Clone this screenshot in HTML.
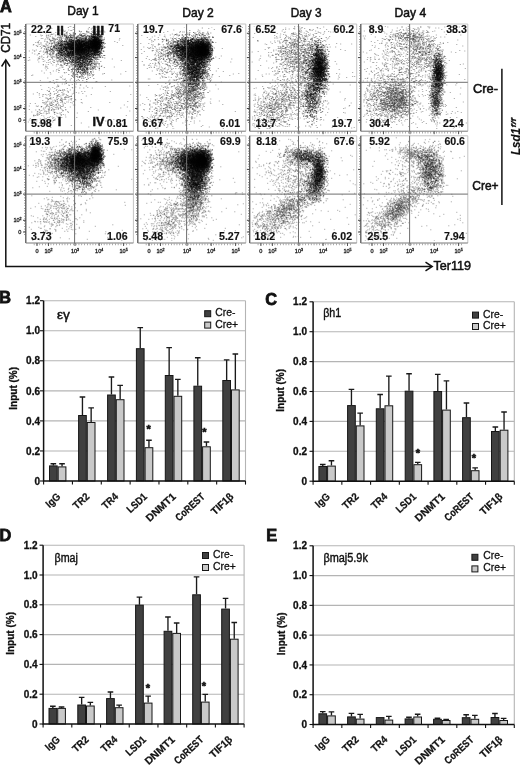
<!DOCTYPE html>
<html><head><meta charset="utf-8"><title>Figure</title>
<style>html,body{margin:0;padding:0;background:#fff}body{width:520px;height:766px;overflow:hidden;font-family:"Liberation Sans", sans-serif}svg{display:block}</style>
</head><body>
<svg width="520" height="766" viewBox="0 0 520 766" font-family='"Liberation Sans", sans-serif' fill="#111"><defs><filter id="b" x="-50%" y="-50%" width="200%" height="200%"><feGaussianBlur stdDeviation="1.6"/></filter><filter id="s" x="0" y="0" width="100%" height="100%"><feGaussianBlur stdDeviation=".38"/></filter></defs>
<g transform="translate(25.8 24.0)">
<ellipse cx="57" cy="22" rx="13" ry="5.5" fill="#000" opacity="0.55" filter="url(#b)"/>
<ellipse cx="69.5" cy="19.5" rx="4.5" ry="6" fill="#000" opacity="0.7" filter="url(#b)"/>
<g filter="url(#s)"><g transform="scale(.5)" fill="none" stroke="#000" stroke-width="2" stroke-opacity=".46">
<path d="M0 6m140 0h2M0 7m84 0h2M0 10m130 0h2M0 13m137 0h2m3 0h2M0 14m121 0h2M0 15m131 0h2M0 16m121 0h2m12 0h2m0 0h2M0 17m136 0h2m5 0h2M0 18m137 0h2m0 0h2M0 19m65 0h2m20 0h2m9 0h2M0 20m63 0h2m12 0h2m55 0h2m7 0h2M0 21m88 0h2m44 0h2M0 22m76 0h2m13 0h2m45 0h2m3 0h2m0 0h2M0 23m86 0h2m22 0h2m12 0h2m8 0h2m8 0h2M0 24m72 0h2m18 0h2m0 0h2m6 0h2m5 0h2m0 0h2m10 0h2m5 0h2m-1 0h2m1 0h2M0 25m72 0h2m31 0h2m5 0h2m17 0h2m2 0h2m2 0h2m4 0h2m0 0h2M0 26m80 0h2m13 0h2m5 0h2m25 0h2m2 0h2m0 0h2m-1 0h2m0 0h2m3 0h2m2 0h2m-1 0h2M0 27m69 0h2m13 0h2m7 0h2m4 0h2m-1 0h2m2 0h2m1 0h2m1 0h2m15 0h2m2 0h2m0 0h2m0 0h2m0 0h2m-1 0h2m0 0h2m5 0h2M0 28m66 0h2m48 0h2m12 0h2m4 0h2m-1 0h2m2 0h2m9 0h2m2 0h2M0 29m106 0h2m6 0h2m3 0h2m10 0h2m9 0h2m0 0h2m-1 0h2M0 30m69 0h2m12 0h2m0 0h2m8 0h2m7 0h2m14 0h2m2 0h2m0 0h2m1 0h2m2 0h2m5 0h2m8 0h2M0 31m89 0h2m-1 0h2m11 0h2m-1 0h2m3 0h2m4 0h2m2 0h2m2 0h2m3 0h2m4 0h2m-1 0h2m1 0h2m1 0h2m6 0h2M0 32m88 0h2m5 0h2m15 0h2m6 0h2m4 0h2m7 0h2m0 0h2m1 0h2m3 0h2m3 0h2m3 0h2M0 33m69 0h2m24 0h2m-1 0h2m3 0h2m4 0h2m10 0h2m0 0h2m2 0h2m0 0h2m0 0h2m1 0h2m0 0h2m1 0h2m1 0h2m-1 0h2m2 0h2m-1 0h2m-1 0h2M0 34m49 0h2m17 0h2m6 0h2m1 0h2m3 0h2m0 0h2m6 0h2m0 0h2m0 0h2m1 0h2m0 0h2m-1 0h2m-1 0h2m-1 0h2m14 0h2m-1 0h2m0 0h2m2 0h2m2 0h2m-1 0h2m0 0h2m0 0h2M0 35m71 0h2m7 0h2m8 0h2m3 0h2m-1 0h2m5 0h2m1 0h2m-1 0h2m1 0h2m-1 0h2m-1 0h2m-1 0h2m0 0h2m1 0h2m6 0h2m0 0h2m2 0h2m0 0h2m-1 0h2m-1 0h2m-1 0h2m-1 0h2m-1 0h2m-1 0h2m0 0h2m1 0h2M0 36m82 0h2m5 0h2m1 0h2m-1 0h2m3 0h2m1 0h2m0 0h2m-1 0h2m-1 0h2m7 0h2m8 0h2m2 0h2m-1 0h2m0 0h2m4 0h2m1 0h2m-1 0h2m-1 0h2m2 0h2M0 37m89 0h2m0 0h2m0 0h2m-1 0h2m9 0h2m2 0h2m14 0h2m1 0h2m-1 0h2m1 0h2m-1 0h2m1 0h2m-1 0h2m3 0h2m-1 0h2m-1 0h2m-1 0h2m-1 0h2m-1 0h2m-1 0h2m1 0h2M0 38m65 0h2m4 0h2m20 0h2m3 0h2m1 0h2m2 0h2m-1 0h2m0 0h2m6 0h2m-1 0h2m5 0h2m3 0h2m-1 0h2m-1 0h2m1 0h2m-1 0h2m-1 0h2m-1 0h2m0 0h2m-1 0h2m3 0h2m-1 0h2m2 0h2m3 0h2M0 39m52 0h2m10 0h2m0 0h2m11 0h2m2 0h2m15 0h2m-1 0h2m0 0h2m-1 0h2m-1 0h2m-1 0h2m-1 0h2m0 0h2m-1 0h2m3 0h2m0 0h2m3 0h2m0 0h2m0 0h2m-1 0h2m-1 0h2m1 0h2m-1 0h2m0 0h2m-1 0h2m-1 0h2m0 0h2m0 0h2m-1 0h2m-1 0h2m-1 0h2m0 0h2m-1 0h2m-1 0h2m1 0h2m6 0h2M0 40m74 0h2m3 0h2m-1 0h2m-1 0h2m0 0h2m1 0h2m0 0h2m1 0h2m-1 0h2m-1 0h2m-1 0h2m-1 0h2m3 0h2m-1 0h2m0 0h2m1 0h2m0 0h2m0 0h2m2 0h2m-1 0h2m0 0h2m0 0h2m1 0h2m0 0h2m-1 0h2m0 0h2m-1 0h2m-1 0h2m0 0h2m0 0h2m-1 0h2m-1 0h2m-1 0h2m-1 0h2m-1 0h2m-1 0h2m0 0h2m-1 0h2m0 0h2m-1 0h2m-1 0h2M0 41m69 0h2m5 0h2m2 0h2m1 0h2m-1 0h2m2 0h2m5 0h2m1 0h2m-1 0h2m-1 0h2m0 0h2m0 0h2m1 0h2m4 0h2m10 0h2m-1 0h2m0 0h2m-1 0h2m0 0h2m-1 0h2m2 0h2m-1 0h2m-1 0h2m-1 0h2m-1 0h2m0 0h2m0 0h2m1 0h2m-1 0h2m-1 0h2m1 0h2M0 42m62 0h2m0 0h2m1 0h2m-1 0h2m0 0h2m-1 0h2m-1 0h2m-1 0h2m2 0h2m5 0h2m7 0h2m4 0h2m2 0h2m2 0h2m1 0h2m4 0h2m2 0h2m2 0h2m0 0h2m3 0h2m1 0h2m-1 0h2m-1 0h2m0 0h2m-1 0h2m-1 0h2m-1 0h2m1 0h2m0 0h2M0 43m67 0h2m-1 0h2m2 0h2m0 0h2m3 0h2m0 0h2m-1 0h2m3 0h2m2 0h2m8 0h2m0 0h2m0 0h2m-1 0h2m1 0h2m-1 0h2m-1 0h2m-1 0h2m1 0h2m2 0h2m6 0h2m5 0h2m-1 0h2m-1 0h2m-1 0h2m-1 0h2m-1 0h2m1 0h2m-1 0h2m3 0h2m-1 0h2M0 44m58 0h2m6 0h2m16 0h2m-1 0h2m3 0h2m-1 0h2m2 0h2m4 0h2m-1 0h2m-1 0h2m4 0h2m2 0h2m-1 0h2m4 0h2m1 0h2m-1 0h2m4 0h2m-1 0h2m-1 0h2m-1 0h2m0 0h2m0 0h2m-1 0h2m-1 0h2m-1 0h2m0 0h2m0 0h2m0 0h2m-1 0h2m-1 0h2m4 0h2M0 45m55 0h2m14 0h2m2 0h2m9 0h2m0 0h2m-1 0h2m1 0h2m2 0h2m-1 0h2m3 0h2m0 0h2m0 0h2m2 0h2m0 0h2m2 0h2m0 0h2m1 0h2m-1 0h2m2 0h2m3 0h2m-1 0h2m-1 0h2m1 0h2m-1 0h2m-1 0h2m0 0h2m2 0h2m4 0h2m-1 0h2M0 46m74 0h2m-1 0h2m-1 0h2m-1 0h2m0 0h2m3 0h2m-1 0h2m1 0h2m-1 0h2m-1 0h2m0 0h2m-1 0h2m2 0h2m4 0h2m3 0h2m-1 0h2m-1 0h2m-1 0h2m-1 0h2m-1 0h2m-1 0h2m-1 0h2m1 0h2m0 0h2m0 0h2m0 0h2m-1 0h2m1 0h2m0 0h2m1 0h2m1 0h2m1 0h2m-1 0h2m-1 0h2m0 0h2m0 0h2m-1 0h2m2 0h2m0 0h2m2 0h2M0 47m54 0h2m9 0h2m5 0h2m1 0h2m4 0h2m3 0h2m-1 0h2m-1 0h2m-1 0h2m3 0h2m3 0h2m-1 0h2m-1 0h2m0 0h2m-1 0h2m1 0h2m-1 0h2m2 0h2m4 0h2m1 0h2m-1 0h2m2 0h2m1 0h2m-1 0h2m-1 0h2m-1 0h2m1 0h2m3 0h2m-1 0h2m-1 0h2m-1 0h2m-1 0h2m0 0h2M0 48m55 0h2m4 0h2m3 0h2m9 0h2m-1 0h2m1 0h2m6 0h2m0 0h2m-1 0h2m0 0h2m6 0h2m1 0h2m-1 0h2m-1 0h2m-1 0h2m6 0h2m0 0h2m0 0h2m1 0h2m-1 0h2m-1 0h2m1 0h2m0 0h2m-1 0h2m0 0h2m-1 0h2m1 0h2m-1 0h2m1 0h2m3 0h2M0 49m53 0h2m9 0h2m3 0h2m3 0h2m3 0h2m10 0h2m0 0h2m0 0h2m0 0h2m-1 0h2m4 0h2m0 0h2m-1 0h2m-1 0h2m0 0h2m-1 0h2m-1 0h2m-1 0h2m0 0h2m2 0h2m0 0h2m0 0h2m0 0h2m0 0h2m2 0h2m-1 0h2m1 0h2m-1 0h2m-1 0h2m-1 0h2m-1 0h2m-1 0h2m0 0h2m0 0h2m0 0h2m2 0h2m0 0h2M0 50m59 0h2m-1 0h2m2 0h2m5 0h2m7 0h2m2 0h2m-1 0h2m0 0h2m-1 0h2m1 0h2m-1 0h2m-1 0h2m2 0h2m-1 0h2m3 0h2m0 0h2m-1 0h2m-1 0h2m1 0h2m2 0h2m-1 0h2m0 0h2m0 0h2m-1 0h2m-1 0h2m-1 0h2m3 0h2m7 0h2m0 0h2m-1 0h2m0 0h2m-1 0h2m-1 0h2m0 0h2M0 51m74 0h2m-1 0h2m9 0h2m3 0h2m-1 0h2m-1 0h2m0 0h2m0 0h2m-1 0h2m3 0h2m-1 0h2m-1 0h2m-1 0h2m0 0h2m0 0h2m-1 0h2m1 0h2m1 0h2m1 0h2m2 0h2m-1 0h2m6 0h2m2 0h2m0 0h2m-1 0h2m2 0h2m4 0h2M0 52m62 0h2m13 0h2m2 0h2m14 0h2m1 0h2m0 0h2m0 0h2m1 0h2m-1 0h2m0 0h2m-1 0h2m2 0h2m3 0h2m-1 0h2m2 0h2m0 0h2m3 0h2m-1 0h2m-1 0h2m-1 0h2m1 0h2m0 0h2m7 0h2M0 53m70 0h2m-1 0h2m6 0h2m-1 0h2m-1 0h2m8 0h2m1 0h2m1 0h2m0 0h2m0 0h2m-1 0h2m0 0h2m2 0h2m-1 0h2m0 0h2m-1 0h2m0 0h2m1 0h2m4 0h2m7 0h2m0 0h2m0 0h2m0 0h2m6 0h2m2 0h2M0 54m66 0h2m9 0h2m16 0h2m2 0h2m0 0h2m-1 0h2m0 0h2m0 0h2m2 0h2m3 0h2m-1 0h2m1 0h2m-1 0h2m2 0h2m1 0h2m-1 0h2m0 0h2m-1 0h2m5 0h2m8 0h2m-1 0h2m0 0h2M0 55m66 0h2m14 0h2m8 0h2m-1 0h2m1 0h2m2 0h2m0 0h2m1 0h2m-1 0h2m2 0h2m0 0h2m0 0h2m1 0h2m5 0h2m4 0h2m2 0h2m0 0h2m17 0h2M0 56m65 0h2m-1 0h2m0 0h2m3 0h2m-1 0h2m4 0h2m2 0h2m2 0h2m-1 0h2m1 0h2m3 0h2m2 0h2m-1 0h2m-1 0h2m-1 0h2m3 0h2m2 0h2m-1 0h2m3 0h2m1 0h2m-1 0h2m0 0h2m1 0h2m-1 0h2m0 0h2m0 0h2m1 0h2m-1 0h2m0 0h2m-1 0h2m1 0h2m-1 0h2m1 0h2M0 57m69 0h2m0 0h2m0 0h2m10 0h2m2 0h2m1 0h2m2 0h2m-1 0h2m0 0h2m2 0h2m-1 0h2m-1 0h2m1 0h2m-1 0h2m0 0h2m1 0h2m0 0h2m-1 0h2m-1 0h2m0 0h2m-1 0h2m1 0h2m1 0h2m8 0h2m5 0h2M0 58m67 0h2m0 0h2m12 0h2m0 0h2m-1 0h2m1 0h2m2 0h2m0 0h2m6 0h2m-1 0h2m1 0h2m0 0h2m3 0h2m-1 0h2m11 0h2m5 0h2m4 0h2m6 0h2M0 59m61 0h2m1 0h2m11 0h2m-1 0h2m2 0h2m3 0h2m3 0h2m-1 0h2m5 0h2m1 0h2m19 0h2m0 0h2m0 0h2m1 0h2m9 0h2m3 0h2m1 0h2M0 60m70 0h2m5 0h2m-1 0h2m1 0h2m2 0h2m-1 0h2m5 0h2m0 0h2m-1 0h2m0 0h2m0 0h2m0 0h2m1 0h2m-1 0h2m-1 0h2m-1 0h2m1 0h2m1 0h2m1 0h2m4 0h2m6 0h2m-1 0h2m-1 0h2m-1 0h2m1 0h2m7 0h2m0 0h2M0 61m47 0h2m12 0h2m5 0h2m3 0h2m20 0h2m-1 0h2m5 0h2m-1 0h2m1 0h2m0 0h2m2 0h2m0 0h2m0 0h2m2 0h2m-1 0h2m1 0h2m0 0h2m3 0h2m2 0h2m-1 0h2m0 0h2m0 0h2m-1 0h2m-1 0h2m0 0h2m-1 0h2M0 62m49 0h2m15 0h2m2 0h2m2 0h2m1 0h2m2 0h2m-1 0h2m6 0h2m0 0h2m0 0h2m-1 0h2m-1 0h2m3 0h2m-1 0h2m-1 0h2m1 0h2m0 0h2m1 0h2m7 0h2m0 0h2m9 0h2m2 0h2m0 0h2m0 0h2M0 63m71 0h2m5 0h2m3 0h2m-1 0h2m-1 0h2m2 0h2m0 0h2m15 0h2m0 0h2m3 0h2m0 0h2m0 0h2m-1 0h2m0 0h2m7 0h2m1 0h2m3 0h2M0 64m72 0h2m9 0h2m6 0h2m4 0h2m5 0h2m0 0h2m0 0h2m9 0h2m5 0h2m0 0h2m-1 0h2m8 0h2M0 65m43 0h2m16 0h2m4 0h2m0 0h2m6 0h2m0 0h2m9 0h2m-1 0h2m9 0h2m5 0h2m3 0h2m-1 0h2m-1 0h2m-1 0h2m-1 0h2m1 0h2m0 0h2m0 0h2m2 0h2m1 0h2M0 66m51 0h2m25 0h2m6 0h2m-1 0h2m6 0h2m9 0h2m1 0h2m-1 0h2m5 0h2m14 0h2m9 0h2M0 67m83 0h2m2 0h2m0 0h2m3 0h2m-1 0h2m-1 0h2m8 0h2m3 0h2m-1 0h2m3 0h2m0 0h2m4 0h2m0 0h2m5 0h2m-1 0h2m4 0h2m0 0h2m3 0h2M0 68m73 0h2m13 0h2m3 0h2m3 0h2m2 0h2m1 0h2m-1 0h2m4 0h2m-1 0h2m6 0h2m12 0h2M0 69m78 0h2m6 0h2m1 0h2m8 0h2m6 0h2m0 0h2m-1 0h2m0 0h2m7 0h2m3 0h2m0 0h2m6 0h2M0 70m77 0h2m0 0h2m3 0h2m1 0h2m4 0h2m-1 0h2m7 0h2m3 0h2m9 0h2m22 0h2M0 71m75 0h2m12 0h2m-1 0h2m6 0h2m3 0h2m-1 0h2m2 0h2m4 0h2m-1 0h2m8 0h2m5 0h2m4 0h2M0 72m65 0h2m5 0h2m6 0h2m13 0h2m1 0h2m1 0h2m0 0h2m2 0h2m2 0h2m11 0h2m2 0h2m-1 0h2m0 0h2M0 73m85 0h2m4 0h2m2 0h2m2 0h2m7 0h2m-1 0h2m0 0h2m2 0h2m4 0h2m-1 0h2m12 0h2M0 74m82 0h2m3 0h2m13 0h2m8 0h2m15 0h2m2 0h2M0 75m68 0h2m17 0h2m3 0h2m3 0h2m9 0h2m9 0h2m1 0h2M0 76m75 0h2m12 0h2m1 0h2m3 0h2m4 0h2m8 0h2m11 0h2m2 0h2M0 77m91 0h2m-1 0h2m8 0h2m1 0h2m1 0h2m5 0h2m5 0h2m2 0h2M0 78m78 0h2m4 0h2m12 0h2m7 0h2m12 0h2M0 79m96 0h2m1 0h2m7 0h2m0 0h2m-1 0h2m-1 0h2m11 0h2m4 0h2M0 80m76 0h2m4 0h2m28 0h2M0 81m90 0h2m2 0h2m5 0h2m1 0h2m2 0h2m-1 0h2m5 0h2m10 0h2M0 82m105 0h2m5 0h2m2 0h2m1 0h2m2 0h2M0 83m95 0h2m5 0h2m3 0h2m15 0h2M0 84m91 0h2m17 0h2m3 0h2m5 0h2m13 0h2M0 85m99 0h2m1 0h2m3 0h2m8 0h2m16 0h2M0 86m96 0h2m-1 0h2m-1 0h2m1 0h2m4 0h2m-1 0h2m2 0h2m22 0h2m0 0h2M0 87m109 0h2m5 0h2m1 0h2m2 0h2M0 88m105 0h2m13 0h2m5 0h2M0 89m84 0h2m23 0h2m10 0h2m12 0h2M0 90m93 0h2m8 0h2m3 0h2m12 0h2M0 91m99 0h2m2 0h2m3 0h2m5 0h2m0 0h2m2 0h2M0 92m101 0h2m9 0h2m2 0h2m-1 0h2M0 93m86 0h2m4 0h2m17 0h2m-1 0h2m5 0h2M0 94m113 0h2M0 95m100 0h2m3 0h2m9 0h2m11 0h2M0 96m101 0h2m1 0h2m2 0h2m3 0h2m1 0h2m6 0h2m4 0h2M0 97m115 0h2M0 98m94 0h2m16 0h2M0 99m118 0h2m6 0h2M0 100m113 0h2m11 0h2M0 101m102 0h2m6 0h2m7 0h2m2 0h2M0 102m94 0h2m20 0h2M0 104m92 0h2M0 107m118 0h2M0 109m124 0h2m9 0h2M0 113m106 0h2M0 116m139 0h2M0 124m120 0h2"/>
<path d="M0 7m126 0h2m15 0h2M0 10m124 0h2m17 0h2M0 11m142 0h2M0 14m155 0h2M0 15m121 0h2m18 0h2m0 0h2M0 16m122 0h2m14 0h2M0 17m124 0h2m6 0h2m1 0h2M0 18m80 0h2m27 0h2M0 19m130 0h2m11 0h2M0 20m118 0h2m10 0h2m4 0h2m3 0h2M0 21m73 0h2m19 0h2m2 0h2m10 0h2m20 0h2m3 0h2m0 0h2m2 0h2M0 22m66 0h2m4 0h2m15 0h2m5 0h2m20 0h2m11 0h2m2 0h2m3 0h2m8 0h2M0 23m76 0h2m10 0h2m19 0h2m2 0h2m0 0h2m-1 0h2m4 0h2m14 0h2m-1 0h2m4 0h2M0 24m111 0h2m1 0h2m12 0h2m2 0h2m9 0h2m0 0h2m1 0h2m-1 0h2m0 0h2M0 25m115 0h2m2 0h2m-1 0h2m2 0h2m1 0h2m1 0h2m-1 0h2m-1 0h2m0 0h2m0 0h2m8 0h2m4 0h2M0 26m84 0h2m5 0h2m23 0h2m2 0h2m12 0h2m1 0h2m-1 0h2m1 0h2m7 0h2m-1 0h2M0 27m82 0h2m5 0h2m0 0h2m10 0h2m2 0h2m-1 0h2m3 0h2m3 0h2m14 0h2m-1 0h2m1 0h2m-1 0h2m0 0h2m-1 0h2M0 28m86 0h2m3 0h2m26 0h2m-1 0h2m3 0h2m1 0h2m1 0h2m-1 0h2m2 0h2m-1 0h2m2 0h2m7 0h2M0 29m99 0h2m6 0h2m-1 0h2m9 0h2m18 0h2m-1 0h2m1 0h2M0 30m103 0h2m5 0h2m2 0h2m14 0h2m3 0h2m0 0h2m1 0h2m-1 0h2m1 0h2M0 31m81 0h2m19 0h2m1 0h2m16 0h2m1 0h2m2 0h2m1 0h2m2 0h2m0 0h2m-1 0h2m-1 0h2m1 0h2m1 0h2m0 0h2M0 32m67 0h2m13 0h2m2 0h2m2 0h2m2 0h2m8 0h2m0 0h2m1 0h2m8 0h2m1 0h2m4 0h2m4 0h2m-1 0h2m-1 0h2m0 0h2m4 0h2m-1 0h2M0 33m72 0h2m6 0h2m10 0h2m-1 0h2m5 0h2m-1 0h2m0 0h2m19 0h2m1 0h2m-1 0h2m5 0h2m0 0h2m-1 0h2m-1 0h2m4 0h2m2 0h2m-1 0h2m-1 0h2M0 34m72 0h2m12 0h2m2 0h2m2 0h2m-1 0h2m4 0h2m-1 0h2m-1 0h2m1 0h2m-1 0h2m2 0h2m0 0h2m10 0h2m2 0h2m-1 0h2m2 0h2m-1 0h2m-1 0h2m-1 0h2m-1 0h2m0 0h2m-1 0h2m0 0h2m2 0h2M0 35m67 0h2m1 0h2m8 0h2m6 0h2m-1 0h2m0 0h2m4 0h2m-1 0h2m1 0h2m-1 0h2m2 0h2m3 0h2m-1 0h2m-1 0h2m-1 0h2m-1 0h2m0 0h2m4 0h2m0 0h2m-1 0h2m0 0h2m-1 0h2m-1 0h2m-1 0h2m-1 0h2m2 0h2m2 0h2m-1 0h2m-1 0h2m-1 0h2m3 0h2m0 0h2M0 36m80 0h2m-1 0h2m1 0h2m5 0h2m5 0h2m4 0h2m10 0h2m-1 0h2m1 0h2m-1 0h2m-1 0h2m2 0h2m-1 0h2m2 0h2m-1 0h2m-1 0h2m-1 0h2m0 0h2m-1 0h2m-1 0h2m-1 0h2m0 0h2m0 0h2m0 0h2m-1 0h2m0 0h2m0 0h2m0 0h2M0 37m60 0h2m2 0h2m-1 0h2m10 0h2m13 0h2m-1 0h2m-1 0h2m1 0h2m-1 0h2m-1 0h2m4 0h2m-1 0h2m2 0h2m-1 0h2m0 0h2m4 0h2m8 0h2m0 0h2m-1 0h2m3 0h2m-1 0h2m-1 0h2m-1 0h2m-1 0h2m0 0h2m-1 0h2m0 0h2m1 0h2m0 0h2m-1 0h2M0 38m68 0h2m-1 0h2m6 0h2m2 0h2m0 0h2m2 0h2m0 0h2m17 0h2m6 0h2m0 0h2m-1 0h2m-1 0h2m-1 0h2m0 0h2m3 0h2m4 0h2m1 0h2m-1 0h2m0 0h2m-1 0h2m3 0h2m-1 0h2m0 0h2m-1 0h2M0 39m71 0h2m3 0h2m6 0h2m0 0h2m-1 0h2m0 0h2m-1 0h2m2 0h2m1 0h2m0 0h2m0 0h2m3 0h2m-1 0h2m0 0h2m3 0h2m1 0h2m4 0h2m-1 0h2m2 0h2m-1 0h2m0 0h2m-1 0h2m0 0h2m-1 0h2m-1 0h2m-1 0h2m2 0h2m-1 0h2m-1 0h2m1 0h2m2 0h2M0 40m57 0h2m17 0h2m6 0h2m1 0h2m0 0h2m5 0h2m4 0h2m0 0h2m-1 0h2m-1 0h2m2 0h2m1 0h2m-1 0h2m0 0h2m-1 0h2m1 0h2m-1 0h2m0 0h2m7 0h2m0 0h2m-1 0h2m-1 0h2m0 0h2m1 0h2m-1 0h2m-1 0h2m-1 0h2m-1 0h2m1 0h2m-1 0h2M0 41m71 0h2m-1 0h2m8 0h2m2 0h2m-1 0h2m1 0h2m-1 0h2m0 0h2m1 0h2m-1 0h2m-1 0h2m1 0h2m2 0h2m-1 0h2m-1 0h2m1 0h2m-1 0h2m1 0h2m0 0h2m-1 0h2m-1 0h2m1 0h2m0 0h2m3 0h2m0 0h2m0 0h2m1 0h2m-1 0h2m-1 0h2m-1 0h2m1 0h2m-1 0h2m0 0h2m-1 0h2m-1 0h2m0 0h2m-1 0h2M0 42m51 0h2m13 0h2m3 0h2m1 0h2m2 0h2m-1 0h2m3 0h2m-1 0h2m1 0h2m0 0h2m1 0h2m3 0h2m-1 0h2m-1 0h2m0 0h2m2 0h2m-1 0h2m-1 0h2m-1 0h2m0 0h2m2 0h2m-1 0h2m1 0h2m0 0h2m5 0h2m2 0h2m-1 0h2m-1 0h2m-1 0h2m0 0h2m-1 0h2m-1 0h2m-1 0h2m3 0h2m0 0h2m-1 0h2M0 43m68 0h2m8 0h2m9 0h2m0 0h2m-1 0h2m4 0h2m-1 0h2m0 0h2m2 0h2m2 0h2m0 0h2m6 0h2m1 0h2m0 0h2m6 0h2m0 0h2m0 0h2m0 0h2m-1 0h2m-1 0h2m0 0h2M0 44m70 0h2m7 0h2m5 0h2m-1 0h2m0 0h2m4 0h2m-1 0h2m-1 0h2m4 0h2m-1 0h2m2 0h2m-1 0h2m-1 0h2m1 0h2m0 0h2m-1 0h2m2 0h2m1 0h2m0 0h2m1 0h2m-1 0h2m1 0h2m0 0h2m0 0h2m-1 0h2m0 0h2m0 0h2m0 0h2m-1 0h2m0 0h2M0 45m56 0h2m3 0h2m26 0h2m-1 0h2m1 0h2m2 0h2m-1 0h2m0 0h2m2 0h2m0 0h2m1 0h2m-1 0h2m0 0h2m-1 0h2m-1 0h2m2 0h2m1 0h2m1 0h2m-1 0h2m2 0h2m0 0h2m-1 0h2m-1 0h2m0 0h2m-1 0h2m-1 0h2m-1 0h2m-1 0h2m0 0h2m-1 0h2m2 0h2m0 0h2m2 0h2M0 46m70 0h2m6 0h2m0 0h2m5 0h2m1 0h2m2 0h2m7 0h2m2 0h2m-1 0h2m2 0h2m4 0h2m0 0h2m5 0h2m0 0h2m-1 0h2m-1 0h2m-1 0h2m-1 0h2m2 0h2m0 0h2m0 0h2m1 0h2m6 0h2M0 47m62 0h2m0 0h2m13 0h2m0 0h2m-1 0h2m5 0h2m2 0h2m0 0h2m-1 0h2m3 0h2m1 0h2m1 0h2m-1 0h2m2 0h2m3 0h2m0 0h2m-1 0h2m1 0h2m-1 0h2m0 0h2m-1 0h2m-1 0h2m-1 0h2m-1 0h2m3 0h2m0 0h2m0 0h2m-1 0h2m0 0h2m0 0h2m-1 0h2m-1 0h2m1 0h2m0 0h2m0 0h2M0 48m65 0h2m4 0h2m1 0h2m3 0h2m-1 0h2m-1 0h2m0 0h2m0 0h2m1 0h2m-1 0h2m-1 0h2m2 0h2m-1 0h2m-1 0h2m-1 0h2m-1 0h2m-1 0h2m-1 0h2m-1 0h2m-1 0h2m0 0h2m3 0h2m6 0h2m-1 0h2m4 0h2m0 0h2m3 0h2m-1 0h2m0 0h2m-1 0h2m-1 0h2m2 0h2m4 0h2M0 49m60 0h2m8 0h2m4 0h2m3 0h2m1 0h2m1 0h2m1 0h2m-1 0h2m-1 0h2m0 0h2m-1 0h2m-1 0h2m-1 0h2m0 0h2m1 0h2m1 0h2m0 0h2m0 0h2m2 0h2m-1 0h2m8 0h2m3 0h2m-1 0h2m2 0h2m5 0h2m-1 0h2m0 0h2m0 0h2m-1 0h2m1 0h2m0 0h2M0 50m69 0h2m6 0h2m0 0h2m0 0h2m5 0h2m-1 0h2m0 0h2m1 0h2m1 0h2m-1 0h2m3 0h2m-1 0h2m1 0h2m-1 0h2m3 0h2m0 0h2m1 0h2m-1 0h2m0 0h2m3 0h2m-1 0h2m4 0h2m-1 0h2m1 0h2m6 0h2m-1 0h2M0 51m41 0h2m8 0h2m17 0h2m7 0h2m10 0h2m-1 0h2m2 0h2m2 0h2m-1 0h2m0 0h2m0 0h2m-1 0h2m-1 0h2m-1 0h2m2 0h2m-1 0h2m-1 0h2m1 0h2m-1 0h2m2 0h2m0 0h2m-1 0h2m1 0h2m0 0h2m1 0h2m0 0h2m2 0h2m-1 0h2m0 0h2m-1 0h2m-1 0h2M0 52m52 0h2m14 0h2m15 0h2m-1 0h2m-1 0h2m-1 0h2m3 0h2m0 0h2m-1 0h2m3 0h2m-1 0h2m1 0h2m0 0h2m-1 0h2m2 0h2m3 0h2m4 0h2m-1 0h2m1 0h2m1 0h2m0 0h2m1 0h2m0 0h2m-1 0h2m1 0h2m0 0h2M0 53m47 0h2m4 0h2m9 0h2m1 0h2m0 0h2m0 0h2m-1 0h2m-1 0h2m4 0h2m14 0h2m0 0h2m0 0h2m-1 0h2m1 0h2m0 0h2m2 0h2m-1 0h2m1 0h2m2 0h2m9 0h2m0 0h2m5 0h2m-1 0h2m-1 0h2m-1 0h2m-1 0h2m1 0h2M0 54m61 0h2m8 0h2m2 0h2m0 0h2m1 0h2m0 0h2m6 0h2m6 0h2m2 0h2m-1 0h2m-1 0h2m-1 0h2m5 0h2m4 0h2m5 0h2m-1 0h2m3 0h2m0 0h2m3 0h2m-1 0h2m-1 0h2m0 0h2M0 55m55 0h2m11 0h2m5 0h2m-1 0h2m3 0h2m-1 0h2m1 0h2m2 0h2m2 0h2m-1 0h2m2 0h2m-1 0h2m-1 0h2m1 0h2m-1 0h2m3 0h2m2 0h2m-1 0h2m0 0h2m3 0h2m-1 0h2m0 0h2m3 0h2m3 0h2m-1 0h2m2 0h2m1 0h2m1 0h2M0 56m69 0h2m-1 0h2m9 0h2m1 0h2m2 0h2m2 0h2m-1 0h2m0 0h2m1 0h2m-1 0h2m0 0h2m0 0h2m1 0h2m1 0h2m1 0h2m0 0h2m0 0h2m-1 0h2m1 0h2m-1 0h2m2 0h2m3 0h2m2 0h2m-1 0h2m-1 0h2m-1 0h2m-1 0h2m0 0h2m1 0h2m3 0h2M0 57m42 0h2m27 0h2m4 0h2m6 0h2m1 0h2m-1 0h2m-1 0h2m2 0h2m0 0h2m-1 0h2m7 0h2m1 0h2m-1 0h2m-1 0h2m0 0h2m1 0h2m-1 0h2m0 0h2m-1 0h2m2 0h2m-1 0h2m-1 0h2m0 0h2m0 0h2m3 0h2m0 0h2m4 0h2m4 0h2M0 58m69 0h2m12 0h2m1 0h2m4 0h2m-1 0h2m1 0h2m-1 0h2m1 0h2m0 0h2m0 0h2m5 0h2m0 0h2m1 0h2m1 0h2m10 0h2m4 0h2m3 0h2m1 0h2M0 59m73 0h2m7 0h2m3 0h2m3 0h2m-1 0h2m-1 0h2m4 0h2m-1 0h2m2 0h2m0 0h2m-1 0h2m1 0h2m0 0h2m0 0h2m-1 0h2m5 0h2m-1 0h2m9 0h2m0 0h2m-1 0h2m1 0h2m3 0h2M0 60m75 0h2m0 0h2m2 0h2m-1 0h2m-1 0h2m0 0h2m0 0h2m-1 0h2m0 0h2m-1 0h2m4 0h2m-1 0h2m2 0h2m-1 0h2m2 0h2m2 0h2m0 0h2m-1 0h2m-1 0h2m4 0h2m-1 0h2m-1 0h2m0 0h2m2 0h2m-1 0h2m8 0h2m6 0h2M0 61m60 0h2m13 0h2m8 0h2m5 0h2m0 0h2m3 0h2m-1 0h2m6 0h2m2 0h2m5 0h2m2 0h2m1 0h2m-1 0h2m0 0h2m2 0h2m-1 0h2m0 0h2M0 62m80 0h2m-1 0h2m0 0h2m-1 0h2m-1 0h2m0 0h2m0 0h2m0 0h2m0 0h2m2 0h2m2 0h2m1 0h2m0 0h2m2 0h2m-1 0h2m0 0h2m6 0h2m8 0h2m3 0h2m9 0h2M0 63m71 0h2m7 0h2m4 0h2m6 0h2m6 0h2m2 0h2m1 0h2m3 0h2m-1 0h2m2 0h2m0 0h2m2 0h2m4 0h2m2 0h2m17 0h2m0 0h2M0 64m48 0h2m19 0h2m2 0h2m25 0h2m-1 0h2m4 0h2m3 0h2m1 0h2m-1 0h2m1 0h2m0 0h2m-1 0h2m1 0h2m0 0h2m10 0h2m6 0h2M0 65m84 0h2m1 0h2m9 0h2m-1 0h2m8 0h2m-1 0h2m1 0h2m0 0h2m6 0h2m1 0h2m-1 0h2m-1 0h2m1 0h2M0 66m53 0h2m1 0h2m4 0h2m16 0h2m11 0h2m6 0h2m5 0h2m-1 0h2m0 0h2m1 0h2m-1 0h2m-1 0h2m10 0h2m2 0h2m5 0h2m6 0h2m-1 0h2m-1 0h2m1 0h2M0 67m80 0h2m3 0h2m5 0h2m3 0h2m9 0h2m-1 0h2m1 0h2m9 0h2m0 0h2m8 0h2m0 0h2M0 68m67 0h2m8 0h2m29 0h2m-1 0h2m-1 0h2m-1 0h2m0 0h2m3 0h2m1 0h2m1 0h2m1 0h2m6 0h2m4 0h2m14 0h2M0 69m89 0h2m10 0h2m1 0h2m-1 0h2m-1 0h2m6 0h2m0 0h2m-1 0h2m2 0h2m-1 0h2m0 0h2m12 0h2M0 70m89 0h2m1 0h2m-1 0h2m9 0h2m8 0h2m0 0h2m2 0h2m7 0h2m-1 0h2m5 0h2M0 71m98 0h2m1 0h2m4 0h2m5 0h2m4 0h2m0 0h2m0 0h2m-1 0h2m-1 0h2m2 0h2m-1 0h2m0 0h2m7 0h2m1 0h2M0 72m81 0h2m9 0h2m1 0h2m4 0h2m4 0h2m7 0h2m10 0h2M0 73m78 0h2m11 0h2m7 0h2m3 0h2m0 0h2m4 0h2m6 0h2M0 74m72 0h2m6 0h2m24 0h2m7 0h2m1 0h2m3 0h2M0 75m91 0h2m-1 0h2m1 0h2m1 0h2m4 0h2m8 0h2m10 0h2m1 0h2M0 76m68 0h2m17 0h2m9 0h2m1 0h2m-1 0h2m0 0h2m7 0h2m1 0h2m0 0h2m6 0h2m1 0h2m-1 0h2m9 0h2M0 77m90 0h2m2 0h2m-1 0h2m0 0h2m1 0h2m0 0h2m4 0h2m5 0h2m0 0h2m1 0h2m3 0h2M0 78m78 0h2m3 0h2m14 0h2m13 0h2m2 0h2m-1 0h2m5 0h2m8 0h2M0 79m80 0h2m19 0h2m17 0h2m12 0h2M0 80m77 0h2m13 0h2m-1 0h2m5 0h2m9 0h2m3 0h2m9 0h2m-1 0h2m0 0h2m0 0h2m3 0h2m6 0h2M0 81m105 0h2m5 0h2m1 0h2m7 0h2m2 0h2m8 0h2M0 82m70 0h2m28 0h2m3 0h2m-1 0h2m21 0h2M0 83m71 0h2m26 0h2m14 0h2m6 0h2m8 0h2M0 84m97 0h2m2 0h2m6 0h2m0 0h2m7 0h2m6 0h2m21 0h2M0 85m98 0h2m3 0h2m2 0h2m1 0h2m1 0h2m2 0h2M0 86m93 0h2m23 0h2m8 0h2M0 87m73 0h2m30 0h2m0 0h2m10 0h2m0 0h2M0 88m103 0h2m8 0h2m7 0h2m11 0h2M0 89m101 0h2m43 0h2M0 90m103 0h2m8 0h2m7 0h2m3 0h2m0 0h2m4 0h2M0 91m91 0h2M0 92m98 0h2m10 0h2m9 0h2m-1 0h2m22 0h2M0 93m101 0h2m2 0h2m8 0h2M0 94m104 0h2M0 95m96 0h2m22 0h2M0 96m122 0h2M0 97m94 0h2m11 0h2M0 98m108 0h2m-1 0h2M0 99m156 0h2M0 100m153 0h2M0 101m85 0h2M0 102m110 0h2M0 103m91 0h2m41 0h2M0 104m132 0h2M0 105m93 0h2m7 0h2M0 106m107 0h2m5 0h2M0 111m104 0h2m15 0h2M0 112m88 0h2M0 113m113 0h2M0 117m117 0h2"/>
<path d="M0 7m94 0h2M0 12m143 0h2M0 15m110 0h2m33 0h2M0 16m146 0h2m1 0h2m6 0h2M0 17m94 0h2m40 0h2M0 19m98 0h2m13 0h2m0 0h2m12 0h2m6 0h2M0 20m82 0h2m55 0h2m-1 0h2m4 0h2m4 0h2M0 21m77 0h2m61 0h2m-1 0h2m2 0h2m5 0h2M0 22m108 0h2m1 0h2m17 0h2m15 0h2m0 0h2M0 23m117 0h2m8 0h2m14 0h2M0 24m77 0h2m26 0h2m25 0h2m1 0h2m-1 0h2m1 0h2m8 0h2M0 25m69 0h2m9 0h2m20 0h2m8 0h2m12 0h2m8 0h2m0 0h2m3 0h2M0 26m67 0h2m10 0h2m7 0h2m10 0h2m12 0h2m6 0h2m2 0h2m4 0h2m1 0h2m-1 0h2m4 0h2M0 27m63 0h2m16 0h2m5 0h2m1 0h2m44 0h2m-1 0h2m0 0h2m0 0h2M0 28m53 0h2m16 0h2m8 0h2m3 0h2m4 0h2m1 0h2m4 0h2m6 0h2m9 0h2m9 0h2m0 0h2m3 0h2m3 0h2m0 0h2m1 0h2M0 29m81 0h2m-1 0h2m13 0h2m1 0h2m9 0h2m0 0h2m2 0h2m2 0h2m7 0h2m4 0h2m-1 0h2m0 0h2m-1 0h2m-1 0h2m2 0h2M0 30m91 0h2m19 0h2m0 0h2m1 0h2m16 0h2m-1 0h2m-1 0h2m-1 0h2m-1 0h2m1 0h2m1 0h2m-1 0h2m-1 0h2m-1 0h2M0 31m70 0h2m17 0h2m0 0h2m4 0h2m6 0h2m-1 0h2m16 0h2m1 0h2m4 0h2m0 0h2m1 0h2m-1 0h2m-1 0h2m-1 0h2m-1 0h2m0 0h2m0 0h2m8 0h2M0 32m56 0h2m0 0h2m31 0h2m13 0h2m9 0h2m0 0h2m5 0h2m4 0h2m-1 0h2m1 0h2m-1 0h2m-1 0h2m1 0h2m-1 0h2m2 0h2m-1 0h2m4 0h2M0 33m65 0h2m13 0h2m3 0h2m0 0h2m0 0h2m1 0h2m-1 0h2m8 0h2m0 0h2m3 0h2m4 0h2m-1 0h2m-1 0h2m9 0h2m-1 0h2m6 0h2m0 0h2m1 0h2m4 0h2m-1 0h2m1 0h2M0 34m48 0h2m21 0h2m14 0h2m0 0h2m5 0h2m-1 0h2m-1 0h2m2 0h2m2 0h2m-1 0h2m-1 0h2m1 0h2m1 0h2m3 0h2m5 0h2m1 0h2m0 0h2m2 0h2m-1 0h2m0 0h2m1 0h2m-1 0h2m-1 0h2m0 0h2m-1 0h2m-1 0h2M0 35m70 0h2m3 0h2m-1 0h2m9 0h2m1 0h2m8 0h2m9 0h2m0 0h2m1 0h2m2 0h2m2 0h2m4 0h2m1 0h2m2 0h2m-1 0h2m3 0h2m-1 0h2m2 0h2M0 36m72 0h2m7 0h2m0 0h2m1 0h2m-1 0h2m0 0h2m1 0h2m1 0h2m-1 0h2m-1 0h2m7 0h2m2 0h2m1 0h2m5 0h2m0 0h2m0 0h2m4 0h2m-1 0h2m0 0h2m-1 0h2m-1 0h2m-1 0h2m-1 0h2m-1 0h2m0 0h2m-1 0h2m2 0h2m4 0h2m2 0h2M0 37m75 0h2m6 0h2m2 0h2m1 0h2m3 0h2m5 0h2m1 0h2m-1 0h2m2 0h2m7 0h2m1 0h2m1 0h2m1 0h2m2 0h2m2 0h2m-1 0h2m1 0h2m-1 0h2m-1 0h2m1 0h2m1 0h2m-1 0h2m-1 0h2m2 0h2M0 38m79 0h2m1 0h2m5 0h2m9 0h2m2 0h2m1 0h2m-1 0h2m0 0h2m-1 0h2m0 0h2m0 0h2m-1 0h2m1 0h2m-1 0h2m-1 0h2m0 0h2m0 0h2m4 0h2m-1 0h2m-1 0h2m0 0h2m0 0h2m-1 0h2m-1 0h2m-1 0h2m-1 0h2m0 0h2m0 0h2m-1 0h2m2 0h2m2 0h2m-1 0h2M0 39m46 0h2m36 0h2m2 0h2m2 0h2m0 0h2m0 0h2m1 0h2m5 0h2m-1 0h2m5 0h2m0 0h2m-1 0h2m6 0h2m1 0h2m1 0h2m-1 0h2m3 0h2m-1 0h2m1 0h2m0 0h2m6 0h2M0 40m69 0h2m6 0h2m-1 0h2m4 0h2m4 0h2m-1 0h2m6 0h2m-1 0h2m5 0h2m-1 0h2m-1 0h2m0 0h2m4 0h2m0 0h2m-1 0h2m10 0h2m-1 0h2m1 0h2m1 0h2m0 0h2m1 0h2m-1 0h2m0 0h2m7 0h2M0 41m59 0h2m17 0h2m0 0h2m0 0h2m4 0h2m-1 0h2m3 0h2m7 0h2m4 0h2m-1 0h2m-1 0h2m0 0h2m0 0h2m-1 0h2m4 0h2m0 0h2m-1 0h2m2 0h2m7 0h2m0 0h2m-1 0h2m-1 0h2m-1 0h2m0 0h2m2 0h2M0 42m59 0h2m0 0h2m6 0h2m4 0h2m9 0h2m3 0h2m-1 0h2m1 0h2m-1 0h2m-1 0h2m-1 0h2m-1 0h2m1 0h2m0 0h2m3 0h2m1 0h2m-1 0h2m1 0h2m-1 0h2m-1 0h2m5 0h2m1 0h2m-1 0h2m-1 0h2m-1 0h2m0 0h2m0 0h2m-1 0h2m-1 0h2m0 0h2m-1 0h2m-1 0h2m0 0h2m-1 0h2M0 43m62 0h2m3 0h2m8 0h2m6 0h2m3 0h2m1 0h2m0 0h2m-1 0h2m4 0h2m-1 0h2m-1 0h2m1 0h2m-1 0h2m2 0h2m1 0h2m0 0h2m-1 0h2m0 0h2m-1 0h2m-1 0h2m-1 0h2m-1 0h2m2 0h2m0 0h2m-1 0h2m0 0h2m-1 0h2m-1 0h2m1 0h2m-1 0h2m-1 0h2m0 0h2m-1 0h2m2 0h2m-1 0h2m0 0h2m-1 0h2M0 44m92 0h2m0 0h2m2 0h2m-1 0h2m3 0h2m-1 0h2m0 0h2m2 0h2m0 0h2m-1 0h2m6 0h2m-1 0h2m-1 0h2m0 0h2m-1 0h2m-1 0h2m1 0h2m-1 0h2m-1 0h2m-1 0h2m0 0h2m-1 0h2m-1 0h2m-1 0h2m0 0h2m-1 0h2m-1 0h2m-1 0h2m-1 0h2m-1 0h2m-1 0h2M0 45m74 0h2m1 0h2m4 0h2m-1 0h2m0 0h2m-1 0h2m1 0h2m-1 0h2m4 0h2m2 0h2m-1 0h2m1 0h2m-1 0h2m1 0h2m0 0h2m0 0h2m7 0h2m1 0h2m-1 0h2m-1 0h2m3 0h2m-1 0h2m-1 0h2m-1 0h2m0 0h2m-1 0h2m-1 0h2m-1 0h2m2 0h2m3 0h2M0 46m77 0h2m5 0h2m-1 0h2m6 0h2m3 0h2m3 0h2m-1 0h2m3 0h2m-1 0h2m-1 0h2m2 0h2m2 0h2m2 0h2m0 0h2m-1 0h2m-1 0h2m-1 0h2m3 0h2m0 0h2m0 0h2m0 0h2m-1 0h2m-1 0h2m-1 0h2m0 0h2m-1 0h2m0 0h2m-1 0h2m-1 0h2M0 47m68 0h2m3 0h2m1 0h2m1 0h2m2 0h2m-1 0h2m0 0h2m-1 0h2m3 0h2m3 0h2m-1 0h2m1 0h2m1 0h2m-1 0h2m-1 0h2m-1 0h2m-1 0h2m0 0h2m-1 0h2m-1 0h2m-1 0h2m1 0h2m-1 0h2m0 0h2m0 0h2m-1 0h2m-1 0h2m6 0h2m-1 0h2m0 0h2m0 0h2m-1 0h2m-1 0h2m-1 0h2m0 0h2m-1 0h2m-1 0h2m1 0h2M0 48m78 0h2m0 0h2m-1 0h2m2 0h2m0 0h2m0 0h2m-1 0h2m-1 0h2m-1 0h2m0 0h2m0 0h2m0 0h2m1 0h2m-1 0h2m2 0h2m1 0h2m3 0h2m0 0h2m0 0h2m-1 0h2m0 0h2m-1 0h2m-1 0h2m0 0h2m0 0h2m9 0h2m0 0h2m0 0h2m-1 0h2m1 0h2m0 0h2M0 49m49 0h2m20 0h2m1 0h2m2 0h2m1 0h2m1 0h2m6 0h2m1 0h2m-1 0h2m2 0h2m-1 0h2m2 0h2m-1 0h2m0 0h2m1 0h2m-1 0h2m-1 0h2m2 0h2m4 0h2m0 0h2m-1 0h2m-1 0h2m3 0h2m2 0h2m-1 0h2m-1 0h2m-1 0h2m-1 0h2m0 0h2m1 0h2m-1 0h2m4 0h2m-1 0h2M0 50m75 0h2m2 0h2m-1 0h2m1 0h2m2 0h2m2 0h2m0 0h2m-1 0h2m1 0h2m-1 0h2m-1 0h2m-1 0h2m-1 0h2m-1 0h2m-1 0h2m0 0h2m3 0h2m-1 0h2m0 0h2m0 0h2m0 0h2m-1 0h2m0 0h2m0 0h2m0 0h2m3 0h2m1 0h2m0 0h2m1 0h2m-1 0h2m0 0h2m-1 0h2m-1 0h2m1 0h2m-1 0h2M0 51m67 0h2m0 0h2m9 0h2m3 0h2m0 0h2m1 0h2m0 0h2m-1 0h2m0 0h2m1 0h2m2 0h2m-1 0h2m-1 0h2m-1 0h2m-1 0h2m2 0h2m0 0h2m-1 0h2m3 0h2m0 0h2m3 0h2m-1 0h2m-1 0h2m4 0h2m7 0h2m7 0h2M0 52m62 0h2m3 0h2m3 0h2m-1 0h2m3 0h2m9 0h2m1 0h2m-1 0h2m2 0h2m1 0h2m0 0h2m-1 0h2m0 0h2m-1 0h2m-1 0h2m1 0h2m0 0h2m-1 0h2m-1 0h2m-1 0h2m-1 0h2m0 0h2m-1 0h2m0 0h2m3 0h2m0 0h2m3 0h2m1 0h2m-1 0h2m-1 0h2m1 0h2m-1 0h2M0 53m54 0h2m4 0h2m2 0h2m0 0h2m4 0h2m4 0h2m-1 0h2m-1 0h2m6 0h2m6 0h2m-1 0h2m-1 0h2m-1 0h2m3 0h2m-1 0h2m-1 0h2m-1 0h2m2 0h2m3 0h2m-1 0h2m-1 0h2m0 0h2m-1 0h2m0 0h2m-1 0h2m-1 0h2m-1 0h2m4 0h2m3 0h2m2 0h2m-1 0h2m-1 0h2m0 0h2M0 54m66 0h2m0 0h2m2 0h2m6 0h2m1 0h2m1 0h2m-1 0h2m1 0h2m1 0h2m1 0h2m1 0h2m-1 0h2m-1 0h2m-1 0h2m0 0h2m1 0h2m0 0h2m0 0h2m-1 0h2m0 0h2m1 0h2m2 0h2m0 0h2m-1 0h2m1 0h2m0 0h2m-1 0h2m0 0h2m1 0h2m0 0h2m-1 0h2m-1 0h2m0 0h2m-1 0h2m-1 0h2m1 0h2M0 55m76 0h2m11 0h2m1 0h2m0 0h2m2 0h2m3 0h2m-1 0h2m0 0h2m0 0h2m0 0h2m0 0h2m-1 0h2m1 0h2m-1 0h2m-1 0h2m3 0h2m0 0h2m-1 0h2m2 0h2m-1 0h2m0 0h2m2 0h2m0 0h2m0 0h2m2 0h2m-1 0h2m-1 0h2M0 56m53 0h2m16 0h2m2 0h2m0 0h2m-1 0h2m5 0h2m1 0h2m0 0h2m0 0h2m-1 0h2m-1 0h2m0 0h2m-1 0h2m-1 0h2m2 0h2m1 0h2m-1 0h2m-1 0h2m0 0h2m7 0h2m-1 0h2m0 0h2m5 0h2m-1 0h2m19 0h2M0 57m68 0h2m12 0h2m0 0h2m3 0h2m1 0h2m-1 0h2m1 0h2m0 0h2m-1 0h2m-1 0h2m0 0h2m1 0h2m0 0h2m1 0h2m-1 0h2m1 0h2m-1 0h2m2 0h2m0 0h2m10 0h2m2 0h2m0 0h2m0 0h2m-1 0h2M0 58m64 0h2m6 0h2m14 0h2m8 0h2m5 0h2m6 0h2m6 0h2m0 0h2m-1 0h2m2 0h2m2 0h2m-1 0h2m2 0h2m1 0h2m0 0h2m6 0h2M0 59m64 0h2m0 0h2m16 0h2m-1 0h2m0 0h2m0 0h2m2 0h2m1 0h2m-1 0h2m4 0h2m-1 0h2m-1 0h2m4 0h2m-1 0h2m0 0h2m1 0h2m-1 0h2m-1 0h2m0 0h2m-1 0h2m-1 0h2m-1 0h2m-1 0h2m-1 0h2m3 0h2m1 0h2m2 0h2m-1 0h2M0 60m69 0h2m-1 0h2m3 0h2m2 0h2m6 0h2m1 0h2m-1 0h2m3 0h2m10 0h2m-1 0h2m-1 0h2m1 0h2m-1 0h2m0 0h2m0 0h2m-1 0h2m-1 0h2m-1 0h2m2 0h2m0 0h2m1 0h2m3 0h2m-1 0h2M0 61m71 0h2m6 0h2m0 0h2m-1 0h2m8 0h2m3 0h2m0 0h2m8 0h2m4 0h2m-1 0h2m1 0h2m-1 0h2m7 0h2m6 0h2m1 0h2m1 0h2m-1 0h2M0 62m53 0h2m7 0h2m5 0h2m7 0h2m6 0h2m-1 0h2m-1 0h2m0 0h2m8 0h2m2 0h2m1 0h2m4 0h2m1 0h2m6 0h2m9 0h2m5 0h2M0 63m60 0h2m11 0h2m1 0h2m4 0h2m1 0h2m7 0h2m11 0h2m0 0h2m0 0h2m4 0h2m-1 0h2m3 0h2m-1 0h2m-1 0h2m-1 0h2m22 0h2M0 64m65 0h2m0 0h2m3 0h2m6 0h2m1 0h2m6 0h2m0 0h2m-1 0h2m-1 0h2m0 0h2m2 0h2m0 0h2m-1 0h2m3 0h2m1 0h2m0 0h2m3 0h2m-1 0h2m1 0h2m0 0h2m7 0h2m0 0h2m5 0h2m1 0h2M0 65m82 0h2m1 0h2m14 0h2m1 0h2m8 0h2m5 0h2m4 0h2m5 0h2m-1 0h2M0 66m84 0h2m13 0h2m4 0h2m6 0h2m1 0h2m-1 0h2m7 0h2m-1 0h2m2 0h2m-1 0h2m12 0h2M0 67m67 0h2m0 0h2m5 0h2m4 0h2m6 0h2m2 0h2m2 0h2m1 0h2m0 0h2m1 0h2m0 0h2m0 0h2m3 0h2m0 0h2m-1 0h2m0 0h2m8 0h2m2 0h2M0 68m71 0h2m30 0h2m1 0h2m-1 0h2m0 0h2m4 0h2m0 0h2m1 0h2m1 0h2m6 0h2m7 0h2M0 69m69 0h2m2 0h2m2 0h2m16 0h2m1 0h2m2 0h2m0 0h2m3 0h2m8 0h2m1 0h2m6 0h2M0 70m77 0h2m9 0h2m10 0h2m3 0h2m7 0h2m4 0h2m7 0h2m0 0h2m8 0h2M0 71m46 0h2m19 0h2m26 0h2m7 0h2m6 0h2m4 0h2m7 0h2M0 72m55 0h2m11 0h2m5 0h2m16 0h2m14 0h2m0 0h2m-1 0h2m4 0h2m12 0h2M0 73m78 0h2m14 0h2m0 0h2m2 0h2m-1 0h2m5 0h2m2 0h2m-1 0h2M0 74m105 0h2m-1 0h2m18 0h2m3 0h2M0 75m88 0h2m3 0h2m1 0h2m0 0h2m1 0h2m3 0h2m-1 0h2m3 0h2m3 0h2m2 0h2m4 0h2m2 0h2m3 0h2M0 76m71 0h2m23 0h2m0 0h2m1 0h2m2 0h2m7 0h2m2 0h2M0 77m95 0h2m5 0h2m0 0h2m3 0h2m5 0h2m-1 0h2m13 0h2M0 78m114 0h2m1 0h2M0 79m83 0h2m5 0h2m13 0h2m3 0h2m10 0h2m6 0h2m7 0h2m2 0h2m1 0h2M0 80m98 0h2m4 0h2m1 0h2m3 0h2m3 0h2m2 0h2m1 0h2m-1 0h2m9 0h2m2 0h2M0 81m96 0h2m10 0h2M0 82m111 0h2m-1 0h2m-1 0h2m1 0h2m2 0h2m4 0h2m2 0h2m14 0h2M0 83m80 0h2m17 0h2m6 0h2m-1 0h2m1 0h2m5 0h2m-1 0h2m2 0h2M0 84m73 0h2m14 0h2m7 0h2m4 0h2m3 0h2m-1 0h2m5 0h2m3 0h2M0 85m106 0h2m1 0h2m1 0h2m-1 0h2m1 0h2M0 86m86 0h2m11 0h2m6 0h2m37 0h2M0 87m115 0h2m15 0h2M0 88m103 0h2m20 0h2m6 0h2M0 89m105 0h2m2 0h2m4 0h2m4 0h2m-1 0h2m-1 0h2M0 90m93 0h2m10 0h2m5 0h2m1 0h2m0 0h2m2 0h2m7 0h2m0 0h2M0 91m75 0h2m7 0h2m17 0h2m2 0h2m2 0h2m16 0h2m8 0h2M0 92m116 0h2m5 0h2m8 0h2M0 93m119 0h2M0 95m92 0h2m10 0h2m3 0h2M0 96m105 0h2m11 0h2m1 0h2M0 97m110 0h2m2 0h2m6 0h2m-1 0h2m4 0h2M0 98m107 0h2m10 0h2M0 99m94 0h2m13 0h2M0 100m101 0h2m11 0h2m7 0h2M0 101m99 0h2m31 0h2M0 102m128 0h2M0 103m96 0h2m14 0h2m9 0h2M0 105m96 0h2m2 0h2m11 0h2M0 106m106 0h2m3 0h2M0 107m95 0h2m6 0h2M0 109m111 0h2m2 0h2M0 111m121 0h2M0 115m141 0h2"/>
<path d="M0 8m139 0h2M0 11m138 0h2M0 13m150 0h2M0 14m106 0h2m25 0h2m11 0h2M0 15m107 0h2m41 0h2M0 17m81 0h2m52 0h2m0 0h2M0 18m126 0h2M0 19m94 0h2M0 20m70 0h2m35 0h2m7 0h2m3 0h2M0 21m146 0h2m4 0h2M0 22m107 0h2m21 0h2m1 0h2m7 0h2m0 0h2m3 0h2M0 23m91 0h2m12 0h2m35 0h2m-1 0h2M0 24m81 0h2m0 0h2m10 0h2m22 0h2m16 0h2m7 0h2m-1 0h2M0 25m84 0h2m41 0h2m5 0h2m0 0h2m2 0h2m-1 0h2m6 0h2m-1 0h2M0 26m89 0h2m43 0h2m1 0h2m-1 0h2m2 0h2m0 0h2m-1 0h2m-1 0h2m-1 0h2M0 27m81 0h2m2 0h2m9 0h2m22 0h2m6 0h2m2 0h2m0 0h2m-1 0h2m-1 0h2m5 0h2m-1 0h2M0 28m100 0h2m-1 0h2m15 0h2m5 0h2m-1 0h2m5 0h2m0 0h2m1 0h2m4 0h2m3 0h2M0 29m88 0h2m11 0h2m22 0h2m-1 0h2m1 0h2m5 0h2m-1 0h2m3 0h2M0 30m46 0h2m12 0h2m9 0h2m5 0h2m6 0h2m4 0h2m6 0h2m8 0h2m0 0h2m4 0h2m-1 0h2m8 0h2m0 0h2m3 0h2m-1 0h2m4 0h2m-1 0h2M0 31m62 0h2m14 0h2m6 0h2m13 0h2m7 0h2m4 0h2m1 0h2m-1 0h2m5 0h2m2 0h2m4 0h2m1 0h2m0 0h2m9 0h2M0 32m81 0h2m3 0h2m-1 0h2m21 0h2m20 0h2m1 0h2m1 0h2m3 0h2M0 33m53 0h2m36 0h2m4 0h2m4 0h2m-1 0h2m0 0h2m-1 0h2m3 0h2m0 0h2m-1 0h2m9 0h2m0 0h2m3 0h2m-1 0h2m-1 0h2m0 0h2m1 0h2m2 0h2m-1 0h2m0 0h2m-1 0h2M0 34m67 0h2m3 0h2m3 0h2m9 0h2m1 0h2m2 0h2m-1 0h2m-1 0h2m-1 0h2m3 0h2m2 0h2m0 0h2m0 0h2m0 0h2m1 0h2m6 0h2m-1 0h2m3 0h2m-1 0h2m-1 0h2m0 0h2m-1 0h2m3 0h2m0 0h2m0 0h2m-1 0h2m-1 0h2m2 0h2M0 35m64 0h2m9 0h2m0 0h2m6 0h2m4 0h2m9 0h2m4 0h2m10 0h2m7 0h2m-1 0h2m1 0h2m-1 0h2m1 0h2m-1 0h2m-1 0h2m-1 0h2m0 0h2m-1 0h2m-1 0h2m0 0h2m0 0h2m0 0h2M0 36m96 0h2m0 0h2m-1 0h2m8 0h2m2 0h2m-1 0h2m-1 0h2m1 0h2m5 0h2m-1 0h2m-1 0h2m1 0h2m-1 0h2m2 0h2m-1 0h2m-1 0h2m0 0h2m0 0h2m-1 0h2m-1 0h2m-1 0h2m-1 0h2m-1 0h2m-1 0h2M0 37m69 0h2m2 0h2m9 0h2m4 0h2m2 0h2m1 0h2m0 0h2m-1 0h2m1 0h2m2 0h2m1 0h2m7 0h2m-1 0h2m0 0h2m-1 0h2m-1 0h2m2 0h2m3 0h2m1 0h2m0 0h2m-1 0h2m0 0h2m0 0h2m8 0h2M0 38m70 0h2m10 0h2m-1 0h2m0 0h2m2 0h2m3 0h2m1 0h2m0 0h2m4 0h2m-1 0h2m0 0h2m-1 0h2m-1 0h2m-1 0h2m0 0h2m4 0h2m-1 0h2m1 0h2m2 0h2m-1 0h2m-1 0h2m0 0h2m0 0h2m-1 0h2m-1 0h2m-1 0h2m-1 0h2m0 0h2m0 0h2m1 0h2m0 0h2m1 0h2m0 0h2M0 39m64 0h2m17 0h2m1 0h2m-1 0h2m3 0h2m-1 0h2m1 0h2m3 0h2m12 0h2m3 0h2m7 0h2m1 0h2m-1 0h2m-1 0h2m-1 0h2m-1 0h2m0 0h2m2 0h2m0 0h2m-1 0h2m6 0h2M0 40m57 0h2m1 0h2m11 0h2m2 0h2m3 0h2m1 0h2m-1 0h2m3 0h2m0 0h2m0 0h2m2 0h2m-1 0h2m2 0h2m4 0h2m0 0h2m5 0h2m-1 0h2m-1 0h2m4 0h2m-1 0h2m-1 0h2m0 0h2m1 0h2m-1 0h2m0 0h2m0 0h2m-1 0h2m-1 0h2m-1 0h2m0 0h2m0 0h2m0 0h2m-1 0h2M0 41m72 0h2m7 0h2m-1 0h2m1 0h2m3 0h2m10 0h2m2 0h2m-1 0h2m0 0h2m0 0h2m0 0h2m2 0h2m6 0h2m0 0h2m2 0h2m2 0h2m2 0h2m-1 0h2m-1 0h2m-1 0h2m-1 0h2m2 0h2M0 42m61 0h2m1 0h2m4 0h2m11 0h2m-1 0h2m0 0h2m-1 0h2m-1 0h2m2 0h2m-1 0h2m0 0h2m2 0h2m0 0h2m0 0h2m1 0h2m2 0h2m-1 0h2m-1 0h2m0 0h2m-1 0h2m0 0h2m-1 0h2m4 0h2m-1 0h2m10 0h2m0 0h2m-1 0h2m-1 0h2m0 0h2m0 0h2m-1 0h2m-1 0h2m4 0h2M0 43m58 0h2m9 0h2m0 0h2m10 0h2m0 0h2m1 0h2m-1 0h2m3 0h2m3 0h2m2 0h2m2 0h2m2 0h2m0 0h2m1 0h2m-1 0h2m-1 0h2m0 0h2m0 0h2m1 0h2m1 0h2m-1 0h2m3 0h2m-1 0h2m-1 0h2m-1 0h2m-1 0h2m-1 0h2m-1 0h2m-1 0h2m0 0h2m2 0h2M0 44m65 0h2m11 0h2m1 0h2m-1 0h2m-1 0h2m6 0h2m2 0h2m1 0h2m-1 0h2m-1 0h2m1 0h2m0 0h2m1 0h2m-1 0h2m-1 0h2m0 0h2m1 0h2m2 0h2m-1 0h2m1 0h2m1 0h2m1 0h2m-1 0h2m-1 0h2m1 0h2m-1 0h2m-1 0h2m0 0h2m-1 0h2m-1 0h2m0 0h2m-1 0h2m1 0h2m-1 0h2m0 0h2m0 0h2m0 0h2M0 45m51 0h2m16 0h2m2 0h2m1 0h2m0 0h2m0 0h2m0 0h2m0 0h2m0 0h2m1 0h2m2 0h2m1 0h2m-1 0h2m-1 0h2m2 0h2m3 0h2m-1 0h2m-1 0h2m1 0h2m0 0h2m1 0h2m1 0h2m2 0h2m0 0h2m1 0h2m5 0h2m0 0h2m0 0h2m-1 0h2m1 0h2m1 0h2M0 46m72 0h2m11 0h2m2 0h2m4 0h2m-1 0h2m3 0h2m-1 0h2m-1 0h2m-1 0h2m-1 0h2m-1 0h2m1 0h2m-1 0h2m7 0h2m-1 0h2m2 0h2m-1 0h2m-1 0h2m3 0h2m-1 0h2m-1 0h2m-1 0h2m-1 0h2m0 0h2m-1 0h2m3 0h2m-1 0h2m-1 0h2m-1 0h2m9 0h2M0 47m45 0h2m12 0h2m15 0h2m-1 0h2m2 0h2m-1 0h2m4 0h2m0 0h2m0 0h2m0 0h2m-1 0h2m-1 0h2m1 0h2m3 0h2m1 0h2m-1 0h2m1 0h2m3 0h2m2 0h2m0 0h2m0 0h2m0 0h2m-1 0h2m-1 0h2m-1 0h2m0 0h2m1 0h2m0 0h2m0 0h2m0 0h2m0 0h2m-1 0h2m1 0h2m0 0h2m7 0h2M0 48m43 0h2m21 0h2m0 0h2m-1 0h2m-1 0h2m7 0h2m2 0h2m0 0h2m0 0h2m0 0h2m0 0h2m-1 0h2m0 0h2m-1 0h2m-1 0h2m0 0h2m0 0h2m1 0h2m0 0h2m-1 0h2m-1 0h2m-1 0h2m0 0h2m-1 0h2m-1 0h2m4 0h2m0 0h2m2 0h2m-1 0h2m-1 0h2m-1 0h2m0 0h2m2 0h2m-1 0h2m2 0h2m-1 0h2m-1 0h2m3 0h2m8 0h2M0 49m64 0h2m5 0h2m1 0h2m-1 0h2m1 0h2m2 0h2m-1 0h2m-1 0h2m0 0h2m-1 0h2m0 0h2m0 0h2m1 0h2m3 0h2m1 0h2m2 0h2m0 0h2m2 0h2m1 0h2m-1 0h2m7 0h2m-1 0h2m2 0h2m0 0h2m-1 0h2m5 0h2m0 0h2m0 0h2m0 0h2m0 0h2m0 0h2M0 50m53 0h2m14 0h2m3 0h2m3 0h2m5 0h2m0 0h2m-1 0h2m-1 0h2m-1 0h2m1 0h2m-1 0h2m0 0h2m1 0h2m-1 0h2m-1 0h2m0 0h2m0 0h2m3 0h2m0 0h2m-1 0h2m-1 0h2m-1 0h2m-1 0h2m10 0h2m-1 0h2m1 0h2m-1 0h2m1 0h2m-1 0h2m-1 0h2m-1 0h2m-1 0h2m0 0h2m1 0h2M0 51m49 0h2m-1 0h2m18 0h2m0 0h2m1 0h2m3 0h2m-1 0h2m-1 0h2m3 0h2m-1 0h2m0 0h2m2 0h2m0 0h2m-1 0h2m-1 0h2m0 0h2m2 0h2m-1 0h2m-1 0h2m-1 0h2m-1 0h2m-1 0h2m0 0h2m0 0h2m-1 0h2m0 0h2m-1 0h2m1 0h2m9 0h2m0 0h2m2 0h2m1 0h2m-1 0h2m2 0h2m0 0h2m1 0h2M0 52m57 0h2m14 0h2m3 0h2m10 0h2m3 0h2m2 0h2m-1 0h2m-1 0h2m6 0h2m-1 0h2m-1 0h2m-1 0h2m-1 0h2m3 0h2m2 0h2m-1 0h2m3 0h2m0 0h2m4 0h2m1 0h2m1 0h2m-1 0h2m6 0h2M0 53m58 0h2m20 0h2m3 0h2m3 0h2m2 0h2m-1 0h2m-1 0h2m5 0h2m-1 0h2m2 0h2m-1 0h2m-1 0h2m-1 0h2m-1 0h2m-1 0h2m0 0h2m-1 0h2m1 0h2m-1 0h2m1 0h2m4 0h2m-1 0h2m0 0h2m0 0h2m-1 0h2m-1 0h2m1 0h2M0 54m82 0h2m1 0h2m2 0h2m3 0h2m-1 0h2m0 0h2m-1 0h2m-1 0h2m-1 0h2m0 0h2m-1 0h2m-1 0h2m-1 0h2m-1 0h2m1 0h2m-1 0h2m-1 0h2m-1 0h2m-1 0h2m-1 0h2m-1 0h2m-1 0h2m-1 0h2m-1 0h2m1 0h2m1 0h2m-1 0h2m1 0h2m3 0h2m0 0h2m-1 0h2m0 0h2m1 0h2m-1 0h2m0 0h2m8 0h2m-1 0h2M0 55m67 0h2m5 0h2m12 0h2m-1 0h2m0 0h2m-1 0h2m1 0h2m-1 0h2m8 0h2m0 0h2m-1 0h2m-1 0h2m3 0h2m3 0h2m-1 0h2m4 0h2m11 0h2m2 0h2m0 0h2M0 56m65 0h2m7 0h2m1 0h2m4 0h2m0 0h2m0 0h2m-1 0h2m1 0h2m4 0h2m2 0h2m-1 0h2m1 0h2m-1 0h2m0 0h2m0 0h2m-1 0h2m0 0h2m0 0h2m-1 0h2m2 0h2m1 0h2m1 0h2m3 0h2m2 0h2m-1 0h2m2 0h2m-1 0h2m-1 0h2m-1 0h2m1 0h2m0 0h2M0 57m80 0h2m2 0h2m8 0h2m-1 0h2m2 0h2m0 0h2m-1 0h2m6 0h2m1 0h2m9 0h2m-1 0h2m10 0h2m-1 0h2m-1 0h2m-1 0h2m1 0h2m-1 0h2m-1 0h2M0 58m70 0h2m-1 0h2m3 0h2m-1 0h2m5 0h2m1 0h2m2 0h2m1 0h2m0 0h2m0 0h2m1 0h2m0 0h2m-1 0h2m-1 0h2m0 0h2m0 0h2m-1 0h2m-1 0h2m0 0h2m1 0h2m-1 0h2m3 0h2m10 0h2m0 0h2m-1 0h2m7 0h2m1 0h2M0 59m53 0h2m24 0h2m1 0h2m-1 0h2m-1 0h2m3 0h2m-1 0h2m1 0h2m0 0h2m-1 0h2m-1 0h2m2 0h2m1 0h2m0 0h2m1 0h2m-1 0h2m1 0h2m1 0h2m0 0h2m1 0h2m0 0h2m-1 0h2m4 0h2m0 0h2m-1 0h2m17 0h2M0 60m65 0h2m-1 0h2m7 0h2m1 0h2m2 0h2m11 0h2m0 0h2m1 0h2m-1 0h2m0 0h2m2 0h2m-1 0h2m7 0h2m2 0h2m6 0h2m0 0h2m-1 0h2m-1 0h2m1 0h2m-1 0h2m-1 0h2m0 0h2m1 0h2m0 0h2M0 61m86 0h2m1 0h2m2 0h2m0 0h2m-1 0h2m2 0h2m0 0h2m-1 0h2m-1 0h2m-1 0h2m-1 0h2m-1 0h2m2 0h2m0 0h2m2 0h2m0 0h2m-1 0h2m1 0h2m1 0h2m-1 0h2m-1 0h2m15 0h2M0 62m73 0h2m0 0h2m9 0h2m-1 0h2m4 0h2m2 0h2m8 0h2m0 0h2m0 0h2m-1 0h2m5 0h2m-1 0h2m0 0h2m4 0h2m0 0h2m5 0h2m-1 0h2m4 0h2M0 63m64 0h2m3 0h2m1 0h2m11 0h2m2 0h2m1 0h2m1 0h2m7 0h2m0 0h2m1 0h2m13 0h2m-1 0h2m3 0h2m-1 0h2m1 0h2m2 0h2m-1 0h2m2 0h2m0 0h2m-1 0h2m9 0h2M0 64m83 0h2m-1 0h2m1 0h2m4 0h2m1 0h2m-1 0h2m0 0h2m5 0h2m0 0h2m11 0h2m5 0h2M0 65m75 0h2m1 0h2m10 0h2m8 0h2m7 0h2m-1 0h2m-1 0h2m0 0h2m-1 0h2m5 0h2m-1 0h2M0 66m80 0h2m3 0h2m1 0h2m4 0h2m2 0h2m-1 0h2m-1 0h2m1 0h2m2 0h2m2 0h2m2 0h2m3 0h2m-1 0h2m2 0h2m3 0h2m3 0h2m5 0h2M0 67m63 0h2m-1 0h2m10 0h2m10 0h2m-1 0h2m10 0h2m-1 0h2m0 0h2m-1 0h2m2 0h2m3 0h2m1 0h2m3 0h2m13 0h2m-1 0h2m13 0h2M0 68m61 0h2m30 0h2m11 0h2m2 0h2m0 0h2m5 0h2m7 0h2M0 69m84 0h2m3 0h2m7 0h2m0 0h2m3 0h2m2 0h2m2 0h2m1 0h2m-1 0h2m4 0h2M0 70m78 0h2m18 0h2m3 0h2m-1 0h2m-1 0h2m1 0h2m-1 0h2m2 0h2m-1 0h2m-1 0h2m7 0h2m1 0h2m10 0h2M0 71m81 0h2m2 0h2m5 0h2m7 0h2m-1 0h2m0 0h2m10 0h2m-1 0h2m-1 0h2m1 0h2m2 0h2M0 72m71 0h2m20 0h2m13 0h2m9 0h2m1 0h2m3 0h2m-1 0h2m4 0h2m4 0h2M0 73m75 0h2m3 0h2m4 0h2m6 0h2m2 0h2m2 0h2m9 0h2m3 0h2m-1 0h2M0 74m92 0h2m4 0h2m14 0h2m-1 0h2m0 0h2m3 0h2m-1 0h2m3 0h2M0 75m74 0h2m6 0h2m22 0h2m14 0h2m-1 0h2m3 0h2m1 0h2m16 0h2M0 76m98 0h2m0 0h2m1 0h2m0 0h2m3 0h2m-1 0h2m0 0h2m2 0h2m2 0h2m2 0h2m0 0h2m-1 0h2m7 0h2m0 0h2m2 0h2M0 77m102 0h2m3 0h2m-1 0h2m-1 0h2m1 0h2M0 78m63 0h2m21 0h2m1 0h2m8 0h2m1 0h2m1 0h2m-1 0h2m2 0h2m1 0h2m0 0h2m9 0h2m6 0h2M0 79m82 0h2m24 0h2m3 0h2m3 0h2m0 0h2m2 0h2m5 0h2M0 80m104 0h2m0 0h2m1 0h2m0 0h2m5 0h2m3 0h2m15 0h2M0 81m95 0h2m0 0h2m3 0h2m0 0h2m3 0h2m6 0h2m1 0h2m0 0h2m-1 0h2m11 0h2M0 82m83 0h2m13 0h2m4 0h2m-1 0h2m8 0h2m10 0h2M0 83m92 0h2m3 0h2m13 0h2m15 0h2M0 84m86 0h2m14 0h2m15 0h2m18 0h2m-1 0h2M0 85m107 0h2m1 0h2m5 0h2m12 0h2m17 0h2M0 86m105 0h2m0 0h2m0 0h2m5 0h2m5 0h2m8 0h2m1 0h2m5 0h2M0 87m96 0h2m10 0h2m0 0h2m44 0h2M0 88m101 0h2m2 0h2m5 0h2m0 0h2m3 0h2m11 0h2m4 0h2M0 89m95 0h2m49 0h2M0 90m92 0h2m10 0h2m2 0h2m3 0h2m-1 0h2m1 0h2M0 91m90 0h2m3 0h2m0 0h2m5 0h2m15 0h2m1 0h2M0 92m100 0h2m8 0h2m1 0h2M0 93m113 0h2M0 94m116 0h2m-1 0h2m4 0h2M0 95m118 0h2m9 0h2M0 96m90 0h2m22 0h2m18 0h2M0 97m102 0h2m-1 0h2m11 0h2m-1 0h2M0 98m102 0h2m8 0h2m5 0h2M0 99m122 0h2m6 0h2M0 100m93 0h2m18 0h2m0 0h2M0 101m135 0h2M0 102m103 0h2M0 105m108 0h2M0 106m123 0h2M0 107m107 0h2m19 0h2M0 110m78 0h2M0 113m101 0h2M0 115m97 0h2m22 0h2M0 122m108 0h2"/>
<path stroke-opacity=".37" d="M0 4m86 0h2M0 5m89 0h2M0 6m96 0h2M0 8m32 0h2m98 0h2M0 9m39 0h2m10 0h2M0 11m94 0h2M0 12m62 0h2m3 0h2m3 0h2m0 0h2m9 0h2m57 0h2M0 13m89 0h2m0 0h2M0 14m75 0h2m1 0h2M0 15m35 0h2m39 0h2m47 0h2M0 16m82 0h2m60 0h2M0 17m59 0h2M0 18m39 0h2M0 19m64 0h2m30 0h2M0 20m51 0h2m2 0h2m6 0h2m15 0h2M0 21m50 0h2m0 0h2m53 0h2M0 22m8 0h2m19 0h2m10 0h2m2 0h2m1 0h2m9 0h2m12 0h2m35 0h2M0 23m32 0h2m10 0h2m20 0h2m0 0h2m8 0h2m-1 0h2m-1 0h2m5 0h2m5 0h2M0 24m30 0h2m8 0h2m-1 0h2m15 0h2M0 25m19 0h2m27 0h2m26 0h2m10 0h2m-1 0h2M0 26m45 0h2m5 0h2m10 0h2m13 0h2m0 0h2M0 27m41 0h2M0 28m43 0h2m10 0h2m9 0h2m1 0h2m0 0h2m2 0h2M0 29m30 0h2m1 0h2m18 0h2m0 0h2m0 0h2m19 0h2m107 0h2M0 30m39 0h2m2 0h2m17 0h2m19 0h2M0 31m47 0h2m6 0h2m1 0h2m6 0h2M0 32m37 0h2m8 0h2m3 0h2m55 0h2m75 0h2M0 33m26 0h2m21 0h2m0 0h2m98 0h2M0 34m55 0h2m13 0h2M0 35m24 0h2m11 0h2m3 0h2m13 0h2m3 0h2m13 0h2m-1 0h2m-1 0h2m6 0h2m2 0h2m84 0h2M0 36m41 0h2m7 0h2m3 0h2m-1 0h2m10 0h2m11 0h2m0 0h2M0 37m19 0h2m2 0h2m-1 0h2m17 0h2m12 0h2m3 0h2m15 0h2m16 0h2m1 0h2m80 0h2M0 38m28 0h2m0 0h2m15 0h2m3 0h2m0 0h2m1 0h2m7 0h2m0 0h2m1 0h2m-1 0h2m11 0h2m28 0h2M0 39m50 0h2m10 0h2m0 0h2m0 0h2m7 0h2m3 0h2M0 40m24 0h2m13 0h2m0 0h2m7 0h2m17 0h2m0 0h2m0 0h2m17 0h2M0 41m15 0h2m10 0h2m34 0h2m-1 0h2m12 0h2m-1 0h2m4 0h2M0 42m14 0h2m15 0h2m7 0h2m3 0h2m21 0h2m-1 0h2m2 0h2m10 0h2M0 43m20 0h2m12 0h2m6 0h2m11 0h2m3 0h2m8 0h2m15 0h2m2 0h2m0 0h2m13 0h2m83 0h2M0 44m23 0h2m11 0h2m-1 0h2m11 0h2m3 0h2m-1 0h2m0 0h2m6 0h2m-1 0h2m4 0h2m10 0h2m7 0h2m12 0h2M0 45m22 0h2m4 0h2m4 0h2m1 0h2m0 0h2m7 0h2m0 0h2m3 0h2m4 0h2m-1 0h2m1 0h2m1 0h2m0 0h2m5 0h2m1 0h2m4 0h2M0 46m43 0h2m0 0h2m9 0h2m-1 0h2m2 0h2m7 0h2m3 0h2m3 0h2M0 47m31 0h2m6 0h2m7 0h2m4 0h2m0 0h2m-1 0h2m11 0h2m4 0h2m-1 0h2m-1 0h2m12 0h2m-1 0h2m32 0h2M0 48m49 0h2m5 0h2m9 0h2m2 0h2m12 0h2M0 49m30 0h2m4 0h2m2 0h2m7 0h2m6 0h2m0 0h2m-1 0h2m1 0h2m1 0h2m0 0h2m0 0h2m-1 0h2M0 50m40 0h2m3 0h2m10 0h2m1 0h2m-1 0h2m0 0h2m10 0h2m0 0h2m2 0h2M0 51m37 0h2m2 0h2m2 0h2m4 0h2m-1 0h2m1 0h2m7 0h2m1 0h2m2 0h2m4 0h2m3 0h2m5 0h2m0 0h2m18 0h2m7 0h2M0 52m13 0h2m5 0h2m21 0h2m4 0h2m12 0h2m2 0h2m6 0h2m2 0h2m1 0h2m10 0h2M0 53m47 0h2m14 0h2m2 0h2m4 0h2m6 0h2m0 0h2m40 0h2M0 54m6 0h2m8 0h2m-1 0h2m10 0h2m4 0h2m3 0h2m-1 0h2m-1 0h2m0 0h2m0 0h2m-1 0h2m0 0h2m1 0h2m1 0h2m5 0h2m6 0h2m-1 0h2m10 0h2M0 55m27 0h2m13 0h2m6 0h2m4 0h2m9 0h2m15 0h2M0 56m34 0h2m3 0h2m-1 0h2m0 0h2m6 0h2m10 0h2m-1 0h2m0 0h2m6 0h2m5 0h2m0 0h2m3 0h2m10 0h2M0 57m39 0h2m7 0h2m3 0h2m0 0h2m8 0h2m0 0h2m0 0h2m0 0h2m14 0h2m3 0h2m12 0h2m0 0h2M0 58m12 0h2m23 0h2m3 0h2m12 0h2m6 0h2m8 0h2m12 0h2m7 0h2m3 0h2M0 59m25 0h2m-1 0h2m15 0h2m1 0h2m0 0h2m4 0h2m7 0h2m5 0h2m1 0h2m18 0h2m3 0h2M0 60m17 0h2m6 0h2m14 0h2m6 0h2m2 0h2m-1 0h2m4 0h2m2 0h2m0 0h2m3 0h2m6 0h2m8 0h2M0 61m35 0h2m10 0h2m19 0h2m14 0h2m5 0h2M0 62m22 0h2m19 0h2m5 0h2m6 0h2m9 0h2m-1 0h2m0 0h2m2 0h2m6 0h2M0 63m61 0h2m1 0h2m11 0h2m13 0h2m4 0h2M0 64m31 0h2M0 65m27 0h2m26 0h2m22 0h2m5 0h2M0 66m31 0h2m19 0h2m5 0h2m-1 0h2m12 0h2m21 0h2M0 67m6 0h2m27 0h2m5 0h2m6 0h2m19 0h2m15 0h2m13 0h2M0 68m24 0h2m1 0h2m33 0h2m0 0h2m-1 0h2m52 0h2M0 69m26 0h2m24 0h2m9 0h2m0 0h2m4 0h2m30 0h2M0 70m25 0h2m5 0h2m18 0h2m6 0h2m15 0h2m1 0h2m90 0h2M0 71m34 0h2m12 0h2m18 0h2m36 0h2M0 72m7 0h2m14 0h2m42 0h2m4 0h2m4 0h2m25 0h2M0 73m4 0h2m38 0h2m10 0h2m14 0h2m-1 0h2m7 0h2m1 0h2m-1 0h2m24 0h2m76 0h2M0 74m37 0h2m21 0h2m0 0h2m0 0h2m0 0h2M0 75m34 0h2m17 0h2m8 0h2m5 0h2M0 76m25 0h2m21 0h2m19 0h2m18 0h2M0 77m41 0h2m2 0h2m8 0h2m-1 0h2M0 78m74 0h2m0 0h2m8 0h2M0 79m50 0h2M0 80m103 0h2M0 81m34 0h2m8 0h2m15 0h2m1 0h2m3 0h2m5 0h2m11 0h2M0 82m34 0h2m3 0h2m12 0h2m47 0h2M0 83m68 0h2m11 0h2M0 84m60 0h2M0 85m39 0h2M0 86m40 0h2m0 0h2m26 0h2m104 0h2M0 87m87 0h2M0 88m38 0h2m27 0h2m60 0h2M0 89m43 0h2M0 90m64 0h2m34 0h2M0 91m61 0h2m44 0h2M0 92m40 0h2M0 93m65 0h2m-1 0h2m16 0h2M0 94m31 0h2m21 0h2m4 0h2M0 95m199 0h2M0 97m48 0h2m15 0h2m9 0h2m2 0h2M0 98m36 0h2m39 0h2M0 100m49 0h2m138 0h2M0 101m95 0h2M0 102m13 0h2m84 0h2M0 103m11 0h2m113 0h2M0 104m72 0h2m36 0h2M0 105m106 0h2M0 106m68 0h2M0 107m70 0h2M0 108m43 0h2M0 109m90 0h2M0 110m73 0h2M0 111m60 0h2m1 0h2m11 0h2M0 112m171 0h2M0 113m28 0h2m24 0h2m24 0h2m14 0h2M0 114m96 0h2M0 115m48 0h2m29 0h2M0 116m46 0h2m13 0h2M0 118m80 0h2M0 119m56 0h2m22 0h2M0 120m72 0h2m3 0h2m21 0h2M0 121m92 0h2M0 122m63 0h2m20 0h2m22 0h2M0 123m29 0h2m55 0h2M0 124m63 0h2m0 0h2m140 0h2M0 125m64 0h2m92 0h2M0 126m61 0h2m36 0h2M0 127m45 0h2m6 0h2m37 0h2m29 0h2M0 128m93 0h2m12 0h2m6 0h2m15 0h2M0 129m57 0h2m23 0h2M0 130m48 0h2M0 131m31 0h2m28 0h2m10 0h2m1 0h2M0 132m67 0h2m19 0h2m6 0h2M0 133m42 0h2m16 0h2m3 0h2m1 0h2m-1 0h2m1 0h2m3 0h2m17 0h2M0 134m46 0h2m26 0h2m6 0h2M0 135m45 0h2m-1 0h2m7 0h2m6 0h2m19 0h2m25 0h2m4 0h2m49 0h2M0 136m95 0h2M0 137m22 0h2m39 0h2m6 0h2m11 0h2m14 0h2M0 138m48 0h2m23 0h2m30 0h2M0 139m26 0h2m20 0h2m7 0h2m1 0h2m33 0h2m16 0h2M0 140m14 0h2m33 0h2m23 0h2m0 0h2m14 0h2M0 141m34 0h2m2 0h2m5 0h2m9 0h2m6 0h2m0 0h2m12 0h2m48 0h2m77 0h2M0 142m26 0h2m5 0h2m6 0h2m29 0h2m0 0h2M0 143m48 0h2m12 0h2m18 0h2M0 144m47 0h2m12 0h2m-1 0h2m-1 0h2m-1 0h2m3 0h2m10 0h2m1 0h2m4 0h2m28 0h2M0 145m33 0h2m31 0h2m18 0h2m1 0h2m-1 0h2M0 146m78 0h2m-1 0h2M0 147m27 0h2m20 0h2m3 0h2m5 0h2m14 0h2m1 0h2m1 0h2m0 0h2M0 148m39 0h2m0 0h2m26 0h2m0 0h2m4 0h2M0 149m42 0h2m3 0h2m-1 0h2m14 0h2m5 0h2m18 0h2M0 150m45 0h2m1 0h2m1 0h2m7 0h2m16 0h2m8 0h2m0 0h2M0 151m44 0h2m16 0h2m5 0h2m2 0h2m1 0h2m1 0h2m17 0h2m10 0h2M0 152m43 0h2m11 0h2m4 0h2m4 0h2m0 0h2m13 0h2m3 0h2m7 0h2M0 153m33 0h2m23 0h2m8 0h2m1 0h2M0 154m53 0h2m4 0h2m10 0h2m-1 0h2M0 155m43 0h2m13 0h2m2 0h2m8 0h2m20 0h2m107 0h2M0 156m39 0h2m0 0h2m4 0h2m2 0h2m9 0h2m17 0h2m1 0h2M0 157m33 0h2m1 0h2m17 0h2m12 0h2m1 0h2m15 0h2m19 0h2m55 0h2M0 158m34 0h2m4 0h2m7 0h2m-1 0h2m-1 0h2m11 0h2m10 0h2m14 0h2m18 0h2M0 159m8 0h2m8 0h2m27 0h2m13 0h2m14 0h2M0 160m37 0h2m-1 0h2m12 0h2m19 0h2M0 161m47 0h2m5 0h2m4 0h2m3 0h2M0 162m41 0h2m-1 0h2m-1 0h2m4 0h2m1 0h2m5 0h2m-1 0h2m12 0h2m18 0h2m1 0h2m97 0h2M0 163m48 0h2m0 0h2m-1 0h2m12 0h2m1 0h2M0 164m6 0h2m12 0h2m2 0h2m15 0h2m14 0h2m2 0h2m11 0h2M0 165m22 0h2m6 0h2m-1 0h2m8 0h2m2 0h2m7 0h2m14 0h2m0 0h2M0 166m30 0h2m7 0h2m5 0h2m15 0h2m3 0h2m18 0h2m112 0h2M0 167m51 0h2m5 0h2m1 0h2m5 0h2m8 0h2m49 0h2M0 168m35 0h2m1 0h2m7 0h2m15 0h2m123 0h2M0 169m53 0h2m9 0h2m2 0h2M0 170m34 0h2m8 0h2m0 0h2m12 0h2m8 0h2M0 171m6 0h2m18 0h2m17 0h2m4 0h2m1 0h2m1 0h2m5 0h2m13 0h2M0 172m19 0h2m5 0h2m8 0h2m8 0h2m3 0h2m3 0h2m14 0h2m5 0h2m63 0h2M0 173m31 0h2m12 0h2m3 0h2m22 0h2M0 174m28 0h2m9 0h2m13 0h2m17 0h2m132 0h2M0 175m23 0h2m12 0h2m2 0h2m2 0h2m36 0h2m39 0h2M0 176m11 0h2m9 0h2m33 0h2M0 177m26 0h2m28 0h2m-1 0h2m11 0h2m12 0h2M0 178m28 0h2m5 0h2m3 0h2m3 0h2m-1 0h2m8 0h2m3 0h2m4 0h2m33 0h2M0 179m22 0h2m5 0h2m0 0h2m9 0h2m19 0h2M0 180m25 0h2m13 0h2m26 0h2M0 181m22 0h2m2 0h2m29 0h2m11 0h2m2 0h2M0 182m15 0h2m4 0h2m55 0h2M0 183m15 0h2m1 0h2m3 0h2m6 0h2m37 0h2m128 0h2M0 184m15 0h2m18 0h2m24 0h2M0 185m48 0h2M0 186m52 0h2m9 0h2m14 0h2M0 187m43 0h2m1 0h2m7 0h2m14 0h2m28 0h2M0 188m36 0h2M0 189m8 0h2m30 0h2m11 0h2M0 190m28 0h2m8 0h2m18 0h2M0 191m21 0h2m33 0h2m7 0h2m108 0h2M0 192m6 0h2m2 0h2m31 0h2m4 0h2m84 0h2M0 193m54 0h2m-1 0h2m0 0h2M0 194m21 0h2m136 0h2M0 196m4 0h2m8 0h2m0 0h2m-1 0h2m16 0h2m16 0h2M0 197m27 0h2m4 0h2M0 198m35 0h2m73 0h2m86 0h2M0 199m13 0h2m13 0h2M0 201m30 0h2M0 203m48 0h2m40 0h2M0 206m125 0h2M0 207m49 0h2"/>
</g></g>
<path d="M0 0H107.6V107.2" fill="none" stroke="#c4c4c4" stroke-width="1"/>
<path d="M0 0V107.2" fill="none" stroke="#555" stroke-width="1.3"/>
<path d="M0 107.2H107.6" fill="none" stroke="#777" stroke-width="1"/>
<path d="M-1 2V99.2" stroke="#666" stroke-width="1.2" stroke-dasharray="0.7 1.9" fill="none"/>
<path d="M8 108.5H103.6" stroke="#888" stroke-width="1.8" stroke-dasharray="0.7 2.1" fill="none"/>
<path d="M-2.8 9.3H0" stroke="#444" stroke-width="1"/>
<path d="M-2.8 33.6H0" stroke="#444" stroke-width="1"/>
<path d="M-2.8 58.3H0" stroke="#444" stroke-width="1"/>
<path d="M-2.8 84.5H0" stroke="#444" stroke-width="1"/>
<path d="M-2.8 96.2H0" stroke="#444" stroke-width="1"/>
<path d="M11.2 107.2v3" stroke="#555" stroke-width="1"/>
<path d="M22.7 107.2v3" stroke="#555" stroke-width="1"/>
<path d="M49.2 107.2v3" stroke="#555" stroke-width="1"/>
<path d="M73.4 107.2v3" stroke="#555" stroke-width="1"/>
<path d="M97.8 107.2v3" stroke="#555" stroke-width="1"/>
<path d="M0 58.3H107.6M48.8 0V107.2" fill="none" stroke="#6e6e6e" stroke-width="1"/>
</g>
<g transform="translate(137.8 24.0)">
<ellipse cx="61" cy="27" rx="9" ry="7.5" fill="#000" opacity="0.6" filter="url(#b)"/>
<ellipse cx="65" cy="26" rx="5" ry="6" fill="#000" opacity="0.5" filter="url(#b)"/>
<g filter="url(#s)"><g transform="scale(.5)" fill="none" stroke="#000" stroke-width="2" stroke-opacity=".46">
<path d="M0 18m121 0h2m8 0h2M0 21m74 0h2m23 0h2m16 0h2m22 0h2M0 22m77 0h2m60 0h2M0 24m91 0h2m17 0h2M0 25m108 0h2M0 26m98 0h2m42 0h2M0 27m95 0h2m1 0h2m27 0h2m20 0h2M0 28m104 0h2m5 0h2m1 0h2m20 0h2M0 29m69 0h2m10 0h2m13 0h2m11 0h2m15 0h2M0 30m94 0h2m0 0h2m10 0h2m0 0h2m9 0h2m-1 0h2m-1 0h2m4 0h2m6 0h2M0 31m84 0h2m19 0h2m12 0h2m6 0h2m5 0h2M0 32m87 0h2m11 0h2m10 0h2m2 0h2m2 0h2m6 0h2m-1 0h2m5 0h2m8 0h2M0 33m99 0h2m2 0h2m-1 0h2m7 0h2m1 0h2m0 0h2m1 0h2m3 0h2M0 34m77 0h2m14 0h2m-1 0h2m2 0h2m0 0h2m0 0h2m1 0h2m-1 0h2m0 0h2m4 0h2m2 0h2m0 0h2m1 0h2m2 0h2m1 0h2m0 0h2m6 0h2m0 0h2m1 0h2M0 35m72 0h2m17 0h2m-1 0h2m0 0h2m-1 0h2m3 0h2m4 0h2m-1 0h2m-1 0h2m4 0h2m1 0h2m1 0h2m0 0h2m2 0h2m-1 0h2m6 0h2m0 0h2m0 0h2m0 0h2M0 36m94 0h2m4 0h2m7 0h2m0 0h2m0 0h2m3 0h2m1 0h2m3 0h2m-1 0h2m2 0h2m3 0h2M0 37m78 0h2m24 0h2m-1 0h2m2 0h2m-1 0h2m0 0h2m0 0h2m-1 0h2m4 0h2m2 0h2m4 0h2m3 0h2m4 0h2M0 38m75 0h2m1 0h2m3 0h2m7 0h2m4 0h2m15 0h2m1 0h2m2 0h2m0 0h2m-1 0h2m1 0h2m3 0h2M0 39m79 0h2m0 0h2m13 0h2m2 0h2m4 0h2m0 0h2m0 0h2m7 0h2m7 0h2m4 0h2m3 0h2m-1 0h2m-1 0h2M0 40m78 0h2m-1 0h2m9 0h2m8 0h2m0 0h2m-1 0h2m2 0h2m-1 0h2m4 0h2m0 0h2m1 0h2m-1 0h2m2 0h2m-1 0h2m0 0h2m-1 0h2m0 0h2m-1 0h2m1 0h2m1 0h2m-1 0h2m1 0h2m2 0h2M0 41m76 0h2m1 0h2m0 0h2m2 0h2m6 0h2m0 0h2m0 0h2m1 0h2m6 0h2m0 0h2m5 0h2m1 0h2m2 0h2m0 0h2m1 0h2m-1 0h2m0 0h2m1 0h2m3 0h2m-1 0h2m-1 0h2m-1 0h2m-1 0h2M0 42m59 0h2m9 0h2m0 0h2m4 0h2m0 0h2m0 0h2m8 0h2m0 0h2m6 0h2m5 0h2m2 0h2m-1 0h2m1 0h2m-1 0h2m-1 0h2m0 0h2m7 0h2m1 0h2m0 0h2M0 43m76 0h2m3 0h2m4 0h2m-1 0h2m7 0h2m0 0h2m3 0h2m0 0h2m7 0h2m2 0h2m0 0h2m-1 0h2m-1 0h2m3 0h2m-1 0h2m-1 0h2m1 0h2m-1 0h2m0 0h2m-1 0h2m1 0h2m3 0h2m0 0h2M0 44m66 0h2m0 0h2m6 0h2m9 0h2m0 0h2m9 0h2m1 0h2m5 0h2m0 0h2m2 0h2m-1 0h2m-1 0h2m-1 0h2m1 0h2m2 0h2m0 0h2m-1 0h2m1 0h2m0 0h2m-1 0h2m-1 0h2m-1 0h2m3 0h2M0 45m64 0h2m0 0h2m-1 0h2m9 0h2m3 0h2m1 0h2m1 0h2m0 0h2m0 0h2m3 0h2m-1 0h2m-1 0h2m0 0h2m1 0h2m-1 0h2m-1 0h2m0 0h2m-1 0h2m2 0h2m0 0h2m-1 0h2m-1 0h2m-1 0h2m-1 0h2m0 0h2m0 0h2m-1 0h2m0 0h2m0 0h2m3 0h2m-1 0h2m0 0h2m-1 0h2m-1 0h2m-1 0h2m-1 0h2m2 0h2M0 46m77 0h2m1 0h2m-1 0h2m0 0h2m-1 0h2m-1 0h2m0 0h2m6 0h2m-1 0h2m0 0h2m0 0h2m0 0h2m1 0h2m4 0h2m6 0h2m-1 0h2m-1 0h2m-1 0h2m0 0h2m1 0h2m-1 0h2m-1 0h2m0 0h2m-1 0h2m-1 0h2m-1 0h2m-1 0h2m-1 0h2m0 0h2m3 0h2M0 47m61 0h2m10 0h2m1 0h2m6 0h2m-1 0h2m0 0h2m3 0h2m4 0h2m6 0h2m-1 0h2m1 0h2m-1 0h2m1 0h2m-1 0h2m1 0h2m0 0h2m-1 0h2m-1 0h2m-1 0h2m-1 0h2m1 0h2m0 0h2m-1 0h2m0 0h2m-1 0h2m2 0h2m-1 0h2m4 0h2M0 48m71 0h2m2 0h2m0 0h2m0 0h2m-1 0h2m-1 0h2m3 0h2m-1 0h2m-1 0h2m2 0h2m2 0h2m2 0h2m1 0h2m-1 0h2m-1 0h2m-1 0h2m0 0h2m-1 0h2m2 0h2m-1 0h2m1 0h2m-1 0h2m-1 0h2m1 0h2m0 0h2m-1 0h2m-1 0h2m-1 0h2m-1 0h2m-1 0h2m-1 0h2m-1 0h2m-1 0h2m-1 0h2m-1 0h2m-1 0h2m2 0h2m0 0h2m1 0h2M0 49m68 0h2m0 0h2m6 0h2m2 0h2m4 0h2m0 0h2m0 0h2m3 0h2m-1 0h2m-1 0h2m1 0h2m1 0h2m-1 0h2m-1 0h2m-1 0h2m-1 0h2m-1 0h2m3 0h2m0 0h2m-1 0h2m-1 0h2m3 0h2m-1 0h2m-1 0h2m0 0h2m-1 0h2m-1 0h2m-1 0h2m1 0h2m2 0h2m1 0h2m5 0h2M0 50m63 0h2m-1 0h2m3 0h2m9 0h2m2 0h2m-1 0h2m0 0h2m0 0h2m0 0h2m-1 0h2m-1 0h2m0 0h2m-1 0h2m-1 0h2m0 0h2m1 0h2m-1 0h2m-1 0h2m0 0h2m0 0h2m1 0h2m7 0h2m-1 0h2m-1 0h2m0 0h2m2 0h2m-1 0h2m6 0h2m2 0h2m2 0h2M0 51m89 0h2m3 0h2m4 0h2m3 0h2m4 0h2m0 0h2m4 0h2m-1 0h2m-1 0h2m0 0h2m-1 0h2m-1 0h2m-1 0h2m-1 0h2m-1 0h2m0 0h2m-1 0h2m-1 0h2m-1 0h2m-1 0h2m-1 0h2m-1 0h2m-1 0h2m0 0h2m0 0h2M0 52m49 0h2m25 0h2m7 0h2m0 0h2m0 0h2m-1 0h2m0 0h2m4 0h2m1 0h2m-1 0h2m1 0h2m5 0h2m-1 0h2m-1 0h2m-1 0h2m0 0h2m0 0h2m-1 0h2m-1 0h2m2 0h2m0 0h2m0 0h2m-1 0h2m0 0h2m0 0h2m-1 0h2m0 0h2m-1 0h2m8 0h2M0 53m57 0h2m12 0h2m5 0h2m1 0h2m0 0h2m4 0h2m-1 0h2m2 0h2m-1 0h2m1 0h2m-1 0h2m0 0h2m1 0h2m1 0h2m-1 0h2m-1 0h2m2 0h2m1 0h2m0 0h2m1 0h2m0 0h2m-1 0h2m-1 0h2m-1 0h2m-1 0h2m0 0h2m2 0h2m0 0h2m3 0h2m-1 0h2m0 0h2m1 0h2M0 54m69 0h2m9 0h2m0 0h2m0 0h2m0 0h2m1 0h2m2 0h2m6 0h2m-1 0h2m6 0h2m-1 0h2m3 0h2m1 0h2m-1 0h2m0 0h2m-1 0h2m-1 0h2m0 0h2m-1 0h2m-1 0h2m0 0h2m-1 0h2m-1 0h2m0 0h2m1 0h2m7 0h2m0 0h2M0 55m62 0h2m20 0h2m-1 0h2m2 0h2m4 0h2m-1 0h2m-1 0h2m0 0h2m-1 0h2m-1 0h2m-1 0h2m-1 0h2m-1 0h2m1 0h2m0 0h2m3 0h2m0 0h2m2 0h2m-1 0h2m0 0h2m-1 0h2m-1 0h2m-1 0h2m-1 0h2m0 0h2m0 0h2m1 0h2m0 0h2m-1 0h2m-1 0h2m-1 0h2m-1 0h2m-1 0h2m1 0h2M0 56m69 0h2m8 0h2m2 0h2m1 0h2m0 0h2m5 0h2m1 0h2m13 0h2m0 0h2m-1 0h2m-1 0h2m0 0h2m-1 0h2m-1 0h2m0 0h2m0 0h2m0 0h2m0 0h2m-1 0h2m0 0h2m-1 0h2m-1 0h2m0 0h2m3 0h2M0 57m79 0h2m3 0h2m8 0h2m7 0h2m0 0h2m-1 0h2m0 0h2m1 0h2m2 0h2m0 0h2m-1 0h2m3 0h2m-1 0h2m0 0h2m0 0h2m0 0h2m1 0h2m-1 0h2m1 0h2m-1 0h2m-1 0h2m-1 0h2m-1 0h2m-1 0h2M0 58m73 0h2m4 0h2m3 0h2m1 0h2m5 0h2m0 0h2m1 0h2m0 0h2m-1 0h2m-1 0h2m0 0h2m3 0h2m0 0h2m0 0h2m-1 0h2m5 0h2m-1 0h2m-1 0h2m-1 0h2m-1 0h2m0 0h2m-1 0h2m5 0h2m-1 0h2m-1 0h2m0 0h2m1 0h2M0 59m72 0h2m1 0h2m3 0h2m6 0h2m6 0h2m-1 0h2m-1 0h2m1 0h2m-1 0h2m-1 0h2m-1 0h2m5 0h2m1 0h2m-1 0h2m-1 0h2m-1 0h2m-1 0h2m-1 0h2m1 0h2m-1 0h2m-1 0h2m0 0h2m0 0h2m-1 0h2m-1 0h2m-1 0h2m-1 0h2m-1 0h2m-1 0h2m1 0h2m-1 0h2m1 0h2m1 0h2M0 60m64 0h2m1 0h2m9 0h2m13 0h2m-1 0h2m-1 0h2m-1 0h2m-1 0h2m-1 0h2m0 0h2m-1 0h2m0 0h2m-1 0h2m-1 0h2m-1 0h2m-1 0h2m1 0h2m7 0h2m-1 0h2m-1 0h2m-1 0h2m2 0h2m0 0h2m3 0h2m-1 0h2m-1 0h2m0 0h2m3 0h2m-1 0h2m-1 0h2M0 61m62 0h2m18 0h2m3 0h2m0 0h2m2 0h2m1 0h2m0 0h2m-1 0h2m3 0h2m-1 0h2m2 0h2m2 0h2m-1 0h2m0 0h2m0 0h2m-1 0h2m0 0h2m1 0h2m1 0h2m-1 0h2m-1 0h2m-1 0h2m0 0h2m-1 0h2m-1 0h2m0 0h2m-1 0h2m-1 0h2m-1 0h2m-1 0h2M0 62m78 0h2m4 0h2m4 0h2m-1 0h2m-1 0h2m4 0h2m0 0h2m-1 0h2m0 0h2m-1 0h2m2 0h2m-1 0h2m4 0h2m-1 0h2m-1 0h2m0 0h2m0 0h2m0 0h2m-1 0h2m2 0h2m-1 0h2m-1 0h2m0 0h2m-1 0h2m7 0h2m-1 0h2m3 0h2M0 63m71 0h2m6 0h2m0 0h2m3 0h2m-1 0h2m0 0h2m1 0h2m-1 0h2m5 0h2m-1 0h2m-1 0h2m-1 0h2m2 0h2m0 0h2m-1 0h2m-1 0h2m0 0h2m4 0h2m-1 0h2m-1 0h2m1 0h2m-1 0h2m-1 0h2m2 0h2m-1 0h2m4 0h2m2 0h2M0 64m72 0h2m-1 0h2m8 0h2m-1 0h2m0 0h2m9 0h2m2 0h2m-1 0h2m2 0h2m-1 0h2m1 0h2m-1 0h2m0 0h2m-1 0h2m1 0h2m1 0h2m1 0h2m0 0h2m-1 0h2m3 0h2m0 0h2m1 0h2m-1 0h2m1 0h2M0 65m70 0h2m-1 0h2m-1 0h2m4 0h2m6 0h2m1 0h2m3 0h2m-1 0h2m1 0h2m0 0h2m-1 0h2m-1 0h2m0 0h2m1 0h2m-1 0h2m0 0h2m0 0h2m0 0h2m6 0h2m-1 0h2m1 0h2m-1 0h2m2 0h2m0 0h2m-1 0h2m7 0h2M0 66m70 0h2m12 0h2m7 0h2m10 0h2m4 0h2m-1 0h2m3 0h2m-1 0h2m-1 0h2m1 0h2m1 0h2m-1 0h2m-1 0h2m0 0h2m4 0h2m0 0h2m-1 0h2m1 0h2M0 67m88 0h2m8 0h2m-1 0h2m4 0h2m1 0h2m0 0h2m0 0h2m-1 0h2m-1 0h2m-1 0h2m0 0h2m-1 0h2m-1 0h2m5 0h2m-1 0h2m3 0h2m-1 0h2m1 0h2m1 0h2m3 0h2M0 68m92 0h2m1 0h2m0 0h2m7 0h2m1 0h2m0 0h2m2 0h2m0 0h2m-1 0h2m7 0h2m-1 0h2m1 0h2m-1 0h2m6 0h2m1 0h2M0 69m80 0h2m4 0h2m1 0h2m5 0h2m-1 0h2m-1 0h2m-1 0h2m2 0h2m1 0h2m-1 0h2m1 0h2m4 0h2m7 0h2m0 0h2m0 0h2m0 0h2m-1 0h2m0 0h2m15 0h2M0 70m71 0h2m2 0h2m7 0h2m5 0h2m-1 0h2m5 0h2m1 0h2m6 0h2m-1 0h2m0 0h2m-1 0h2m0 0h2m0 0h2m-1 0h2m-1 0h2m0 0h2m-1 0h2m0 0h2m-1 0h2m2 0h2m-1 0h2m2 0h2m0 0h2m0 0h2M0 71m88 0h2m5 0h2m1 0h2m1 0h2m-1 0h2m3 0h2m3 0h2m-1 0h2m1 0h2m0 0h2m1 0h2m0 0h2m0 0h2m-1 0h2m3 0h2m10 0h2M0 72m77 0h2m7 0h2m1 0h2m1 0h2m4 0h2m0 0h2m7 0h2m0 0h2m-1 0h2m-1 0h2m-1 0h2m1 0h2m2 0h2m0 0h2m1 0h2m0 0h2m2 0h2M0 73m95 0h2m1 0h2m0 0h2m-1 0h2m0 0h2m2 0h2m1 0h2m0 0h2m0 0h2m8 0h2m0 0h2m2 0h2M0 74m72 0h2m23 0h2m-1 0h2m2 0h2m1 0h2m2 0h2m3 0h2m-1 0h2m-1 0h2m1 0h2m1 0h2m2 0h2m1 0h2m2 0h2m0 0h2m0 0h2m1 0h2M0 75m73 0h2m24 0h2m-1 0h2m0 0h2m-1 0h2m-1 0h2m1 0h2m1 0h2m4 0h2m3 0h2m0 0h2m2 0h2m-1 0h2m-1 0h2m8 0h2M0 76m96 0h2m6 0h2m0 0h2m-1 0h2m-1 0h2m2 0h2m-1 0h2m-1 0h2m-1 0h2m-1 0h2m3 0h2m7 0h2m-1 0h2m0 0h2M0 77m102 0h2m1 0h2m0 0h2m0 0h2m0 0h2m1 0h2m-1 0h2m0 0h2m3 0h2m5 0h2m-1 0h2m-1 0h2m0 0h2M0 78m94 0h2m1 0h2m0 0h2m4 0h2m0 0h2m13 0h2m-1 0h2m0 0h2m-1 0h2m2 0h2m-1 0h2m0 0h2M0 79m71 0h2m6 0h2m11 0h2m4 0h2m1 0h2m0 0h2m0 0h2m3 0h2m-1 0h2m4 0h2m-1 0h2m0 0h2m2 0h2m-1 0h2M0 80m99 0h2m10 0h2m6 0h2m4 0h2m0 0h2m5 0h2m2 0h2m1 0h2M0 81m96 0h2m2 0h2m4 0h2m-1 0h2m2 0h2m6 0h2m4 0h2m6 0h2m1 0h2M0 82m95 0h2m2 0h2m1 0h2m-1 0h2m3 0h2m1 0h2m0 0h2m0 0h2m0 0h2m1 0h2m9 0h2M0 83m97 0h2m3 0h2m2 0h2m2 0h2m5 0h2m8 0h2m0 0h2M0 84m106 0h2m2 0h2m6 0h2m3 0h2m7 0h2m2 0h2M0 85m85 0h2m4 0h2m-1 0h2m7 0h2m6 0h2m-1 0h2m6 0h2m-1 0h2m-1 0h2m10 0h2m-1 0h2M0 86m99 0h2m5 0h2m0 0h2m-1 0h2m-1 0h2m-1 0h2m-1 0h2m1 0h2m0 0h2m1 0h2m14 0h2M0 87m87 0h2m12 0h2m0 0h2m6 0h2m-1 0h2m8 0h2m7 0h2m7 0h2M0 88m107 0h2m1 0h2m2 0h2m-1 0h2m10 0h2m2 0h2m-1 0h2M0 89m94 0h2m11 0h2m0 0h2m1 0h2m1 0h2m1 0h2M0 90m91 0h2m0 0h2m1 0h2m5 0h2m0 0h2m-1 0h2m16 0h2m-1 0h2m7 0h2M0 91m89 0h2m12 0h2m3 0h2m-1 0h2m0 0h2m3 0h2m-1 0h2m1 0h2m1 0h2m15 0h2M0 92m89 0h2m-1 0h2m-1 0h2m6 0h2m6 0h2m10 0h2m-1 0h2m0 0h2m4 0h2m-1 0h2M0 93m104 0h2m5 0h2m-1 0h2m-1 0h2m1 0h2m-1 0h2m8 0h2M0 94m93 0h2m5 0h2m2 0h2m4 0h2m1 0h2m5 0h2m2 0h2M0 95m91 0h2m13 0h2m1 0h2m-1 0h2m7 0h2m-1 0h2m7 0h2m4 0h2M0 96m93 0h2m0 0h2m4 0h2m0 0h2m0 0h2m1 0h2m-1 0h2m-1 0h2m6 0h2m4 0h2m-1 0h2m5 0h2M0 97m98 0h2m11 0h2m2 0h2m2 0h2m-1 0h2m-1 0h2m6 0h2M0 98m83 0h2m13 0h2m3 0h2m0 0h2m1 0h2m4 0h2m0 0h2m0 0h2m6 0h2m1 0h2m1 0h2M0 99m85 0h2m3 0h2m2 0h2m2 0h2m1 0h2m4 0h2m0 0h2m3 0h2m4 0h2m0 0h2m1 0h2m1 0h2m0 0h2M0 100m88 0h2m2 0h2m-1 0h2m16 0h2m6 0h2m3 0h2m-1 0h2M0 101m84 0h2m14 0h2m5 0h2m2 0h2m0 0h2m10 0h2m5 0h2M0 102m89 0h2m15 0h2m5 0h2m0 0h2m1 0h2m0 0h2m7 0h2m8 0h2M0 103m96 0h2m5 0h2m8 0h2m-1 0h2m2 0h2m7 0h2m-1 0h2M0 104m103 0h2m0 0h2m1 0h2m-1 0h2m-1 0h2m6 0h2M0 105m112 0h2m2 0h2m-1 0h2m5 0h2m0 0h2m7 0h2m2 0h2M0 106m95 0h2m12 0h2m0 0h2m4 0h2m0 0h2m0 0h2m7 0h2m4 0h2m-1 0h2m8 0h2M0 107m96 0h2m0 0h2m12 0h2m2 0h2m5 0h2m-1 0h2M0 108m102 0h2m2 0h2m0 0h2m7 0h2m7 0h2m5 0h2m2 0h2m0 0h2M0 109m105 0h2m13 0h2m5 0h2m-1 0h2M0 110m101 0h2m3 0h2m0 0h2m1 0h2m4 0h2m-1 0h2M0 111m103 0h2m12 0h2m0 0h2M0 112m76 0h2m20 0h2m15 0h2m-1 0h2m2 0h2M0 113m92 0h2m11 0h2m-1 0h2m10 0h2m0 0h2M0 114m110 0h2M0 115m90 0h2m4 0h2m6 0h2m10 0h2M0 116m90 0h2m0 0h2m8 0h2m12 0h2m7 0h2M0 117m114 0h2m0 0h2m11 0h2M0 118m114 0h2m0 0h2M0 119m103 0h2m0 0h2m6 0h2m6 0h2M0 120m115 0h2m16 0h2M0 121m102 0h2m4 0h2m18 0h2M0 122m101 0h2m8 0h2m17 0h2M0 123m92 0h2m19 0h2M0 125m125 0h2M0 127m132 0h2M0 128m78 0h2M0 131m113 0h2M0 149m101 0h2"/>
<path d="M0 12m120 0h2M0 13m103 0h2M0 17m103 0h2m6 0h2M0 18m139 0h2M0 21m75 0h2m40 0h2M0 22m118 0h2m6 0h2m3 0h2M0 23m122 0h2m-1 0h2m9 0h2M0 24m113 0h2m10 0h2m5 0h2M0 26m114 0h2m2 0h2m15 0h2m12 0h2M0 27m95 0h2m23 0h2m8 0h2m0 0h2m2 0h2m3 0h2M0 28m89 0h2m1 0h2m25 0h2m6 0h2M0 29m73 0h2m7 0h2m22 0h2m1 0h2m23 0h2M0 30m91 0h2m4 0h2m18 0h2m7 0h2m3 0h2m0 0h2m7 0h2M0 31m88 0h2m4 0h2m1 0h2m9 0h2m3 0h2m2 0h2m5 0h2m0 0h2m-1 0h2m2 0h2m5 0h2M0 32m57 0h2m29 0h2m-1 0h2m0 0h2m1 0h2m4 0h2m2 0h2m1 0h2m20 0h2m0 0h2m-1 0h2m2 0h2m-1 0h2m0 0h2m3 0h2M0 33m57 0h2m8 0h2m15 0h2m-1 0h2m4 0h2m2 0h2m2 0h2m2 0h2m10 0h2m6 0h2m0 0h2m2 0h2M0 34m86 0h2m4 0h2m6 0h2m-1 0h2m2 0h2m8 0h2m1 0h2m8 0h2m1 0h2m5 0h2M0 35m70 0h2m13 0h2m1 0h2m7 0h2m0 0h2m-1 0h2m4 0h2m5 0h2m1 0h2m-1 0h2m1 0h2m-1 0h2m2 0h2m-1 0h2m5 0h2M0 36m61 0h2m9 0h2m6 0h2m30 0h2m4 0h2m-1 0h2m1 0h2m1 0h2m-1 0h2m1 0h2m5 0h2m0 0h2m2 0h2m5 0h2M0 37m70 0h2m16 0h2m-1 0h2m-1 0h2m-1 0h2m1 0h2m2 0h2m-1 0h2m6 0h2m-1 0h2m-1 0h2m2 0h2m1 0h2m7 0h2m-1 0h2m-1 0h2m11 0h2M0 38m86 0h2m8 0h2m1 0h2m-1 0h2m0 0h2m0 0h2m-1 0h2m2 0h2m1 0h2m8 0h2m-1 0h2m0 0h2m-1 0h2m9 0h2m1 0h2M0 39m85 0h2m4 0h2m-1 0h2m2 0h2m3 0h2m-1 0h2m0 0h2m2 0h2m3 0h2m-1 0h2m-1 0h2m0 0h2m4 0h2m4 0h2m0 0h2m2 0h2m-1 0h2m0 0h2m2 0h2M0 40m57 0h2m-1 0h2m20 0h2m10 0h2m3 0h2m2 0h2m0 0h2m-1 0h2m7 0h2m2 0h2m-1 0h2m1 0h2m0 0h2m-1 0h2m-1 0h2m-1 0h2m-1 0h2m-1 0h2m0 0h2m-1 0h2m0 0h2m0 0h2m-1 0h2m1 0h2m1 0h2m0 0h2M0 41m41 0h2m41 0h2m0 0h2m5 0h2m2 0h2m-1 0h2m-1 0h2m-1 0h2m2 0h2m0 0h2m4 0h2m0 0h2m2 0h2m6 0h2m5 0h2m0 0h2m-1 0h2m-1 0h2m-1 0h2M0 42m70 0h2m0 0h2m3 0h2m8 0h2m4 0h2m4 0h2m2 0h2m4 0h2m-1 0h2m-1 0h2m1 0h2m-1 0h2m0 0h2m-1 0h2m2 0h2m1 0h2m-1 0h2m-1 0h2m-1 0h2m-1 0h2m-1 0h2m-1 0h2m-1 0h2m-1 0h2m-1 0h2m9 0h2M0 43m67 0h2m4 0h2m3 0h2m1 0h2m2 0h2m6 0h2m2 0h2m4 0h2m3 0h2m-1 0h2m4 0h2m0 0h2m1 0h2m-1 0h2m2 0h2m-1 0h2m0 0h2m-1 0h2m1 0h2m-1 0h2m3 0h2m0 0h2m-1 0h2m0 0h2m0 0h2M0 44m80 0h2m-1 0h2m9 0h2m-1 0h2m1 0h2m4 0h2m-1 0h2m1 0h2m4 0h2m-1 0h2m0 0h2m2 0h2m1 0h2m0 0h2m0 0h2m-1 0h2m0 0h2m3 0h2m7 0h2m0 0h2M0 45m74 0h2m7 0h2m3 0h2m2 0h2m0 0h2m-1 0h2m1 0h2m2 0h2m5 0h2m-1 0h2m1 0h2m1 0h2m0 0h2m4 0h2m-1 0h2m-1 0h2m-1 0h2m-1 0h2m2 0h2m2 0h2m6 0h2M0 46m65 0h2m4 0h2m8 0h2m8 0h2m1 0h2m9 0h2m-1 0h2m2 0h2m3 0h2m2 0h2m-1 0h2m-1 0h2m2 0h2m-1 0h2m-1 0h2m1 0h2m-1 0h2m0 0h2m-1 0h2m1 0h2m0 0h2m-1 0h2M0 47m72 0h2m-1 0h2m4 0h2m-1 0h2m1 0h2m0 0h2m0 0h2m1 0h2m0 0h2m0 0h2m-1 0h2m0 0h2m3 0h2m1 0h2m-1 0h2m-1 0h2m0 0h2m0 0h2m-1 0h2m-1 0h2m0 0h2m-1 0h2m-1 0h2m0 0h2m1 0h2m0 0h2m0 0h2m-1 0h2m-1 0h2m-1 0h2m-1 0h2m-1 0h2m-1 0h2m-1 0h2m1 0h2m0 0h2m0 0h2m0 0h2M0 48m70 0h2m8 0h2m0 0h2m-1 0h2m-1 0h2m3 0h2m-1 0h2m-1 0h2m4 0h2m-1 0h2m0 0h2m0 0h2m-1 0h2m0 0h2m-1 0h2m0 0h2m0 0h2m0 0h2m0 0h2m0 0h2m0 0h2m-1 0h2m-1 0h2m-1 0h2m1 0h2m-1 0h2m-1 0h2m0 0h2m-1 0h2m1 0h2m6 0h2m-1 0h2m0 0h2m-1 0h2m6 0h2M0 49m76 0h2m-1 0h2m10 0h2m2 0h2m0 0h2m0 0h2m1 0h2m-1 0h2m0 0h2m2 0h2m1 0h2m-1 0h2m1 0h2m1 0h2m0 0h2m0 0h2m-1 0h2m-1 0h2m-1 0h2m-1 0h2m-1 0h2m-1 0h2m1 0h2m1 0h2m-1 0h2m0 0h2m1 0h2M0 50m69 0h2m4 0h2m12 0h2m3 0h2m-1 0h2m1 0h2m-1 0h2m3 0h2m0 0h2m1 0h2m4 0h2m0 0h2m3 0h2m-1 0h2m0 0h2m-1 0h2m1 0h2m-1 0h2m0 0h2m-1 0h2m-1 0h2m-1 0h2m0 0h2m-1 0h2m-1 0h2m7 0h2M0 51m72 0h2m9 0h2m1 0h2m-1 0h2m-1 0h2m0 0h2m2 0h2m4 0h2m2 0h2m-1 0h2m-1 0h2m-1 0h2m-1 0h2m0 0h2m4 0h2m-1 0h2m0 0h2m-1 0h2m4 0h2m-1 0h2m0 0h2m0 0h2m-1 0h2m1 0h2m-1 0h2m1 0h2m-1 0h2m-1 0h2m1 0h2m2 0h2M0 52m58 0h2m13 0h2m1 0h2m9 0h2m0 0h2m10 0h2m-1 0h2m1 0h2m2 0h2m3 0h2m-1 0h2m-1 0h2m0 0h2m-1 0h2m-1 0h2m-1 0h2m0 0h2m-1 0h2m-1 0h2m-1 0h2m-1 0h2m-1 0h2m-1 0h2m-1 0h2m-1 0h2m-1 0h2m-1 0h2m-1 0h2m-1 0h2m-1 0h2m1 0h2m-1 0h2M0 53m75 0h2m0 0h2m0 0h2m11 0h2m0 0h2m5 0h2m2 0h2m2 0h2m-1 0h2m2 0h2m2 0h2m-1 0h2m-1 0h2m-1 0h2m-1 0h2m-1 0h2m-1 0h2m-1 0h2m-1 0h2m-1 0h2m1 0h2m0 0h2m-1 0h2m-1 0h2m-1 0h2m-1 0h2m-1 0h2m-1 0h2m7 0h2M0 54m67 0h2m8 0h2m1 0h2m0 0h2m3 0h2m0 0h2m-1 0h2m0 0h2m3 0h2m1 0h2m2 0h2m2 0h2m0 0h2m-1 0h2m0 0h2m2 0h2m-1 0h2m-1 0h2m-1 0h2m0 0h2m-1 0h2m-1 0h2m-1 0h2m-1 0h2m0 0h2m-1 0h2m-1 0h2m-1 0h2m-1 0h2m0 0h2m-1 0h2m1 0h2m0 0h2m-1 0h2m3 0h2M0 55m63 0h2m10 0h2m0 0h2m1 0h2m0 0h2m5 0h2m-1 0h2m-1 0h2m1 0h2m4 0h2m1 0h2m4 0h2m1 0h2m3 0h2m-1 0h2m-1 0h2m-1 0h2m-1 0h2m0 0h2m-1 0h2m-1 0h2m0 0h2m-1 0h2m-1 0h2m0 0h2m-1 0h2m-1 0h2m-1 0h2m0 0h2M0 56m70 0h2m4 0h2m0 0h2m0 0h2m5 0h2m5 0h2m9 0h2m0 0h2m1 0h2m0 0h2m0 0h2m1 0h2m-1 0h2m-1 0h2m-1 0h2m-1 0h2m-1 0h2m2 0h2m-1 0h2m0 0h2m0 0h2m3 0h2m0 0h2m-1 0h2m-1 0h2m-1 0h2M0 57m84 0h2m-1 0h2m3 0h2m0 0h2m0 0h2m-1 0h2m-1 0h2m-1 0h2m0 0h2m-1 0h2m2 0h2m0 0h2m0 0h2m1 0h2m1 0h2m-1 0h2m-1 0h2m0 0h2m-1 0h2m-1 0h2m0 0h2m0 0h2m-1 0h2m-1 0h2m-1 0h2m-1 0h2m-1 0h2m0 0h2m1 0h2m0 0h2m1 0h2m-1 0h2m5 0h2M0 58m75 0h2m6 0h2m14 0h2m-1 0h2m1 0h2m0 0h2m4 0h2m-1 0h2m-1 0h2m4 0h2m-1 0h2m5 0h2m1 0h2m-1 0h2m0 0h2m2 0h2m1 0h2m-1 0h2m2 0h2M0 59m77 0h2m9 0h2m-1 0h2m-1 0h2m0 0h2m-1 0h2m0 0h2m-1 0h2m-1 0h2m0 0h2m2 0h2m0 0h2m-1 0h2m3 0h2m-1 0h2m0 0h2m6 0h2m-1 0h2m3 0h2m0 0h2m1 0h2m0 0h2m3 0h2m6 0h2M0 60m60 0h2m-1 0h2m13 0h2m5 0h2m0 0h2m3 0h2m2 0h2m1 0h2m5 0h2m0 0h2m0 0h2m0 0h2m2 0h2m-1 0h2m0 0h2m-1 0h2m-1 0h2m0 0h2m-1 0h2m-1 0h2m-1 0h2m0 0h2m-1 0h2m-1 0h2m0 0h2m0 0h2m-1 0h2m0 0h2m-1 0h2m-1 0h2m-1 0h2m2 0h2m-1 0h2m0 0h2m-1 0h2M0 61m88 0h2m-1 0h2m3 0h2m1 0h2m0 0h2m2 0h2m2 0h2m1 0h2m0 0h2m0 0h2m0 0h2m2 0h2m-1 0h2m-1 0h2m-1 0h2m0 0h2m-1 0h2m0 0h2m1 0h2m0 0h2m-1 0h2m0 0h2m-1 0h2m2 0h2m0 0h2m-1 0h2M0 62m70 0h2m5 0h2m1 0h2m6 0h2m6 0h2m0 0h2m1 0h2m-1 0h2m0 0h2m1 0h2m2 0h2m0 0h2m0 0h2m-1 0h2m-1 0h2m1 0h2m-1 0h2m0 0h2m2 0h2m-1 0h2m1 0h2m-1 0h2m0 0h2m2 0h2m0 0h2m0 0h2m-1 0h2M0 63m60 0h2m2 0h2m14 0h2m3 0h2m-1 0h2m3 0h2m-1 0h2m2 0h2m3 0h2m-1 0h2m-1 0h2m0 0h2m-1 0h2m2 0h2m-1 0h2m4 0h2m0 0h2m-1 0h2m-1 0h2m-1 0h2m0 0h2m-1 0h2m1 0h2m-1 0h2m-1 0h2m-1 0h2m-1 0h2m-1 0h2m-1 0h2m0 0h2m0 0h2M0 64m55 0h2m38 0h2m0 0h2m2 0h2m0 0h2m-1 0h2m-1 0h2m2 0h2m-1 0h2m-1 0h2m-1 0h2m0 0h2m-1 0h2m0 0h2m-1 0h2m-1 0h2m-1 0h2m4 0h2m-1 0h2m2 0h2m2 0h2m-1 0h2m2 0h2M0 65m91 0h2m1 0h2m5 0h2m3 0h2m1 0h2m0 0h2m0 0h2m3 0h2m0 0h2m-1 0h2m0 0h2m9 0h2m-1 0h2m-1 0h2m2 0h2M0 66m81 0h2m6 0h2m9 0h2m4 0h2m1 0h2m1 0h2m0 0h2m0 0h2m0 0h2m6 0h2m2 0h2m1 0h2m-1 0h2m0 0h2m8 0h2M0 67m79 0h2m2 0h2m3 0h2m0 0h2m2 0h2m1 0h2m0 0h2m0 0h2m-1 0h2m3 0h2m1 0h2m-1 0h2m-1 0h2m0 0h2m3 0h2m0 0h2m-1 0h2m2 0h2m0 0h2m2 0h2m6 0h2M0 68m60 0h2m21 0h2m0 0h2m-1 0h2m11 0h2m-1 0h2m1 0h2m-1 0h2m1 0h2m1 0h2m-1 0h2m0 0h2m1 0h2m-1 0h2m0 0h2m-1 0h2M0 69m91 0h2m3 0h2m0 0h2m1 0h2m-1 0h2m3 0h2m0 0h2m0 0h2m10 0h2m-1 0h2m-1 0h2m0 0h2m-1 0h2m20 0h2M0 70m73 0h2m9 0h2m-1 0h2m-1 0h2m1 0h2m2 0h2m2 0h2m0 0h2m1 0h2m-1 0h2m1 0h2m-1 0h2m0 0h2m-1 0h2m0 0h2m6 0h2m0 0h2m0 0h2m-1 0h2m1 0h2m2 0h2m0 0h2m-1 0h2m2 0h2m5 0h2M0 71m91 0h2m3 0h2m2 0h2m-1 0h2m2 0h2m1 0h2m5 0h2m1 0h2m0 0h2m4 0h2m-1 0h2m0 0h2m1 0h2m4 0h2m1 0h2M0 72m64 0h2m9 0h2m0 0h2m4 0h2m-1 0h2m0 0h2m10 0h2m-1 0h2m3 0h2m-1 0h2m1 0h2m1 0h2m1 0h2m0 0h2m-1 0h2m0 0h2m0 0h2m1 0h2m0 0h2m1 0h2m11 0h2m3 0h2M0 73m63 0h2m20 0h2m18 0h2m9 0h2m4 0h2M0 74m82 0h2m3 0h2m-1 0h2m4 0h2m0 0h2m4 0h2m0 0h2m3 0h2m3 0h2m5 0h2m4 0h2m0 0h2m3 0h2M0 75m97 0h2m8 0h2m2 0h2m-1 0h2m-1 0h2m0 0h2m2 0h2m8 0h2m1 0h2m10 0h2M0 76m77 0h2m15 0h2m0 0h2m11 0h2m-1 0h2m-1 0h2m0 0h2m0 0h2m1 0h2m3 0h2m2 0h2m7 0h2m0 0h2m-1 0h2M0 77m94 0h2m-1 0h2m7 0h2m4 0h2m0 0h2m4 0h2m-1 0h2m4 0h2m-1 0h2m1 0h2m0 0h2m0 0h2m3 0h2m2 0h2M0 78m89 0h2m0 0h2m1 0h2m0 0h2m1 0h2m4 0h2m-1 0h2m2 0h2m17 0h2m2 0h2M0 79m94 0h2m1 0h2m-1 0h2m0 0h2m2 0h2m2 0h2m-1 0h2m11 0h2m-1 0h2m0 0h2m-1 0h2m-1 0h2m2 0h2m4 0h2M0 80m87 0h2m17 0h2m3 0h2m6 0h2m1 0h2m-1 0h2m3 0h2m3 0h2m-1 0h2M0 81m81 0h2m7 0h2m3 0h2m4 0h2m2 0h2m-1 0h2m0 0h2m-1 0h2m0 0h2m8 0h2m0 0h2m1 0h2m-1 0h2M0 82m93 0h2m3 0h2m0 0h2m16 0h2m-1 0h2m-1 0h2m7 0h2m0 0h2m-1 0h2M0 83m63 0h2m36 0h2m-1 0h2m3 0h2m3 0h2m0 0h2m0 0h2m0 0h2m0 0h2m-1 0h2m6 0h2m0 0h2m6 0h2M0 84m99 0h2m1 0h2m5 0h2m1 0h2m3 0h2m1 0h2m1 0h2m3 0h2m-1 0h2M0 85m89 0h2m8 0h2m-1 0h2m1 0h2m9 0h2m2 0h2m-1 0h2m3 0h2m8 0h2M0 86m92 0h2m2 0h2m3 0h2m8 0h2m1 0h2m1 0h2m2 0h2m1 0h2M0 87m92 0h2m1 0h2m2 0h2m-1 0h2m-1 0h2m4 0h2m1 0h2m-1 0h2m3 0h2m7 0h2m4 0h2m1 0h2M0 88m91 0h2m3 0h2m-1 0h2m-1 0h2m3 0h2m10 0h2m-1 0h2m2 0h2m-1 0h2m1 0h2M0 89m93 0h2m6 0h2m-1 0h2m2 0h2m-1 0h2m14 0h2M0 90m95 0h2m1 0h2m-1 0h2m0 0h2m-1 0h2m2 0h2m-1 0h2m0 0h2m0 0h2m3 0h2m3 0h2m2 0h2m7 0h2m6 0h2M0 91m100 0h2m-1 0h2m2 0h2m0 0h2m3 0h2m3 0h2m1 0h2m2 0h2m2 0h2m0 0h2m0 0h2M0 92m84 0h2m21 0h2m-1 0h2m3 0h2m-1 0h2m3 0h2m7 0h2m0 0h2M0 93m93 0h2m3 0h2m1 0h2m2 0h2m3 0h2m1 0h2m-1 0h2m-1 0h2m5 0h2m5 0h2m-1 0h2M0 94m97 0h2m8 0h2m4 0h2m0 0h2m17 0h2M0 95m96 0h2m0 0h2m16 0h2m-1 0h2m0 0h2m6 0h2m-1 0h2M0 96m100 0h2m-1 0h2m-1 0h2m-1 0h2m0 0h2m-1 0h2m-1 0h2m0 0h2m4 0h2m-1 0h2m2 0h2m0 0h2m3 0h2m-1 0h2m-1 0h2M0 97m99 0h2m0 0h2m3 0h2m-1 0h2m-1 0h2m6 0h2m4 0h2m-1 0h2m4 0h2m-1 0h2m0 0h2m1 0h2M0 98m108 0h2m2 0h2m3 0h2m2 0h2m-1 0h2M0 99m91 0h2m2 0h2m1 0h2m2 0h2m3 0h2m-1 0h2m-1 0h2m1 0h2m2 0h2m-1 0h2m-1 0h2m0 0h2m0 0h2m3 0h2M0 100m91 0h2m4 0h2m1 0h2m1 0h2m5 0h2m-1 0h2m0 0h2m1 0h2m1 0h2m18 0h2M0 101m108 0h2m4 0h2m0 0h2m3 0h2m1 0h2M0 102m107 0h2m12 0h2m0 0h2M0 103m94 0h2m17 0h2m4 0h2m-1 0h2m-1 0h2m0 0h2M0 104m92 0h2m3 0h2m4 0h2m2 0h2m6 0h2m-1 0h2m0 0h2m-1 0h2M0 105m96 0h2m8 0h2m-1 0h2m3 0h2m1 0h2m1 0h2M0 106m112 0h2m3 0h2m-1 0h2m5 0h2M0 107m106 0h2m1 0h2m0 0h2m2 0h2m2 0h2M0 108m96 0h2m1 0h2m8 0h2m1 0h2m2 0h2m4 0h2m1 0h2m1 0h2M0 109m128 0h2m-1 0h2M0 110m93 0h2m33 0h2M0 111m79 0h2m23 0h2m0 0h2m0 0h2m-1 0h2m6 0h2m20 0h2M0 112m76 0h2m21 0h2m3 0h2m1 0h2m1 0h2m0 0h2m-1 0h2m2 0h2m12 0h2M0 113m105 0h2m5 0h2m15 0h2M0 114m109 0h2m4 0h2m6 0h2M0 116m107 0h2m0 0h2m-1 0h2m-1 0h2m7 0h2m1 0h2M0 117m105 0h2m1 0h2m32 0h2M0 118m104 0h2m6 0h2M0 119m96 0h2m11 0h2m-1 0h2m9 0h2M0 120m99 0h2m15 0h2M0 121m109 0h2M0 122m114 0h2m4 0h2m0 0h2m7 0h2M0 123m100 0h2m13 0h2M0 124m122 0h2m8 0h2M0 125m118 0h2M0 126m110 0h2M0 127m124 0h2m2 0h2M0 128m109 0h2M0 129m102 0h2m26 0h2M0 130m101 0h2M0 131m124 0h2M0 135m100 0h2m-1 0h2m2 0h2M0 140m121 0h2"/>
<path d="M0 14m123 0h2M0 17m111 0h2m16 0h2M0 19m140 0h2M0 20m77 0h2m49 0h2M0 21m103 0h2m10 0h2m11 0h2M0 22m72 0h2m21 0h2m31 0h2m0 0h2M0 23m102 0h2m3 0h2m24 0h2M0 25m90 0h2m22 0h2M0 26m143 0h2M0 27m89 0h2m3 0h2m-1 0h2m35 0h2m5 0h2m9 0h2M0 28m101 0h2m7 0h2M0 29m89 0h2m36 0h2m-1 0h2m9 0h2M0 30m92 0h2m14 0h2m2 0h2m11 0h2m3 0h2m-1 0h2M0 31m76 0h2m6 0h2m-1 0h2m9 0h2m10 0h2m0 0h2m3 0h2m1 0h2m0 0h2m14 0h2M0 32m91 0h2m7 0h2m5 0h2m4 0h2m5 0h2m-1 0h2m0 0h2m9 0h2M0 33m99 0h2m-1 0h2m2 0h2m8 0h2m2 0h2m1 0h2m6 0h2m6 0h2m0 0h2m-1 0h2M0 34m78 0h2m14 0h2m4 0h2m-1 0h2m3 0h2m11 0h2m1 0h2m4 0h2m3 0h2m9 0h2M0 35m74 0h2m-1 0h2m7 0h2m3 0h2m7 0h2m0 0h2m3 0h2m9 0h2m3 0h2m2 0h2m7 0h2M0 36m78 0h2m6 0h2m0 0h2m19 0h2m-1 0h2m1 0h2m1 0h2m2 0h2m-1 0h2m1 0h2m1 0h2m-1 0h2m0 0h2m-1 0h2m1 0h2m0 0h2m10 0h2M0 37m75 0h2m14 0h2m-1 0h2m0 0h2m3 0h2m1 0h2m0 0h2m2 0h2m0 0h2m-1 0h2m0 0h2m-1 0h2m-1 0h2m0 0h2m0 0h2m-1 0h2m3 0h2m2 0h2m0 0h2m-1 0h2m1 0h2m1 0h2m-1 0h2m-1 0h2m-1 0h2m6 0h2m-1 0h2M0 38m66 0h2m9 0h2m5 0h2m2 0h2m4 0h2m3 0h2m1 0h2m0 0h2m3 0h2m-1 0h2m-1 0h2m4 0h2m4 0h2m-1 0h2m0 0h2m1 0h2m-1 0h2m-1 0h2m6 0h2m1 0h2m0 0h2m-1 0h2M0 39m88 0h2m1 0h2m1 0h2m0 0h2m0 0h2m-1 0h2m2 0h2m5 0h2m-1 0h2m2 0h2m2 0h2m1 0h2m-1 0h2m0 0h2m0 0h2m-1 0h2m-1 0h2m-1 0h2m-1 0h2m0 0h2M0 40m68 0h2m15 0h2m1 0h2m5 0h2m8 0h2m-1 0h2m-1 0h2m10 0h2m-1 0h2m0 0h2m4 0h2m1 0h2m1 0h2m3 0h2m0 0h2m-1 0h2m2 0h2M0 41m78 0h2m4 0h2m4 0h2m1 0h2m6 0h2m0 0h2m0 0h2m1 0h2m1 0h2m2 0h2m1 0h2m2 0h2m0 0h2m-1 0h2m-1 0h2m-1 0h2m0 0h2m-1 0h2m1 0h2m2 0h2M0 42m68 0h2m8 0h2m6 0h2m4 0h2m1 0h2m0 0h2m3 0h2m2 0h2m-1 0h2m-1 0h2m1 0h2m-1 0h2m2 0h2m2 0h2m-1 0h2m-1 0h2m-1 0h2m7 0h2m-1 0h2m3 0h2m0 0h2m0 0h2m1 0h2M0 43m64 0h2m8 0h2m2 0h2m1 0h2m13 0h2m4 0h2m-1 0h2m0 0h2m0 0h2m-1 0h2m0 0h2m1 0h2m-1 0h2m5 0h2m1 0h2m3 0h2m-1 0h2m-1 0h2m0 0h2m-1 0h2m2 0h2M0 44m75 0h2m0 0h2m3 0h2m-1 0h2m0 0h2m1 0h2m5 0h2m0 0h2m-1 0h2m0 0h2m-1 0h2m-1 0h2m2 0h2m-1 0h2m4 0h2m3 0h2m0 0h2m5 0h2m0 0h2m-1 0h2m0 0h2m-1 0h2m0 0h2m-1 0h2m-1 0h2m-1 0h2m-1 0h2m-1 0h2M0 45m74 0h2m4 0h2m6 0h2m7 0h2m4 0h2m-1 0h2m2 0h2m-1 0h2m-1 0h2m2 0h2m1 0h2m1 0h2m-1 0h2m-1 0h2m-1 0h2m1 0h2m0 0h2m-1 0h2m2 0h2m-1 0h2m-1 0h2m2 0h2m-1 0h2m0 0h2m4 0h2M0 46m68 0h2m4 0h2m9 0h2m1 0h2m-1 0h2m12 0h2m9 0h2m0 0h2m-1 0h2m-1 0h2m0 0h2m-1 0h2m-1 0h2m-1 0h2m-1 0h2m1 0h2m-1 0h2m-1 0h2m-1 0h2m1 0h2m-1 0h2m-1 0h2m0 0h2m-1 0h2m5 0h2m2 0h2M0 47m71 0h2m6 0h2m0 0h2m5 0h2m-1 0h2m-1 0h2m-1 0h2m-1 0h2m1 0h2m-1 0h2m0 0h2m1 0h2m-1 0h2m-1 0h2m1 0h2m1 0h2m0 0h2m1 0h2m2 0h2m-1 0h2m1 0h2m-1 0h2m0 0h2m-1 0h2m-1 0h2m-1 0h2m-1 0h2m-1 0h2m0 0h2m0 0h2m-1 0h2m-1 0h2M0 48m60 0h2m3 0h2m10 0h2m11 0h2m1 0h2m-1 0h2m1 0h2m2 0h2m-1 0h2m-1 0h2m-1 0h2m2 0h2m0 0h2m1 0h2m-1 0h2m-1 0h2m1 0h2m2 0h2m1 0h2m-1 0h2m0 0h2m-1 0h2m-1 0h2m-1 0h2m-1 0h2m-1 0h2m-1 0h2m-1 0h2m0 0h2m3 0h2m1 0h2M0 49m75 0h2m3 0h2m-1 0h2m3 0h2m-1 0h2m-1 0h2m4 0h2m-1 0h2m9 0h2m-1 0h2m2 0h2m1 0h2m2 0h2m-1 0h2m-1 0h2m0 0h2m0 0h2m0 0h2m-1 0h2m-1 0h2m-1 0h2m1 0h2m-1 0h2m-1 0h2m0 0h2m3 0h2m1 0h2m1 0h2M0 50m71 0h2m-1 0h2m8 0h2m-1 0h2m0 0h2m2 0h2m6 0h2m1 0h2m-1 0h2m1 0h2m-1 0h2m-1 0h2m-1 0h2m3 0h2m-1 0h2m1 0h2m0 0h2m0 0h2m0 0h2m-1 0h2m0 0h2m0 0h2m-1 0h2m-1 0h2m-1 0h2m-1 0h2m-1 0h2m-1 0h2m-1 0h2m-1 0h2m0 0h2m-1 0h2m3 0h2m1 0h2m0 0h2M0 51m69 0h2m13 0h2m-1 0h2m0 0h2m0 0h2m0 0h2m0 0h2m1 0h2m1 0h2m0 0h2m4 0h2m-1 0h2m0 0h2m-1 0h2m1 0h2m3 0h2m0 0h2m-1 0h2m-1 0h2m-1 0h2m0 0h2m-1 0h2m-1 0h2m1 0h2m-1 0h2m0 0h2m-1 0h2m-1 0h2m1 0h2M0 52m88 0h2m2 0h2m-1 0h2m-1 0h2m1 0h2m-1 0h2m-1 0h2m10 0h2m0 0h2m-1 0h2m0 0h2m2 0h2m-1 0h2m-1 0h2m-1 0h2m-1 0h2m-1 0h2m1 0h2m2 0h2m-1 0h2m0 0h2m-1 0h2m1 0h2m-1 0h2m-1 0h2m1 0h2m2 0h2m-1 0h2M0 53m67 0h2m6 0h2m0 0h2m2 0h2m-1 0h2m3 0h2m2 0h2m-1 0h2m-1 0h2m2 0h2m-1 0h2m0 0h2m1 0h2m-1 0h2m0 0h2m0 0h2m-1 0h2m0 0h2m0 0h2m-1 0h2m-1 0h2m3 0h2m-1 0h2m-1 0h2m-1 0h2m1 0h2m0 0h2m-1 0h2m0 0h2m1 0h2m-1 0h2m-1 0h2m0 0h2m0 0h2m-1 0h2m0 0h2m1 0h2m1 0h2M0 54m79 0h2m-1 0h2m11 0h2m0 0h2m-1 0h2m3 0h2m0 0h2m-1 0h2m0 0h2m2 0h2m0 0h2m0 0h2m0 0h2m2 0h2m3 0h2m-1 0h2m-1 0h2m-1 0h2m-1 0h2m-1 0h2m0 0h2m-1 0h2m-1 0h2m-1 0h2m-1 0h2m-1 0h2m-1 0h2m-1 0h2m-1 0h2m7 0h2M0 55m78 0h2m1 0h2m6 0h2m5 0h2m0 0h2m1 0h2m-1 0h2m-1 0h2m3 0h2m0 0h2m-1 0h2m0 0h2m0 0h2m0 0h2m-1 0h2m0 0h2m-1 0h2m-1 0h2m0 0h2m0 0h2m-1 0h2m2 0h2m-1 0h2m0 0h2m-1 0h2m1 0h2M0 56m69 0h2m1 0h2m15 0h2m-1 0h2m1 0h2m3 0h2m0 0h2m2 0h2m2 0h2m-1 0h2m-1 0h2m-1 0h2m1 0h2m0 0h2m-1 0h2m1 0h2m-1 0h2m0 0h2m-1 0h2m-1 0h2m-1 0h2m-1 0h2m-1 0h2m0 0h2m0 0h2m0 0h2m0 0h2m-1 0h2m1 0h2m-1 0h2m0 0h2m3 0h2M0 57m68 0h2m16 0h2m1 0h2m-1 0h2m0 0h2m-1 0h2m2 0h2m0 0h2m0 0h2m1 0h2m1 0h2m2 0h2m0 0h2m0 0h2m0 0h2m-1 0h2m-1 0h2m-1 0h2m-1 0h2m-1 0h2m-1 0h2m-1 0h2m-1 0h2m-1 0h2m-1 0h2m-1 0h2m-1 0h2m-1 0h2m0 0h2m-1 0h2m-1 0h2m-1 0h2m-1 0h2m-1 0h2m2 0h2m1 0h2m1 0h2M0 58m79 0h2m5 0h2m5 0h2m-1 0h2m11 0h2m0 0h2m2 0h2m-1 0h2m-1 0h2m-1 0h2m4 0h2m-1 0h2m-1 0h2m1 0h2m0 0h2m3 0h2m-1 0h2m-1 0h2m0 0h2m-1 0h2m-1 0h2m5 0h2M0 59m56 0h2m0 0h2m17 0h2m1 0h2m3 0h2m5 0h2m0 0h2m-1 0h2m-1 0h2m0 0h2m-1 0h2m-1 0h2m1 0h2m3 0h2m-1 0h2m1 0h2m1 0h2m0 0h2m-1 0h2m-1 0h2m-1 0h2m0 0h2m1 0h2m-1 0h2m0 0h2m4 0h2m2 0h2M0 60m64 0h2m9 0h2m5 0h2m-1 0h2m1 0h2m0 0h2m-1 0h2m2 0h2m0 0h2m3 0h2m0 0h2m1 0h2m1 0h2m1 0h2m-1 0h2m-1 0h2m0 0h2m2 0h2m-1 0h2m-1 0h2m-1 0h2m-1 0h2m-1 0h2m-1 0h2m0 0h2m-1 0h2m-1 0h2m0 0h2m-1 0h2m-1 0h2m-1 0h2m-1 0h2m-1 0h2m2 0h2m1 0h2m-1 0h2M0 61m55 0h2m14 0h2m9 0h2m7 0h2m-1 0h2m1 0h2m-1 0h2m2 0h2m1 0h2m-1 0h2m-1 0h2m-1 0h2m-1 0h2m0 0h2m0 0h2m1 0h2m0 0h2m-1 0h2m0 0h2m-1 0h2m-1 0h2m0 0h2m-1 0h2m0 0h2m-1 0h2m5 0h2m-1 0h2m0 0h2m0 0h2m2 0h2m1 0h2M0 62m71 0h2m4 0h2m3 0h2m0 0h2m1 0h2m4 0h2m-1 0h2m1 0h2m-1 0h2m4 0h2m-1 0h2m3 0h2m2 0h2m0 0h2m4 0h2m0 0h2m-1 0h2m-1 0h2m-1 0h2m-1 0h2m-1 0h2m-1 0h2m0 0h2m-1 0h2m2 0h2m-1 0h2m6 0h2m0 0h2M0 63m51 0h2m23 0h2m2 0h2m-1 0h2m2 0h2m9 0h2m4 0h2m-1 0h2m3 0h2m4 0h2m0 0h2m-1 0h2m-1 0h2m1 0h2m-1 0h2m4 0h2m0 0h2m-1 0h2m1 0h2m0 0h2m5 0h2M0 64m86 0h2m4 0h2m1 0h2m0 0h2m0 0h2m-1 0h2m4 0h2m-1 0h2m-1 0h2m2 0h2m2 0h2m-1 0h2m4 0h2m0 0h2m0 0h2m0 0h2m-1 0h2m3 0h2m-1 0h2M0 65m87 0h2m0 0h2m2 0h2m5 0h2m2 0h2m0 0h2m-1 0h2m-1 0h2m-1 0h2m0 0h2m-1 0h2m5 0h2m0 0h2m0 0h2m-1 0h2m4 0h2m0 0h2m7 0h2m0 0h2m-1 0h2m0 0h2M0 66m65 0h2m14 0h2m6 0h2m-1 0h2m-1 0h2m2 0h2m-1 0h2m1 0h2m-1 0h2m2 0h2m1 0h2m2 0h2m13 0h2m-1 0h2m-1 0h2m-1 0h2m4 0h2m-1 0h2m1 0h2m2 0h2M0 67m81 0h2m1 0h2m8 0h2m1 0h2m0 0h2m0 0h2m0 0h2m3 0h2m0 0h2m1 0h2m3 0h2m-1 0h2m3 0h2m-1 0h2m-1 0h2m-1 0h2m1 0h2m0 0h2m0 0h2m0 0h2m12 0h2M0 68m71 0h2m10 0h2m1 0h2m1 0h2m2 0h2m6 0h2m2 0h2m-1 0h2m-1 0h2m-1 0h2m1 0h2m2 0h2m-1 0h2m2 0h2m0 0h2m0 0h2m-1 0h2m1 0h2m0 0h2m3 0h2m-1 0h2m0 0h2m4 0h2M0 69m46 0h2m17 0h2m19 0h2m2 0h2m5 0h2m-1 0h2m0 0h2m2 0h2m1 0h2m-1 0h2m-1 0h2m-1 0h2m0 0h2m-1 0h2m2 0h2m2 0h2m-1 0h2m6 0h2m5 0h2m2 0h2m4 0h2m-1 0h2M0 70m100 0h2m3 0h2m-1 0h2m1 0h2m3 0h2m6 0h2m-1 0h2m0 0h2m-1 0h2m1 0h2m3 0h2M0 71m70 0h2m9 0h2m3 0h2m4 0h2m15 0h2m-1 0h2m-1 0h2m-1 0h2m3 0h2m0 0h2m0 0h2m1 0h2m1 0h2m-1 0h2m2 0h2m2 0h2m1 0h2m0 0h2M0 72m32 0h2m56 0h2m11 0h2m4 0h2m1 0h2m-1 0h2m0 0h2m-1 0h2m-1 0h2m0 0h2m-1 0h2m-1 0h2m-1 0h2m1 0h2m6 0h2m4 0h2M0 73m80 0h2m8 0h2m10 0h2m8 0h2m-1 0h2m0 0h2m-1 0h2m-1 0h2m3 0h2m-1 0h2m3 0h2m1 0h2m9 0h2M0 74m88 0h2m0 0h2m-1 0h2m3 0h2m4 0h2m1 0h2m7 0h2m-1 0h2m2 0h2m2 0h2m1 0h2m6 0h2m3 0h2m3 0h2M0 75m95 0h2m1 0h2m4 0h2m4 0h2m0 0h2m0 0h2m2 0h2m-1 0h2m1 0h2m1 0h2m12 0h2M0 76m77 0h2m8 0h2m12 0h2m0 0h2m3 0h2m-1 0h2m3 0h2m-1 0h2m-1 0h2m0 0h2m-1 0h2m-1 0h2M0 77m71 0h2m0 0h2m3 0h2m13 0h2m18 0h2m3 0h2m0 0h2m2 0h2m-1 0h2m-1 0h2m1 0h2m0 0h2m-1 0h2m1 0h2M0 78m91 0h2m1 0h2m10 0h2m5 0h2m-1 0h2m2 0h2m1 0h2m3 0h2m1 0h2m3 0h2M0 79m92 0h2m2 0h2m-1 0h2m-1 0h2m12 0h2m4 0h2m4 0h2M0 80m84 0h2m8 0h2m2 0h2m0 0h2m4 0h2m1 0h2m-1 0h2m-1 0h2m3 0h2m-1 0h2m2 0h2m0 0h2m2 0h2m1 0h2m4 0h2M0 81m92 0h2m10 0h2m1 0h2m0 0h2m-1 0h2m5 0h2m0 0h2m1 0h2m3 0h2m2 0h2m6 0h2M0 82m94 0h2m3 0h2m0 0h2m5 0h2m11 0h2m-1 0h2m2 0h2m4 0h2M0 83m98 0h2m8 0h2m2 0h2m-1 0h2m3 0h2m3 0h2m-1 0h2m2 0h2m14 0h2M0 84m88 0h2m9 0h2m17 0h2m1 0h2m7 0h2m-1 0h2m0 0h2M0 85m83 0h2m12 0h2m-1 0h2m-1 0h2m4 0h2m3 0h2m1 0h2m7 0h2m-1 0h2m13 0h2M0 86m91 0h2m0 0h2m9 0h2m-1 0h2m0 0h2m0 0h2m4 0h2m-1 0h2m0 0h2m1 0h2m0 0h2m-1 0h2m2 0h2m-1 0h2M0 87m100 0h2m2 0h2m7 0h2m7 0h2m2 0h2m-1 0h2M0 88m97 0h2m-1 0h2m3 0h2m1 0h2m3 0h2m-1 0h2m-1 0h2m-1 0h2m27 0h2M0 89m98 0h2m1 0h2m2 0h2m2 0h2m-1 0h2m4 0h2m-1 0h2m1 0h2m0 0h2m0 0h2M0 90m92 0h2m8 0h2m1 0h2m6 0h2m0 0h2m4 0h2M0 91m95 0h2m2 0h2m1 0h2m-1 0h2m-1 0h2m4 0h2m1 0h2m1 0h2m-1 0h2m0 0h2m0 0h2m-1 0h2m-1 0h2M0 92m90 0h2m11 0h2m7 0h2m4 0h2m1 0h2m14 0h2M0 93m89 0h2m3 0h2m12 0h2m-1 0h2m1 0h2m0 0h2m19 0h2M0 94m109 0h2m-1 0h2m3 0h2m6 0h2M0 95m92 0h2m12 0h2m0 0h2m1 0h2m6 0h2m1 0h2m6 0h2M0 96m112 0h2m0 0h2m0 0h2m-1 0h2m8 0h2m7 0h2m0 0h2M0 97m91 0h2m11 0h2m6 0h2m0 0h2m3 0h2m15 0h2M0 98m103 0h2m3 0h2m5 0h2m-1 0h2m-1 0h2M0 99m102 0h2m2 0h2m-1 0h2m-1 0h2m0 0h2m2 0h2m1 0h2m5 0h2m-1 0h2m-1 0h2m5 0h2m-1 0h2m4 0h2M0 100m90 0h2m4 0h2m-1 0h2m5 0h2m1 0h2m4 0h2m4 0h2m1 0h2M0 101m94 0h2m1 0h2m3 0h2m1 0h2m-1 0h2m-1 0h2m4 0h2m13 0h2m19 0h2M0 102m94 0h2m0 0h2m4 0h2m12 0h2m1 0h2m0 0h2m4 0h2m19 0h2M0 103m90 0h2m2 0h2m11 0h2m0 0h2m1 0h2m11 0h2m8 0h2m5 0h2M0 104m112 0h2m5 0h2m1 0h2m1 0h2m1 0h2m1 0h2M0 105m101 0h2m1 0h2m5 0h2m0 0h2m5 0h2m3 0h2m-1 0h2M0 106m93 0h2m17 0h2m0 0h2m0 0h2m3 0h2m8 0h2M0 107m104 0h2m2 0h2m14 0h2m-1 0h2M0 108m103 0h2m2 0h2m2 0h2m9 0h2m4 0h2M0 109m87 0h2m15 0h2m-1 0h2m2 0h2m6 0h2M0 110m101 0h2m3 0h2m0 0h2m7 0h2m0 0h2m-1 0h2M0 111m97 0h2m4 0h2M0 112m94 0h2m3 0h2m4 0h2m4 0h2m-1 0h2M0 113m92 0h2m22 0h2m26 0h2M0 114m97 0h2m2 0h2m1 0h2m15 0h2m6 0h2M0 115m114 0h2m1 0h2M0 116m113 0h2m2 0h2m1 0h2M0 117m79 0h2m13 0h2m3 0h2m7 0h2M0 118m100 0h2m1 0h2m0 0h2m6 0h2M0 119m85 0h2M0 120m89 0h2m13 0h2m4 0h2m6 0h2m15 0h2M0 121m104 0h2m0 0h2M0 122m115 0h2M0 123m118 0h2m0 0h2M0 124m114 0h2M0 125m111 0h2m5 0h2m10 0h2M0 128m124 0h2M0 129m129 0h2M0 130m113 0h2M0 131m115 0h2M0 132m111 0h2M0 133m98 0h2m6 0h2m3 0h2M0 135m108 0h2M0 136m102 0h2M0 140m98 0h2"/>
<path d="M0 8m128 0h2M0 15m84 0h2M0 16m89 0h2m48 0h2M0 17m123 0h2M0 18m99 0h2m14 0h2m28 0h2M0 19m125 0h2M0 20m121 0h2m6 0h2m5 0h2M0 21m88 0h2m4 0h2m6 0h2m18 0h2M0 22m111 0h2M0 23m82 0h2m4 0h2m25 0h2M0 25m130 0h2m9 0h2M0 26m97 0h2m27 0h2m21 0h2M0 27m87 0h2m12 0h2m2 0h2m4 0h2m10 0h2m9 0h2M0 28m92 0h2m6 0h2m26 0h2M0 29m74 0h2m11 0h2m5 0h2m-1 0h2m19 0h2m15 0h2m-1 0h2M0 30m68 0h2m16 0h2m19 0h2m2 0h2m3 0h2m7 0h2m6 0h2M0 31m70 0h2m23 0h2m8 0h2m1 0h2m-1 0h2m8 0h2m1 0h2m1 0h2m2 0h2m5 0h2m0 0h2m0 0h2m3 0h2M0 32m88 0h2m0 0h2m1 0h2m9 0h2m-1 0h2m-1 0h2m13 0h2m3 0h2m2 0h2m3 0h2M0 33m78 0h2m0 0h2m-1 0h2m9 0h2m13 0h2m12 0h2m6 0h2M0 34m57 0h2m23 0h2m7 0h2m18 0h2m0 0h2m13 0h2m0 0h2m-1 0h2M0 35m86 0h2m-1 0h2m0 0h2m1 0h2m3 0h2m-1 0h2m6 0h2m-1 0h2m7 0h2m5 0h2m0 0h2m-1 0h2m1 0h2m-1 0h2m7 0h2M0 36m73 0h2m6 0h2m4 0h2m3 0h2m-1 0h2m9 0h2m1 0h2m9 0h2m1 0h2m2 0h2m3 0h2m0 0h2m1 0h2m4 0h2m4 0h2m-1 0h2M0 37m84 0h2m15 0h2m-1 0h2m4 0h2m6 0h2m2 0h2m-1 0h2m5 0h2m-1 0h2m-1 0h2m-1 0h2m4 0h2m2 0h2M0 38m98 0h2m-1 0h2m-1 0h2m1 0h2m5 0h2m3 0h2m-1 0h2m0 0h2m-1 0h2m-1 0h2m-1 0h2m2 0h2m4 0h2m2 0h2m-1 0h2m0 0h2m2 0h2M0 39m65 0h2m3 0h2m25 0h2m0 0h2m-1 0h2m1 0h2m2 0h2m3 0h2m3 0h2m0 0h2m0 0h2m1 0h2m-1 0h2m1 0h2m0 0h2m1 0h2m-1 0h2M0 40m65 0h2m14 0h2m4 0h2m3 0h2m6 0h2m-1 0h2m4 0h2m1 0h2m-1 0h2m1 0h2m-1 0h2m4 0h2m0 0h2m-1 0h2m-1 0h2m-1 0h2m0 0h2m-1 0h2m0 0h2m-1 0h2m0 0h2m0 0h2m0 0h2m0 0h2m0 0h2M0 41m74 0h2m15 0h2m2 0h2m1 0h2m-1 0h2m4 0h2m-1 0h2m-1 0h2m6 0h2m-1 0h2m-1 0h2m4 0h2m0 0h2m-1 0h2m-1 0h2m2 0h2m0 0h2m4 0h2m-1 0h2M0 42m79 0h2m-1 0h2m-1 0h2m0 0h2m3 0h2m5 0h2m2 0h2m0 0h2m-1 0h2m0 0h2m0 0h2m1 0h2m1 0h2m1 0h2m1 0h2m-1 0h2m-1 0h2m1 0h2m1 0h2m-1 0h2m-1 0h2m-1 0h2m-1 0h2m-1 0h2m0 0h2m-1 0h2m0 0h2m0 0h2m-1 0h2m-1 0h2m2 0h2M0 43m75 0h2m-1 0h2m0 0h2m13 0h2m12 0h2m0 0h2m4 0h2m0 0h2m-1 0h2m2 0h2m4 0h2m0 0h2m4 0h2m-1 0h2m-1 0h2m-1 0h2M0 44m61 0h2m10 0h2m6 0h2m4 0h2m0 0h2m0 0h2m3 0h2m2 0h2m0 0h2m-1 0h2m-1 0h2m5 0h2m-1 0h2m0 0h2m-1 0h2m-1 0h2m-1 0h2m-1 0h2m-1 0h2m-1 0h2m-1 0h2m1 0h2m0 0h2m-1 0h2m-1 0h2m0 0h2m-1 0h2m0 0h2m-1 0h2m0 0h2m0 0h2m-1 0h2m6 0h2M0 45m59 0h2m5 0h2m4 0h2m-1 0h2m10 0h2m-1 0h2m0 0h2m1 0h2m0 0h2m-1 0h2m-1 0h2m10 0h2m2 0h2m1 0h2m1 0h2m1 0h2m2 0h2m-1 0h2m0 0h2m-1 0h2m0 0h2m-1 0h2m-1 0h2m0 0h2m-1 0h2m-1 0h2m-1 0h2m5 0h2M0 46m54 0h2m22 0h2m-1 0h2m0 0h2m6 0h2m1 0h2m2 0h2m2 0h2m2 0h2m-1 0h2m-1 0h2m-1 0h2m-1 0h2m3 0h2m-1 0h2m1 0h2m1 0h2m-1 0h2m0 0h2m0 0h2m5 0h2m-1 0h2m0 0h2m0 0h2m0 0h2m0 0h2m-1 0h2m-1 0h2M0 47m54 0h2m20 0h2m12 0h2m0 0h2m4 0h2m1 0h2m0 0h2m-1 0h2m3 0h2m0 0h2m-1 0h2m0 0h2m1 0h2m-1 0h2m0 0h2m-1 0h2m0 0h2m-1 0h2m-1 0h2m-1 0h2m-1 0h2m-1 0h2m-1 0h2m-1 0h2m0 0h2m0 0h2m-1 0h2m3 0h2m4 0h2M0 48m66 0h2m7 0h2m4 0h2m-1 0h2m1 0h2m-1 0h2m1 0h2m-1 0h2m0 0h2m4 0h2m-1 0h2m1 0h2m-1 0h2m1 0h2m-1 0h2m2 0h2m3 0h2m0 0h2m0 0h2m0 0h2m-1 0h2m0 0h2m-1 0h2m-1 0h2m-1 0h2m-1 0h2m-1 0h2m-1 0h2m-1 0h2m-1 0h2m1 0h2m0 0h2m-1 0h2m-1 0h2m1 0h2M0 49m86 0h2m1 0h2m1 0h2m-1 0h2m-1 0h2m0 0h2m-1 0h2m1 0h2m3 0h2m0 0h2m0 0h2m1 0h2m-1 0h2m0 0h2m-1 0h2m0 0h2m0 0h2m-1 0h2m-1 0h2m-1 0h2m-1 0h2m0 0h2m0 0h2m-1 0h2m-1 0h2m0 0h2m0 0h2m-1 0h2m0 0h2m2 0h2M0 50m75 0h2m-1 0h2m-1 0h2m2 0h2m2 0h2m-1 0h2m0 0h2m-1 0h2m-1 0h2m-1 0h2m2 0h2m3 0h2m5 0h2m-1 0h2m-1 0h2m-1 0h2m1 0h2m-1 0h2m-1 0h2m-1 0h2m-1 0h2m3 0h2m-1 0h2m-1 0h2m-1 0h2m2 0h2m-1 0h2m1 0h2m-1 0h2m-1 0h2m0 0h2m1 0h2m3 0h2m-1 0h2M0 51m65 0h2m0 0h2m9 0h2m4 0h2m0 0h2m0 0h2m1 0h2m4 0h2m1 0h2m0 0h2m3 0h2m0 0h2m-1 0h2m-1 0h2m-1 0h2m0 0h2m1 0h2m0 0h2m0 0h2m-1 0h2m0 0h2m1 0h2m0 0h2m-1 0h2m-1 0h2m-1 0h2m0 0h2m2 0h2m-1 0h2M0 52m47 0h2m27 0h2m0 0h2m2 0h2m0 0h2m1 0h2m3 0h2m0 0h2m8 0h2m-1 0h2m4 0h2m0 0h2m-1 0h2m0 0h2m-1 0h2m-1 0h2m1 0h2m-1 0h2m-1 0h2m3 0h2m-1 0h2m0 0h2m-1 0h2m0 0h2m-1 0h2m0 0h2m0 0h2m0 0h2m-1 0h2m-1 0h2M0 53m82 0h2m0 0h2m-1 0h2m2 0h2m0 0h2m2 0h2m-1 0h2m8 0h2m-1 0h2m0 0h2m1 0h2m0 0h2m-1 0h2m0 0h2m-1 0h2m-1 0h2m0 0h2m-1 0h2m1 0h2m-1 0h2m-1 0h2m-1 0h2m-1 0h2m0 0h2m-1 0h2m0 0h2m-1 0h2m0 0h2m-1 0h2m5 0h2M0 54m70 0h2m0 0h2m1 0h2m5 0h2m2 0h2m3 0h2m-1 0h2m-1 0h2m1 0h2m0 0h2m1 0h2m-1 0h2m2 0h2m0 0h2m-1 0h2m5 0h2m0 0h2m1 0h2m-1 0h2m-1 0h2m0 0h2m-1 0h2m-1 0h2m0 0h2m-1 0h2m-1 0h2m-1 0h2m-1 0h2m-1 0h2m-1 0h2m-1 0h2m-1 0h2m0 0h2m-1 0h2m1 0h2M0 55m69 0h2m11 0h2m5 0h2m0 0h2m0 0h2m4 0h2m0 0h2m1 0h2m0 0h2m-1 0h2m-1 0h2m-1 0h2m-1 0h2m3 0h2m-1 0h2m0 0h2m-1 0h2m1 0h2m-1 0h2m-1 0h2m-1 0h2m0 0h2m0 0h2m-1 0h2m-1 0h2m1 0h2m-1 0h2m1 0h2m2 0h2m1 0h2M0 56m71 0h2m-1 0h2m1 0h2m1 0h2m4 0h2m1 0h2m-1 0h2m0 0h2m-1 0h2m4 0h2m2 0h2m-1 0h2m0 0h2m0 0h2m0 0h2m1 0h2m0 0h2m-1 0h2m2 0h2m-1 0h2m1 0h2m1 0h2m0 0h2m0 0h2m-1 0h2m-1 0h2m-1 0h2m0 0h2m-1 0h2m1 0h2M0 57m60 0h2m3 0h2m-1 0h2m6 0h2m8 0h2m12 0h2m-1 0h2m-1 0h2m-1 0h2m3 0h2m0 0h2m-1 0h2m-1 0h2m2 0h2m-1 0h2m0 0h2m-1 0h2m3 0h2m-1 0h2m-1 0h2m-1 0h2m-1 0h2m-1 0h2m-1 0h2m1 0h2m0 0h2m3 0h2m1 0h2m-1 0h2M0 58m65 0h2m19 0h2m0 0h2m0 0h2m6 0h2m-1 0h2m5 0h2m-1 0h2m1 0h2m-1 0h2m3 0h2m0 0h2m2 0h2m1 0h2m0 0h2m-1 0h2m1 0h2m0 0h2m-1 0h2m-1 0h2m4 0h2m1 0h2M0 59m71 0h2m15 0h2m4 0h2m7 0h2m-1 0h2m0 0h2m0 0h2m2 0h2m4 0h2m0 0h2m0 0h2m-1 0h2m-1 0h2m-1 0h2m0 0h2m-1 0h2m-1 0h2m0 0h2m-1 0h2m-1 0h2m-1 0h2m1 0h2m-1 0h2m0 0h2m-1 0h2m2 0h2M0 60m59 0h2m5 0h2m16 0h2m3 0h2m2 0h2m-1 0h2m3 0h2m-1 0h2m4 0h2m1 0h2m2 0h2m-1 0h2m0 0h2m1 0h2m1 0h2m1 0h2m-1 0h2m-1 0h2m-1 0h2m0 0h2m0 0h2m-1 0h2m1 0h2m-1 0h2m0 0h2m1 0h2M0 61m76 0h2m0 0h2m6 0h2m0 0h2m4 0h2m-1 0h2m2 0h2m1 0h2m-1 0h2m0 0h2m0 0h2m0 0h2m1 0h2m0 0h2m-1 0h2m6 0h2m-1 0h2m-1 0h2m1 0h2m0 0h2m0 0h2m-1 0h2m0 0h2m-1 0h2m-1 0h2m-1 0h2m-1 0h2M0 62m79 0h2m8 0h2m-1 0h2m7 0h2m1 0h2m4 0h2m5 0h2m2 0h2m-1 0h2m-1 0h2m-1 0h2m4 0h2m-1 0h2m0 0h2m-1 0h2m-1 0h2m-1 0h2m-1 0h2m-1 0h2m5 0h2m0 0h2M0 63m78 0h2m4 0h2m-1 0h2m-1 0h2m-1 0h2m4 0h2m-1 0h2m-1 0h2m1 0h2m0 0h2m1 0h2m-1 0h2m-1 0h2m-1 0h2m2 0h2m1 0h2m-1 0h2m2 0h2m-1 0h2m4 0h2m0 0h2m0 0h2m0 0h2m1 0h2m2 0h2m-1 0h2m0 0h2m1 0h2M0 64m59 0h2m17 0h2m1 0h2m15 0h2m-1 0h2m1 0h2m-1 0h2m2 0h2m2 0h2m1 0h2m-1 0h2m0 0h2m-1 0h2m0 0h2m0 0h2m1 0h2m-1 0h2m4 0h2m-1 0h2m0 0h2m1 0h2m6 0h2M0 65m81 0h2m5 0h2m0 0h2m-1 0h2m-1 0h2m0 0h2m2 0h2m1 0h2m-1 0h2m0 0h2m3 0h2m3 0h2m1 0h2m2 0h2m-1 0h2m-1 0h2m0 0h2m-1 0h2m0 0h2m-1 0h2m-1 0h2m0 0h2m6 0h2M0 66m77 0h2m3 0h2m8 0h2m-1 0h2m-1 0h2m1 0h2m-1 0h2m-1 0h2m7 0h2m1 0h2m-1 0h2m3 0h2m1 0h2m-1 0h2m2 0h2m0 0h2m1 0h2m0 0h2m0 0h2m0 0h2m1 0h2m0 0h2m1 0h2M0 67m80 0h2m12 0h2m2 0h2m0 0h2m-1 0h2m-1 0h2m7 0h2m-1 0h2m1 0h2m-1 0h2m-1 0h2m-1 0h2m-1 0h2m1 0h2m3 0h2m0 0h2m0 0h2m3 0h2m0 0h2m1 0h2M0 68m67 0h2m18 0h2m-1 0h2m2 0h2m0 0h2m5 0h2m2 0h2m1 0h2m0 0h2m3 0h2m-1 0h2m3 0h2m-1 0h2m-1 0h2m0 0h2m5 0h2m-1 0h2m0 0h2m1 0h2m1 0h2m-1 0h2M0 69m90 0h2m13 0h2m-1 0h2m1 0h2m-1 0h2m-1 0h2m0 0h2m6 0h2m4 0h2m-1 0h2m-1 0h2m1 0h2m2 0h2M0 70m62 0h2m22 0h2m13 0h2m-1 0h2m5 0h2m0 0h2m-1 0h2m-1 0h2m-1 0h2m-1 0h2m-1 0h2m-1 0h2m-1 0h2m0 0h2m6 0h2m5 0h2m2 0h2M0 71m57 0h2m30 0h2m4 0h2m0 0h2m-1 0h2m-1 0h2m2 0h2m6 0h2m1 0h2m6 0h2m-1 0h2m-1 0h2m0 0h2m0 0h2m0 0h2m-1 0h2m-1 0h2m7 0h2m0 0h2m1 0h2m-1 0h2M0 72m85 0h2m1 0h2m7 0h2m2 0h2m0 0h2m0 0h2m3 0h2m0 0h2m-1 0h2m-1 0h2m9 0h2m-1 0h2m-1 0h2m3 0h2m10 0h2M0 73m83 0h2m7 0h2m3 0h2m5 0h2m1 0h2m-1 0h2m1 0h2m-1 0h2m0 0h2m-1 0h2m1 0h2m0 0h2m1 0h2m-1 0h2m5 0h2m0 0h2m1 0h2M0 74m55 0h2m31 0h2m-1 0h2m3 0h2m2 0h2m2 0h2m7 0h2m4 0h2m2 0h2m2 0h2m-1 0h2m0 0h2m3 0h2m1 0h2m6 0h2M0 75m89 0h2m6 0h2m5 0h2m3 0h2m12 0h2m1 0h2m1 0h2m5 0h2m0 0h2m2 0h2M0 76m89 0h2m2 0h2m2 0h2m-1 0h2m0 0h2m5 0h2m1 0h2m0 0h2m3 0h2m8 0h2M0 77m84 0h2m-1 0h2m10 0h2m2 0h2m-1 0h2m-1 0h2m1 0h2m-1 0h2m-1 0h2m-1 0h2m2 0h2m2 0h2m7 0h2m9 0h2M0 78m94 0h2m9 0h2m2 0h2m-1 0h2m0 0h2m1 0h2m-1 0h2m0 0h2m0 0h2m-1 0h2m0 0h2m0 0h2m2 0h2m2 0h2M0 79m85 0h2m1 0h2m0 0h2m5 0h2m1 0h2m1 0h2m2 0h2m0 0h2m1 0h2m3 0h2m2 0h2m1 0h2m5 0h2M0 80m79 0h2m6 0h2m15 0h2m2 0h2m3 0h2m5 0h2m0 0h2m10 0h2m-1 0h2m6 0h2M0 81m89 0h2m2 0h2m2 0h2m2 0h2m-1 0h2m2 0h2m0 0h2m0 0h2m-1 0h2m0 0h2m1 0h2m-1 0h2m2 0h2m-1 0h2m-1 0h2m2 0h2m-1 0h2M0 82m96 0h2m3 0h2m-1 0h2m1 0h2m4 0h2m3 0h2m0 0h2m-1 0h2m9 0h2m9 0h2M0 83m93 0h2m-1 0h2m0 0h2m1 0h2m0 0h2m6 0h2m4 0h2m1 0h2m1 0h2m11 0h2m1 0h2M0 84m98 0h2m0 0h2m1 0h2m7 0h2m2 0h2m5 0h2m0 0h2m0 0h2M0 85m88 0h2m16 0h2m3 0h2m0 0h2m0 0h2m1 0h2m0 0h2m-1 0h2m2 0h2m2 0h2m1 0h2m1 0h2M0 86m101 0h2m0 0h2m2 0h2m3 0h2m-1 0h2m-1 0h2m0 0h2m3 0h2m4 0h2m0 0h2m1 0h2m2 0h2M0 87m83 0h2m10 0h2m1 0h2m3 0h2m2 0h2m2 0h2m1 0h2m1 0h2m0 0h2m2 0h2m0 0h2m4 0h2M0 88m90 0h2m1 0h2m4 0h2m4 0h2m1 0h2m-1 0h2m3 0h2m-1 0h2m-1 0h2m-1 0h2m-1 0h2m9 0h2m-1 0h2M0 89m84 0h2m12 0h2m2 0h2m3 0h2m9 0h2m3 0h2m0 0h2m-1 0h2m6 0h2M0 90m98 0h2m1 0h2m2 0h2m-1 0h2m0 0h2m0 0h2m0 0h2m1 0h2m-1 0h2m24 0h2M0 91m100 0h2m0 0h2m4 0h2m4 0h2m1 0h2m-1 0h2m0 0h2m-1 0h2m4 0h2m2 0h2M0 92m99 0h2m-1 0h2m1 0h2m-1 0h2m5 0h2m3 0h2m-1 0h2m2 0h2m-1 0h2m2 0h2m2 0h2m-1 0h2m2 0h2m1 0h2M0 93m88 0h2m6 0h2m3 0h2m4 0h2m1 0h2m-1 0h2m2 0h2m1 0h2m3 0h2m7 0h2m0 0h2m8 0h2M0 94m110 0h2m3 0h2m4 0h2m-1 0h2m0 0h2m4 0h2m1 0h2M0 95m100 0h2m0 0h2m-1 0h2m1 0h2m0 0h2m1 0h2m1 0h2m11 0h2m4 0h2m4 0h2M0 96m97 0h2m2 0h2m5 0h2m3 0h2m5 0h2m1 0h2M0 97m97 0h2m4 0h2m0 0h2m1 0h2m8 0h2m-1 0h2m11 0h2m0 0h2M0 98m103 0h2m1 0h2m1 0h2m3 0h2m0 0h2m0 0h2m8 0h2m0 0h2m6 0h2M0 99m92 0h2m5 0h2m-1 0h2m7 0h2m9 0h2m7 0h2m-1 0h2m1 0h2m2 0h2M0 100m131 0h2m8 0h2M0 101m98 0h2m4 0h2m2 0h2m0 0h2m1 0h2m-1 0h2m7 0h2m0 0h2m2 0h2m6 0h2M0 102m105 0h2m6 0h2m6 0h2m5 0h2m4 0h2m4 0h2M0 103m111 0h2M0 104m109 0h2m4 0h2m-1 0h2m3 0h2m15 0h2M0 105m88 0h2m6 0h2m3 0h2m14 0h2m3 0h2m1 0h2m-1 0h2M0 106m105 0h2m22 0h2M0 107m101 0h2m0 0h2m4 0h2m2 0h2m0 0h2m-1 0h2m2 0h2m-1 0h2M0 108m103 0h2m7 0h2m4 0h2m4 0h2M0 109m90 0h2m25 0h2m-1 0h2m13 0h2m9 0h2M0 110m119 0h2m0 0h2m3 0h2m3 0h2M0 111m109 0h2m1 0h2m4 0h2m22 0h2M0 112m90 0h2m7 0h2m9 0h2m-1 0h2m7 0h2M0 113m92 0h2m0 0h2m15 0h2m9 0h2M0 114m110 0h2m2 0h2m15 0h2M0 115m144 0h2M0 116m95 0h2m3 0h2m1 0h2m5 0h2m3 0h2M0 117m106 0h2m1 0h2m3 0h2m7 0h2M0 118m98 0h2m22 0h2M0 119m101 0h2M0 120m119 0h2m0 0h2m9 0h2M0 122m118 0h2M0 123m127 0h2M0 124m115 0h2M0 126m106 0h2m18 0h2M0 127m104 0h2m4 0h2M0 130m106 0h2m2 0h2M0 131m133 0h2M0 133m114 0h2M0 134m91 0h2M0 138m116 0h2M0 146m129 0h2"/>
<path stroke-opacity=".37" d="M0 6m92 0h2m53 0h2M0 7m208 0h2M0 8m14 0h2M0 9m141 0h2M0 11m152 0h2M0 12m71 0h2M0 15m59 0h2m58 0h2M0 16m37 0h2m53 0h2M0 17m51 0h2m30 0h2M0 19m102 0h2m9 0h2M0 20m68 0h2M0 22m43 0h2m8 0h2m9 0h2m13 0h2m1 0h2M0 23m7 0h2M0 24m33 0h2m45 0h2M0 25m52 0h2M0 26m28 0h2m24 0h2m14 0h2M0 27m18 0h2m20 0h2m76 0h2M0 28m65 0h2m10 0h2M0 30m25 0h2m21 0h2m6 0h2m50 0h2M0 31m22 0h2m9 0h2m5 0h2m6 0h2m-1 0h2m1 0h2m6 0h2m39 0h2M0 32m33 0h2m15 0h2m4 0h2m-1 0h2m30 0h2m4 0h2M0 33m27 0h2m31 0h2m9 0h2m25 0h2m10 0h2m20 0h2M0 34m56 0h2m11 0h2M0 35m30 0h2m17 0h2m12 0h2m14 0h2m-1 0h2m-1 0h2M0 36m27 0h2m19 0h2m10 0h2m3 0h2M0 37m60 0h2m9 0h2m5 0h2m75 0h2M0 38m65 0h2m1 0h2M0 39m5 0h2m14 0h2m18 0h2m14 0h2m1 0h2m21 0h2M0 40m61 0h2m16 0h2m32 0h2M0 41m27 0h2m14 0h2m5 0h2m10 0h2m36 0h2m13 0h2m12 0h2M0 42m30 0h2m8 0h2m48 0h2M0 43m63 0h2M0 44m28 0h2m20 0h2m14 0h2m24 0h2m17 0h2M0 45m33 0h2m17 0h2m4 0h2m-1 0h2m3 0h2m2 0h2m0 0h2M0 46m11 0h2m21 0h2m10 0h2m19 0h2m4 0h2m3 0h2M0 47m19 0h2m3 0h2m24 0h2m1 0h2m2 0h2m19 0h2m3 0h2M0 48m28 0h2m12 0h2m4 0h2m2 0h2m1 0h2m-1 0h2m0 0h2m1 0h2m0 0h2m11 0h2M0 49m21 0h2m0 0h2m5 0h2m22 0h2m7 0h2m4 0h2m7 0h2m1 0h2m-1 0h2m-1 0h2m22 0h2m59 0h2M0 50m36 0h2m23 0h2m0 0h2m6 0h2m16 0h2m0 0h2M0 51m6 0h2m31 0h2m1 0h2m2 0h2m3 0h2m23 0h2m30 0h2M0 52m48 0h2m9 0h2m0 0h2m22 0h2m7 0h2m15 0h2M0 53m28 0h2m0 0h2m4 0h2m9 0h2m5 0h2m13 0h2m29 0h2M0 54m28 0h2m9 0h2m17 0h2m10 0h2m1 0h2m5 0h2m3 0h2m26 0h2M0 55m12 0h2m23 0h2m4 0h2m6 0h2m1 0h2m17 0h2m-1 0h2m1 0h2M0 56m62 0h2m6 0h2m5 0h2m10 0h2M0 57m40 0h2m3 0h2m12 0h2m0 0h2m0 0h2m0 0h2m7 0h2m0 0h2M0 58m35 0h2m9 0h2m3 0h2m2 0h2m2 0h2m11 0h2m12 0h2m1 0h2m35 0h2M0 59m7 0h2m34 0h2m1 0h2m-1 0h2m11 0h2m1 0h2m1 0h2m1 0h2m6 0h2m-1 0h2m12 0h2M0 60m40 0h2m7 0h2m20 0h2m0 0h2m-1 0h2m10 0h2M0 61m34 0h2m15 0h2m-1 0h2m30 0h2m-1 0h2M0 62m33 0h2m6 0h2m2 0h2m1 0h2m30 0h2m16 0h2m2 0h2M0 63m40 0h2m16 0h2m-1 0h2m41 0h2M0 64m36 0h2m8 0h2m1 0h2m3 0h2m-1 0h2m2 0h2m0 0h2m20 0h2m81 0h2M0 65m18 0h2m24 0h2m1 0h2m10 0h2m34 0h2M0 66m41 0h2m1 0h2m8 0h2m3 0h2m14 0h2m0 0h2m76 0h2M0 67m41 0h2m38 0h2m3 0h2m8 0h2M0 68m34 0h2m6 0h2m6 0h2m17 0h2m17 0h2m2 0h2m6 0h2m36 0h2M0 69m16 0h2m16 0h2m15 0h2m7 0h2m0 0h2m14 0h2m2 0h2m6 0h2m70 0h2M0 70m33 0h2m1 0h2m4 0h2m6 0h2m61 0h2m11 0h2m59 0h2M0 71m22 0h2m5 0h2m0 0h2m1 0h2m4 0h2m2 0h2m4 0h2m-1 0h2m4 0h2m3 0h2m9 0h2m-1 0h2m32 0h2m11 0h2M0 72m63 0h2m-1 0h2m9 0h2m9 0h2m1 0h2m1 0h2M0 73m26 0h2m7 0h2m-1 0h2m29 0h2m5 0h2m40 0h2M0 74m42 0h2m8 0h2m13 0h2m4 0h2m3 0h2m17 0h2M0 75m8 0h2m45 0h2m5 0h2m8 0h2m34 0h2m18 0h2M0 76m40 0h2m4 0h2m15 0h2m7 0h2m32 0h2m77 0h2M0 77m41 0h2m16 0h2m1 0h2m12 0h2m1 0h2m41 0h2M0 78m34 0h2m4 0h2m27 0h2m9 0h2M0 79m24 0h2m3 0h2m4 0h2m5 0h2m5 0h2m14 0h2m27 0h2m26 0h2M0 80m42 0h2m10 0h2m1 0h2m16 0h2m5 0h2m10 0h2M0 81m56 0h2m0 0h2m12 0h2m1 0h2m22 0h2m4 0h2M0 82m11 0h2m-1 0h2m8 0h2m9 0h2m-1 0h2m7 0h2m14 0h2m19 0h2m4 0h2m-1 0h2M0 83m21 0h2m36 0h2m8 0h2m6 0h2m-1 0h2m6 0h2m3 0h2m2 0h2m2 0h2m4 0h2M0 84m25 0h2m10 0h2m21 0h2m1 0h2m13 0h2m4 0h2m5 0h2m22 0h2M0 85m64 0h2m7 0h2m-1 0h2m0 0h2m5 0h2m1 0h2m17 0h2m2 0h2M0 86m32 0h2m8 0h2m2 0h2m42 0h2m14 0h2M0 87m22 0h2m2 0h2m4 0h2m71 0h2m19 0h2M0 88m48 0h2m4 0h2m5 0h2m2 0h2m24 0h2m7 0h2m10 0h2M0 89m18 0h2m21 0h2m9 0h2m16 0h2m3 0h2m4 0h2m3 0h2m13 0h2m13 0h2m42 0h2M0 90m37 0h2m0 0h2m12 0h2m12 0h2m16 0h2m27 0h2M0 91m44 0h2m14 0h2m5 0h2m25 0h2M0 92m46 0h2m-1 0h2m1 0h2m6 0h2m30 0h2m-1 0h2m11 0h2m14 0h2M0 93m38 0h2m47 0h2m10 0h2M0 94m28 0h2m13 0h2m3 0h2m15 0h2m25 0h2m0 0h2m1 0h2m6 0h2m10 0h2m3 0h2m32 0h2M0 95m48 0h2m3 0h2m8 0h2m20 0h2m23 0h2m-1 0h2m57 0h2M0 96m55 0h2m1 0h2m7 0h2m3 0h2m8 0h2m0 0h2m0 0h2m7 0h2m27 0h2M0 97m56 0h2m1 0h2m41 0h2m0 0h2m-1 0h2m5 0h2m-1 0h2m2 0h2M0 98m50 0h2m5 0h2m19 0h2m3 0h2m3 0h2m1 0h2m8 0h2m0 0h2m3 0h2m17 0h2m4 0h2M0 99m42 0h2m4 0h2m20 0h2m3 0h2m22 0h2m7 0h2m91 0h2M0 100m42 0h2m0 0h2m21 0h2m-1 0h2m30 0h2m2 0h2m4 0h2m78 0h2M0 101m36 0h2m15 0h2m13 0h2m7 0h2m0 0h2m6 0h2m10 0h2m0 0h2m5 0h2m8 0h2M0 102m84 0h2m8 0h2m2 0h2m-1 0h2m1 0h2m6 0h2m0 0h2m4 0h2M0 103m78 0h2m9 0h2m3 0h2m10 0h2m75 0h2M0 104m47 0h2m50 0h2m9 0h2m0 0h2m0 0h2m-1 0h2m0 0h2M0 105m49 0h2m24 0h2m1 0h2m14 0h2m1 0h2m7 0h2m-1 0h2m0 0h2m0 0h2m-1 0h2m11 0h2m35 0h2M0 106m53 0h2m6 0h2m37 0h2m2 0h2m1 0h2m2 0h2m2 0h2m26 0h2M0 107m49 0h2m4 0h2m-1 0h2m8 0h2m8 0h2m13 0h2m7 0h2m3 0h2m-1 0h2m3 0h2m-1 0h2m1 0h2m7 0h2m5 0h2M0 108m44 0h2m35 0h2m1 0h2m1 0h2m12 0h2m0 0h2m7 0h2m0 0h2M0 109m83 0h2m1 0h2m7 0h2m1 0h2m1 0h2m0 0h2m4 0h2m13 0h2M0 110m20 0h2m1 0h2m66 0h2m2 0h2m8 0h2m15 0h2M0 111m83 0h2m16 0h2m9 0h2m0 0h2m1 0h2M0 112m63 0h2m5 0h2m0 0h2m18 0h2m4 0h2m2 0h2m-1 0h2m0 0h2m5 0h2m6 0h2m-1 0h2m0 0h2m4 0h2m15 0h2M0 113m73 0h2m14 0h2m1 0h2m0 0h2m3 0h2m1 0h2m4 0h2m-1 0h2m0 0h2m3 0h2m2 0h2m7 0h2m2 0h2M0 114m61 0h2m28 0h2m11 0h2m6 0h2m14 0h2M0 115m87 0h2m15 0h2m6 0h2m-1 0h2m4 0h2m2 0h2m6 0h2M0 116m80 0h2m6 0h2m2 0h2m3 0h2m0 0h2m3 0h2m0 0h2m3 0h2m-1 0h2m0 0h2m8 0h2m40 0h2M0 117m73 0h2m10 0h2m11 0h2m1 0h2m-1 0h2m-1 0h2m0 0h2m7 0h2m1 0h2m2 0h2m6 0h2m-1 0h2M0 118m64 0h2m24 0h2m0 0h2m8 0h2m1 0h2m-1 0h2m-1 0h2m2 0h2m-1 0h2m-1 0h2m0 0h2m-1 0h2m12 0h2M0 119m55 0h2m6 0h2m34 0h2m3 0h2m-1 0h2m2 0h2m1 0h2m2 0h2m2 0h2m6 0h2m-1 0h2m2 0h2M0 120m63 0h2m13 0h2m4 0h2m2 0h2m4 0h2m0 0h2m2 0h2m-1 0h2m-1 0h2m3 0h2m0 0h2m3 0h2m-1 0h2m-1 0h2m0 0h2m1 0h2m0 0h2m9 0h2M0 121m39 0h2m21 0h2m23 0h2m2 0h2m7 0h2m-1 0h2m0 0h2m0 0h2m0 0h2m0 0h2m-1 0h2m0 0h2m4 0h2m-1 0h2m0 0h2M0 122m80 0h2m3 0h2m14 0h2m13 0h2m-1 0h2m2 0h2m5 0h2m25 0h2M0 123m21 0h2m49 0h2m14 0h2m0 0h2m8 0h2m6 0h2m6 0h2m17 0h2M0 124m47 0h2m9 0h2m12 0h2m13 0h2m1 0h2m3 0h2m0 0h2m0 0h2m0 0h2m1 0h2m-1 0h2m-1 0h2m-1 0h2m2 0h2m3 0h2m16 0h2M0 125m55 0h2m10 0h2m0 0h2m7 0h2m1 0h2m9 0h2m0 0h2m1 0h2m2 0h2m-1 0h2m-1 0h2m-1 0h2m0 0h2m-1 0h2m0 0h2m-1 0h2m-1 0h2m-1 0h2m2 0h2m0 0h2M0 126m52 0h2m12 0h2m14 0h2m5 0h2m-1 0h2m2 0h2m0 0h2m1 0h2m-1 0h2m5 0h2m-1 0h2m3 0h2m1 0h2m11 0h2m3 0h2m1 0h2M0 127m50 0h2m3 0h2m2 0h2m15 0h2m7 0h2m-1 0h2m5 0h2m0 0h2m0 0h2m9 0h2m-1 0h2m2 0h2m0 0h2m2 0h2m-1 0h2M0 128m60 0h2m12 0h2m6 0h2m2 0h2m6 0h2m4 0h2m1 0h2m2 0h2m-1 0h2m1 0h2m2 0h2m1 0h2m0 0h2m1 0h2m12 0h2M0 129m57 0h2m16 0h2m3 0h2m8 0h2m1 0h2m0 0h2m0 0h2m2 0h2m-1 0h2m0 0h2m2 0h2m0 0h2m-1 0h2m0 0h2m0 0h2m0 0h2m-1 0h2m1 0h2m-1 0h2m4 0h2M0 130m44 0h2m57 0h2m1 0h2m-1 0h2m0 0h2m1 0h2m0 0h2m4 0h2m1 0h2m2 0h2m3 0h2m26 0h2M0 131m50 0h2m24 0h2m-1 0h2m1 0h2m2 0h2m-1 0h2m1 0h2m2 0h2m-1 0h2m0 0h2m3 0h2m5 0h2m0 0h2m0 0h2m-1 0h2m1 0h2m0 0h2m-1 0h2m5 0h2m8 0h2M0 132m78 0h2m0 0h2m1 0h2m10 0h2m0 0h2m2 0h2m-1 0h2m-1 0h2m-1 0h2m-1 0h2m1 0h2m-1 0h2m-1 0h2m5 0h2m5 0h2M0 133m54 0h2m5 0h2m20 0h2m1 0h2m3 0h2m-1 0h2m5 0h2m0 0h2m-1 0h2m-1 0h2m0 0h2m1 0h2m-1 0h2m0 0h2m-1 0h2m-1 0h2m0 0h2m-1 0h2m12 0h2m0 0h2M0 134m55 0h2m1 0h2m7 0h2m-1 0h2m5 0h2m1 0h2m3 0h2m9 0h2m-1 0h2m5 0h2m3 0h2m1 0h2m-1 0h2m7 0h2m21 0h2M0 135m82 0h2m4 0h2m0 0h2m8 0h2m2 0h2m-1 0h2m0 0h2m1 0h2m5 0h2m-1 0h2m0 0h2M0 136m80 0h2m-1 0h2m-1 0h2m0 0h2m-1 0h2m5 0h2m-1 0h2m-1 0h2m-1 0h2m2 0h2m-1 0h2m1 0h2m-1 0h2m2 0h2m3 0h2m-1 0h2m3 0h2m2 0h2M0 137m58 0h2m8 0h2m6 0h2m12 0h2m2 0h2m3 0h2m0 0h2m-1 0h2m0 0h2m-1 0h2m-1 0h2m2 0h2m0 0h2m4 0h2m0 0h2m2 0h2m3 0h2m0 0h2m6 0h2m-1 0h2M0 138m54 0h2m2 0h2m16 0h2m0 0h2m0 0h2m1 0h2m-1 0h2m4 0h2m0 0h2m-1 0h2m-1 0h2m2 0h2m1 0h2m2 0h2m2 0h2m4 0h2m7 0h2m0 0h2m2 0h2m-1 0h2M0 139m50 0h2m7 0h2m-1 0h2m11 0h2m3 0h2m-1 0h2m-1 0h2m-1 0h2m2 0h2m3 0h2m5 0h2m-1 0h2m0 0h2m2 0h2m0 0h2m-1 0h2m2 0h2m2 0h2m5 0h2m-1 0h2m0 0h2m-1 0h2M0 140m66 0h2m5 0h2m10 0h2m-1 0h2m-1 0h2m0 0h2m0 0h2m3 0h2m1 0h2m2 0h2m1 0h2m0 0h2m0 0h2m-1 0h2m2 0h2m1 0h2m1 0h2m-1 0h2M0 141m34 0h2m10 0h2m19 0h2m1 0h2m3 0h2m1 0h2m3 0h2m4 0h2m-1 0h2m2 0h2m4 0h2m-1 0h2m2 0h2m1 0h2m2 0h2m-1 0h2m0 0h2m-1 0h2m3 0h2m0 0h2m2 0h2m2 0h2M0 142m4 0h2m36 0h2m8 0h2m2 0h2m10 0h2m-1 0h2m0 0h2m8 0h2m8 0h2m-1 0h2m5 0h2m1 0h2m-1 0h2m-1 0h2m8 0h2m-1 0h2m1 0h2m-1 0h2m8 0h2M0 143m36 0h2m-1 0h2m5 0h2m11 0h2m0 0h2m5 0h2m2 0h2m0 0h2m1 0h2m3 0h2m4 0h2m0 0h2m6 0h2m0 0h2m-1 0h2m2 0h2m0 0h2m3 0h2m-1 0h2m12 0h2m-1 0h2M0 144m34 0h2m6 0h2m36 0h2m4 0h2m6 0h2m4 0h2m-1 0h2m0 0h2m0 0h2m3 0h2m-1 0h2m-1 0h2m0 0h2m-1 0h2m-1 0h2m0 0h2m12 0h2M0 145m49 0h2m11 0h2m2 0h2m2 0h2m1 0h2m1 0h2m4 0h2m-1 0h2m1 0h2m-1 0h2m9 0h2m6 0h2m4 0h2m-1 0h2m0 0h2m0 0h2m-1 0h2m-1 0h2m-1 0h2M0 146m47 0h2m27 0h2m2 0h2m-1 0h2m2 0h2m6 0h2m3 0h2m1 0h2m-1 0h2m2 0h2m0 0h2m-1 0h2m1 0h2m0 0h2m4 0h2m0 0h2m-1 0h2m0 0h2m1 0h2m-1 0h2M0 147m17 0h2m27 0h2m9 0h2m8 0h2m-1 0h2m9 0h2m0 0h2m1 0h2m5 0h2m0 0h2m1 0h2m1 0h2m5 0h2m-1 0h2m1 0h2m1 0h2m-1 0h2m-1 0h2m0 0h2m11 0h2m1 0h2M0 148m45 0h2m1 0h2m-1 0h2m3 0h2m0 0h2m-1 0h2m7 0h2m0 0h2m7 0h2m0 0h2m14 0h2m2 0h2m-1 0h2m0 0h2m1 0h2m3 0h2m8 0h2m4 0h2m1 0h2M0 149m44 0h2m11 0h2m2 0h2m1 0h2m-1 0h2m13 0h2m8 0h2m2 0h2m0 0h2m4 0h2m-1 0h2m1 0h2m0 0h2m2 0h2m4 0h2m2 0h2m5 0h2M0 150m38 0h2m13 0h2m9 0h2m3 0h2m11 0h2m-1 0h2m0 0h2m7 0h2m0 0h2m-1 0h2m1 0h2m-1 0h2m-1 0h2m0 0h2m3 0h2m0 0h2m-1 0h2m0 0h2m3 0h2m4 0h2m-1 0h2m17 0h2M0 151m20 0h2m12 0h2m-1 0h2m20 0h2m11 0h2m-1 0h2m9 0h2m3 0h2m2 0h2m3 0h2m-1 0h2m0 0h2m-1 0h2m5 0h2m-1 0h2m2 0h2m1 0h2M0 152m34 0h2m11 0h2m1 0h2m3 0h2m5 0h2m34 0h2m4 0h2m0 0h2m3 0h2m-1 0h2m-1 0h2m11 0h2M0 153m35 0h2m3 0h2m0 0h2m16 0h2m-1 0h2m21 0h2m0 0h2m4 0h2m-1 0h2m4 0h2m1 0h2m-1 0h2m0 0h2m3 0h2m-1 0h2m9 0h2M0 154m24 0h2m18 0h2m3 0h2m14 0h2m13 0h2m9 0h2m0 0h2m3 0h2m-1 0h2m2 0h2m0 0h2m-1 0h2m0 0h2m5 0h2m4 0h2m39 0h2M0 155m38 0h2m5 0h2m1 0h2m24 0h2m1 0h2m18 0h2m12 0h2m-1 0h2m11 0h2M0 156m59 0h2m0 0h2m1 0h2m4 0h2m10 0h2m-1 0h2m0 0h2m5 0h2m11 0h2m2 0h2m7 0h2m-1 0h2m23 0h2M0 157m38 0h2m0 0h2m16 0h2m6 0h2m9 0h2m2 0h2m12 0h2m-1 0h2m1 0h2m7 0h2m5 0h2m-1 0h2m0 0h2M0 158m30 0h2m0 0h2m0 0h2m9 0h2m13 0h2m-1 0h2m3 0h2m9 0h2m5 0h2m9 0h2m0 0h2m-1 0h2m0 0h2m6 0h2m3 0h2m-1 0h2m0 0h2m2 0h2m11 0h2M0 159m9 0h2m35 0h2m3 0h2m9 0h2m8 0h2m1 0h2m0 0h2m-1 0h2m0 0h2m5 0h2m-1 0h2m0 0h2m-1 0h2m5 0h2m2 0h2m-1 0h2m0 0h2m1 0h2m1 0h2m1 0h2m-1 0h2m-1 0h2m4 0h2m1 0h2m18 0h2M0 160m23 0h2m13 0h2m14 0h2m3 0h2m12 0h2m15 0h2m1 0h2m-1 0h2m2 0h2m1 0h2m2 0h2m7 0h2m13 0h2m0 0h2M0 161m13 0h2m8 0h2m10 0h2m7 0h2m8 0h2m0 0h2m10 0h2m8 0h2m12 0h2m4 0h2m2 0h2m8 0h2m10 0h2m43 0h2M0 162m4 0h2m39 0h2m4 0h2m0 0h2m1 0h2m2 0h2m1 0h2m-1 0h2m14 0h2m3 0h2m14 0h2m3 0h2m3 0h2m-1 0h2m-1 0h2m-1 0h2m-1 0h2m4 0h2M0 163m23 0h2m21 0h2m9 0h2m3 0h2m4 0h2m5 0h2m5 0h2m-1 0h2m2 0h2m6 0h2m6 0h2m-1 0h2m-1 0h2m1 0h2m0 0h2m-1 0h2m3 0h2m4 0h2m1 0h2M0 164m58 0h2m12 0h2m1 0h2m1 0h2m6 0h2m-1 0h2m-1 0h2m4 0h2m5 0h2m0 0h2m2 0h2m3 0h2m3 0h2m1 0h2m8 0h2M0 165m40 0h2m16 0h2m4 0h2m7 0h2m11 0h2m5 0h2m4 0h2m-1 0h2m3 0h2m3 0h2m0 0h2m0 0h2m1 0h2m3 0h2m8 0h2M0 166m25 0h2m1 0h2m13 0h2m2 0h2m8 0h2m1 0h2m0 0h2m3 0h2m18 0h2m-1 0h2m3 0h2m5 0h2m7 0h2m4 0h2m1 0h2m4 0h2M0 167m35 0h2m18 0h2m0 0h2m4 0h2m-1 0h2m1 0h2m4 0h2m0 0h2m2 0h2m7 0h2m4 0h2m2 0h2m-1 0h2m3 0h2m-1 0h2m-1 0h2m7 0h2m1 0h2m-1 0h2M0 168m54 0h2m2 0h2m2 0h2m3 0h2m12 0h2m2 0h2m4 0h2m1 0h2m1 0h2m1 0h2m2 0h2m13 0h2m7 0h2M0 169m23 0h2m9 0h2m0 0h2m6 0h2m0 0h2m2 0h2m-1 0h2m-1 0h2m12 0h2m5 0h2m2 0h2m-1 0h2m4 0h2m-1 0h2m1 0h2m2 0h2m14 0h2m-1 0h2m-1 0h2M0 170m38 0h2m11 0h2m2 0h2m14 0h2m-1 0h2m8 0h2m6 0h2m7 0h2m7 0h2m5 0h2M0 171m11 0h2m10 0h2m7 0h2m21 0h2m1 0h2m8 0h2m-1 0h2m2 0h2m-1 0h2m15 0h2m3 0h2m0 0h2m8 0h2m-1 0h2m-1 0h2m0 0h2m14 0h2M0 172m12 0h2m28 0h2m1 0h2m-1 0h2m26 0h2m9 0h2m12 0h2M0 173m36 0h2m-1 0h2m11 0h2m0 0h2m1 0h2m1 0h2m-1 0h2m-1 0h2m2 0h2m9 0h2m1 0h2m2 0h2m-1 0h2m-1 0h2m-1 0h2m24 0h2m-1 0h2m0 0h2m15 0h2M0 174m38 0h2m8 0h2m5 0h2m7 0h2m14 0h2m21 0h2m10 0h2m4 0h2m0 0h2M0 175m22 0h2m4 0h2m12 0h2m5 0h2m3 0h2m2 0h2m17 0h2m19 0h2m10 0h2m1 0h2m4 0h2m73 0h2M0 176m60 0h2m5 0h2m5 0h2m6 0h2m11 0h2m6 0h2m0 0h2m11 0h2M0 177m36 0h2m11 0h2m3 0h2m1 0h2m1 0h2m3 0h2m12 0h2m1 0h2m15 0h2m9 0h2m8 0h2M0 178m33 0h2m2 0h2m9 0h2m3 0h2m8 0h2m-1 0h2m20 0h2m1 0h2m-1 0h2m11 0h2m3 0h2M0 179m35 0h2m0 0h2m6 0h2m0 0h2m18 0h2m2 0h2m28 0h2m4 0h2m4 0h2m-1 0h2M0 180m55 0h2m14 0h2m5 0h2m3 0h2m13 0h2m2 0h2m14 0h2M0 181m66 0h2m9 0h2m3 0h2m4 0h2m18 0h2m-1 0h2m12 0h2M0 182m26 0h2m9 0h2m5 0h2m22 0h2m54 0h2M0 183m31 0h2m2 0h2m5 0h2m0 0h2m16 0h2m4 0h2m16 0h2m1 0h2M0 184m45 0h2m3 0h2m1 0h2m0 0h2m10 0h2m8 0h2m5 0h2m31 0h2M0 185m7 0h2m-1 0h2m18 0h2m3 0h2m7 0h2m6 0h2m6 0h2m-1 0h2m0 0h2m-1 0h2m1 0h2m-1 0h2m5 0h2m32 0h2M0 186m24 0h2m36 0h2m27 0h2m8 0h2m5 0h2M0 187m18 0h2m8 0h2m2 0h2m23 0h2m27 0h2m18 0h2M0 188m9 0h2m0 0h2m26 0h2m-1 0h2m17 0h2m2 0h2m0 0h2m42 0h2m2 0h2M0 189m21 0h2m10 0h2m12 0h2m8 0h2m19 0h2m0 0h2m25 0h2M0 190m36 0h2m1 0h2m54 0h2m10 0h2M0 191m24 0h2m19 0h2m29 0h2M0 192m33 0h2m8 0h2m5 0h2m11 0h2m3 0h2M0 193m30 0h2m14 0h2m-1 0h2m21 0h2m23 0h2m1 0h2M0 194m26 0h2m-1 0h2m27 0h2m18 0h2m19 0h2m13 0h2m9 0h2M0 195m21 0h2m2 0h2m27 0h2m10 0h2m37 0h2M0 196m34 0h2m5 0h2m6 0h2m43 0h2M0 197m27 0h2m13 0h2m23 0h2M0 198m49 0h2m38 0h2m21 0h2M0 199m48 0h2m4 0h2m9 0h2M0 200m34 0h2m28 0h2m0 0h2M0 201m51 0h2m6 0h2m41 0h2M0 202m9 0h2m1 0h2m31 0h2m20 0h2m26 0h2M0 203m52 0h2m42 0h2m31 0h2M0 204m59 0h2m107 0h2M0 205m69 0h2m55 0h2M0 206m142 0h2M0 207m57 0h2M0 208m39 0h2M0 209m35 0h2m60 0h2m71 0h2M0 210m14 0h2m53 0h2m0 0h2"/>
</g></g>
<path d="M0 0H108.0V107.2" fill="none" stroke="#c4c4c4" stroke-width="1"/>
<path d="M0 0V107.2" fill="none" stroke="#555" stroke-width="1.3"/>
<path d="M0 107.2H108.0" fill="none" stroke="#777" stroke-width="1"/>
<path d="M-1 2V99.2" stroke="#666" stroke-width="1.2" stroke-dasharray="0.7 1.9" fill="none"/>
<path d="M8 108.5H104.0" stroke="#888" stroke-width="1.8" stroke-dasharray="0.7 2.1" fill="none"/>
<path d="M-2.8 9.3H0" stroke="#444" stroke-width="1"/>
<path d="M-2.8 33.6H0" stroke="#444" stroke-width="1"/>
<path d="M-2.8 58.3H0" stroke="#444" stroke-width="1"/>
<path d="M-2.8 84.5H0" stroke="#444" stroke-width="1"/>
<path d="M-2.8 96.2H0" stroke="#444" stroke-width="1"/>
<path d="M11.2 107.2v3" stroke="#555" stroke-width="1"/>
<path d="M22.7 107.2v3" stroke="#555" stroke-width="1"/>
<path d="M49.2 107.2v3" stroke="#555" stroke-width="1"/>
<path d="M73.4 107.2v3" stroke="#555" stroke-width="1"/>
<path d="M97.8 107.2v3" stroke="#555" stroke-width="1"/>
<path d="M0 58.3H108.0M48.8 0V107.2" fill="none" stroke="#6e6e6e" stroke-width="1"/>
</g>
<g transform="translate(249.7 24.0)">
<ellipse cx="69.5" cy="44" rx="3.2" ry="9" fill="#000" opacity="0.45" filter="url(#b)"/>
<g filter="url(#s)"><g transform="scale(.5)" fill="none" stroke="#000" stroke-width="2" stroke-opacity=".46">
<path d="M0 16m136 0h2M0 30m109 0h2M0 32m138 0h2M0 33m129 0h2m5 0h2M0 34m125 0h2m3 0h2M0 35m132 0h2M0 36m130 0h2m0 0h2M0 37m135 0h2M0 41m140 0h2M0 42m146 0h2M0 43m137 0h2M0 45m148 0h2M0 46m130 0h2M0 47m108 0h2m25 0h2m6 0h2M0 48m136 0h2M0 50m131 0h2m1 0h2M0 51m131 0h2m5 0h2m5 0h2M0 52m109 0h2M0 53m125 0h2m3 0h2m0 0h2m3 0h2m2 0h2m1 0h2M0 54m144 0h2m1 0h2M0 55m135 0h2m-1 0h2m5 0h2m13 0h2M0 56m138 0h2m1 0h2M0 57m134 0h2m0 0h2m2 0h2M0 58m136 0h2m7 0h2M0 59m132 0h2m0 0h2m9 0h2m2 0h2M0 60m131 0h2m1 0h2m4 0h2m0 0h2m2 0h2M0 61m125 0h2m0 0h2m2 0h2m-1 0h2m1 0h2m6 0h2M0 62m128 0h2m9 0h2m1 0h2M0 63m128 0h2m0 0h2m1 0h2m0 0h2m-1 0h2m4 0h2m4 0h2M0 64m99 0h2m32 0h2m2 0h2m2 0h2m7 0h2m-1 0h2M0 65m123 0h2m4 0h2m17 0h2m0 0h2M0 66m124 0h2m1 0h2m5 0h2m0 0h2m3 0h2m0 0h2m2 0h2m0 0h2m0 0h2m1 0h2M0 67m133 0h2m3 0h2m0 0h2m-1 0h2m9 0h2M0 68m126 0h2m1 0h2m-1 0h2m0 0h2m2 0h2m4 0h2m-1 0h2m4 0h2M0 69m131 0h2m-1 0h2m-1 0h2m1 0h2m6 0h2M0 70m130 0h2m2 0h2m1 0h2m-1 0h2m-1 0h2m-1 0h2m0 0h2m4 0h2m-1 0h2M0 71m114 0h2m19 0h2m3 0h2m1 0h2m-1 0h2m1 0h2m-1 0h2M0 72m108 0h2m12 0h2m0 0h2m5 0h2m1 0h2m5 0h2m6 0h2M0 73m123 0h2m6 0h2m2 0h2m-1 0h2m3 0h2m0 0h2m1 0h2m-1 0h2m1 0h2M0 74m140 0h2m3 0h2m-1 0h2m-1 0h2m-1 0h2m-1 0h2m1 0h2M0 75m119 0h2m12 0h2m-1 0h2m-1 0h2m-1 0h2m1 0h2m0 0h2m0 0h2M0 76m125 0h2m3 0h2m8 0h2m-1 0h2m0 0h2m6 0h2M0 77m116 0h2m9 0h2m1 0h2m1 0h2m1 0h2m0 0h2m1 0h2m-1 0h2m7 0h2M0 78m116 0h2m4 0h2m3 0h2m6 0h2m-1 0h2m1 0h2m-1 0h2m-1 0h2m-1 0h2m-1 0h2m-1 0h2m1 0h2M0 79m108 0h2m3 0h2m4 0h2m11 0h2m2 0h2m3 0h2m-1 0h2m1 0h2m0 0h2M0 80m115 0h2m10 0h2m1 0h2m6 0h2m1 0h2m-1 0h2m6 0h2m1 0h2M0 81m117 0h2m9 0h2m3 0h2m2 0h2m-1 0h2m-1 0h2m3 0h2M0 82m124 0h2m9 0h2m0 0h2m-1 0h2m0 0h2m-1 0h2m-1 0h2m2 0h2m-1 0h2m2 0h2M0 83m116 0h2m9 0h2m5 0h2m-1 0h2M0 84m121 0h2m6 0h2m-1 0h2m2 0h2m1 0h2m-1 0h2m0 0h2m-1 0h2m-1 0h2m1 0h2m2 0h2m0 0h2m1 0h2M0 85m123 0h2m11 0h2m-1 0h2m-1 0h2m0 0h2m-1 0h2m-1 0h2m0 0h2m1 0h2m0 0h2m8 0h2M0 86m121 0h2m-1 0h2m7 0h2m4 0h2m0 0h2m1 0h2m-1 0h2m0 0h2M0 87m104 0h2m10 0h2m8 0h2m0 0h2m7 0h2m-1 0h2m-1 0h2m-1 0h2m-1 0h2m1 0h2m2 0h2m1 0h2M0 88m123 0h2m0 0h2m6 0h2m4 0h2m-1 0h2m3 0h2m3 0h2m1 0h2m2 0h2M0 89m119 0h2m6 0h2m2 0h2m-1 0h2m0 0h2m2 0h2m-1 0h2m0 0h2m-1 0h2m2 0h2m0 0h2m1 0h2m4 0h2M0 90m124 0h2m-1 0h2m0 0h2m0 0h2m0 0h2m3 0h2m-1 0h2m0 0h2m2 0h2m2 0h2m-1 0h2m1 0h2m1 0h2M0 91m117 0h2m10 0h2m0 0h2m-1 0h2m-1 0h2m2 0h2m0 0h2m0 0h2m-1 0h2m-1 0h2m-1 0h2m1 0h2m-1 0h2M0 92m106 0h2m13 0h2m6 0h2m5 0h2m-1 0h2m0 0h2m-1 0h2m-1 0h2m0 0h2m-1 0h2m-1 0h2m-1 0h2M0 93m115 0h2m14 0h2m2 0h2m1 0h2m2 0h2m-1 0h2m3 0h2M0 94m116 0h2m9 0h2m5 0h2m0 0h2m2 0h2m-1 0h2m0 0h2m4 0h2M0 95m130 0h2m2 0h2m-1 0h2m-1 0h2m2 0h2m-1 0h2m-1 0h2m7 0h2m4 0h2M0 96m107 0h2m11 0h2m1 0h2m5 0h2m-1 0h2m-1 0h2m-1 0h2m-1 0h2m1 0h2m1 0h2M0 97m128 0h2m-1 0h2m0 0h2m1 0h2m3 0h2m0 0h2m-1 0h2m1 0h2M0 98m118 0h2m1 0h2m4 0h2m6 0h2m-1 0h2m-1 0h2m-1 0h2m-1 0h2m2 0h2M0 99m123 0h2m4 0h2m-1 0h2m8 0h2m1 0h2m1 0h2m0 0h2M0 100m128 0h2m4 0h2m-1 0h2m-1 0h2m8 0h2M0 101m132 0h2m1 0h2m3 0h2m-1 0h2m-1 0h2m1 0h2m1 0h2m2 0h2M0 102m108 0h2m1 0h2m3 0h2m1 0h2m6 0h2m2 0h2m-1 0h2m-1 0h2m1 0h2m2 0h2m-1 0h2m3 0h2M0 103m115 0h2m15 0h2m-1 0h2m-1 0h2m1 0h2m1 0h2m5 0h2m-1 0h2m2 0h2M0 104m107 0h2m14 0h2m1 0h2m1 0h2m-1 0h2m3 0h2m-1 0h2m-1 0h2m-1 0h2m1 0h2m-1 0h2m3 0h2m1 0h2M0 105m123 0h2m12 0h2m3 0h2m-1 0h2m0 0h2M0 106m119 0h2m3 0h2m2 0h2m1 0h2m5 0h2m5 0h2m2 0h2M0 107m135 0h2m3 0h2m0 0h2M0 108m127 0h2m-1 0h2m0 0h2m3 0h2m3 0h2m6 0h2M0 109m118 0h2m11 0h2m11 0h2m0 0h2m0 0h2m0 0h2M0 110m115 0h2m7 0h2m6 0h2m4 0h2m-1 0h2m0 0h2m0 0h2m-1 0h2m-1 0h2m-1 0h2m-1 0h2m1 0h2m0 0h2M0 111m114 0h2m7 0h2m1 0h2m5 0h2m3 0h2m0 0h2m7 0h2m-1 0h2m1 0h2M0 112m141 0h2m5 0h2M0 113m108 0h2m0 0h2m15 0h2m13 0h2m5 0h2m0 0h2M0 114m130 0h2m-1 0h2m0 0h2m3 0h2m-1 0h2m-1 0h2m0 0h2M0 115m127 0h2m8 0h2m-1 0h2m-1 0h2m10 0h2M0 116m127 0h2m0 0h2m2 0h2m-1 0h2m4 0h2m1 0h2m8 0h2M0 117m128 0h2m2 0h2m0 0h2m3 0h2m2 0h2M0 118m121 0h2m19 0h2m3 0h2M0 119m116 0h2m8 0h2M0 120m125 0h2m0 0h2m5 0h2m-1 0h2m0 0h2m1 0h2M0 121m131 0h2m0 0h2m4 0h2m6 0h2M0 122m124 0h2m1 0h2m9 0h2M0 123m112 0h2m10 0h2m0 0h2m6 0h2m21 0h2M0 124m123 0h2m4 0h2m11 0h2m4 0h2m0 0h2M0 125m137 0h2m7 0h2M0 126m116 0h2m4 0h2m6 0h2m4 0h2m9 0h2m1 0h2M0 127m124 0h2m0 0h2m0 0h2m1 0h2m0 0h2m0 0h2M0 128m120 0h2m13 0h2m1 0h2m-1 0h2m2 0h2m5 0h2M0 130m139 0h2m4 0h2M0 131m128 0h2m2 0h2m0 0h2m-1 0h2M0 132m111 0h2m22 0h2m2 0h2m15 0h2M0 133m137 0h2m0 0h2M0 134m127 0h2m2 0h2M0 135m114 0h2m1 0h2m-1 0h2m14 0h2M0 136m115 0h2m18 0h2m8 0h2M0 137m112 0h2m1 0h2m1 0h2m18 0h2M0 138m116 0h2m12 0h2M0 139m122 0h2m6 0h2m-1 0h2m12 0h2M0 140m104 0h2m2 0h2m12 0h2M0 141m119 0h2m0 0h2m0 0h2m2 0h2m19 0h2M0 142m113 0h2m12 0h2M0 144m109 0h2m6 0h2m7 0h2M0 145m109 0h2m9 0h2m2 0h2M0 146m114 0h2m-1 0h2m11 0h2m1 0h2m-1 0h2M0 148m124 0h2M0 149m112 0h2m10 0h2M0 150m111 0h2M0 151m122 0h2m0 0h2m5 0h2M0 152m118 0h2m0 0h2m7 0h2m6 0h2M0 154m129 0h2M0 155m125 0h2M0 156m125 0h2m6 0h2m-1 0h2m11 0h2M0 157m115 0h2M0 158m112 0h2m2 0h2m0 0h2m5 0h2M0 159m116 0h2m1 0h2m3 0h2m9 0h2M0 160m129 0h2m8 0h2M0 161m127 0h2M0 162m121 0h2m7 0h2M0 163m121 0h2M0 166m121 0h2m2 0h2M0 167m131 0h2M0 168m117 0h2m21 0h2M0 169m116 0h2m1 0h2m6 0h2m1 0h2M0 170m114 0h2m13 0h2M0 171m125 0h2M0 172m120 0h2m2 0h2M0 173m120 0h2m0 0h2m6 0h2M0 174m132 0h2M0 175m133 0h2M0 176m110 0h2m7 0h2m0 0h2m8 0h2M0 177m114 0h2m17 0h2m6 0h2M0 178m115 0h2M0 182m124 0h2M0 183m112 0h2m0 0h2M0 184m129 0h2M0 185m112 0h2m7 0h2M0 186m127 0h2M0 187m141 0h2M0 204m118 0h2M0 207m134 0h2"/>
<path d="M0 29m143 0h2M0 34m151 0h2M0 38m134 0h2m0 0h2m4 0h2M0 40m128 0h2m-1 0h2M0 41m137 0h2M0 44m119 0h2m4 0h2m10 0h2M0 45m133 0h2m9 0h2M0 46m138 0h2M0 47m121 0h2m12 0h2M0 48m125 0h2m6 0h2m4 0h2M0 50m121 0h2m2 0h2M0 51m122 0h2m5 0h2m7 0h2m-1 0h2M0 52m131 0h2m7 0h2m0 0h2M0 53m119 0h2m13 0h2m2 0h2m0 0h2M0 54m133 0h2m0 0h2m3 0h2m3 0h2m1 0h2M0 55m137 0h2m11 0h2M0 56m106 0h2m19 0h2m10 0h2m8 0h2M0 58m114 0h2m3 0h2m10 0h2m3 0h2m0 0h2m1 0h2m-1 0h2m-1 0h2M0 59m118 0h2m8 0h2m-1 0h2m3 0h2m3 0h2m1 0h2m-1 0h2M0 60m130 0h2m-1 0h2m1 0h2m0 0h2M0 61m121 0h2m2 0h2m5 0h2m2 0h2m-1 0h2m-1 0h2m3 0h2m2 0h2m1 0h2M0 62m127 0h2m4 0h2m-1 0h2m6 0h2m5 0h2M0 63m128 0h2m2 0h2m0 0h2m1 0h2m8 0h2M0 64m133 0h2m0 0h2m2 0h2m1 0h2M0 65m123 0h2m10 0h2m2 0h2m3 0h2m-1 0h2M0 66m130 0h2m-1 0h2m1 0h2m2 0h2m0 0h2m0 0h2m6 0h2M0 67m123 0h2m12 0h2m6 0h2m1 0h2M0 68m121 0h2m3 0h2m8 0h2m-1 0h2m-1 0h2m-1 0h2m0 0h2M0 69m132 0h2m0 0h2m0 0h2m1 0h2m-1 0h2m1 0h2M0 70m127 0h2m2 0h2m0 0h2m0 0h2m4 0h2m0 0h2M0 71m126 0h2m5 0h2m0 0h2m0 0h2m1 0h2m-1 0h2m2 0h2M0 72m116 0h2m8 0h2m14 0h2m0 0h2m1 0h2m-1 0h2m4 0h2M0 73m109 0h2m0 0h2m8 0h2m1 0h2m0 0h2m2 0h2m6 0h2m5 0h2m3 0h2M0 74m119 0h2m10 0h2m1 0h2m8 0h2m0 0h2m1 0h2M0 75m121 0h2m1 0h2m4 0h2m0 0h2m4 0h2m14 0h2M0 76m125 0h2m4 0h2m3 0h2m-1 0h2m0 0h2m3 0h2m11 0h2M0 77m102 0h2m8 0h2m13 0h2m4 0h2m-1 0h2m1 0h2m1 0h2m-1 0h2m1 0h2m3 0h2M0 78m130 0h2m0 0h2m-1 0h2m1 0h2m-1 0h2m-1 0h2m-1 0h2m0 0h2m2 0h2m0 0h2m1 0h2m0 0h2M0 79m112 0h2m16 0h2m0 0h2m-1 0h2m1 0h2m0 0h2m0 0h2m-1 0h2m0 0h2m6 0h2m-1 0h2M0 80m128 0h2m8 0h2m15 0h2M0 81m120 0h2m8 0h2m2 0h2m-1 0h2m1 0h2m-1 0h2M0 82m121 0h2m-1 0h2m0 0h2m3 0h2m-1 0h2m1 0h2m-1 0h2m-1 0h2m-1 0h2m-1 0h2m3 0h2m-1 0h2m-1 0h2m3 0h2m-1 0h2m0 0h2m0 0h2M0 83m125 0h2m2 0h2m-1 0h2m0 0h2m3 0h2m1 0h2m-1 0h2m-1 0h2m4 0h2m0 0h2m5 0h2M0 84m104 0h2m21 0h2m0 0h2m1 0h2m1 0h2m-1 0h2m-1 0h2m0 0h2m0 0h2m0 0h2m-1 0h2m4 0h2M0 85m120 0h2m16 0h2m0 0h2m-1 0h2m-1 0h2m1 0h2m7 0h2M0 86m106 0h2m13 0h2m5 0h2m-1 0h2m6 0h2m-1 0h2m-1 0h2m-1 0h2m-1 0h2m-1 0h2m0 0h2m1 0h2M0 87m128 0h2m3 0h2m-1 0h2m5 0h2m-1 0h2m2 0h2M0 88m127 0h2m-1 0h2m0 0h2m-1 0h2m3 0h2m5 0h2m-1 0h2m0 0h2m3 0h2M0 89m109 0h2m9 0h2m1 0h2m1 0h2m0 0h2m-1 0h2m5 0h2m-1 0h2m1 0h2m2 0h2m2 0h2M0 90m102 0h2m13 0h2m0 0h2m3 0h2m-1 0h2m3 0h2m0 0h2m0 0h2m-1 0h2m11 0h2m1 0h2M0 91m125 0h2m1 0h2m6 0h2m2 0h2m3 0h2m-1 0h2m-1 0h2m4 0h2M0 92m128 0h2m1 0h2m0 0h2m-1 0h2m5 0h2m-1 0h2m1 0h2m1 0h2m0 0h2M0 93m131 0h2m0 0h2m5 0h2M0 94m122 0h2m3 0h2m0 0h2m-1 0h2m0 0h2m3 0h2m0 0h2m-1 0h2m0 0h2m1 0h2m0 0h2m-1 0h2m-1 0h2m2 0h2M0 95m122 0h2m2 0h2m3 0h2m0 0h2m-1 0h2m0 0h2m-1 0h2m2 0h2m-1 0h2m9 0h2m-1 0h2M0 96m117 0h2m0 0h2m0 0h2m3 0h2m5 0h2m4 0h2m-1 0h2m1 0h2m1 0h2m-1 0h2M0 97m114 0h2m16 0h2m0 0h2m-1 0h2m0 0h2m1 0h2m-1 0h2m0 0h2m-1 0h2m0 0h2M0 98m118 0h2m11 0h2m-1 0h2m-1 0h2m3 0h2m0 0h2m1 0h2M0 99m123 0h2m7 0h2m-1 0h2m0 0h2m3 0h2m-1 0h2m2 0h2m-1 0h2M0 100m121 0h2m2 0h2m0 0h2m0 0h2m3 0h2m0 0h2m-1 0h2m1 0h2m4 0h2m2 0h2m4 0h2M0 101m126 0h2m1 0h2m-1 0h2m4 0h2m2 0h2m1 0h2m-1 0h2m3 0h2m-1 0h2M0 102m127 0h2m3 0h2m5 0h2m0 0h2m0 0h2m1 0h2m0 0h2m7 0h2M0 103m123 0h2m-1 0h2m3 0h2m0 0h2m4 0h2m0 0h2m2 0h2m2 0h2M0 104m121 0h2m5 0h2m6 0h2m0 0h2m-1 0h2m1 0h2m10 0h2M0 105m126 0h2m2 0h2m0 0h2m-1 0h2m1 0h2m-1 0h2m0 0h2m0 0h2m4 0h2m-1 0h2m9 0h2M0 106m114 0h2m8 0h2m2 0h2m-1 0h2m3 0h2m6 0h2m0 0h2m2 0h2M0 107m122 0h2m0 0h2m9 0h2m6 0h2M0 108m108 0h2m-1 0h2m5 0h2m3 0h2m11 0h2M0 109m123 0h2m11 0h2m1 0h2m3 0h2m0 0h2M0 110m110 0h2m24 0h2m-1 0h2m6 0h2m-1 0h2M0 111m128 0h2m-1 0h2m2 0h2m-1 0h2m-1 0h2m-1 0h2m-1 0h2m6 0h2m-1 0h2m0 0h2M0 112m105 0h2m20 0h2m0 0h2m2 0h2m0 0h2m-1 0h2m2 0h2m-1 0h2m1 0h2m8 0h2M0 113m118 0h2m0 0h2m6 0h2m-1 0h2m-1 0h2m11 0h2m0 0h2m2 0h2M0 114m126 0h2m1 0h2m7 0h2m-1 0h2m0 0h2m5 0h2M0 115m136 0h2m3 0h2m2 0h2M0 116m134 0h2m7 0h2M0 117m132 0h2m-1 0h2m2 0h2m-1 0h2m10 0h2m6 0h2M0 118m118 0h2m7 0h2m2 0h2m0 0h2m6 0h2m-1 0h2m11 0h2M0 119m115 0h2m5 0h2m5 0h2m4 0h2m0 0h2m-1 0h2M0 120m132 0h2m7 0h2m-1 0h2m1 0h2M0 121m124 0h2m3 0h2m3 0h2m5 0h2M0 122m110 0h2m4 0h2m2 0h2m2 0h2m8 0h2m4 0h2m1 0h2M0 123m134 0h2m7 0h2m1 0h2m1 0h2M0 124m116 0h2m2 0h2m15 0h2m6 0h2m4 0h2M0 125m120 0h2m5 0h2m3 0h2m19 0h2M0 126m120 0h2M0 127m119 0h2m0 0h2m15 0h2M0 128m134 0h2m1 0h2m10 0h2m3 0h2M0 129m123 0h2m3 0h2m0 0h2m10 0h2M0 130m126 0h2m1 0h2m-1 0h2m10 0h2m3 0h2M0 131m116 0h2m8 0h2m1 0h2m10 0h2m11 0h2M0 132m110 0h2M0 133m121 0h2m6 0h2m5 0h2M0 134m133 0h2M0 135m115 0h2m22 0h2m4 0h2m-1 0h2M0 136m124 0h2m4 0h2M0 137m130 0h2M0 138m106 0h2m1 0h2m12 0h2m5 0h2m10 0h2m4 0h2M0 139m136 0h2M0 140m114 0h2m4 0h2m11 0h2m-1 0h2M0 141m123 0h2m5 0h2M0 142m115 0h2m4 0h2m4 0h2m3 0h2M0 143m110 0h2m8 0h2m10 0h2M0 144m114 0h2m4 0h2m0 0h2m4 0h2M0 145m121 0h2m6 0h2m0 0h2m10 0h2m4 0h2M0 146m126 0h2M0 148m123 0h2m1 0h2m14 0h2M0 149m121 0h2m5 0h2M0 150m136 0h2m-1 0h2M0 151m113 0h2m12 0h2m-1 0h2M0 152m113 0h2m0 0h2m12 0h2M0 153m125 0h2m3 0h2M0 154m130 0h2m5 0h2m2 0h2M0 155m114 0h2m1 0h2m2 0h2m3 0h2M0 156m115 0h2m1 0h2m14 0h2M0 157m125 0h2m7 0h2M0 158m113 0h2m5 0h2M0 159m121 0h2m3 0h2m1 0h2m13 0h2M0 160m117 0h2M0 161m119 0h2m11 0h2M0 162m118 0h2M0 163m127 0h2m2 0h2M0 164m125 0h2m4 0h2M0 165m113 0h2m7 0h2m4 0h2m6 0h2M0 166m124 0h2m0 0h2M0 167m115 0h2m20 0h2M0 168m122 0h2M0 171m123 0h2m15 0h2M0 172m124 0h2m14 0h2M0 173m117 0h2m11 0h2M0 174m113 0h2m1 0h2m9 0h2m7 0h2M0 175m125 0h2M0 177m115 0h2m9 0h2M0 179m106 0h2M0 181m121 0h2m1 0h2M0 182m120 0h2m-1 0h2M0 183m120 0h2M0 184m125 0h2M0 185m129 0h2M0 187m124 0h2M0 188m95 0h2M0 190m108 0h2m25 0h2M0 193m127 0h2M0 195m118 0h2"/>
<path d="M0 18m141 0h2M0 26m131 0h2M0 33m148 0h2M0 34m136 0h2M0 35m145 0h2M0 36m141 0h2M0 39m129 0h2M0 40m132 0h2M0 42m132 0h2m3 0h2M0 43m146 0h2M0 44m135 0h2m6 0h2M0 45m124 0h2m0 0h2m5 0h2m0 0h2M0 47m121 0h2m11 0h2m-1 0h2m3 0h2M0 49m132 0h2m-1 0h2M0 50m133 0h2m0 0h2m9 0h2M0 51m108 0h2m28 0h2m2 0h2m10 0h2M0 52m130 0h2m3 0h2m4 0h2m0 0h2m10 0h2M0 53m123 0h2m7 0h2m1 0h2m-1 0h2m8 0h2M0 54m129 0h2m6 0h2M0 55m132 0h2M0 56m136 0h2M0 57m132 0h2m9 0h2m-1 0h2M0 58m141 0h2m-1 0h2M0 59m98 0h2m22 0h2m7 0h2m0 0h2m3 0h2m4 0h2M0 60m132 0h2m12 0h2M0 61m133 0h2m2 0h2m6 0h2M0 62m127 0h2m1 0h2m2 0h2m1 0h2m-1 0h2m4 0h2M0 63m129 0h2m0 0h2m6 0h2m5 0h2m4 0h2M0 64m116 0h2m12 0h2m6 0h2m8 0h2m-1 0h2m4 0h2M0 65m133 0h2m2 0h2m4 0h2M0 66m110 0h2m30 0h2m0 0h2m-1 0h2m1 0h2M0 67m137 0h2m2 0h2m6 0h2M0 68m124 0h2m4 0h2m-1 0h2m1 0h2m4 0h2m2 0h2M0 69m99 0h2m26 0h2m1 0h2m1 0h2m1 0h2m-1 0h2m-1 0h2m4 0h2m1 0h2m2 0h2M0 70m123 0h2m4 0h2m0 0h2m1 0h2m4 0h2m2 0h2m1 0h2M0 71m98 0h2m12 0h2m13 0h2m1 0h2m4 0h2m-1 0h2m-1 0h2m-1 0h2m-1 0h2m0 0h2m-1 0h2m1 0h2m4 0h2m-1 0h2m0 0h2M0 72m130 0h2m4 0h2m-1 0h2m-1 0h2m0 0h2m0 0h2m-1 0h2m-1 0h2m-1 0h2m2 0h2M0 73m128 0h2m-1 0h2m1 0h2m1 0h2m8 0h2m4 0h2m5 0h2M0 74m133 0h2m-1 0h2m2 0h2m-1 0h2m0 0h2m0 0h2M0 75m125 0h2m-1 0h2m3 0h2m-1 0h2m3 0h2m-1 0h2m0 0h2m2 0h2m0 0h2M0 76m115 0h2m1 0h2m12 0h2m0 0h2m-1 0h2m0 0h2m-1 0h2m-1 0h2M0 77m119 0h2m7 0h2m0 0h2m2 0h2m5 0h2m1 0h2m-1 0h2m2 0h2m4 0h2M0 78m119 0h2m18 0h2m-1 0h2m-1 0h2m1 0h2m2 0h2m3 0h2M0 79m113 0h2m13 0h2m-1 0h2m1 0h2m-1 0h2m1 0h2m1 0h2m0 0h2m-1 0h2m0 0h2M0 80m112 0h2m16 0h2m5 0h2m3 0h2m0 0h2m-1 0h2m2 0h2M0 81m130 0h2m3 0h2m-1 0h2m-1 0h2m1 0h2m1 0h2m9 0h2M0 82m117 0h2m13 0h2m-1 0h2m-1 0h2m-1 0h2m3 0h2m6 0h2m1 0h2M0 83m124 0h2m1 0h2m2 0h2m6 0h2m1 0h2m0 0h2m1 0h2M0 84m124 0h2m5 0h2m-1 0h2m0 0h2m3 0h2m4 0h2m4 0h2M0 85m128 0h2m10 0h2m1 0h2m3 0h2M0 86m93 0h2m34 0h2m-1 0h2m0 0h2m-1 0h2m-1 0h2m2 0h2m3 0h2m7 0h2M0 87m133 0h2m1 0h2m0 0h2m1 0h2m0 0h2m-1 0h2M0 88m119 0h2m5 0h2m0 0h2m2 0h2m2 0h2m-1 0h2m1 0h2m-1 0h2m-1 0h2m-1 0h2m0 0h2m-1 0h2m-1 0h2m-1 0h2m-1 0h2m2 0h2M0 89m119 0h2m6 0h2m-1 0h2m-1 0h2m-1 0h2m-1 0h2m0 0h2m-1 0h2m-1 0h2m-1 0h2m-1 0h2m-1 0h2m2 0h2m-1 0h2m4 0h2m0 0h2m1 0h2m2 0h2M0 90m127 0h2m3 0h2m-1 0h2m-1 0h2m-1 0h2m-1 0h2m3 0h2m0 0h2m-1 0h2m0 0h2m2 0h2m2 0h2M0 91m126 0h2m-1 0h2m0 0h2m-1 0h2m0 0h2m0 0h2m3 0h2m1 0h2m-1 0h2m2 0h2m1 0h2M0 92m127 0h2m4 0h2m1 0h2m4 0h2m-1 0h2m1 0h2M0 93m125 0h2m8 0h2m7 0h2m-1 0h2m0 0h2M0 94m125 0h2m2 0h2m-1 0h2m-1 0h2m1 0h2m1 0h2m3 0h2m0 0h2m2 0h2m0 0h2m3 0h2M0 95m124 0h2m-1 0h2m0 0h2m2 0h2m2 0h2m-1 0h2m1 0h2m-1 0h2m2 0h2m2 0h2m0 0h2m4 0h2M0 96m111 0h2m14 0h2m3 0h2m-1 0h2m3 0h2m-1 0h2m-1 0h2m0 0h2m-1 0h2m1 0h2m-1 0h2m3 0h2M0 97m112 0h2m15 0h2m2 0h2m0 0h2m-1 0h2m1 0h2m-1 0h2m-1 0h2m-1 0h2m1 0h2m0 0h2m1 0h2M0 98m123 0h2m3 0h2m1 0h2m0 0h2m2 0h2m4 0h2M0 99m129 0h2m-1 0h2m1 0h2m6 0h2m-1 0h2m3 0h2m6 0h2M0 100m122 0h2m2 0h2m7 0h2m1 0h2m10 0h2m-1 0h2m4 0h2M0 101m119 0h2m4 0h2m8 0h2m1 0h2m-1 0h2m-1 0h2m3 0h2m-1 0h2m-1 0h2M0 102m127 0h2m3 0h2m3 0h2m1 0h2m0 0h2m2 0h2m7 0h2M0 103m125 0h2m4 0h2m3 0h2m0 0h2m0 0h2m2 0h2m-1 0h2m0 0h2m3 0h2M0 104m118 0h2m5 0h2m4 0h2m3 0h2m-1 0h2m2 0h2m0 0h2m5 0h2m0 0h2m-1 0h2M0 105m130 0h2m9 0h2m4 0h2m-1 0h2m8 0h2M0 106m116 0h2m2 0h2m4 0h2m0 0h2m5 0h2m6 0h2m-1 0h2M0 107m138 0h2m-1 0h2m1 0h2m-1 0h2m-1 0h2M0 108m104 0h2m4 0h2m5 0h2m4 0h2m6 0h2m3 0h2m3 0h2m9 0h2M0 109m130 0h2m0 0h2m-1 0h2m-1 0h2m3 0h2m1 0h2m6 0h2M0 110m126 0h2m-1 0h2m-1 0h2m0 0h2m12 0h2m-1 0h2M0 111m114 0h2m5 0h2m4 0h2m3 0h2m2 0h2m2 0h2m3 0h2m4 0h2m0 0h2M0 112m123 0h2m6 0h2m2 0h2m-1 0h2m0 0h2m0 0h2m5 0h2m-1 0h2m0 0h2m0 0h2M0 113m118 0h2m13 0h2m0 0h2m-1 0h2m1 0h2m1 0h2m8 0h2M0 114m128 0h2m0 0h2m-1 0h2m-1 0h2m-1 0h2m0 0h2m4 0h2m1 0h2M0 115m127 0h2m1 0h2m1 0h2m-1 0h2m-1 0h2m5 0h2M0 116m116 0h2m6 0h2m1 0h2m1 0h2m4 0h2m4 0h2m-1 0h2m-1 0h2m-1 0h2m2 0h2m3 0h2m4 0h2M0 117m120 0h2m18 0h2m1 0h2m-1 0h2m4 0h2M0 118m123 0h2m10 0h2m3 0h2m-1 0h2M0 119m132 0h2m1 0h2m4 0h2m-1 0h2M0 120m117 0h2m11 0h2m-1 0h2m1 0h2m0 0h2M0 121m131 0h2m0 0h2m-1 0h2m2 0h2m0 0h2m2 0h2m-1 0h2M0 122m99 0h2m8 0h2m15 0h2m3 0h2m0 0h2m3 0h2m10 0h2m-1 0h2M0 123m108 0h2m5 0h2m4 0h2m3 0h2m-1 0h2m0 0h2m5 0h2m4 0h2m-1 0h2m-1 0h2M0 124m138 0h2M0 125m125 0h2m3 0h2M0 126m116 0h2m2 0h2m16 0h2M0 127m128 0h2m1 0h2m0 0h2m0 0h2m-1 0h2M0 128m113 0h2m4 0h2m0 0h2m4 0h2m-1 0h2m0 0h2m-1 0h2m3 0h2M0 129m117 0h2m7 0h2m9 0h2m4 0h2m5 0h2m1 0h2M0 130m118 0h2m11 0h2M0 131m122 0h2m5 0h2m7 0h2M0 132m118 0h2m9 0h2m7 0h2M0 133m131 0h2m5 0h2M0 134m126 0h2m2 0h2m4 0h2M0 135m133 0h2m3 0h2M0 136m116 0h2m5 0h2m14 0h2m10 0h2M0 137m113 0h2m32 0h2M0 138m122 0h2m1 0h2m-1 0h2m2 0h2m-1 0h2m6 0h2M0 139m127 0h2m-1 0h2m1 0h2m15 0h2M0 140m123 0h2m0 0h2m1 0h2m2 0h2m3 0h2M0 141m118 0h2m-1 0h2m0 0h2m4 0h2m7 0h2M0 142m123 0h2m14 0h2M0 143m111 0h2M0 144m122 0h2m10 0h2M0 145m123 0h2m0 0h2M0 146m107 0h2m10 0h2m5 0h2m12 0h2M0 147m114 0h2m8 0h2m10 0h2M0 148m113 0h2m0 0h2m-1 0h2m1 0h2m10 0h2M0 149m123 0h2m1 0h2m10 0h2M0 150m112 0h2m9 0h2m3 0h2M0 151m120 0h2m15 0h2M0 152m113 0h2m4 0h2m9 0h2M0 153m115 0h2m1 0h2m3 0h2M0 154m132 0h2m0 0h2m3 0h2M0 155m120 0h2m8 0h2M0 156m128 0h2m6 0h2M0 157m133 0h2m3 0h2M0 158m112 0h2m14 0h2M0 159m132 0h2m-1 0h2M0 160m110 0h2m6 0h2M0 161m116 0h2m11 0h2M0 162m146 0h2M0 163m117 0h2M0 164m128 0h2M0 165m113 0h2m3 0h2m-1 0h2m-1 0h2m8 0h2M0 166m117 0h2M0 167m119 0h2m6 0h2m5 0h2M0 168m118 0h2M0 169m125 0h2M0 170m134 0h2M0 171m124 0h2m-1 0h2M0 173m111 0h2m7 0h2M0 175m121 0h2m9 0h2M0 178m119 0h2M0 179m132 0h2M0 184m107 0h2m6 0h2M0 186m129 0h2M0 189m128 0h2M0 191m133 0h2m7 0h2M0 195m125 0h2m6 0h2M0 200m124 0h2M0 202m124 0h2"/>
<path d="M0 19m133 0h2M0 21m126 0h2M0 27m129 0h2m21 0h2M0 29m134 0h2m6 0h2M0 31m124 0h2M0 33m141 0h2M0 34m133 0h2M0 35m116 0h2M0 37m136 0h2m2 0h2M0 40m141 0h2M0 41m130 0h2m3 0h2m7 0h2m6 0h2M0 43m134 0h2m0 0h2m8 0h2M0 45m133 0h2m7 0h2M0 46m133 0h2m0 0h2m5 0h2m10 0h2M0 47m144 0h2m1 0h2M0 48m140 0h2m1 0h2M0 49m111 0h2m8 0h2m3 0h2M0 50m109 0h2m24 0h2m8 0h2M0 51m110 0h2m24 0h2m2 0h2M0 52m138 0h2m3 0h2m5 0h2M0 54m141 0h2m7 0h2M0 55m133 0h2m2 0h2m3 0h2M0 56m113 0h2m9 0h2m9 0h2m14 0h2M0 57m123 0h2m4 0h2m2 0h2m1 0h2m-1 0h2M0 58m132 0h2m7 0h2m-1 0h2M0 59m126 0h2m-1 0h2m3 0h2m4 0h2m2 0h2m0 0h2m0 0h2m4 0h2M0 60m114 0h2m11 0h2m6 0h2m0 0h2m-1 0h2m4 0h2m1 0h2m8 0h2M0 61m122 0h2m7 0h2m7 0h2m2 0h2m10 0h2M0 62m112 0h2m13 0h2m2 0h2m0 0h2m-1 0h2m9 0h2m5 0h2M0 63m127 0h2m2 0h2m0 0h2m-1 0h2m3 0h2m2 0h2M0 64m132 0h2m-1 0h2m0 0h2m-1 0h2m3 0h2m1 0h2M0 65m124 0h2m6 0h2m0 0h2m2 0h2M0 66m133 0h2m2 0h2m-1 0h2m-1 0h2m-1 0h2M0 67m132 0h2m2 0h2m0 0h2m5 0h2m2 0h2M0 68m125 0h2m17 0h2m-1 0h2m-1 0h2m0 0h2m-1 0h2M0 69m132 0h2m0 0h2m4 0h2m-1 0h2m0 0h2m3 0h2m1 0h2m-1 0h2M0 70m130 0h2m1 0h2m14 0h2M0 71m128 0h2m-1 0h2m1 0h2m1 0h2m4 0h2m7 0h2M0 72m125 0h2m3 0h2m6 0h2m0 0h2m2 0h2M0 73m136 0h2m3 0h2m-1 0h2m0 0h2m-1 0h2m2 0h2M0 74m124 0h2m0 0h2m0 0h2m4 0h2m0 0h2m0 0h2m-1 0h2m1 0h2m0 0h2m0 0h2m6 0h2M0 75m125 0h2m0 0h2m1 0h2m1 0h2m4 0h2m-1 0h2m3 0h2m2 0h2M0 76m130 0h2m0 0h2m0 0h2m1 0h2m4 0h2m0 0h2m1 0h2M0 77m107 0h2m15 0h2m1 0h2m3 0h2m-1 0h2m1 0h2m0 0h2m-1 0h2m3 0h2m-1 0h2m0 0h2m0 0h2M0 78m122 0h2m-1 0h2m1 0h2m3 0h2m2 0h2m1 0h2m-1 0h2m0 0h2m4 0h2m5 0h2m-1 0h2M0 79m123 0h2m-1 0h2m2 0h2m1 0h2m-1 0h2m2 0h2m1 0h2m0 0h2m0 0h2m5 0h2M0 80m122 0h2m10 0h2m-1 0h2m-1 0h2m7 0h2m-1 0h2m4 0h2m-1 0h2M0 81m125 0h2m10 0h2m2 0h2m6 0h2m-1 0h2m1 0h2M0 82m125 0h2m0 0h2m4 0h2m0 0h2m0 0h2m1 0h2m0 0h2m0 0h2m-1 0h2m0 0h2m7 0h2M0 83m137 0h2m1 0h2m-1 0h2m7 0h2m0 0h2M0 84m118 0h2m11 0h2m-1 0h2m3 0h2m4 0h2m2 0h2m-1 0h2m3 0h2M0 85m115 0h2m0 0h2m23 0h2m0 0h2m3 0h2M0 86m121 0h2m5 0h2m-1 0h2m0 0h2m1 0h2m-1 0h2m0 0h2m2 0h2m-1 0h2m3 0h2m0 0h2m0 0h2M0 87m126 0h2m2 0h2m-1 0h2m6 0h2m-1 0h2m-1 0h2m-1 0h2m1 0h2m-1 0h2m-1 0h2m-1 0h2m1 0h2m2 0h2M0 88m112 0h2m3 0h2m9 0h2m2 0h2m1 0h2m1 0h2m0 0h2m2 0h2m1 0h2m0 0h2M0 89m120 0h2m8 0h2m-1 0h2m3 0h2m-1 0h2m0 0h2m-1 0h2m0 0h2m-1 0h2m-1 0h2m-1 0h2m3 0h2m4 0h2M0 90m122 0h2m0 0h2m0 0h2m1 0h2m-1 0h2m0 0h2m-1 0h2m0 0h2m-1 0h2m2 0h2m0 0h2m3 0h2M0 91m106 0h2m9 0h2m7 0h2m8 0h2m3 0h2m0 0h2m-1 0h2m0 0h2m0 0h2M0 92m115 0h2m10 0h2m5 0h2m-1 0h2m0 0h2m2 0h2m0 0h2m-1 0h2m2 0h2M0 93m103 0h2m9 0h2m13 0h2m-1 0h2m0 0h2m4 0h2m-1 0h2m0 0h2m1 0h2m-1 0h2m6 0h2M0 94m124 0h2m1 0h2m5 0h2m3 0h2m1 0h2m1 0h2m5 0h2m-1 0h2M0 95m113 0h2m14 0h2m-1 0h2m3 0h2m-1 0h2m-1 0h2m1 0h2m0 0h2m4 0h2M0 96m111 0h2m14 0h2m3 0h2m0 0h2m-1 0h2m1 0h2m2 0h2m3 0h2m-1 0h2M0 97m114 0h2m11 0h2m10 0h2m3 0h2m-1 0h2m0 0h2m-1 0h2M0 98m120 0h2m12 0h2m1 0h2m1 0h2m6 0h2m4 0h2M0 99m111 0h2m10 0h2m-1 0h2m-1 0h2m10 0h2m3 0h2m1 0h2m0 0h2m-1 0h2m0 0h2M0 100m123 0h2m4 0h2m2 0h2m2 0h2m-1 0h2m0 0h2m-1 0h2m-1 0h2m0 0h2m11 0h2m-1 0h2M0 101m119 0h2m3 0h2m4 0h2m2 0h2m0 0h2m-1 0h2m1 0h2m8 0h2m-1 0h2M0 102m122 0h2m4 0h2m0 0h2m-1 0h2m2 0h2m4 0h2M0 103m120 0h2m12 0h2m1 0h2m2 0h2m1 0h2m2 0h2m1 0h2M0 104m120 0h2m4 0h2m1 0h2m4 0h2m-1 0h2m7 0h2m0 0h2m-1 0h2M0 105m101 0h2m16 0h2m1 0h2m3 0h2m3 0h2m-1 0h2m0 0h2m1 0h2m1 0h2m-1 0h2m1 0h2M0 106m107 0h2m21 0h2m4 0h2m1 0h2m0 0h2m-1 0h2m-1 0h2m4 0h2M0 107m133 0h2m-1 0h2m-1 0h2m-1 0h2m1 0h2m3 0h2m2 0h2M0 108m125 0h2m10 0h2m6 0h2m5 0h2M0 109m121 0h2m-1 0h2m3 0h2m-1 0h2m1 0h2m5 0h2m0 0h2m7 0h2m0 0h2m0 0h2M0 110m132 0h2m1 0h2m1 0h2m0 0h2m-1 0h2m13 0h2M0 111m135 0h2m1 0h2m-1 0h2m-1 0h2m-1 0h2m9 0h2m0 0h2M0 112m132 0h2m5 0h2m4 0h2m2 0h2M0 113m143 0h2m1 0h2m1 0h2M0 114m132 0h2m0 0h2m0 0h2m1 0h2m3 0h2m0 0h2m3 0h2m2 0h2M0 115m129 0h2m2 0h2m3 0h2m-1 0h2m-1 0h2m-1 0h2m12 0h2M0 116m129 0h2m6 0h2m1 0h2m-1 0h2m0 0h2M0 117m110 0h2m10 0h2m0 0h2m9 0h2m11 0h2m-1 0h2M0 118m122 0h2m6 0h2m-1 0h2m-1 0h2m6 0h2m-1 0h2m8 0h2M0 119m127 0h2m4 0h2m-1 0h2M0 120m119 0h2m11 0h2m0 0h2m6 0h2M0 121m113 0h2m18 0h2m1 0h2m3 0h2M0 122m112 0h2m3 0h2M0 123m123 0h2m16 0h2M0 124m124 0h2m-1 0h2m0 0h2m7 0h2m3 0h2M0 125m109 0h2m1 0h2m8 0h2m3 0h2m-1 0h2m10 0h2M0 126m134 0h2M0 127m122 0h2m11 0h2m-1 0h2m-1 0h2M0 128m118 0h2m14 0h2m1 0h2m2 0h2m1 0h2m2 0h2M0 129m117 0h2m14 0h2m-1 0h2m3 0h2m0 0h2m1 0h2m2 0h2M0 130m120 0h2m4 0h2m5 0h2m4 0h2m-1 0h2m1 0h2m-1 0h2M0 131m126 0h2m-1 0h2m0 0h2m2 0h2m-1 0h2M0 132m126 0h2M0 133m111 0h2m14 0h2m-1 0h2m2 0h2m4 0h2M0 134m113 0h2m7 0h2m24 0h2M0 135m103 0h2m5 0h2m10 0h2m15 0h2M0 136m115 0h2m17 0h2m9 0h2m0 0h2m4 0h2M0 137m104 0h2m24 0h2m7 0h2M0 138m119 0h2m-1 0h2m-1 0h2M0 139m115 0h2M0 140m126 0h2M0 141m115 0h2M0 142m114 0h2m0 0h2m2 0h2m4 0h2m6 0h2M0 143m105 0h2m5 0h2m2 0h2m3 0h2M0 144m119 0h2m0 0h2m16 0h2M0 145m113 0h2m21 0h2m4 0h2M0 146m120 0h2M0 147m115 0h2m-1 0h2m10 0h2m2 0h2m4 0h2M0 148m121 0h2m8 0h2M0 149m110 0h2m4 0h2m5 0h2m1 0h2m-1 0h2m2 0h2M0 150m123 0h2m-1 0h2m0 0h2m2 0h2M0 152m134 0h2M0 153m115 0h2m7 0h2m2 0h2m0 0h2M0 154m134 0h2M0 155m114 0h2m0 0h2m9 0h2M0 156m120 0h2m3 0h2m6 0h2m6 0h2M0 157m120 0h2M0 158m121 0h2m8 0h2m-1 0h2M0 159m122 0h2m6 0h2M0 160m127 0h2M0 162m119 0h2m0 0h2m11 0h2M0 163m111 0h2M0 164m120 0h2m15 0h2M0 165m107 0h2m2 0h2m1 0h2m7 0h2M0 166m123 0h2M0 167m126 0h2M0 168m132 0h2M0 169m116 0h2m27 0h2M0 171m122 0h2M0 172m118 0h2M0 173m129 0h2M0 174m106 0h2M0 175m121 0h2M0 176m116 0h2m15 0h2M0 177m114 0h2M0 178m118 0h2m2 0h2m3 0h2M0 179m133 0h2M0 180m122 0h2M0 182m124 0h2M0 183m119 0h2M0 185m122 0h2m1 0h2M0 186m114 0h2m6 0h2M0 188m133 0h2M0 189m129 0h2M0 191m127 0h2M0 196m114 0h2M0 198m128 0h2M0 201m123 0h2M0 204m111 0h2M0 206m121 0h2"/>
<path stroke-opacity=".37" d="M0 4m8 0h2M0 5m89 0h2m5 0h2M0 6m99 0h2m46 0h2M0 7m104 0h2m28 0h2M0 8m71 0h2m16 0h2m12 0h2m30 0h2M0 9m87 0h2m20 0h2m29 0h2M0 10m43 0h2m33 0h2m9 0h2m8 0h2m0 0h2M0 11m66 0h2m3 0h2m46 0h2m5 0h2m25 0h2m35 0h2M0 12m119 0h2m0 0h2M0 13m98 0h2m2 0h2m20 0h2M0 14m64 0h2m33 0h2m11 0h2m17 0h2M0 15m97 0h2m0 0h2m13 0h2m33 0h2m6 0h2M0 16m70 0h2m29 0h2m0 0h2m56 0h2m3 0h2M0 17m68 0h2m46 0h2m20 0h2M0 18m86 0h2m-1 0h2m1 0h2m7 0h2m7 0h2m38 0h2M0 19m9 0h2m43 0h2m27 0h2m-1 0h2m12 0h2m12 0h2m16 0h2M0 20m61 0h2m23 0h2m-1 0h2m4 0h2m3 0h2m-1 0h2m19 0h2M0 21m67 0h2m19 0h2m0 0h2m9 0h2m0 0h2m12 0h2m27 0h2M0 22m71 0h2m9 0h2m1 0h2m25 0h2M0 23m49 0h2m21 0h2m20 0h2m1 0h2m10 0h2m1 0h2m5 0h2m6 0h2M0 24m60 0h2m31 0h2m9 0h2m-1 0h2m9 0h2M0 25m53 0h2m18 0h2m11 0h2m2 0h2m6 0h2m11 0h2m-1 0h2m18 0h2m5 0h2m18 0h2M0 26m76 0h2m3 0h2m14 0h2m0 0h2m8 0h2m3 0h2m10 0h2M0 27m6 0h2m52 0h2m9 0h2m5 0h2m13 0h2m4 0h2M0 28m49 0h2m1 0h2m1 0h2m14 0h2m26 0h2m0 0h2m2 0h2m0 0h2m15 0h2m31 0h2M0 29m69 0h2m6 0h2m2 0h2m14 0h2m2 0h2m4 0h2m14 0h2m-1 0h2M0 30m80 0h2m-1 0h2m3 0h2m3 0h2m1 0h2m-1 0h2m13 0h2m3 0h2m4 0h2m14 0h2m15 0h2M0 31m62 0h2m24 0h2m0 0h2m8 0h2m6 0h2m0 0h2m-1 0h2m8 0h2m-1 0h2m14 0h2M0 32m69 0h2m1 0h2m9 0h2m-1 0h2m3 0h2M0 33m15 0h2m52 0h2m0 0h2m-1 0h2m1 0h2m11 0h2m5 0h2m-1 0h2m4 0h2m-1 0h2m4 0h2m13 0h2m10 0h2M0 34m15 0h2m-1 0h2m31 0h2m4 0h2m1 0h2m7 0h2m4 0h2m-1 0h2m15 0h2m-1 0h2m0 0h2m0 0h2m8 0h2m-1 0h2m3 0h2m16 0h2M0 35m66 0h2m18 0h2m1 0h2m4 0h2m0 0h2m9 0h2m0 0h2m7 0h2M0 36m41 0h2m16 0h2m9 0h2m10 0h2m6 0h2m8 0h2m0 0h2m5 0h2m12 0h2m5 0h2M0 37m50 0h2m13 0h2m5 0h2m4 0h2m-1 0h2m3 0h2m0 0h2m10 0h2m-1 0h2m18 0h2m5 0h2m12 0h2M0 38m59 0h2m0 0h2m16 0h2m0 0h2m2 0h2m-1 0h2m2 0h2m3 0h2m0 0h2m6 0h2m15 0h2M0 39m44 0h2m25 0h2m7 0h2m0 0h2m4 0h2m1 0h2m0 0h2m21 0h2m0 0h2m53 0h2M0 40m30 0h2m40 0h2m11 0h2m2 0h2m-1 0h2m1 0h2m9 0h2m3 0h2m3 0h2m14 0h2m49 0h2m20 0h2M0 41m33 0h2m41 0h2m5 0h2m0 0h2m1 0h2m-1 0h2m2 0h2m0 0h2m10 0h2m5 0h2m3 0h2m2 0h2m-1 0h2m-1 0h2m5 0h2m24 0h2M0 42m65 0h2m6 0h2m1 0h2m3 0h2m4 0h2m-1 0h2m5 0h2m10 0h2m-1 0h2m1 0h2m2 0h2m-1 0h2m-1 0h2m0 0h2m1 0h2m-1 0h2m5 0h2m-1 0h2m-1 0h2m0 0h2M0 43m83 0h2m-1 0h2m1 0h2m3 0h2m3 0h2m-1 0h2m1 0h2m1 0h2m-1 0h2m-1 0h2m3 0h2m8 0h2m4 0h2m0 0h2m17 0h2M0 44m65 0h2m0 0h2m5 0h2m4 0h2m0 0h2m5 0h2m1 0h2m1 0h2m1 0h2m1 0h2m-1 0h2m0 0h2m7 0h2m0 0h2m3 0h2m-1 0h2m12 0h2m14 0h2M0 45m56 0h2m2 0h2m3 0h2m0 0h2m5 0h2m11 0h2m0 0h2m1 0h2m28 0h2m0 0h2m6 0h2M0 46m62 0h2m15 0h2m-1 0h2m1 0h2m3 0h2m3 0h2m-1 0h2m9 0h2m17 0h2m15 0h2m17 0h2m9 0h2M0 47m36 0h2m1 0h2m20 0h2m7 0h2m-1 0h2m0 0h2m1 0h2m5 0h2m2 0h2m1 0h2m3 0h2m5 0h2m-1 0h2m12 0h2m0 0h2m12 0h2m1 0h2m2 0h2m7 0h2m4 0h2M0 48m57 0h2m5 0h2m5 0h2m7 0h2m12 0h2m2 0h2m2 0h2m1 0h2m8 0h2m0 0h2m3 0h2m1 0h2m1 0h2M0 49m37 0h2m17 0h2m1 0h2m0 0h2m2 0h2m0 0h2m-1 0h2m0 0h2m10 0h2m32 0h2m4 0h2m4 0h2m2 0h2M0 50m63 0h2m7 0h2m8 0h2m3 0h2m2 0h2m0 0h2m2 0h2m0 0h2m-1 0h2m4 0h2m5 0h2m1 0h2m0 0h2m17 0h2m11 0h2M0 51m30 0h2m42 0h2m1 0h2m6 0h2m8 0h2m4 0h2m0 0h2m-1 0h2m9 0h2m5 0h2m1 0h2m3 0h2m0 0h2m0 0h2m7 0h2m0 0h2m34 0h2M0 52m47 0h2m3 0h2m8 0h2m6 0h2m0 0h2m10 0h2m2 0h2m5 0h2m-1 0h2m13 0h2m7 0h2m3 0h2m0 0h2m5 0h2m-1 0h2M0 53m61 0h2m15 0h2m-1 0h2m2 0h2m-1 0h2m3 0h2m-1 0h2m4 0h2m-1 0h2m2 0h2m8 0h2m2 0h2m0 0h2m1 0h2m14 0h2m3 0h2m47 0h2M0 54m47 0h2m7 0h2m-1 0h2m0 0h2m3 0h2m1 0h2m-1 0h2m10 0h2m0 0h2m4 0h2m11 0h2m0 0h2m3 0h2m2 0h2m4 0h2m5 0h2m3 0h2M0 55m16 0h2m43 0h2m-1 0h2m3 0h2m1 0h2m-1 0h2m2 0h2m1 0h2m2 0h2m11 0h2m-1 0h2m9 0h2m2 0h2m10 0h2m11 0h2m19 0h2M0 56m4 0h2m65 0h2m3 0h2m4 0h2m-1 0h2m2 0h2m1 0h2m0 0h2m9 0h2m-1 0h2m-1 0h2m-1 0h2m0 0h2m-1 0h2m-1 0h2m5 0h2m4 0h2m12 0h2M0 57m37 0h2m3 0h2m17 0h2m0 0h2m7 0h2m1 0h2m2 0h2m2 0h2m-1 0h2m5 0h2m1 0h2m2 0h2m7 0h2m4 0h2m0 0h2m-1 0h2m0 0h2m4 0h2m7 0h2m10 0h2m-1 0h2M0 58m59 0h2m7 0h2m2 0h2m9 0h2m2 0h2m-1 0h2m1 0h2m0 0h2m3 0h2m11 0h2m0 0h2m4 0h2M0 59m54 0h2m10 0h2m-1 0h2m2 0h2m2 0h2m3 0h2m5 0h2m1 0h2m10 0h2m-1 0h2m4 0h2m1 0h2m3 0h2m29 0h2M0 60m51 0h2m11 0h2m-1 0h2m-1 0h2m2 0h2m3 0h2m2 0h2m0 0h2m0 0h2m6 0h2m-1 0h2m0 0h2m0 0h2m3 0h2m-1 0h2m5 0h2m20 0h2m8 0h2M0 61m51 0h2m0 0h2m1 0h2m-1 0h2m4 0h2m8 0h2m2 0h2m6 0h2m1 0h2m-1 0h2m-1 0h2m1 0h2m0 0h2m11 0h2m19 0h2m-1 0h2M0 62m37 0h2m6 0h2m49 0h2m0 0h2m1 0h2m3 0h2m7 0h2m-1 0h2m-1 0h2m3 0h2m12 0h2m3 0h2M0 63m44 0h2m0 0h2m9 0h2m11 0h2m2 0h2m4 0h2m9 0h2m7 0h2m3 0h2m-1 0h2m-1 0h2m-1 0h2m6 0h2m0 0h2M0 64m21 0h2m14 0h2m24 0h2m2 0h2m5 0h2m0 0h2m4 0h2m11 0h2m8 0h2m0 0h2m-1 0h2m0 0h2m5 0h2m2 0h2m5 0h2m20 0h2M0 65m60 0h2m13 0h2m7 0h2m4 0h2m5 0h2m0 0h2m6 0h2m9 0h2m0 0h2m1 0h2m-1 0h2m11 0h2m18 0h2M0 66m40 0h2m10 0h2m9 0h2m-1 0h2m3 0h2m2 0h2m2 0h2m1 0h2m3 0h2m-1 0h2m1 0h2m1 0h2m1 0h2m-1 0h2m3 0h2m6 0h2m-1 0h2m-1 0h2m5 0h2m1 0h2m12 0h2m16 0h2M0 67m51 0h2m26 0h2m-1 0h2m1 0h2m-1 0h2m4 0h2m1 0h2m6 0h2m9 0h2m-1 0h2m-1 0h2m0 0h2m17 0h2M0 68m52 0h2m17 0h2m5 0h2m12 0h2m-1 0h2m8 0h2m-1 0h2m1 0h2m-1 0h2m0 0h2m6 0h2m0 0h2m11 0h2M0 69m20 0h2m49 0h2m0 0h2m0 0h2m18 0h2m3 0h2m7 0h2m4 0h2m-1 0h2m2 0h2M0 70m63 0h2m-1 0h2m2 0h2m1 0h2m0 0h2m2 0h2m2 0h2m-1 0h2m3 0h2m0 0h2m-1 0h2m-1 0h2m14 0h2m43 0h2M0 71m52 0h2m0 0h2m0 0h2m0 0h2m3 0h2m0 0h2m4 0h2m-1 0h2m6 0h2m8 0h2m1 0h2m1 0h2m0 0h2m0 0h2m-1 0h2m6 0h2m4 0h2m0 0h2m4 0h2m15 0h2M0 72m18 0h2m32 0h2m20 0h2m1 0h2m2 0h2m1 0h2m1 0h2m0 0h2m-1 0h2m1 0h2m0 0h2m13 0h2m-1 0h2m-1 0h2m7 0h2m2 0h2m1 0h2m-1 0h2M0 73m62 0h2m6 0h2m27 0h2m6 0h2m3 0h2m-1 0h2m3 0h2m-1 0h2m3 0h2m0 0h2m6 0h2M0 74m33 0h2m42 0h2m6 0h2m-1 0h2m1 0h2m15 0h2m2 0h2m0 0h2m2 0h2m-1 0h2m2 0h2m2 0h2m1 0h2m1 0h2m2 0h2m10 0h2M0 75m53 0h2m14 0h2m5 0h2m3 0h2m-1 0h2m1 0h2m-1 0h2m4 0h2m0 0h2m5 0h2m0 0h2m1 0h2m0 0h2m0 0h2m6 0h2m27 0h2m21 0h2M0 76m4 0h2m46 0h2m13 0h2m3 0h2m0 0h2m2 0h2m2 0h2m2 0h2m1 0h2m0 0h2m-1 0h2m0 0h2m-1 0h2m2 0h2m-1 0h2m4 0h2m2 0h2m1 0h2m6 0h2m10 0h2m1 0h2M0 77m66 0h2m8 0h2m2 0h2m9 0h2m0 0h2m9 0h2m1 0h2m-1 0h2m26 0h2M0 78m47 0h2m15 0h2m12 0h2m2 0h2m0 0h2m1 0h2m3 0h2m2 0h2m-1 0h2m-1 0h2m8 0h2m13 0h2m32 0h2M0 79m60 0h2m12 0h2m5 0h2m-1 0h2m4 0h2m2 0h2m0 0h2m2 0h2m3 0h2m0 0h2m0 0h2m3 0h2m-1 0h2m6 0h2m11 0h2m18 0h2M0 80m62 0h2m4 0h2m15 0h2m4 0h2m5 0h2m-1 0h2m0 0h2m0 0h2m0 0h2m4 0h2m12 0h2m7 0h2m37 0h2M0 81m60 0h2m1 0h2m5 0h2m-1 0h2m1 0h2m9 0h2m1 0h2m-1 0h2m15 0h2m10 0h2m9 0h2m-1 0h2m3 0h2M0 82m74 0h2m3 0h2m-1 0h2m18 0h2m0 0h2m11 0h2m1 0h2m7 0h2M0 83m21 0h2m44 0h2m8 0h2m18 0h2m-1 0h2m11 0h2m1 0h2m0 0h2m-1 0h2m-1 0h2m3 0h2M0 84m65 0h2m6 0h2m1 0h2m7 0h2m1 0h2m3 0h2m-1 0h2m0 0h2m2 0h2m1 0h2m5 0h2m-1 0h2m-1 0h2m11 0h2m7 0h2M0 85m59 0h2m20 0h2m-1 0h2m1 0h2m-1 0h2m1 0h2m9 0h2m2 0h2m12 0h2m11 0h2m10 0h2M0 86m53 0h2m-1 0h2m25 0h2m1 0h2m6 0h2m0 0h2m1 0h2m-1 0h2m2 0h2m8 0h2m23 0h2M0 87m45 0h2m32 0h2m8 0h2m4 0h2m3 0h2m4 0h2m12 0h2m-1 0h2m22 0h2M0 88m37 0h2m14 0h2m11 0h2m4 0h2m4 0h2m7 0h2m0 0h2m7 0h2m4 0h2m1 0h2m0 0h2m-1 0h2m26 0h2m7 0h2M0 89m43 0h2m24 0h2m-1 0h2m-1 0h2m26 0h2m18 0h2m8 0h2m5 0h2M0 90m57 0h2m4 0h2m7 0h2m1 0h2m9 0h2m-1 0h2m0 0h2m-1 0h2m5 0h2m5 0h2m1 0h2m8 0h2m4 0h2m8 0h2m9 0h2M0 91m58 0h2m19 0h2m17 0h2m4 0h2m5 0h2m1 0h2m1 0h2m8 0h2m4 0h2m5 0h2m36 0h2M0 92m69 0h2m23 0h2m0 0h2m1 0h2m3 0h2m-1 0h2m6 0h2m-1 0h2m-1 0h2m6 0h2m6 0h2M0 93m16 0h2m65 0h2m3 0h2m0 0h2m30 0h2m2 0h2M0 94m49 0h2m-1 0h2m3 0h2m13 0h2m0 0h2m11 0h2m8 0h2m1 0h2m2 0h2m4 0h2m0 0h2m3 0h2m9 0h2M0 95m45 0h2m11 0h2m-1 0h2m4 0h2m11 0h2m-1 0h2m1 0h2m1 0h2m0 0h2m5 0h2m3 0h2m8 0h2m1 0h2m12 0h2m7 0h2m5 0h2M0 96m57 0h2m13 0h2m-1 0h2m27 0h2m1 0h2m5 0h2m0 0h2m15 0h2m-1 0h2M0 97m65 0h2m8 0h2m8 0h2m18 0h2m4 0h2m11 0h2m1 0h2m4 0h2m70 0h2M0 98m54 0h2m22 0h2m6 0h2m13 0h2m5 0h2m0 0h2m-1 0h2m1 0h2m0 0h2m0 0h2m8 0h2m-1 0h2m13 0h2M0 99m51 0h2m3 0h2m54 0h2m-1 0h2m-1 0h2m3 0h2m2 0h2m4 0h2m5 0h2m35 0h2M0 100m32 0h2m4 0h2m13 0h2m40 0h2m2 0h2m4 0h2m15 0h2m4 0h2m3 0h2m1 0h2m3 0h2m0 0h2m34 0h2M0 101m68 0h2m-1 0h2m13 0h2m-1 0h2m17 0h2m-1 0h2m0 0h2m2 0h2m6 0h2m9 0h2m19 0h2M0 102m24 0h2m22 0h2m0 0h2m40 0h2m2 0h2m35 0h2M0 103m100 0h2M0 104m60 0h2m4 0h2m13 0h2m2 0h2m7 0h2m3 0h2m4 0h2m10 0h2m7 0h2m5 0h2m42 0h2M0 105m25 0h2m41 0h2m1 0h2m22 0h2m5 0h2m0 0h2m20 0h2m5 0h2m70 0h2m2 0h2M0 106m67 0h2m21 0h2m4 0h2m23 0h2m2 0h2m3 0h2m27 0h2M0 107m55 0h2m27 0h2m14 0h2m-1 0h2m4 0h2m4 0h2m15 0h2m46 0h2m13 0h2M0 108m82 0h2m19 0h2m4 0h2m-1 0h2m2 0h2m40 0h2M0 109m75 0h2m9 0h2m7 0h2m3 0h2m8 0h2m3 0h2m2 0h2m3 0h2M0 110m11 0h2m41 0h2m26 0h2m22 0h2m-1 0h2m1 0h2m64 0h2M0 111m56 0h2m7 0h2m1 0h2m5 0h2m14 0h2m27 0h2m6 0h2m10 0h2M0 112m45 0h2m26 0h2m24 0h2m-1 0h2m33 0h2M0 113m60 0h2m-1 0h2m5 0h2m8 0h2m36 0h2m18 0h2M0 114m50 0h2m31 0h2m6 0h2m0 0h2m10 0h2m19 0h2m-1 0h2m12 0h2M0 115m92 0h2m8 0h2m4 0h2m0 0h2m0 0h2M0 116m74 0h2m-1 0h2m7 0h2m-1 0h2m6 0h2m22 0h2M0 117m30 0h2m19 0h2m4 0h2m22 0h2m15 0h2m4 0h2m13 0h2m16 0h2M0 118m79 0h2m4 0h2m-1 0h2m7 0h2m8 0h2m5 0h2m1 0h2m6 0h2m1 0h2m-1 0h2m23 0h2M0 119m40 0h2m28 0h2m1 0h2m6 0h2m17 0h2m-1 0h2m0 0h2m12 0h2m13 0h2M0 120m55 0h2m39 0h2m4 0h2m12 0h2m7 0h2m9 0h2m28 0h2M0 121m61 0h2m1 0h2m0 0h2m3 0h2m-1 0h2m26 0h2m17 0h2m-1 0h2m-1 0h2m11 0h2m3 0h2m13 0h2M0 122m62 0h2m16 0h2m5 0h2m0 0h2m6 0h2m1 0h2m1 0h2m18 0h2m3 0h2m6 0h2m11 0h2m49 0h2M0 123m51 0h2m12 0h2m6 0h2m16 0h2m9 0h2m13 0h2m7 0h2m2 0h2M0 124m45 0h2m10 0h2m4 0h2m4 0h2m-1 0h2m9 0h2m1 0h2m28 0h2m1 0h2m0 0h2m1 0h2m1 0h2m0 0h2M0 125m25 0h2m22 0h2M0 126m43 0h2m21 0h2m0 0h2m3 0h2m-1 0h2m0 0h2m16 0h2m6 0h2m2 0h2m4 0h2m3 0h2m7 0h2m1 0h2M0 127m35 0h2m17 0h2m13 0h2m4 0h2m7 0h2m0 0h2m9 0h2m0 0h2m15 0h2M0 128m12 0h2m23 0h2m-1 0h2m0 0h2m36 0h2m1 0h2m2 0h2m24 0h2m7 0h2m8 0h2m0 0h2m0 0h2m5 0h2m-1 0h2m2 0h2M0 129m8 0h2m17 0h2m17 0h2m1 0h2m37 0h2m13 0h2m3 0h2m1 0h2m3 0h2m1 0h2m6 0h2m2 0h2M0 130m27 0h2m15 0h2m2 0h2m4 0h2m10 0h2m3 0h2m0 0h2m10 0h2m0 0h2m45 0h2m22 0h2M0 131m48 0h2m0 0h2m21 0h2m4 0h2m8 0h2m22 0h2m3 0h2m2 0h2m0 0h2m9 0h2M0 132m73 0h2m4 0h2m9 0h2m7 0h2m12 0h2m5 0h2m0 0h2m5 0h2m-1 0h2m1 0h2M0 133m52 0h2m7 0h2m2 0h2m3 0h2m9 0h2m-1 0h2m4 0h2m-1 0h2m3 0h2m-1 0h2m1 0h2m7 0h2m5 0h2m2 0h2m-1 0h2m4 0h2m0 0h2m4 0h2M0 134m30 0h2m9 0h2m14 0h2m23 0h2m16 0h2m3 0h2m6 0h2m-1 0h2m5 0h2m2 0h2m0 0h2m4 0h2m7 0h2m2 0h2M0 135m44 0h2m7 0h2m1 0h2m14 0h2m0 0h2m35 0h2m1 0h2m3 0h2m0 0h2m4 0h2M0 136m28 0h2m3 0h2m27 0h2m6 0h2m2 0h2m5 0h2m3 0h2m2 0h2m-1 0h2m17 0h2m1 0h2m19 0h2m44 0h2M0 137m28 0h2m16 0h2m13 0h2m5 0h2m3 0h2m8 0h2m0 0h2m5 0h2m4 0h2m6 0h2M0 138m27 0h2m9 0h2m12 0h2m-1 0h2m2 0h2m-1 0h2m3 0h2m3 0h2m0 0h2m1 0h2m0 0h2m4 0h2m1 0h2m13 0h2m7 0h2m6 0h2m3 0h2m6 0h2m1 0h2M0 139m32 0h2m10 0h2m4 0h2m-1 0h2m10 0h2m4 0h2m23 0h2m16 0h2m1 0h2m4 0h2m-1 0h2m4 0h2M0 140m10 0h2m24 0h2m-1 0h2m7 0h2m-1 0h2m1 0h2m0 0h2m11 0h2m15 0h2m4 0h2m0 0h2m3 0h2m11 0h2m1 0h2m2 0h2m8 0h2m5 0h2m19 0h2M0 141m36 0h2m10 0h2m1 0h2m5 0h2m3 0h2m0 0h2m0 0h2m2 0h2m-1 0h2m4 0h2m2 0h2m-1 0h2m5 0h2m11 0h2m4 0h2m4 0h2m-1 0h2m6 0h2m-1 0h2m21 0h2M0 142m8 0h2m15 0h2m40 0h2m2 0h2m4 0h2m5 0h2m8 0h2m8 0h2m1 0h2m1 0h2m0 0h2m7 0h2m0 0h2m0 0h2m2 0h2m1 0h2m0 0h2m3 0h2M0 143m11 0h2m21 0h2m0 0h2m26 0h2m3 0h2m0 0h2m5 0h2m1 0h2m10 0h2m8 0h2m9 0h2m2 0h2m0 0h2m-1 0h2m7 0h2M0 144m39 0h2m11 0h2m-1 0h2m-1 0h2m-1 0h2m2 0h2m1 0h2m8 0h2m2 0h2m4 0h2m2 0h2m0 0h2m8 0h2m1 0h2m1 0h2m4 0h2m-1 0h2m0 0h2m13 0h2m11 0h2M0 145m26 0h2m4 0h2m7 0h2m1 0h2m15 0h2m4 0h2m-1 0h2m6 0h2m-1 0h2m3 0h2m2 0h2m2 0h2m6 0h2m3 0h2m7 0h2m-1 0h2m2 0h2m-1 0h2m10 0h2m1 0h2m4 0h2M0 146m17 0h2m16 0h2m8 0h2m5 0h2m12 0h2m1 0h2m4 0h2m5 0h2m-1 0h2m4 0h2m0 0h2m5 0h2m4 0h2m7 0h2M0 147m44 0h2m0 0h2m3 0h2m2 0h2m8 0h2m6 0h2m2 0h2m0 0h2m8 0h2m2 0h2m2 0h2m0 0h2m19 0h2m0 0h2m1 0h2m-1 0h2m-1 0h2m-1 0h2M0 148m10 0h2m15 0h2m1 0h2m-1 0h2m1 0h2m2 0h2m19 0h2m3 0h2m11 0h2m0 0h2m5 0h2m2 0h2m-1 0h2m6 0h2m4 0h2m4 0h2m3 0h2m2 0h2m13 0h2M0 149m21 0h2m8 0h2m9 0h2m-1 0h2m6 0h2m4 0h2m3 0h2m2 0h2m2 0h2m11 0h2m-1 0h2m1 0h2m0 0h2m1 0h2m1 0h2m7 0h2m10 0h2m72 0h2M0 150m17 0h2m-1 0h2m10 0h2m11 0h2m1 0h2m14 0h2m2 0h2m1 0h2m1 0h2m4 0h2m9 0h2m5 0h2m-1 0h2m2 0h2m1 0h2m-1 0h2m7 0h2m2 0h2m21 0h2M0 151m38 0h2m-1 0h2m6 0h2m-1 0h2m-1 0h2m4 0h2m1 0h2m4 0h2m-1 0h2m5 0h2m0 0h2m1 0h2m-1 0h2m21 0h2m4 0h2m-1 0h2m1 0h2m15 0h2m9 0h2M0 152m10 0h2m-1 0h2m4 0h2m7 0h2m4 0h2m13 0h2m-1 0h2m2 0h2m-1 0h2m1 0h2m4 0h2m-1 0h2m0 0h2m0 0h2m1 0h2m17 0h2m12 0h2m10 0h2m72 0h2M0 153m7 0h2m32 0h2m10 0h2m4 0h2m5 0h2m1 0h2m3 0h2m3 0h2m-1 0h2m1 0h2m3 0h2m4 0h2m15 0h2m9 0h2m-1 0h2m12 0h2m11 0h2M0 154m16 0h2m25 0h2m1 0h2m8 0h2m15 0h2m3 0h2m1 0h2m2 0h2m4 0h2m6 0h2m0 0h2m18 0h2m24 0h2m2 0h2m1 0h2M0 155m22 0h2m4 0h2m23 0h2m8 0h2m-1 0h2m-1 0h2m3 0h2m2 0h2m23 0h2m16 0h2M0 156m26 0h2m-1 0h2m10 0h2m3 0h2m-1 0h2m3 0h2m-1 0h2m14 0h2m0 0h2m20 0h2m15 0h2m15 0h2m13 0h2m-1 0h2M0 157m15 0h2m11 0h2m9 0h2m11 0h2m1 0h2m6 0h2m16 0h2m-1 0h2m2 0h2m-1 0h2m13 0h2m8 0h2M0 158m21 0h2m0 0h2m6 0h2m2 0h2m4 0h2m8 0h2m-1 0h2m1 0h2m0 0h2m4 0h2m5 0h2m7 0h2m-1 0h2m0 0h2m5 0h2m0 0h2m1 0h2m1 0h2m0 0h2m0 0h2m3 0h2m20 0h2m5 0h2m20 0h2m43 0h2M0 159m40 0h2m7 0h2m0 0h2m-1 0h2m7 0h2m44 0h2m12 0h2m-1 0h2m2 0h2m3 0h2m0 0h2m2 0h2M0 160m10 0h2m3 0h2m17 0h2m2 0h2m2 0h2m0 0h2m-1 0h2m7 0h2m0 0h2m0 0h2m-1 0h2m5 0h2m2 0h2m4 0h2m1 0h2m-1 0h2m2 0h2m1 0h2m13 0h2m2 0h2m6 0h2m8 0h2m29 0h2M0 161m16 0h2m11 0h2m1 0h2m13 0h2m0 0h2m0 0h2m3 0h2m0 0h2m2 0h2m0 0h2m5 0h2m3 0h2m1 0h2m21 0h2m6 0h2m13 0h2m2 0h2m2 0h2m4 0h2M0 162m8 0h2m11 0h2m4 0h2m0 0h2m2 0h2m2 0h2m0 0h2m3 0h2m4 0h2m2 0h2m6 0h2m2 0h2m-1 0h2m-1 0h2m9 0h2m0 0h2m17 0h2m4 0h2m29 0h2m-1 0h2M0 163m19 0h2m1 0h2m15 0h2m0 0h2m-1 0h2m6 0h2m4 0h2m20 0h2m2 0h2m1 0h2m0 0h2m-1 0h2m15 0h2m0 0h2m6 0h2m82 0h2M0 164m17 0h2m15 0h2m0 0h2m0 0h2m-1 0h2m1 0h2m0 0h2m2 0h2m-1 0h2m6 0h2m-1 0h2m2 0h2m4 0h2m6 0h2m-1 0h2m1 0h2m35 0h2m0 0h2m2 0h2m0 0h2m-1 0h2m17 0h2m51 0h2M0 165m9 0h2m13 0h2m1 0h2m4 0h2m3 0h2m5 0h2m7 0h2m0 0h2m2 0h2m0 0h2m5 0h2m-1 0h2m29 0h2m-1 0h2m1 0h2m-1 0h2m2 0h2m4 0h2m11 0h2M0 166m16 0h2m4 0h2m0 0h2m3 0h2m1 0h2m0 0h2m5 0h2m9 0h2m-1 0h2m-1 0h2m6 0h2m3 0h2m2 0h2m-1 0h2m-1 0h2m3 0h2m7 0h2m4 0h2m1 0h2m9 0h2m10 0h2m12 0h2m17 0h2M0 167m14 0h2m4 0h2m13 0h2m5 0h2m0 0h2m2 0h2m5 0h2m0 0h2m14 0h2m5 0h2m12 0h2m3 0h2m20 0h2m2 0h2m3 0h2m9 0h2M0 168m29 0h2m-1 0h2m-1 0h2m1 0h2m2 0h2m1 0h2m4 0h2m1 0h2m0 0h2m4 0h2m0 0h2m10 0h2m0 0h2m1 0h2m3 0h2m5 0h2m37 0h2m0 0h2m58 0h2M0 169m19 0h2m1 0h2m-1 0h2m11 0h2m0 0h2m-1 0h2m-1 0h2m-1 0h2m-1 0h2m-1 0h2m3 0h2m7 0h2m1 0h2m0 0h2m-1 0h2m6 0h2m0 0h2m5 0h2m16 0h2m-1 0h2m86 0h2M0 170m21 0h2m21 0h2m2 0h2m0 0h2m-1 0h2m6 0h2m7 0h2m12 0h2m18 0h2m5 0h2m2 0h2m32 0h2m8 0h2M0 171m18 0h2m8 0h2m5 0h2m8 0h2m-1 0h2m-1 0h2m0 0h2m4 0h2m0 0h2m13 0h2m0 0h2m18 0h2m20 0h2M0 172m9 0h2m3 0h2m6 0h2m2 0h2m0 0h2m13 0h2m18 0h2m7 0h2m0 0h2m17 0h2m16 0h2M0 173m22 0h2m1 0h2m14 0h2m-1 0h2m10 0h2m9 0h2m4 0h2m-1 0h2m1 0h2m14 0h2m17 0h2m1 0h2m2 0h2m5 0h2m3 0h2m9 0h2M0 174m25 0h2m1 0h2m2 0h2m-1 0h2m1 0h2m0 0h2m1 0h2m2 0h2m1 0h2m2 0h2m-1 0h2m9 0h2m0 0h2m6 0h2m8 0h2m11 0h2M0 175m8 0h2m1 0h2m13 0h2m11 0h2m2 0h2m1 0h2m11 0h2m2 0h2m6 0h2m0 0h2m24 0h2m6 0h2m19 0h2m14 0h2m-1 0h2M0 176m8 0h2m19 0h2m9 0h2m2 0h2m3 0h2m0 0h2m10 0h2m1 0h2m3 0h2m38 0h2m8 0h2M0 177m11 0h2m5 0h2m3 0h2m6 0h2m3 0h2m-1 0h2m3 0h2m-1 0h2m-1 0h2m0 0h2m0 0h2m-1 0h2m4 0h2m4 0h2m22 0h2m42 0h2m12 0h2m10 0h2m30 0h2M0 178m14 0h2m3 0h2m2 0h2m2 0h2m4 0h2m10 0h2m17 0h2m5 0h2m31 0h2m3 0h2m79 0h2M0 179m22 0h2m11 0h2m8 0h2m10 0h2m6 0h2m22 0h2m3 0h2m1 0h2M0 180m52 0h2m-1 0h2m-1 0h2m0 0h2m5 0h2m15 0h2m0 0h2m21 0h2M0 181m19 0h2m3 0h2m3 0h2m3 0h2m-1 0h2m2 0h2m4 0h2m16 0h2m2 0h2m0 0h2m3 0h2m0 0h2m8 0h2m2 0h2m2 0h2M0 182m13 0h2m7 0h2m16 0h2m3 0h2m-1 0h2m0 0h2m8 0h2m3 0h2m6 0h2m0 0h2m7 0h2m24 0h2m41 0h2M0 183m9 0h2m4 0h2m10 0h2m-1 0h2m-1 0h2m2 0h2m5 0h2m-1 0h2m2 0h2m9 0h2m6 0h2m-1 0h2m27 0h2m25 0h2m9 0h2M0 184m9 0h2m21 0h2m1 0h2m1 0h2m2 0h2m17 0h2m3 0h2m14 0h2M0 185m18 0h2m1 0h2m12 0h2m25 0h2m-1 0h2m42 0h2m2 0h2m2 0h2m15 0h2M0 186m5 0h2m26 0h2m0 0h2m1 0h2m7 0h2m5 0h2m4 0h2m-1 0h2m4 0h2m10 0h2m45 0h2M0 187m40 0h2m1 0h2m-1 0h2m6 0h2m3 0h2m9 0h2m1 0h2m1 0h2m39 0h2m9 0h2m14 0h2m31 0h2M0 188m10 0h2m4 0h2m15 0h2m2 0h2m7 0h2m6 0h2m-1 0h2m-1 0h2m1 0h2m7 0h2m14 0h2m14 0h2M0 189m19 0h2m6 0h2m-1 0h2m13 0h2m2 0h2m16 0h2m12 0h2m9 0h2m20 0h2m4 0h2M0 190m5 0h2m31 0h2m1 0h2m8 0h2m0 0h2m-1 0h2m26 0h2M0 191m23 0h2m4 0h2m26 0h2m0 0h2m24 0h2m8 0h2m93 0h2M0 192m9 0h2m18 0h2m2 0h2m11 0h2m6 0h2m3 0h2m1 0h2m3 0h2m7 0h2m62 0h2m5 0h2M0 193m9 0h2m9 0h2m15 0h2m6 0h2m10 0h2m-1 0h2m17 0h2M0 194m18 0h2m11 0h2m3 0h2m3 0h2m1 0h2m1 0h2m0 0h2m72 0h2m42 0h2M0 195m32 0h2m3 0h2m1 0h2m0 0h2m9 0h2m11 0h2m0 0h2m0 0h2m0 0h2M0 196m21 0h2m3 0h2m10 0h2m8 0h2m11 0h2m0 0h2m4 0h2M0 197m25 0h2m8 0h2m31 0h2m1 0h2m42 0h2m-1 0h2M0 198m33 0h2m6 0h2M0 199m6 0h2m17 0h2m15 0h2m14 0h2m-1 0h2m13 0h2M0 200m9 0h2m39 0h2M0 201m23 0h2m35 0h2m0 0h2m10 0h2m2 0h2m-1 0h2M0 202m5 0h2m6 0h2m20 0h2m7 0h2m95 0h2M0 203m14 0h2m25 0h2m8 0h2m11 0h2m66 0h2M0 204m8 0h2m21 0h2m-1 0h2m8 0h2m12 0h2m1 0h2m5 0h2m10 0h2M0 205m31 0h2m21 0h2m14 0h2m2 0h2m15 0h2m75 0h2M0 206m39 0h2m57 0h2M0 207m10 0h2m4 0h2m23 0h2m121 0h2m42 0h2M0 208m40 0h2m53 0h2m106 0h2M0 209m17 0h2m-1 0h2m-1 0h2m13 0h2m2 0h2"/>
</g></g>
<path d="M0 0H107.0V107.2" fill="none" stroke="#c4c4c4" stroke-width="1"/>
<path d="M0 0V107.2" fill="none" stroke="#555" stroke-width="1.3"/>
<path d="M0 107.2H107.0" fill="none" stroke="#777" stroke-width="1"/>
<path d="M-1 2V99.2" stroke="#666" stroke-width="1.2" stroke-dasharray="0.7 1.9" fill="none"/>
<path d="M8 108.5H103.0" stroke="#888" stroke-width="1.8" stroke-dasharray="0.7 2.1" fill="none"/>
<path d="M-2.8 9.3H0" stroke="#444" stroke-width="1"/>
<path d="M-2.8 33.6H0" stroke="#444" stroke-width="1"/>
<path d="M-2.8 58.3H0" stroke="#444" stroke-width="1"/>
<path d="M-2.8 84.5H0" stroke="#444" stroke-width="1"/>
<path d="M-2.8 96.2H0" stroke="#444" stroke-width="1"/>
<path d="M11.2 107.2v3" stroke="#555" stroke-width="1"/>
<path d="M22.7 107.2v3" stroke="#555" stroke-width="1"/>
<path d="M49.2 107.2v3" stroke="#555" stroke-width="1"/>
<path d="M73.4 107.2v3" stroke="#555" stroke-width="1"/>
<path d="M97.8 107.2v3" stroke="#555" stroke-width="1"/>
<path d="M0 58.3H107.0M48.8 0V107.2" fill="none" stroke="#6e6e6e" stroke-width="1"/>
</g>
<g transform="translate(360.8 24.0)">
<g filter="url(#s)"><g transform="scale(.5)" fill="none" stroke="#000" stroke-width="2" stroke-opacity=".46">
<path d="M0 58m156 0h2M0 59m148 0h2m5 0h2M0 61m157 0h2m2 0h2M0 62m147 0h2M0 63m145 0h2m11 0h2M0 64m149 0h2M0 65m158 0h2M0 67m150 0h2M0 71m153 0h2m3 0h2M0 72m139 0h2m6 0h2m1 0h2m0 0h2m3 0h2M0 73m148 0h2m-1 0h2M0 74m156 0h2m1 0h2M0 75m150 0h2M0 76m140 0h2m12 0h2m5 0h2M0 77m154 0h2m4 0h2M0 78m146 0h2m10 0h2M0 79m157 0h2M0 80m160 0h2M0 81m148 0h2m0 0h2M0 82m145 0h2m4 0h2M0 83m151 0h2m4 0h2m0 0h2m3 0h2M0 84m148 0h2m-1 0h2m-1 0h2m11 0h2M0 85m151 0h2m1 0h2m0 0h2m2 0h2M0 86m154 0h2m-1 0h2m0 0h2m6 0h2M0 87m158 0h2m-1 0h2M0 88m148 0h2m0 0h2m2 0h2m2 0h2M0 89m153 0h2m-1 0h2m-1 0h2m0 0h2M0 90m151 0h2m5 0h2M0 91m145 0h2m0 0h2m2 0h2m-1 0h2m2 0h2m4 0h2M0 92m142 0h2m4 0h2m3 0h2m0 0h2m1 0h2m-1 0h2m3 0h2m0 0h2M0 93m148 0h2m0 0h2m-1 0h2m0 0h2m2 0h2m0 0h2M0 94m146 0h2m-1 0h2m5 0h2m0 0h2m-1 0h2m-1 0h2m1 0h2m1 0h2M0 95m147 0h2m0 0h2m5 0h2m-1 0h2m0 0h2M0 96m150 0h2m2 0h2M0 97m149 0h2m2 0h2m2 0h2m2 0h2M0 98m152 0h2m-1 0h2m0 0h2m-1 0h2m3 0h2M0 99m150 0h2m3 0h2M0 100m151 0h2m0 0h2m-1 0h2m4 0h2m0 0h2m-1 0h2M0 101m154 0h2m0 0h2m0 0h2m4 0h2M0 102m151 0h2m1 0h2m0 0h2m1 0h2m5 0h2M0 103m147 0h2m2 0h2m-1 0h2m-1 0h2m7 0h2M0 104m159 0h2m1 0h2m1 0h2M0 105m150 0h2m1 0h2m-1 0h2m2 0h2m-1 0h2M0 106m155 0h2M0 107m148 0h2m-1 0h2m3 0h2M0 108m139 0h2m2 0h2m5 0h2m-1 0h2m-1 0h2M0 109m150 0h2m2 0h2m0 0h2m-1 0h2m-1 0h2m2 0h2M0 110m144 0h2m10 0h2M0 111m152 0h2m1 0h2m0 0h2m-1 0h2m1 0h2m1 0h2M0 112m154 0h2m-1 0h2m0 0h2M0 113m153 0h2M0 114m151 0h2M0 115m146 0h2M0 116m146 0h2m3 0h2m5 0h2m-1 0h2m-1 0h2M0 117m159 0h2M0 118m154 0h2m-1 0h2m3 0h2M0 119m145 0h2m7 0h2m11 0h2M0 120m154 0h2m5 0h2M0 122m149 0h2m6 0h2M0 123m157 0h2M0 124m147 0h2M0 126m149 0h2M0 128m152 0h2m6 0h2M0 129m144 0h2m4 0h2m5 0h2M0 130m154 0h2M0 131m156 0h2M0 132m145 0h2M0 133m150 0h2m0 0h2M0 134m157 0h2M0 135m157 0h2M0 138m151 0h2m2 0h2M0 140m144 0h2m8 0h2M0 141m150 0h2M0 142m139 0h2m4 0h2M0 143m146 0h2M0 144m158 0h2M0 145m148 0h2m2 0h2M0 147m151 0h2m8 0h2M0 149m152 0h2m-1 0h2M0 151m145 0h2M0 152m141 0h2M0 153m139 0h2m6 0h2m0 0h2m1 0h2m-1 0h2M0 154m153 0h2M0 155m153 0h2M0 156m150 0h2m5 0h2M0 157m144 0h2M0 159m145 0h2M0 160m144 0h2m-1 0h2m6 0h2M0 161m145 0h2m2 0h2M0 162m141 0h2M0 163m149 0h2M0 164m143 0h2m8 0h2m0 0h2m0 0h2m1 0h2M0 167m152 0h2M0 169m151 0h2M0 170m135 0h2M0 171m142 0h2M0 172m151 0h2M0 173m147 0h2m1 0h2M0 175m145 0h2M0 178m153 0h2M0 182m158 0h2M0 183m150 0h2M0 198m157 0h2"/>
<path d="M0 53m155 0h2M0 54m157 0h2M0 55m162 0h2M0 58m162 0h2M0 62m156 0h2M0 63m152 0h2M0 64m160 0h2M0 65m147 0h2m7 0h2M0 67m146 0h2M0 68m163 0h2M0 69m160 0h2M0 70m155 0h2m4 0h2M0 71m145 0h2m1 0h2m1 0h2m-1 0h2M0 73m156 0h2m-1 0h2M0 74m149 0h2m0 0h2m0 0h2m6 0h2M0 75m148 0h2m5 0h2m2 0h2M0 76m147 0h2m10 0h2m1 0h2M0 77m145 0h2m1 0h2m3 0h2M0 78m148 0h2M0 79m144 0h2m9 0h2m2 0h2M0 80m153 0h2m2 0h2M0 81m147 0h2m9 0h2M0 82m155 0h2M0 83m148 0h2m5 0h2m3 0h2m1 0h2M0 84m161 0h2M0 85m149 0h2m6 0h2m3 0h2M0 86m144 0h2m5 0h2m1 0h2M0 87m147 0h2m-1 0h2m2 0h2m4 0h2m-1 0h2m1 0h2M0 88m149 0h2m3 0h2m8 0h2M0 89m150 0h2m2 0h2m2 0h2m2 0h2m0 0h2M0 90m146 0h2m0 0h2m1 0h2m-1 0h2m0 0h2m0 0h2m4 0h2M0 91m147 0h2m2 0h2m1 0h2m4 0h2M0 92m147 0h2m-1 0h2m2 0h2m5 0h2M0 93m150 0h2m0 0h2m1 0h2m0 0h2M0 94m153 0h2M0 95m146 0h2m0 0h2m0 0h2M0 96m148 0h2m5 0h2M0 97m146 0h2m-1 0h2m1 0h2m3 0h2m1 0h2M0 98m149 0h2m-1 0h2m3 0h2m-1 0h2m5 0h2M0 99m146 0h2m1 0h2m0 0h2m0 0h2m-1 0h2m8 0h2M0 100m145 0h2m-1 0h2m0 0h2m3 0h2m-1 0h2m4 0h2M0 101m152 0h2m5 0h2m-1 0h2M0 102m152 0h2m0 0h2m4 0h2M0 103m143 0h2m6 0h2m-1 0h2m-1 0h2m4 0h2m2 0h2M0 104m148 0h2m3 0h2m0 0h2m0 0h2m0 0h2M0 105m152 0h2m0 0h2m2 0h2m0 0h2M0 106m150 0h2m1 0h2m2 0h2m-1 0h2m1 0h2M0 107m144 0h2m1 0h2m3 0h2m2 0h2m4 0h2M0 108m145 0h2m9 0h2m-1 0h2m-1 0h2M0 109m147 0h2m4 0h2m-1 0h2m0 0h2M0 110m152 0h2m8 0h2M0 111m139 0h2m4 0h2m1 0h2m-1 0h2m-1 0h2m-1 0h2m0 0h2m0 0h2m0 0h2M0 112m142 0h2m2 0h2M0 114m158 0h2M0 115m145 0h2m6 0h2M0 116m149 0h2m3 0h2m5 0h2M0 117m151 0h2m0 0h2m8 0h2M0 118m151 0h2m10 0h2m-1 0h2M0 119m148 0h2m0 0h2m2 0h2M0 120m146 0h2m1 0h2m0 0h2m2 0h2M0 121m149 0h2m0 0h2m3 0h2m5 0h2M0 122m149 0h2m1 0h2M0 123m142 0h2m12 0h2M0 124m155 0h2m2 0h2m2 0h2M0 125m145 0h2m8 0h2m2 0h2M0 126m140 0h2M0 127m157 0h2m1 0h2M0 128m156 0h2M0 132m141 0h2m22 0h2M0 133m162 0h2M0 134m153 0h2M0 135m152 0h2M0 136m150 0h2m0 0h2M0 137m146 0h2m7 0h2M0 138m150 0h2M0 139m152 0h2M0 140m149 0h2M0 141m148 0h2m14 0h2M0 142m143 0h2m8 0h2m5 0h2M0 143m147 0h2M0 144m144 0h2m5 0h2M0 145m143 0h2m-1 0h2M0 147m139 0h2M0 148m149 0h2M0 149m149 0h2m1 0h2M0 150m146 0h2M0 152m154 0h2M0 153m142 0h2M0 154m151 0h2m3 0h2M0 155m153 0h2M0 156m144 0h2M0 157m140 0h2m13 0h2M0 158m155 0h2m2 0h2M0 159m135 0h2m15 0h2M0 160m146 0h2m1 0h2m7 0h2M0 161m155 0h2M0 162m147 0h2m5 0h2M0 163m153 0h2M0 164m142 0h2m4 0h2M0 165m152 0h2M0 166m153 0h2m-1 0h2M0 169m159 0h2M0 171m143 0h2M0 172m157 0h2M0 173m145 0h2M0 176m143 0h2M0 179m150 0h2m0 0h2m-1 0h2M0 180m147 0h2"/>
<path d="M0 51m153 0h2M0 56m143 0h2M0 61m155 0h2m2 0h2M0 62m147 0h2m9 0h2M0 63m146 0h2m2 0h2m0 0h2M0 66m147 0h2m0 0h2m0 0h2m1 0h2M0 68m156 0h2M0 69m154 0h2M0 71m145 0h2m6 0h2M0 72m151 0h2M0 73m160 0h2M0 74m160 0h2M0 75m155 0h2M0 76m149 0h2m7 0h2M0 78m154 0h2m1 0h2M0 80m152 0h2m6 0h2M0 81m157 0h2m1 0h2m-1 0h2M0 82m148 0h2m2 0h2m3 0h2M0 83m148 0h2m0 0h2m1 0h2m1 0h2m0 0h2M0 84m133 0h2m14 0h2m0 0h2m8 0h2M0 85m149 0h2m0 0h2m-1 0h2m2 0h2M0 86m154 0h2m2 0h2m2 0h2M0 87m144 0h2m-1 0h2m0 0h2m1 0h2m3 0h2m0 0h2m-1 0h2m-1 0h2M0 89m151 0h2m0 0h2m4 0h2m0 0h2M0 90m150 0h2m5 0h2M0 91m153 0h2M0 92m149 0h2m0 0h2m2 0h2M0 93m145 0h2m2 0h2m0 0h2m-1 0h2m3 0h2m2 0h2m-1 0h2M0 94m153 0h2m-1 0h2m-1 0h2m1 0h2m0 0h2m-1 0h2M0 95m144 0h2m1 0h2m13 0h2M0 96m149 0h2m5 0h2m-1 0h2m2 0h2M0 97m147 0h2m0 0h2m4 0h2m-1 0h2m-1 0h2m0 0h2M0 98m149 0h2m2 0h2m3 0h2m4 0h2m0 0h2M0 99m154 0h2m1 0h2m-1 0h2m-1 0h2m-1 0h2M0 100m147 0h2m5 0h2m-1 0h2m2 0h2m-1 0h2m1 0h2M0 101m150 0h2m-1 0h2m2 0h2m0 0h2M0 102m143 0h2m0 0h2m3 0h2m-1 0h2m4 0h2M0 103m145 0h2m-1 0h2m4 0h2M0 104m150 0h2m3 0h2M0 105m147 0h2m2 0h2m4 0h2M0 106m143 0h2m4 0h2m0 0h2m2 0h2m3 0h2M0 107m151 0h2m0 0h2m0 0h2m0 0h2m-1 0h2m3 0h2m1 0h2M0 108m149 0h2m7 0h2M0 109m149 0h2m1 0h2m10 0h2M0 110m152 0h2m3 0h2m4 0h2M0 111m150 0h2m0 0h2m1 0h2m-1 0h2m1 0h2M0 112m141 0h2m12 0h2m2 0h2m-1 0h2M0 113m152 0h2m1 0h2m-1 0h2M0 114m144 0h2m6 0h2m-1 0h2m2 0h2m7 0h2M0 115m151 0h2m2 0h2m-1 0h2M0 116m151 0h2m5 0h2M0 117m147 0h2m5 0h2M0 118m151 0h2m3 0h2m2 0h2m1 0h2M0 119m148 0h2m10 0h2M0 120m142 0h2m9 0h2m7 0h2M0 121m151 0h2m4 0h2M0 122m150 0h2M0 123m144 0h2m2 0h2m1 0h2m2 0h2m-1 0h2m0 0h2M0 124m151 0h2m0 0h2m-1 0h2M0 125m141 0h2m2 0h2m7 0h2M0 126m145 0h2m1 0h2m1 0h2M0 127m148 0h2m0 0h2m3 0h2M0 128m146 0h2M0 129m158 0h2M0 130m148 0h2m-1 0h2m6 0h2m0 0h2M0 133m160 0h2M0 136m155 0h2M0 137m150 0h2m1 0h2M0 138m157 0h2M0 140m150 0h2M0 141m153 0h2M0 142m137 0h2m10 0h2m5 0h2M0 143m144 0h2M0 144m155 0h2M0 146m145 0h2m0 0h2m1 0h2M0 147m153 0h2M0 148m145 0h2m2 0h2M0 149m145 0h2m0 0h2M0 150m148 0h2m5 0h2m1 0h2M0 151m152 0h2M0 152m142 0h2M0 153m145 0h2m2 0h2m1 0h2M0 155m146 0h2M0 158m141 0h2m4 0h2m-1 0h2M0 159m149 0h2M0 160m147 0h2M0 161m151 0h2M0 162m146 0h2M0 163m149 0h2M0 164m148 0h2M0 165m143 0h2m13 0h2M0 168m155 0h2M0 170m150 0h2M0 171m148 0h2M0 174m148 0h2M0 175m157 0h2M0 176m143 0h2M0 178m152 0h2M0 180m150 0h2m5 0h2M0 181m155 0h2M0 187m145 0h2M0 191m144 0h2M0 193m147 0h2M0 196m146 0h2"/>
<path d="M0 38m164 0h2M0 40m144 0h2M0 42m153 0h2M0 52m154 0h2M0 58m158 0h2M0 59m150 0h2m3 0h2M0 62m154 0h2m0 0h2M0 65m155 0h2M0 66m160 0h2M0 68m156 0h2M0 69m151 0h2m5 0h2M0 70m151 0h2M0 71m151 0h2M0 72m153 0h2M0 73m150 0h2M0 74m155 0h2m5 0h2M0 75m146 0h2m0 0h2m9 0h2M0 77m147 0h2m5 0h2m4 0h2M0 78m147 0h2m2 0h2m0 0h2m0 0h2M0 79m151 0h2m-1 0h2m0 0h2M0 80m148 0h2m2 0h2m4 0h2M0 81m153 0h2m5 0h2m2 0h2M0 82m144 0h2m8 0h2m-1 0h2m0 0h2M0 83m155 0h2M0 84m147 0h2m5 0h2m1 0h2m2 0h2m3 0h2M0 85m155 0h2m3 0h2m0 0h2M0 86m144 0h2m8 0h2m5 0h2M0 87m148 0h2m0 0h2m1 0h2m-1 0h2M0 88m150 0h2m-1 0h2m-1 0h2m2 0h2m-1 0h2M0 89m157 0h2m0 0h2M0 90m153 0h2m3 0h2M0 91m152 0h2m0 0h2m5 0h2m2 0h2M0 92m143 0h2m5 0h2m0 0h2m3 0h2m0 0h2M0 93m151 0h2m-1 0h2m1 0h2m2 0h2M0 94m150 0h2m1 0h2m1 0h2m2 0h2m2 0h2M0 95m150 0h2m1 0h2M0 96m154 0h2m0 0h2m4 0h2m-1 0h2M0 97m151 0h2m0 0h2m0 0h2m-1 0h2m1 0h2m-1 0h2M0 98m147 0h2m6 0h2m-1 0h2m-1 0h2m-1 0h2m-1 0h2M0 99m146 0h2m1 0h2m1 0h2m-1 0h2m-1 0h2m-1 0h2m0 0h2m2 0h2M0 100m151 0h2m0 0h2m1 0h2M0 101m151 0h2m-1 0h2m-1 0h2m0 0h2m1 0h2m2 0h2M0 102m145 0h2m9 0h2m0 0h2M0 103m146 0h2m3 0h2m0 0h2m-1 0h2m1 0h2m0 0h2m2 0h2M0 104m152 0h2m0 0h2m-1 0h2m1 0h2m4 0h2M0 105m144 0h2M0 106m163 0h2M0 107m142 0h2m4 0h2m1 0h2m4 0h2m0 0h2M0 108m162 0h2M0 109m155 0h2m-1 0h2m2 0h2M0 110m153 0h2M0 111m149 0h2m1 0h2M0 112m154 0h2m-1 0h2m-1 0h2m4 0h2M0 113m147 0h2m1 0h2m2 0h2m-1 0h2m-1 0h2m0 0h2m-1 0h2M0 114m148 0h2M0 115m146 0h2M0 116m153 0h2m2 0h2m1 0h2M0 117m153 0h2m-1 0h2m8 0h2m5 0h2M0 118m147 0h2m11 0h2m3 0h2M0 119m156 0h2m10 0h2M0 120m150 0h2m9 0h2M0 121m152 0h2m5 0h2M0 122m152 0h2m0 0h2m3 0h2m1 0h2M0 123m145 0h2m2 0h2M0 124m151 0h2m2 0h2m-1 0h2M0 125m146 0h2m0 0h2m5 0h2M0 126m151 0h2m1 0h2M0 127m146 0h2M0 128m142 0h2m16 0h2M0 129m154 0h2M0 130m149 0h2m7 0h2m4 0h2M0 133m155 0h2m-1 0h2M0 134m149 0h2M0 135m155 0h2M0 136m137 0h2m16 0h2m10 0h2M0 138m142 0h2m8 0h2M0 139m152 0h2M0 141m142 0h2m4 0h2M0 144m143 0h2M0 145m158 0h2M0 146m142 0h2M0 148m149 0h2M0 149m152 0h2M0 150m147 0h2m2 0h2m8 0h2M0 151m150 0h2m9 0h2M0 152m146 0h2m1 0h2m4 0h2M0 154m159 0h2M0 155m146 0h2m3 0h2m3 0h2M0 156m149 0h2M0 157m146 0h2M0 158m154 0h2M0 159m139 0h2m0 0h2m3 0h2m3 0h2m4 0h2M0 161m147 0h2M0 162m148 0h2m0 0h2M0 163m151 0h2m0 0h2M0 164m144 0h2M0 166m145 0h2M0 167m146 0h2m-1 0h2m2 0h2M0 168m147 0h2m0 0h2m2 0h2M0 169m147 0h2M0 172m151 0h2M0 175m154 0h2M0 176m151 0h2m-1 0h2M0 179m148 0h2M0 181m146 0h2m-1 0h2"/>
<path stroke-opacity=".37" d="M0 4m133 0h2M0 5m16 0h2m30 0h2m44 0h2m23 0h2m53 0h2M0 6m53 0h2m26 0h2m-1 0h2m50 0h2m1 0h2m28 0h2m27 0h2M0 7m21 0h2m10 0h2m84 0h2M0 8m72 0h2m16 0h2m5 0h2m14 0h2m-1 0h2m20 0h2m11 0h2m4 0h2M0 9m94 0h2m8 0h2M0 10m107 0h2m7 0h2M0 11m78 0h2m4 0h2m11 0h2m8 0h2m2 0h2m48 0h2M0 12m43 0h2m17 0h2m26 0h2m0 0h2m21 0h2M0 13m76 0h2m7 0h2m7 0h2m5 0h2m2 0h2m24 0h2M0 14m6 0h2m62 0h2m0 0h2m28 0h2m-1 0h2m10 0h2m6 0h2m0 0h2m20 0h2M0 15m45 0h2m57 0h2m8 0h2m17 0h2m8 0h2M0 16m61 0h2m17 0h2m10 0h2m4 0h2m5 0h2m1 0h2m23 0h2m31 0h2m15 0h2M0 17m59 0h2m16 0h2m1 0h2m30 0h2m9 0h2m5 0h2m0 0h2m1 0h2M0 18m23 0h2m22 0h2m26 0h2m1 0h2m0 0h2m6 0h2m-1 0h2m-1 0h2m3 0h2m2 0h2m10 0h2m-1 0h2m3 0h2m1 0h2m1 0h2M0 19m70 0h2m0 0h2m-1 0h2m8 0h2m0 0h2m-1 0h2m0 0h2m-1 0h2m4 0h2m4 0h2m2 0h2m18 0h2M0 20m51 0h2m12 0h2m1 0h2m4 0h2m10 0h2m2 0h2m2 0h2m0 0h2m0 0h2m0 0h2m2 0h2m-1 0h2m-1 0h2m0 0h2m0 0h2m2 0h2m0 0h2M0 21m20 0h2m37 0h2m13 0h2m2 0h2m4 0h2m1 0h2m8 0h2m0 0h2m7 0h2m6 0h2m6 0h2m44 0h2M0 22m63 0h2m-1 0h2m1 0h2m0 0h2m7 0h2m11 0h2m0 0h2m0 0h2m1 0h2m5 0h2m8 0h2m-1 0h2m-1 0h2m0 0h2m1 0h2m9 0h2m15 0h2m47 0h2M0 23m68 0h2m2 0h2m3 0h2m2 0h2m1 0h2m-1 0h2m5 0h2m0 0h2m-1 0h2m7 0h2m-1 0h2m0 0h2m0 0h2m9 0h2m-1 0h2M0 24m4 0h2m2 0h2m46 0h2m11 0h2m4 0h2m3 0h2m-1 0h2m1 0h2m5 0h2m-1 0h2m4 0h2m2 0h2m-1 0h2m-1 0h2m-1 0h2m-1 0h2m-1 0h2m15 0h2m5 0h2m3 0h2M0 25m49 0h2m7 0h2m2 0h2m5 0h2m1 0h2m6 0h2m2 0h2m12 0h2m4 0h2m2 0h2m0 0h2m1 0h2m4 0h2m0 0h2m6 0h2m2 0h2m9 0h2M0 26m28 0h2m28 0h2m5 0h2m1 0h2m0 0h2m2 0h2m1 0h2m4 0h2m8 0h2m2 0h2m0 0h2m2 0h2m1 0h2m0 0h2m1 0h2m-1 0h2m-1 0h2m0 0h2m0 0h2m7 0h2m12 0h2m17 0h2m6 0h2M0 27m58 0h2m15 0h2m1 0h2m2 0h2m2 0h2m0 0h2m-1 0h2m-1 0h2m-1 0h2m-1 0h2m0 0h2m-1 0h2m10 0h2m-1 0h2m1 0h2m2 0h2m1 0h2m-1 0h2m1 0h2m0 0h2m24 0h2M0 28m6 0h2m53 0h2m12 0h2m2 0h2m6 0h2m1 0h2m0 0h2m-1 0h2m0 0h2m1 0h2m2 0h2m0 0h2m-1 0h2m2 0h2m2 0h2m1 0h2m1 0h2m-1 0h2m0 0h2m15 0h2m5 0h2M0 29m42 0h2m7 0h2m22 0h2m1 0h2m-1 0h2m-1 0h2m4 0h2m0 0h2m8 0h2m0 0h2m-1 0h2m0 0h2m-1 0h2m-1 0h2m3 0h2m16 0h2m4 0h2m12 0h2M0 30m7 0h2m36 0h2m21 0h2m-1 0h2m4 0h2m4 0h2m6 0h2m1 0h2m3 0h2m4 0h2m1 0h2m4 0h2m2 0h2m-1 0h2m5 0h2m-1 0h2m4 0h2m2 0h2m0 0h2m6 0h2M0 31m47 0h2m-1 0h2m4 0h2m2 0h2m2 0h2m-1 0h2m19 0h2m2 0h2m2 0h2m3 0h2m0 0h2m0 0h2m0 0h2m-1 0h2m0 0h2m1 0h2m9 0h2m-1 0h2m8 0h2m0 0h2M0 32m54 0h2m0 0h2m-1 0h2m23 0h2m0 0h2m6 0h2m4 0h2m3 0h2m-1 0h2m-1 0h2m-1 0h2m0 0h2m5 0h2m-1 0h2m2 0h2m2 0h2m-1 0h2m66 0h2M0 33m33 0h2m21 0h2m11 0h2m6 0h2m12 0h2m1 0h2m7 0h2m4 0h2m4 0h2m16 0h2m5 0h2m0 0h2m-1 0h2m2 0h2M0 34m42 0h2m12 0h2m14 0h2m2 0h2m5 0h2m1 0h2m1 0h2m0 0h2m14 0h2m-1 0h2m1 0h2m0 0h2m-1 0h2m6 0h2m10 0h2m0 0h2m4 0h2m0 0h2M0 35m20 0h2m59 0h2m13 0h2m0 0h2m0 0h2m2 0h2m-1 0h2m0 0h2m0 0h2m0 0h2m1 0h2m7 0h2m6 0h2m5 0h2m0 0h2m2 0h2M0 36m93 0h2m20 0h2m-1 0h2m0 0h2m7 0h2m1 0h2m3 0h2m0 0h2m0 0h2M0 37m27 0h2m31 0h2m-1 0h2m9 0h2m15 0h2m6 0h2m1 0h2m-1 0h2m2 0h2m0 0h2m14 0h2m0 0h2m2 0h2m27 0h2m13 0h2M0 38m41 0h2m7 0h2m0 0h2m5 0h2m4 0h2m8 0h2m24 0h2m3 0h2m1 0h2m1 0h2m10 0h2m0 0h2M0 39m37 0h2m2 0h2m27 0h2m5 0h2m0 0h2m6 0h2m11 0h2m3 0h2m8 0h2m0 0h2m4 0h2m5 0h2m14 0h2m16 0h2M0 40m76 0h2m0 0h2m0 0h2m2 0h2m6 0h2m5 0h2m0 0h2m10 0h2m0 0h2m1 0h2m2 0h2m-1 0h2m1 0h2m8 0h2m-1 0h2m2 0h2m16 0h2M0 41m49 0h2m11 0h2m16 0h2m2 0h2m0 0h2m2 0h2m-1 0h2m8 0h2m3 0h2m1 0h2m4 0h2m1 0h2m5 0h2m3 0h2m3 0h2m-1 0h2m2 0h2m1 0h2m3 0h2m6 0h2m33 0h2M0 42m60 0h2m5 0h2m2 0h2m-1 0h2m30 0h2m3 0h2m1 0h2m-1 0h2m11 0h2m7 0h2m0 0h2M0 43m22 0h2m24 0h2m3 0h2m40 0h2m6 0h2m1 0h2m2 0h2m2 0h2m1 0h2m6 0h2m8 0h2m1 0h2m4 0h2M0 44m28 0h2m36 0h2m8 0h2m-1 0h2m12 0h2m4 0h2m-1 0h2m-1 0h2m8 0h2m1 0h2m5 0h2m2 0h2m5 0h2m0 0h2m1 0h2m1 0h2m-1 0h2m2 0h2m0 0h2m5 0h2m49 0h2M0 45m54 0h2m17 0h2m3 0h2m1 0h2m5 0h2m11 0h2m1 0h2m3 0h2m0 0h2m1 0h2m3 0h2m11 0h2m-1 0h2m0 0h2m0 0h2m14 0h2m2 0h2M0 46m49 0h2m10 0h2m5 0h2m12 0h2m7 0h2m5 0h2m6 0h2m-1 0h2m1 0h2m0 0h2m3 0h2m1 0h2m-1 0h2m5 0h2m8 0h2m0 0h2m5 0h2m8 0h2M0 47m27 0h2m32 0h2m-1 0h2m2 0h2m19 0h2m0 0h2m-1 0h2m-1 0h2m7 0h2m2 0h2m6 0h2m-1 0h2m3 0h2m-1 0h2m2 0h2m-1 0h2m5 0h2m4 0h2m11 0h2m6 0h2M0 48m65 0h2m18 0h2m4 0h2m1 0h2m0 0h2m10 0h2m3 0h2m1 0h2m1 0h2m7 0h2m4 0h2m2 0h2m4 0h2M0 49m35 0h2m22 0h2m6 0h2m-1 0h2m8 0h2m-1 0h2m1 0h2m19 0h2m-1 0h2m4 0h2m1 0h2m3 0h2m3 0h2m-1 0h2m3 0h2m1 0h2m0 0h2m-1 0h2m12 0h2m0 0h2m-1 0h2m0 0h2m-1 0h2M0 50m53 0h2m24 0h2m-1 0h2m-1 0h2m2 0h2m6 0h2m2 0h2m6 0h2m5 0h2m2 0h2m-1 0h2m2 0h2m0 0h2m-1 0h2m-1 0h2m1 0h2m7 0h2m3 0h2M0 51m53 0h2m16 0h2m23 0h2m6 0h2m1 0h2m-1 0h2m-1 0h2m0 0h2m2 0h2m0 0h2m19 0h2m12 0h2M0 52m20 0h2m27 0h2m31 0h2m3 0h2m1 0h2m13 0h2m0 0h2m2 0h2m8 0h2m6 0h2m0 0h2m-1 0h2m2 0h2m0 0h2m3 0h2m14 0h2m1 0h2m0 0h2M0 53m17 0h2m25 0h2m16 0h2m33 0h2m1 0h2m5 0h2m1 0h2m28 0h2m10 0h2m3 0h2m38 0h2M0 54m60 0h2m1 0h2m9 0h2m13 0h2m19 0h2m-1 0h2m5 0h2m3 0h2m1 0h2m2 0h2m5 0h2m9 0h2m-1 0h2m9 0h2m45 0h2M0 55m45 0h2m5 0h2m8 0h2m1 0h2m-1 0h2m25 0h2m4 0h2m3 0h2m4 0h2m3 0h2m-1 0h2m2 0h2m1 0h2m0 0h2m0 0h2m8 0h2m1 0h2M0 56m4 0h2m51 0h2m0 0h2m13 0h2m0 0h2m26 0h2m0 0h2m7 0h2m0 0h2m-1 0h2m2 0h2m4 0h2m1 0h2m0 0h2m-1 0h2m1 0h2m2 0h2m2 0h2m5 0h2m26 0h2M0 57m62 0h2m3 0h2m24 0h2m9 0h2m10 0h2m-1 0h2m-1 0h2m4 0h2m0 0h2m1 0h2m3 0h2m-1 0h2m-1 0h2m-1 0h2m11 0h2m37 0h2M0 58m11 0h2m34 0h2m2 0h2m1 0h2m23 0h2m4 0h2m9 0h2m5 0h2m4 0h2m3 0h2m1 0h2m-1 0h2m1 0h2m5 0h2m6 0h2m15 0h2m-1 0h2M0 59m27 0h2m39 0h2m33 0h2m0 0h2m1 0h2m2 0h2m-1 0h2m8 0h2m3 0h2m-1 0h2m-1 0h2m-1 0h2m7 0h2m12 0h2M0 60m42 0h2m46 0h2m8 0h2m8 0h2m-1 0h2m8 0h2m1 0h2m3 0h2m11 0h2m1 0h2m1 0h2m0 0h2m1 0h2m7 0h2M0 61m28 0h2m18 0h2m18 0h2m4 0h2m0 0h2m3 0h2m9 0h2m-1 0h2m6 0h2m3 0h2m-1 0h2m5 0h2m5 0h2m-1 0h2m7 0h2m1 0h2m0 0h2m1 0h2m15 0h2M0 62m31 0h2m17 0h2m18 0h2m4 0h2m1 0h2m41 0h2m-1 0h2m0 0h2m0 0h2m-1 0h2m-1 0h2m3 0h2m0 0h2m3 0h2M0 63m34 0h2m16 0h2m18 0h2m45 0h2m1 0h2m-1 0h2m21 0h2m3 0h2m0 0h2m0 0h2M0 64m45 0h2m8 0h2m9 0h2m21 0h2m5 0h2m-1 0h2m-1 0h2m3 0h2m1 0h2m7 0h2m2 0h2m-1 0h2m9 0h2m14 0h2m13 0h2m2 0h2M0 65m66 0h2m10 0h2m4 0h2m15 0h2m0 0h2m0 0h2m7 0h2m0 0h2m21 0h2m4 0h2m5 0h2m-1 0h2m2 0h2m7 0h2m0 0h2M0 66m27 0h2m14 0h2m18 0h2m3 0h2m26 0h2m7 0h2m1 0h2m23 0h2m-1 0h2m2 0h2m25 0h2m-1 0h2M0 67m13 0h2m4 0h2m81 0h2m4 0h2m6 0h2m1 0h2m11 0h2m2 0h2m2 0h2m6 0h2m1 0h2M0 68m18 0h2m25 0h2m3 0h2m15 0h2m3 0h2m21 0h2m0 0h2m4 0h2m1 0h2m1 0h2m-1 0h2m0 0h2m1 0h2m0 0h2m2 0h2m-1 0h2m0 0h2m0 0h2m-1 0h2m2 0h2m4 0h2m7 0h2m2 0h2m-1 0h2m3 0h2m3 0h2m1 0h2M0 69m60 0h2m2 0h2m4 0h2m-1 0h2m1 0h2m13 0h2m1 0h2m6 0h2m1 0h2m2 0h2m4 0h2m3 0h2m2 0h2m7 0h2m2 0h2m3 0h2m-1 0h2m6 0h2m-1 0h2m4 0h2m4 0h2m5 0h2M0 70m27 0h2m7 0h2m15 0h2m4 0h2m6 0h2m46 0h2m8 0h2m-1 0h2m2 0h2m5 0h2m6 0h2m1 0h2m-1 0h2m-1 0h2m1 0h2M0 71m12 0h2m5 0h2m7 0h2m5 0h2m10 0h2m16 0h2m3 0h2m10 0h2m9 0h2m19 0h2m0 0h2m1 0h2m0 0h2m-1 0h2m5 0h2m0 0h2m-1 0h2m3 0h2m2 0h2m0 0h2m-1 0h2m9 0h2m-1 0h2m0 0h2M0 72m48 0h2m9 0h2m8 0h2m4 0h2m0 0h2m21 0h2m2 0h2m5 0h2m2 0h2m-1 0h2m10 0h2m-1 0h2m11 0h2m1 0h2m12 0h2m1 0h2m0 0h2M0 73m53 0h2m16 0h2m0 0h2m5 0h2m3 0h2m3 0h2m2 0h2m0 0h2m15 0h2m4 0h2m5 0h2m3 0h2m12 0h2m0 0h2m1 0h2m2 0h2m11 0h2m7 0h2M0 74m18 0h2m43 0h2m14 0h2m16 0h2m0 0h2m8 0h2m8 0h2m-1 0h2m7 0h2m0 0h2m2 0h2m4 0h2m-1 0h2m3 0h2m2 0h2m-1 0h2m4 0h2m4 0h2M0 75m63 0h2m11 0h2m4 0h2m3 0h2m10 0h2m10 0h2m-1 0h2m1 0h2m18 0h2m0 0h2m5 0h2m5 0h2m4 0h2m-1 0h2m-1 0h2m4 0h2M0 76m6 0h2m56 0h2m3 0h2m2 0h2m32 0h2m1 0h2m6 0h2m-1 0h2m9 0h2m7 0h2m1 0h2m3 0h2m4 0h2m-1 0h2m-1 0h2m0 0h2M0 77m23 0h2m0 0h2m4 0h2m16 0h2m29 0h2m9 0h2m1 0h2m6 0h2m3 0h2m4 0h2m0 0h2m9 0h2m9 0h2m1 0h2m6 0h2m17 0h2m0 0h2M0 78m42 0h2m36 0h2m-1 0h2m16 0h2m10 0h2m-1 0h2m1 0h2m20 0h2m-1 0h2m5 0h2m2 0h2m0 0h2m-1 0h2m13 0h2M0 79m50 0h2m1 0h2m15 0h2m1 0h2m0 0h2m8 0h2m5 0h2m11 0h2m4 0h2m15 0h2m0 0h2m-1 0h2m0 0h2m2 0h2m9 0h2m0 0h2m1 0h2m-1 0h2m-1 0h2m0 0h2m0 0h2m10 0h2M0 80m43 0h2m2 0h2m13 0h2m2 0h2m7 0h2m6 0h2m0 0h2m0 0h2m12 0h2m8 0h2m2 0h2m9 0h2m7 0h2m1 0h2m0 0h2m4 0h2m0 0h2m3 0h2m4 0h2m43 0h2M0 81m49 0h2m7 0h2m8 0h2m1 0h2m29 0h2m-1 0h2m2 0h2m5 0h2m0 0h2m2 0h2m7 0h2m4 0h2m12 0h2m-1 0h2m-1 0h2m0 0h2m0 0h2m1 0h2m38 0h2M0 82m46 0h2m24 0h2m32 0h2m3 0h2m5 0h2m2 0h2m18 0h2m0 0h2m15 0h2m6 0h2M0 83m30 0h2m14 0h2m19 0h2m23 0h2m11 0h2m24 0h2m1 0h2m1 0h2m1 0h2m0 0h2m1 0h2m2 0h2m0 0h2m1 0h2m-1 0h2m4 0h2m-1 0h2M0 84m50 0h2m10 0h2m31 0h2m-1 0h2m6 0h2m20 0h2m5 0h2m1 0h2m5 0h2m4 0h2m4 0h2m1 0h2m1 0h2m2 0h2M0 85m47 0h2m2 0h2m43 0h2m2 0h2m6 0h2m-1 0h2m6 0h2m1 0h2m5 0h2m-1 0h2m5 0h2m2 0h2m3 0h2m6 0h2m-1 0h2m0 0h2m10 0h2M0 86m19 0h2m30 0h2m13 0h2m9 0h2m6 0h2m14 0h2m8 0h2m1 0h2m0 0h2m14 0h2m4 0h2m0 0h2m2 0h2m6 0h2m2 0h2m1 0h2M0 87m34 0h2m27 0h2m15 0h2m17 0h2m18 0h2m9 0h2m-1 0h2m12 0h2m1 0h2m-1 0h2m-1 0h2m-1 0h2m7 0h2m-1 0h2m3 0h2M0 88m69 0h2m5 0h2m2 0h2m20 0h2m7 0h2m10 0h2m0 0h2m12 0h2m8 0h2m4 0h2m0 0h2m0 0h2m-1 0h2m1 0h2m4 0h2M0 89m12 0h2m16 0h2m11 0h2m7 0h2m13 0h2m2 0h2m8 0h2m7 0h2m0 0h2m3 0h2m11 0h2m14 0h2m18 0h2m2 0h2m1 0h2m0 0h2m-1 0h2m-1 0h2m1 0h2m-1 0h2m45 0h2M0 90m31 0h2m3 0h2m10 0h2m5 0h2m5 0h2m19 0h2m4 0h2m1 0h2m26 0h2m-1 0h2m15 0h2m6 0h2m-1 0h2m-1 0h2m0 0h2m-1 0h2m0 0h2m-1 0h2m-1 0h2m2 0h2M0 91m7 0h2m41 0h2m26 0h2m0 0h2m12 0h2m8 0h2m0 0h2m37 0h2m4 0h2m0 0h2m-1 0h2m-1 0h2m1 0h2m0 0h2M0 92m40 0h2m-1 0h2m10 0h2m19 0h2m0 0h2m-1 0h2m12 0h2m23 0h2m2 0h2m3 0h2m14 0h2m-1 0h2m0 0h2m5 0h2m1 0h2m-1 0h2m0 0h2m1 0h2M0 93m39 0h2m13 0h2m20 0h2m17 0h2m3 0h2m32 0h2m1 0h2m3 0h2m5 0h2m0 0h2m2 0h2m7 0h2M0 94m20 0h2m4 0h2m10 0h2m4 0h2m8 0h2m34 0h2m2 0h2m11 0h2m6 0h2m2 0h2m0 0h2m6 0h2m7 0h2m4 0h2m-1 0h2m1 0h2m2 0h2m-1 0h2m-1 0h2m0 0h2m-1 0h2M0 95m10 0h2m8 0h2m44 0h2m19 0h2m0 0h2m38 0h2m8 0h2m-1 0h2m3 0h2m0 0h2m-1 0h2m-1 0h2m-1 0h2m-1 0h2m-1 0h2m3 0h2m3 0h2M0 96m40 0h2m34 0h2m3 0h2m7 0h2m22 0h2m13 0h2m14 0h2m3 0h2m-1 0h2m1 0h2m-1 0h2m0 0h2m-1 0h2m11 0h2M0 97m22 0h2m10 0h2m40 0h2m-1 0h2m-1 0h2m-1 0h2m0 0h2m2 0h2m7 0h2m15 0h2m3 0h2m29 0h2m0 0h2m0 0h2m-1 0h2m-1 0h2m0 0h2m2 0h2m8 0h2M0 98m33 0h2m54 0h2m5 0h2m1 0h2m10 0h2m27 0h2m0 0h2m-1 0h2m-1 0h2m-1 0h2m1 0h2m0 0h2m-1 0h2m-1 0h2m-1 0h2m1 0h2m0 0h2m0 0h2m1 0h2m0 0h2m0 0h2M0 99m30 0h2m30 0h2m23 0h2m6 0h2m2 0h2m0 0h2m-1 0h2m1 0h2m29 0h2m6 0h2m-1 0h2m1 0h2m1 0h2m-1 0h2m1 0h2m3 0h2m1 0h2M0 100m16 0h2m23 0h2m2 0h2m14 0h2m3 0h2m7 0h2m19 0h2m0 0h2m1 0h2m6 0h2m34 0h2m3 0h2m-1 0h2m-1 0h2m0 0h2m4 0h2M0 101m27 0h2m36 0h2m8 0h2m3 0h2m0 0h2m12 0h2m0 0h2m47 0h2m2 0h2m-1 0h2m1 0h2m0 0h2m3 0h2m32 0h2M0 102m27 0h2m6 0h2m7 0h2m8 0h2m2 0h2m12 0h2m9 0h2m6 0h2m0 0h2m19 0h2m-1 0h2m-1 0h2m10 0h2m2 0h2m2 0h2m2 0h2m-1 0h2m0 0h2m2 0h2m4 0h2m-1 0h2m-1 0h2m2 0h2m2 0h2m1 0h2M0 103m33 0h2m7 0h2m3 0h2m22 0h2m50 0h2m22 0h2m2 0h2m5 0h2m7 0h2m2 0h2M0 104m26 0h2m9 0h2m13 0h2m5 0h2m-1 0h2m15 0h2m17 0h2m0 0h2m4 0h2m9 0h2m25 0h2m-1 0h2m1 0h2m3 0h2m0 0h2m2 0h2m-1 0h2m-1 0h2m-1 0h2m-1 0h2m5 0h2M0 105m43 0h2m6 0h2m0 0h2m1 0h2m1 0h2m2 0h2m1 0h2m-1 0h2m1 0h2m26 0h2m9 0h2m0 0h2m6 0h2m13 0h2m1 0h2m8 0h2m1 0h2m-1 0h2m-1 0h2m5 0h2m0 0h2m1 0h2m-1 0h2M0 106m54 0h2m13 0h2m21 0h2m28 0h2m4 0h2m11 0h2m-1 0h2m2 0h2m0 0h2m-1 0h2m-1 0h2m-1 0h2m-1 0h2m-1 0h2m-1 0h2m1 0h2m0 0h2m1 0h2m5 0h2M0 107m33 0h2m6 0h2m11 0h2m35 0h2m-1 0h2m-1 0h2m42 0h2m6 0h2m1 0h2m-1 0h2m2 0h2m3 0h2m-1 0h2m-1 0h2m0 0h2m0 0h2M0 108m13 0h2m11 0h2m10 0h2m-1 0h2m2 0h2m21 0h2m4 0h2m9 0h2m11 0h2m9 0h2m0 0h2m23 0h2m6 0h2m0 0h2m-1 0h2m-1 0h2m1 0h2m1 0h2m-1 0h2m0 0h2m3 0h2m7 0h2M0 109m8 0h2m2 0h2m25 0h2m16 0h2m4 0h2m9 0h2m7 0h2m4 0h2m4 0h2m5 0h2m1 0h2m30 0h2m4 0h2m4 0h2m-1 0h2m0 0h2m-1 0h2m0 0h2m6 0h2m3 0h2M0 110m20 0h2m-1 0h2m8 0h2m12 0h2m5 0h2m7 0h2m9 0h2m5 0h2m4 0h2m4 0h2m8 0h2m0 0h2m34 0h2m1 0h2m1 0h2m-1 0h2m0 0h2m-1 0h2m1 0h2m0 0h2m-1 0h2m0 0h2m0 0h2M0 111m46 0h2m7 0h2m3 0h2m-1 0h2m0 0h2m0 0h2m6 0h2m2 0h2m0 0h2m-1 0h2m1 0h2m35 0h2m16 0h2m2 0h2m4 0h2m-1 0h2m1 0h2m-1 0h2m1 0h2m0 0h2m0 0h2m-1 0h2m44 0h2M0 112m34 0h2m8 0h2m2 0h2m5 0h2m4 0h2m-1 0h2m2 0h2m-1 0h2m0 0h2m3 0h2m6 0h2m0 0h2m-1 0h2m0 0h2m12 0h2m5 0h2m10 0h2m22 0h2m-1 0h2m-1 0h2m-1 0h2m0 0h2m-1 0h2m1 0h2m-1 0h2m3 0h2m-1 0h2m4 0h2M0 113m20 0h2m15 0h2m1 0h2m58 0h2m8 0h2m-1 0h2m4 0h2m-1 0h2m3 0h2m3 0h2m10 0h2m6 0h2m1 0h2m-1 0h2m0 0h2m11 0h2M0 114m4 0h2m6 0h2m7 0h2m5 0h2m32 0h2m9 0h2m3 0h2m0 0h2m7 0h2m17 0h2m34 0h2m5 0h2m1 0h2m-1 0h2m0 0h2m0 0h2m0 0h2m2 0h2M0 115m22 0h2m3 0h2m19 0h2m3 0h2m4 0h2m6 0h2m0 0h2m-1 0h2m11 0h2m0 0h2m-1 0h2m16 0h2m-1 0h2m-1 0h2m-1 0h2m6 0h2m-1 0h2m14 0h2m3 0h2m6 0h2m-1 0h2m-1 0h2m-1 0h2m-1 0h2m-1 0h2m5 0h2m0 0h2M0 116m45 0h2m-1 0h2m-1 0h2m-1 0h2m0 0h2m10 0h2m1 0h2m0 0h2m14 0h2m3 0h2m3 0h2m49 0h2m9 0h2m-1 0h2m-1 0h2m-1 0h2m4 0h2M0 117m47 0h2m-1 0h2m4 0h2m6 0h2m-1 0h2m-1 0h2m-1 0h2m12 0h2m5 0h2m1 0h2m9 0h2m3 0h2m-1 0h2m11 0h2m21 0h2m1 0h2m1 0h2m6 0h2m1 0h2m-1 0h2M0 118m28 0h2m2 0h2m0 0h2m8 0h2m2 0h2m1 0h2m21 0h2m4 0h2m0 0h2m0 0h2m-1 0h2m5 0h2m24 0h2m7 0h2m1 0h2m14 0h2m0 0h2m0 0h2m1 0h2m-1 0h2m-1 0h2m0 0h2m-1 0h2m-1 0h2m5 0h2M0 119m17 0h2m7 0h2m9 0h2m0 0h2m8 0h2m-1 0h2m16 0h2m4 0h2m-1 0h2m3 0h2m33 0h2m24 0h2m-1 0h2m0 0h2m3 0h2m-1 0h2m0 0h2m3 0h2m2 0h2m28 0h2M0 120m35 0h2m2 0h2m7 0h2m2 0h2m2 0h2m1 0h2m3 0h2m2 0h2m1 0h2m4 0h2m0 0h2m7 0h2m16 0h2m3 0h2m3 0h2m10 0h2m18 0h2m0 0h2m1 0h2m-1 0h2m-1 0h2m-1 0h2m0 0h2m2 0h2M0 121m17 0h2m27 0h2m6 0h2m2 0h2m3 0h2m3 0h2m6 0h2m1 0h2m-1 0h2m6 0h2m28 0h2m22 0h2m0 0h2m0 0h2m-1 0h2m-1 0h2m-1 0h2m0 0h2m0 0h2m6 0h2m-1 0h2M0 122m17 0h2m16 0h2m0 0h2m7 0h2m10 0h2m0 0h2m3 0h2m2 0h2m0 0h2m0 0h2m1 0h2m2 0h2m13 0h2m14 0h2m5 0h2m2 0h2m0 0h2m11 0h2m1 0h2m0 0h2m0 0h2m2 0h2m-1 0h2m0 0h2m-1 0h2m-1 0h2m2 0h2m-1 0h2m-1 0h2m-1 0h2m2 0h2m5 0h2m16 0h2M0 123m13 0h2m1 0h2m13 0h2m2 0h2m0 0h2m18 0h2m0 0h2m-1 0h2m5 0h2m0 0h2m2 0h2m-1 0h2m-1 0h2m0 0h2m0 0h2m2 0h2m1 0h2m-1 0h2m8 0h2m16 0h2m23 0h2m-1 0h2m7 0h2m-1 0h2m1 0h2m4 0h2m0 0h2M0 124m22 0h2m1 0h2m-1 0h2m-1 0h2m7 0h2m2 0h2m3 0h2m2 0h2m6 0h2m4 0h2m-1 0h2m2 0h2m0 0h2m2 0h2m1 0h2m2 0h2m2 0h2m4 0h2m-1 0h2m2 0h2m1 0h2m-1 0h2m19 0h2m10 0h2m5 0h2m0 0h2m0 0h2m-1 0h2m3 0h2m4 0h2m4 0h2m-1 0h2M0 125m16 0h2m23 0h2m8 0h2m7 0h2m3 0h2m15 0h2m21 0h2m0 0h2m27 0h2m3 0h2m-1 0h2m0 0h2m0 0h2m0 0h2m-1 0h2m-1 0h2m0 0h2m-1 0h2m-1 0h2m0 0h2m4 0h2M0 126m42 0h2m1 0h2m12 0h2m3 0h2m1 0h2m9 0h2m4 0h2m3 0h2m5 0h2m-1 0h2m2 0h2m39 0h2m2 0h2m4 0h2m-1 0h2m-1 0h2m0 0h2M0 127m28 0h2m2 0h2m2 0h2m0 0h2m3 0h2m-1 0h2m1 0h2m3 0h2m0 0h2m0 0h2m-1 0h2m6 0h2m0 0h2m1 0h2m2 0h2m4 0h2m1 0h2m0 0h2m-1 0h2m18 0h2m-1 0h2m35 0h2m2 0h2m-1 0h2m3 0h2m1 0h2m0 0h2m0 0h2M0 128m11 0h2m8 0h2m4 0h2m9 0h2m0 0h2m6 0h2m0 0h2m-1 0h2m-1 0h2m-1 0h2m1 0h2m0 0h2m0 0h2m5 0h2m-1 0h2m-1 0h2m0 0h2m0 0h2m0 0h2m0 0h2m12 0h2m9 0h2m5 0h2m24 0h2m9 0h2m3 0h2m0 0h2m0 0h2m0 0h2m-1 0h2m1 0h2m-1 0h2m35 0h2M0 129m11 0h2m17 0h2m4 0h2m11 0h2m6 0h2m-1 0h2m1 0h2m0 0h2m-1 0h2m-1 0h2m2 0h2m-1 0h2m1 0h2m0 0h2m1 0h2m16 0h2m1 0h2m38 0h2m-1 0h2m-1 0h2m0 0h2m7 0h2m1 0h2m4 0h2m-1 0h2M0 130m27 0h2m8 0h2m1 0h2m8 0h2m0 0h2m0 0h2m-1 0h2m1 0h2m1 0h2m1 0h2m4 0h2m0 0h2m0 0h2m3 0h2m6 0h2m2 0h2m0 0h2m50 0h2m0 0h2m-1 0h2m4 0h2m0 0h2m0 0h2M0 131m12 0h2m6 0h2m1 0h2m7 0h2m7 0h2m7 0h2m2 0h2m1 0h2m5 0h2m3 0h2m-1 0h2m7 0h2m-1 0h2m2 0h2m0 0h2m0 0h2m8 0h2m22 0h2m17 0h2m-1 0h2m3 0h2m2 0h2m-1 0h2m-1 0h2m2 0h2m3 0h2M0 132m14 0h2m17 0h2m3 0h2m16 0h2m-1 0h2m2 0h2m-1 0h2m-1 0h2m1 0h2m1 0h2m-1 0h2m0 0h2m-1 0h2m1 0h2m4 0h2m-1 0h2m-1 0h2m-1 0h2m1 0h2m-1 0h2m8 0h2m4 0h2m33 0h2m0 0h2m4 0h2m0 0h2m-1 0h2m0 0h2m5 0h2M0 133m12 0h2m12 0h2m3 0h2m-1 0h2m0 0h2m7 0h2m8 0h2m3 0h2m-1 0h2m-1 0h2m0 0h2m-1 0h2m-1 0h2m-1 0h2m1 0h2m-1 0h2m0 0h2m1 0h2m6 0h2m0 0h2m3 0h2m12 0h2m25 0h2m7 0h2m1 0h2m-1 0h2m-1 0h2m1 0h2m1 0h2m-1 0h2m1 0h2m0 0h2M0 134m17 0h2m12 0h2m1 0h2m15 0h2m2 0h2m8 0h2m1 0h2m0 0h2m8 0h2m-1 0h2m5 0h2m4 0h2m-1 0h2m-1 0h2m6 0h2m9 0h2m26 0h2m0 0h2m0 0h2m0 0h2m2 0h2m-1 0h2m-1 0h2m-1 0h2m-1 0h2m0 0h2m-1 0h2m1 0h2M0 135m13 0h2m4 0h2m10 0h2m4 0h2m-1 0h2m0 0h2m0 0h2m4 0h2m2 0h2m-1 0h2m1 0h2m2 0h2m-1 0h2m0 0h2m-1 0h2m-1 0h2m4 0h2m-1 0h2m0 0h2m2 0h2m2 0h2m-1 0h2m-1 0h2m5 0h2m7 0h2m-1 0h2m4 0h2m14 0h2m11 0h2m2 0h2m5 0h2m-1 0h2m4 0h2m-1 0h2m-1 0h2m0 0h2m-1 0h2M0 136m8 0h2m14 0h2m1 0h2m5 0h2m0 0h2m7 0h2m1 0h2m2 0h2m-1 0h2m-1 0h2m-1 0h2m0 0h2m-1 0h2m0 0h2m0 0h2m2 0h2m5 0h2m1 0h2m-1 0h2m-1 0h2m-1 0h2m-1 0h2m-1 0h2m-1 0h2m1 0h2m2 0h2m-1 0h2m-1 0h2m1 0h2m6 0h2m38 0h2m1 0h2m-1 0h2m-1 0h2m-1 0h2m0 0h2m1 0h2m0 0h2m7 0h2m1 0h2M0 137m17 0h2m11 0h2m2 0h2m6 0h2m-1 0h2m0 0h2m-1 0h2m-1 0h2m-1 0h2m1 0h2m4 0h2m0 0h2m1 0h2m3 0h2m-1 0h2m-1 0h2m-1 0h2m-1 0h2m2 0h2m0 0h2m-1 0h2m0 0h2m1 0h2m4 0h2m1 0h2m0 0h2m0 0h2m3 0h2m38 0h2m-1 0h2m0 0h2m2 0h2m-1 0h2m-1 0h2m-1 0h2m6 0h2m-1 0h2m16 0h2M0 138m24 0h2m1 0h2m-1 0h2m10 0h2m3 0h2m2 0h2m3 0h2m-1 0h2m1 0h2m0 0h2m-1 0h2m0 0h2m0 0h2m0 0h2m-1 0h2m2 0h2m-1 0h2m0 0h2m-1 0h2m-1 0h2m0 0h2m-1 0h2m1 0h2m-1 0h2m-1 0h2m0 0h2m11 0h2m36 0h2m1 0h2m0 0h2m-1 0h2m-1 0h2m-1 0h2m-1 0h2m-1 0h2m-1 0h2m4 0h2m-1 0h2M0 139m9 0h2m9 0h2m3 0h2m0 0h2m4 0h2m6 0h2m2 0h2m-1 0h2m-1 0h2m2 0h2m0 0h2m2 0h2m0 0h2m-1 0h2m-1 0h2m-1 0h2m1 0h2m0 0h2m-1 0h2m-1 0h2m-1 0h2m-1 0h2m1 0h2m4 0h2m-1 0h2m-1 0h2m-1 0h2m4 0h2m6 0h2m-1 0h2m39 0h2m1 0h2m0 0h2m0 0h2m6 0h2m6 0h2m-1 0h2M0 140m18 0h2m4 0h2m6 0h2m17 0h2m-1 0h2m-1 0h2m-1 0h2m9 0h2m2 0h2m2 0h2m-1 0h2m0 0h2m-1 0h2m4 0h2m-1 0h2m2 0h2m-1 0h2m0 0h2m4 0h2m42 0h2m0 0h2m-1 0h2m5 0h2m-1 0h2m44 0h2M0 141m6 0h2m10 0h2m2 0h2m11 0h2m1 0h2m-1 0h2m-1 0h2m-1 0h2m4 0h2m2 0h2m-1 0h2m5 0h2m-1 0h2m1 0h2m0 0h2m-1 0h2m1 0h2m1 0h2m-1 0h2m0 0h2m-1 0h2m5 0h2m2 0h2m0 0h2m-1 0h2m4 0h2m-1 0h2m-1 0h2m22 0h2m9 0h2m7 0h2m-1 0h2m4 0h2m0 0h2m1 0h2m0 0h2m1 0h2M0 142m9 0h2m14 0h2m0 0h2m3 0h2m1 0h2m13 0h2m2 0h2m2 0h2m-1 0h2m-1 0h2m0 0h2m-1 0h2m0 0h2m2 0h2m-1 0h2m1 0h2m3 0h2m0 0h2m0 0h2m1 0h2m4 0h2m1 0h2m18 0h2m22 0h2m-1 0h2m0 0h2m1 0h2m1 0h2m-1 0h2m-1 0h2m-1 0h2m1 0h2m2 0h2m2 0h2m0 0h2M0 143m18 0h2m2 0h2m3 0h2m4 0h2m1 0h2m5 0h2m-1 0h2m2 0h2m-1 0h2m4 0h2m3 0h2m-1 0h2m3 0h2m1 0h2m2 0h2m2 0h2m-1 0h2m-1 0h2m2 0h2m-1 0h2m5 0h2m10 0h2m0 0h2m21 0h2m6 0h2m0 0h2m4 0h2m1 0h2m1 0h2m-1 0h2m4 0h2M0 144m6 0h2m12 0h2m3 0h2m1 0h2m-1 0h2m7 0h2m-1 0h2m0 0h2m1 0h2m-1 0h2m0 0h2m3 0h2m1 0h2m0 0h2m-1 0h2m-1 0h2m5 0h2m-1 0h2m3 0h2m-1 0h2m-1 0h2m1 0h2m2 0h2m0 0h2m-1 0h2m-1 0h2m7 0h2m-1 0h2m0 0h2m25 0h2m10 0h2m2 0h2m3 0h2m0 0h2m1 0h2m-1 0h2m-1 0h2m-1 0h2m1 0h2m1 0h2M0 145m21 0h2m1 0h2m0 0h2m-1 0h2m5 0h2m5 0h2m3 0h2m3 0h2m-1 0h2m0 0h2m-1 0h2m4 0h2m1 0h2m-1 0h2m-1 0h2m0 0h2m-1 0h2m0 0h2m0 0h2m2 0h2m0 0h2m1 0h2m0 0h2m-1 0h2m0 0h2m1 0h2m0 0h2m-1 0h2m2 0h2m-1 0h2m3 0h2m11 0h2m22 0h2m-1 0h2m0 0h2m-1 0h2m2 0h2m0 0h2m1 0h2M0 146m10 0h2m5 0h2m10 0h2m4 0h2m12 0h2m0 0h2m1 0h2m-1 0h2m0 0h2m-1 0h2m-1 0h2m-1 0h2m1 0h2m-1 0h2m0 0h2m-1 0h2m-1 0h2m0 0h2m-1 0h2m1 0h2m4 0h2m-1 0h2m-1 0h2m2 0h2m1 0h2m8 0h2m2 0h2m35 0h2m2 0h2m-1 0h2m2 0h2m-1 0h2m0 0h2m1 0h2m-1 0h2M0 147m22 0h2m-1 0h2m5 0h2m-1 0h2m4 0h2m11 0h2m-1 0h2m0 0h2m-1 0h2m1 0h2m0 0h2m-1 0h2m0 0h2m1 0h2m-1 0h2m1 0h2m-1 0h2m-1 0h2m4 0h2m0 0h2m0 0h2m-1 0h2m-1 0h2m-1 0h2m-1 0h2m-1 0h2m0 0h2m-1 0h2m1 0h2m5 0h2m34 0h2m3 0h2m1 0h2m-1 0h2m-1 0h2m0 0h2m-1 0h2m2 0h2m2 0h2m0 0h2m-1 0h2M0 148m8 0h2m21 0h2m2 0h2m12 0h2m6 0h2m7 0h2m3 0h2m-1 0h2m-1 0h2m-1 0h2m3 0h2m-1 0h2m-1 0h2m5 0h2m0 0h2m14 0h2m0 0h2m28 0h2m0 0h2m0 0h2m2 0h2m-1 0h2m-1 0h2m1 0h2m2 0h2M0 149m15 0h2m5 0h2m13 0h2m2 0h2m2 0h2m-1 0h2m0 0h2m4 0h2m-1 0h2m0 0h2m-1 0h2m0 0h2m0 0h2m-1 0h2m2 0h2m3 0h2m0 0h2m0 0h2m-1 0h2m0 0h2m-1 0h2m-1 0h2m-1 0h2m-1 0h2m-1 0h2m-1 0h2m2 0h2m10 0h2m34 0h2m7 0h2m1 0h2m-1 0h2m7 0h2m25 0h2M0 150m18 0h2m0 0h2m5 0h2m-1 0h2m2 0h2m15 0h2m-1 0h2m3 0h2m0 0h2m-1 0h2m0 0h2m0 0h2m-1 0h2m-1 0h2m1 0h2m-1 0h2m-1 0h2m-1 0h2m6 0h2m0 0h2m-1 0h2m-1 0h2m1 0h2m-1 0h2m5 0h2m1 0h2m10 0h2m29 0h2m1 0h2m2 0h2m3 0h2m2 0h2m-1 0h2m3 0h2M0 151m10 0h2m0 0h2m5 0h2m0 0h2m-1 0h2m2 0h2m3 0h2m0 0h2m3 0h2m-1 0h2m0 0h2m1 0h2m0 0h2m2 0h2m0 0h2m-1 0h2m5 0h2m0 0h2m1 0h2m1 0h2m-1 0h2m-1 0h2m-1 0h2m0 0h2m0 0h2m-1 0h2m-1 0h2m-1 0h2m0 0h2m0 0h2m-1 0h2m0 0h2m0 0h2m2 0h2m5 0h2m1 0h2m32 0h2m5 0h2m-1 0h2m4 0h2m-1 0h2m-1 0h2m-1 0h2m2 0h2m-1 0h2M0 152m5 0h2m-1 0h2m5 0h2m0 0h2m0 0h2m5 0h2m5 0h2m7 0h2m0 0h2m2 0h2m2 0h2m1 0h2m2 0h2m-1 0h2m-1 0h2m-1 0h2m1 0h2m0 0h2m-1 0h2m-1 0h2m1 0h2m-1 0h2m-1 0h2m0 0h2m-1 0h2m-1 0h2m-1 0h2m0 0h2m-1 0h2m1 0h2m1 0h2m-1 0h2m0 0h2m-1 0h2m7 0h2m3 0h2m37 0h2m2 0h2m10 0h2M0 153m13 0h2m-1 0h2m14 0h2m-1 0h2m6 0h2m0 0h2m-1 0h2m0 0h2m-1 0h2m-1 0h2m1 0h2m3 0h2m2 0h2m0 0h2m-1 0h2m0 0h2m0 0h2m-1 0h2m0 0h2m0 0h2m-1 0h2m0 0h2m0 0h2m0 0h2m-1 0h2m-1 0h2m0 0h2m-1 0h2m-1 0h2m-1 0h2m-1 0h2m0 0h2m1 0h2m-1 0h2m-1 0h2m1 0h2m4 0h2m0 0h2m40 0h2m4 0h2m-1 0h2m1 0h2m1 0h2m-1 0h2M0 154m21 0h2m8 0h2m5 0h2m-1 0h2m-1 0h2m-1 0h2m3 0h2m3 0h2m7 0h2m-1 0h2m3 0h2m-1 0h2m1 0h2m5 0h2m-1 0h2m2 0h2m-1 0h2m5 0h2m-1 0h2m9 0h2m4 0h2m0 0h2m34 0h2m-1 0h2m-1 0h2m-1 0h2m-1 0h2m0 0h2m0 0h2m-1 0h2m4 0h2m2 0h2M0 155m24 0h2m13 0h2m4 0h2m4 0h2m-1 0h2m0 0h2m0 0h2m-1 0h2m-1 0h2m3 0h2m0 0h2m1 0h2m1 0h2m-1 0h2m-1 0h2m-1 0h2m1 0h2m0 0h2m-1 0h2m-1 0h2m1 0h2m1 0h2m2 0h2m3 0h2m8 0h2m2 0h2m1 0h2m23 0h2m1 0h2m-1 0h2m1 0h2m0 0h2m-1 0h2m-1 0h2m2 0h2m-1 0h2M0 156m5 0h2m4 0h2m26 0h2m5 0h2m-1 0h2m-1 0h2m-1 0h2m0 0h2m3 0h2m2 0h2m0 0h2m-1 0h2m2 0h2m3 0h2m1 0h2m-1 0h2m-1 0h2m-1 0h2m-1 0h2m0 0h2m-1 0h2m2 0h2m-1 0h2m8 0h2m6 0h2m37 0h2m1 0h2m0 0h2m1 0h2m1 0h2m-1 0h2m4 0h2m40 0h2M0 157m27 0h2m2 0h2m7 0h2m1 0h2m-1 0h2m-1 0h2m0 0h2m7 0h2m-1 0h2m3 0h2m-1 0h2m0 0h2m-1 0h2m0 0h2m0 0h2m-1 0h2m2 0h2m2 0h2m-1 0h2m1 0h2m-1 0h2m0 0h2m0 0h2m-1 0h2m-1 0h2m1 0h2m-1 0h2m1 0h2m12 0h2m0 0h2m28 0h2m0 0h2m0 0h2m-1 0h2m-1 0h2m-1 0h2m0 0h2m1 0h2m-1 0h2M0 158m10 0h2m-1 0h2m17 0h2m5 0h2m2 0h2m1 0h2m1 0h2m-1 0h2m1 0h2m0 0h2m2 0h2m0 0h2m-1 0h2m0 0h2m2 0h2m-1 0h2m-1 0h2m4 0h2m1 0h2m1 0h2m-1 0h2m1 0h2m-1 0h2m0 0h2m-1 0h2m1 0h2m4 0h2m20 0h2m21 0h2m3 0h2m0 0h2m-1 0h2m0 0h2m-1 0h2m-1 0h2m0 0h2m3 0h2m-1 0h2M0 159m16 0h2m7 0h2m11 0h2m-1 0h2m-1 0h2m0 0h2m3 0h2m-1 0h2m0 0h2m0 0h2m-1 0h2m0 0h2m-1 0h2m-1 0h2m2 0h2m-1 0h2m-1 0h2m0 0h2m-1 0h2m-1 0h2m-1 0h2m-1 0h2m2 0h2m-1 0h2m0 0h2m-1 0h2m1 0h2m-1 0h2m0 0h2m-1 0h2m0 0h2m-1 0h2m5 0h2m0 0h2m9 0h2m-1 0h2m-1 0h2m28 0h2m3 0h2m2 0h2m0 0h2m-1 0h2m2 0h2m0 0h2m1 0h2m0 0h2M0 160m14 0h2m1 0h2m8 0h2m6 0h2m0 0h2m-1 0h2m2 0h2m-1 0h2m-1 0h2m3 0h2m0 0h2m0 0h2m0 0h2m2 0h2m0 0h2m0 0h2m0 0h2m-1 0h2m2 0h2m0 0h2m0 0h2m2 0h2m5 0h2m0 0h2m-1 0h2m-1 0h2m9 0h2m-1 0h2m-1 0h2m3 0h2m7 0h2m0 0h2m21 0h2m5 0h2m-1 0h2m-1 0h2m0 0h2m1 0h2m6 0h2M0 161m18 0h2m7 0h2m1 0h2m8 0h2m0 0h2m-1 0h2m0 0h2m-1 0h2m0 0h2m-1 0h2m-1 0h2m0 0h2m4 0h2m4 0h2m0 0h2m-1 0h2m3 0h2m0 0h2m1 0h2m-1 0h2m1 0h2m-1 0h2m0 0h2m-1 0h2m1 0h2m-1 0h2m-1 0h2m3 0h2m1 0h2m2 0h2m-1 0h2m-1 0h2m46 0h2m0 0h2m-1 0h2m11 0h2M0 162m13 0h2m9 0h2m5 0h2m12 0h2m-1 0h2m3 0h2m-1 0h2m1 0h2m7 0h2m-1 0h2m-1 0h2m-1 0h2m1 0h2m0 0h2m-1 0h2m1 0h2m0 0h2m0 0h2m-1 0h2m1 0h2m-1 0h2m4 0h2m0 0h2m8 0h2m7 0h2m27 0h2m17 0h2m2 0h2M0 163m12 0h2m6 0h2m2 0h2m-1 0h2m11 0h2m7 0h2m0 0h2m2 0h2m-1 0h2m0 0h2m-1 0h2m0 0h2m-1 0h2m-1 0h2m-1 0h2m-1 0h2m-1 0h2m-1 0h2m4 0h2m-1 0h2m-1 0h2m0 0h2m-1 0h2m-1 0h2m-1 0h2m-1 0h2m1 0h2m1 0h2m-1 0h2m1 0h2m-1 0h2m0 0h2m-1 0h2m-1 0h2m5 0h2m0 0h2m34 0h2m0 0h2m0 0h2m0 0h2m0 0h2m2 0h2m2 0h2m-1 0h2m4 0h2m6 0h2M0 164m6 0h2m11 0h2m12 0h2m0 0h2m3 0h2m-1 0h2m4 0h2m0 0h2m1 0h2m0 0h2m0 0h2m0 0h2m-1 0h2m-1 0h2m-1 0h2m-1 0h2m1 0h2m0 0h2m-1 0h2m-1 0h2m3 0h2m5 0h2m3 0h2m0 0h2m0 0h2m12 0h2m17 0h2m21 0h2m3 0h2M0 165m15 0h2m10 0h2m5 0h2m0 0h2m1 0h2m3 0h2m1 0h2m0 0h2m1 0h2m-1 0h2m2 0h2m0 0h2m-1 0h2m3 0h2m-1 0h2m-1 0h2m2 0h2m0 0h2m-1 0h2m-1 0h2m-1 0h2m-1 0h2m-1 0h2m4 0h2m13 0h2m39 0h2m1 0h2m-1 0h2m2 0h2m3 0h2m-1 0h2m8 0h2m2 0h2M0 166m12 0h2m18 0h2m-1 0h2m7 0h2m-1 0h2m0 0h2m0 0h2m6 0h2m1 0h2m-1 0h2m2 0h2m-1 0h2m-1 0h2m0 0h2m0 0h2m1 0h2m0 0h2m2 0h2m0 0h2m3 0h2m1 0h2m6 0h2m17 0h2m19 0h2m6 0h2m-1 0h2m7 0h2M0 167m27 0h2m12 0h2m6 0h2m-1 0h2m0 0h2m-1 0h2m4 0h2m-1 0h2m2 0h2m0 0h2m0 0h2m0 0h2m-1 0h2m-1 0h2m1 0h2m-1 0h2m-1 0h2m-1 0h2m0 0h2m-1 0h2m0 0h2m-1 0h2m2 0h2m-1 0h2m-1 0h2m0 0h2m-1 0h2m44 0h2m2 0h2m4 0h2m39 0h2M0 168m19 0h2m19 0h2m-1 0h2m0 0h2m3 0h2m7 0h2m0 0h2m5 0h2m3 0h2m0 0h2m3 0h2m0 0h2m0 0h2m1 0h2m-1 0h2m5 0h2m42 0h2m9 0h2M0 169m16 0h2m10 0h2m5 0h2m6 0h2m0 0h2m-1 0h2m-1 0h2m1 0h2m3 0h2m-1 0h2m0 0h2m1 0h2m0 0h2m2 0h2m1 0h2m-1 0h2m-1 0h2m2 0h2m2 0h2m-1 0h2m-1 0h2m5 0h2m2 0h2m3 0h2m0 0h2m16 0h2m5 0h2m15 0h2m2 0h2m-1 0h2m0 0h2m5 0h2M0 170m24 0h2m4 0h2m-1 0h2m2 0h2m0 0h2m0 0h2m3 0h2m3 0h2m3 0h2m6 0h2m2 0h2m1 0h2m5 0h2m4 0h2m12 0h2m8 0h2m46 0h2m0 0h2M0 171m30 0h2m5 0h2m1 0h2m4 0h2m-1 0h2m0 0h2m-1 0h2m2 0h2m-1 0h2m5 0h2m-1 0h2m-1 0h2m0 0h2m-1 0h2m-1 0h2m1 0h2m0 0h2m8 0h2m1 0h2m0 0h2m-1 0h2m6 0h2m19 0h2m25 0h2m3 0h2m-1 0h2m0 0h2M0 172m11 0h2m4 0h2m6 0h2m2 0h2m1 0h2m0 0h2m6 0h2m-1 0h2m-1 0h2m-1 0h2m1 0h2m0 0h2m-1 0h2m3 0h2m3 0h2m1 0h2m-1 0h2m-1 0h2m1 0h2m1 0h2m20 0h2m-1 0h2m0 0h2m4 0h2m25 0h2m6 0h2m9 0h2m-1 0h2m0 0h2m-1 0h2m7 0h2M0 173m11 0h2m-1 0h2m10 0h2m3 0h2m10 0h2m1 0h2m-1 0h2m9 0h2m0 0h2m3 0h2m1 0h2m-1 0h2m2 0h2m2 0h2m6 0h2m0 0h2m0 0h2m22 0h2m30 0h2m3 0h2m-1 0h2m1 0h2m8 0h2M0 174m16 0h2m0 0h2m29 0h2m0 0h2m-1 0h2m6 0h2m0 0h2m1 0h2m0 0h2m-1 0h2m3 0h2m0 0h2m-1 0h2m-1 0h2m-1 0h2m0 0h2m1 0h2m4 0h2m2 0h2m6 0h2m38 0h2m4 0h2m-1 0h2m-1 0h2m0 0h2M0 175m13 0h2m1 0h2m0 0h2m17 0h2m0 0h2m14 0h2m1 0h2m-1 0h2m0 0h2m0 0h2m2 0h2m1 0h2m2 0h2m7 0h2m1 0h2m-1 0h2m-1 0h2m0 0h2m0 0h2m0 0h2m27 0h2m16 0h2m7 0h2m30 0h2m9 0h2M0 176m21 0h2m3 0h2m15 0h2m3 0h2m11 0h2m-1 0h2m2 0h2m8 0h2m0 0h2m4 0h2m5 0h2m2 0h2m23 0h2m20 0h2m1 0h2m2 0h2m19 0h2M0 177m52 0h2m3 0h2m11 0h2m1 0h2m4 0h2m-1 0h2m-1 0h2m7 0h2m-1 0h2m3 0h2m12 0h2m43 0h2m3 0h2m38 0h2M0 178m12 0h2m27 0h2m0 0h2m0 0h2m5 0h2m15 0h2m-1 0h2m2 0h2m2 0h2m15 0h2m8 0h2m38 0h2m6 0h2m2 0h2m29 0h2M0 179m12 0h2m12 0h2m2 0h2m-1 0h2m5 0h2m15 0h2m10 0h2m0 0h2m2 0h2m0 0h2m7 0h2m2 0h2m8 0h2m1 0h2m2 0h2m34 0h2m-1 0h2m6 0h2m3 0h2m1 0h2m20 0h2M0 180m10 0h2m7 0h2m8 0h2m6 0h2m16 0h2m5 0h2m2 0h2m-1 0h2m3 0h2m-1 0h2m7 0h2m4 0h2m4 0h2m2 0h2m38 0h2m4 0h2m4 0h2m1 0h2m3 0h2m13 0h2M0 181m22 0h2m10 0h2m-1 0h2m4 0h2m4 0h2m2 0h2m10 0h2m4 0h2m3 0h2m6 0h2m1 0h2m0 0h2m2 0h2m-1 0h2m47 0h2m8 0h2m-1 0h2m2 0h2m12 0h2M0 182m7 0h2m10 0h2m9 0h2m6 0h2m7 0h2m6 0h2m2 0h2m19 0h2m6 0h2M0 183m14 0h2m9 0h2m5 0h2m6 0h2m1 0h2m4 0h2m9 0h2m0 0h2m5 0h2m4 0h2m3 0h2m9 0h2m43 0h2m4 0h2m3 0h2m3 0h2M0 184m33 0h2m4 0h2m-1 0h2m9 0h2m-1 0h2m7 0h2m1 0h2m2 0h2m7 0h2m-1 0h2m0 0h2m10 0h2m9 0h2m40 0h2m-1 0h2M0 185m5 0h2m14 0h2m24 0h2m0 0h2m8 0h2m3 0h2m0 0h2M0 186m52 0h2m0 0h2m3 0h2m-1 0h2m18 0h2m-1 0h2m2 0h2m26 0h2m33 0h2m3 0h2M0 187m61 0h2m-1 0h2m3 0h2m0 0h2m-1 0h2m0 0h2m8 0h2m58 0h2m34 0h2m11 0h2M0 188m20 0h2m4 0h2m9 0h2m13 0h2m14 0h2m8 0h2m3 0h2m13 0h2m42 0h2m11 0h2M0 189m37 0h2m19 0h2m1 0h2m36 0h2m47 0h2M0 190m19 0h2m11 0h2m13 0h2m5 0h2m2 0h2m2 0h2m5 0h2m45 0h2m25 0h2M0 191m11 0h2m22 0h2m4 0h2m24 0h2m7 0h2m11 0h2m1 0h2m45 0h2M0 192m33 0h2m13 0h2m70 0h2M0 193m30 0h2m0 0h2m9 0h2m-1 0h2m0 0h2m27 0h2m3 0h2m58 0h2m2 0h2M0 194m38 0h2m18 0h2m27 0h2m62 0h2m16 0h2M0 195m43 0h2m7 0h2m11 0h2m9 0h2m47 0h2m14 0h2m3 0h2M0 196m10 0h2m20 0h2m0 0h2m9 0h2m14 0h2m4 0h2m96 0h2M0 197m26 0h2m-1 0h2m12 0h2m2 0h2m0 0h2m13 0h2m40 0h2m16 0h2m28 0h2M0 198m20 0h2m1 0h2m56 0h2m127 0h2M0 199m22 0h2m77 0h2m27 0h2M0 200m109 0h2m38 0h2m1 0h2M0 201m43 0h2m26 0h2M0 202m30 0h2m51 0h2M0 203m38 0h2m2 0h2m4 0h2m3 0h2m109 0h2M0 204m35 0h2m114 0h2M0 205m19 0h2m74 0h2M0 206m196 0h2M0 207m60 0h2m50 0h2m72 0h2M0 208m24 0h2M0 209m151 0h2M0 210m184 0h2"/>
</g></g>
<path d="M0 0H107.0V107.2" fill="none" stroke="#c4c4c4" stroke-width="1"/>
<path d="M0 0V107.2" fill="none" stroke="#555" stroke-width="1.3"/>
<path d="M0 107.2H107.0" fill="none" stroke="#777" stroke-width="1"/>
<path d="M-1 2V99.2" stroke="#666" stroke-width="1.2" stroke-dasharray="0.7 1.9" fill="none"/>
<path d="M8 108.5H103.0" stroke="#888" stroke-width="1.8" stroke-dasharray="0.7 2.1" fill="none"/>
<path d="M-2.8 9.3H0" stroke="#444" stroke-width="1"/>
<path d="M-2.8 33.6H0" stroke="#444" stroke-width="1"/>
<path d="M-2.8 58.3H0" stroke="#444" stroke-width="1"/>
<path d="M-2.8 84.5H0" stroke="#444" stroke-width="1"/>
<path d="M-2.8 96.2H0" stroke="#444" stroke-width="1"/>
<path d="M11.2 107.2v3" stroke="#555" stroke-width="1"/>
<path d="M22.7 107.2v3" stroke="#555" stroke-width="1"/>
<path d="M49.2 107.2v3" stroke="#555" stroke-width="1"/>
<path d="M73.4 107.2v3" stroke="#555" stroke-width="1"/>
<path d="M97.8 107.2v3" stroke="#555" stroke-width="1"/>
<path d="M0 58.3H107.0M48.8 0V107.2" fill="none" stroke="#6e6e6e" stroke-width="1"/>
</g>
<g transform="translate(25.8 135.8)">
<ellipse cx="58" cy="24" rx="12" ry="6.5" fill="#000" opacity="0.55" filter="url(#b)"/>
<ellipse cx="69.5" cy="18.5" rx="4.5" ry="7" fill="#000" opacity="0.75" filter="url(#b)"/>
<g filter="url(#s)"><g transform="scale(.5)" fill="none" stroke="#000" stroke-width="2" stroke-opacity=".46">
<path d="M0 5m137 0h2M0 7m106 0h2M0 8m149 0h2M0 11m130 0h2m2 0h2m4 0h2M0 12m139 0h2M0 13m138 0h2M0 14m139 0h2m1 0h2m0 0h2M0 17m132 0h2m8 0h2m2 0h2M0 18m128 0h2m7 0h2m-1 0h2m4 0h2m6 0h2M0 19m87 0h2m43 0h2m1 0h2m1 0h2m-1 0h2M0 20m142 0h2m0 0h2m3 0h2M0 21m89 0h2m11 0h2m2 0h2m36 0h2M0 22m106 0h2m13 0h2m2 0h2m-1 0h2m7 0h2m4 0h2m-1 0h2m1 0h2M0 23m101 0h2m5 0h2m21 0h2m6 0h2m3 0h2m2 0h2M0 24m83 0h2m42 0h2m0 0h2m5 0h2m1 0h2M0 25m73 0h2m39 0h2m14 0h2m0 0h2m0 0h2m1 0h2m-1 0h2m3 0h2m4 0h2M0 26m104 0h2m9 0h2m5 0h2m6 0h2m0 0h2m0 0h2m3 0h2m1 0h2m0 0h2m-1 0h2m1 0h2M0 27m73 0h2m0 0h2m12 0h2m1 0h2m1 0h2m21 0h2m12 0h2m3 0h2m-1 0h2m7 0h2M0 28m81 0h2m3 0h2m7 0h2m1 0h2m13 0h2m14 0h2m1 0h2m1 0h2m1 0h2m-1 0h2m0 0h2m0 0h2m0 0h2m2 0h2M0 29m100 0h2m-1 0h2m6 0h2m6 0h2m5 0h2m3 0h2m-1 0h2m-1 0h2m3 0h2m3 0h2m9 0h2M0 30m83 0h2m40 0h2m6 0h2m-1 0h2m0 0h2m0 0h2m-1 0h2m-1 0h2m-1 0h2m-1 0h2M0 31m98 0h2m-1 0h2m1 0h2m-1 0h2m4 0h2m0 0h2m0 0h2m10 0h2m10 0h2m1 0h2m0 0h2m7 0h2m1 0h2M0 32m85 0h2m9 0h2m21 0h2m1 0h2m5 0h2m-1 0h2m3 0h2m-1 0h2m0 0h2m0 0h2m-1 0h2m-1 0h2m-1 0h2m0 0h2m0 0h2m3 0h2M0 33m90 0h2m14 0h2m8 0h2m1 0h2m1 0h2m-1 0h2m-1 0h2m4 0h2m2 0h2m-1 0h2m0 0h2m2 0h2m-1 0h2m-1 0h2m2 0h2M0 34m90 0h2m3 0h2m8 0h2m-1 0h2m0 0h2m4 0h2m0 0h2m4 0h2m-1 0h2m7 0h2m2 0h2m0 0h2m-1 0h2m0 0h2m1 0h2m0 0h2m0 0h2m3 0h2M0 35m70 0h2m0 0h2m13 0h2m9 0h2m-1 0h2m3 0h2m-1 0h2m-1 0h2m-1 0h2m1 0h2m-1 0h2m5 0h2m1 0h2m7 0h2m-1 0h2m1 0h2m0 0h2m-1 0h2m2 0h2m-1 0h2m1 0h2m1 0h2M0 36m68 0h2m11 0h2m-1 0h2m3 0h2m-1 0h2m11 0h2m0 0h2m-1 0h2m8 0h2m0 0h2m6 0h2m-1 0h2m-1 0h2m-1 0h2m2 0h2m-1 0h2m-1 0h2m1 0h2m4 0h2m1 0h2m2 0h2m2 0h2M0 37m57 0h2m14 0h2m10 0h2m1 0h2m1 0h2m1 0h2m-1 0h2m0 0h2m5 0h2m9 0h2m2 0h2m1 0h2m0 0h2m4 0h2m-1 0h2m0 0h2m-1 0h2m-1 0h2m1 0h2m0 0h2m-1 0h2m-1 0h2m-1 0h2m0 0h2m0 0h2m1 0h2M0 38m69 0h2m6 0h2m0 0h2m0 0h2m2 0h2m5 0h2m3 0h2m4 0h2m-1 0h2m1 0h2m1 0h2m1 0h2m2 0h2m5 0h2m-1 0h2m2 0h2m0 0h2m-1 0h2m0 0h2m-1 0h2m-1 0h2m-1 0h2m-1 0h2m0 0h2m-1 0h2m1 0h2m0 0h2m-1 0h2m1 0h2m-1 0h2m0 0h2M0 39m75 0h2m16 0h2m3 0h2m-1 0h2m1 0h2m0 0h2m0 0h2m0 0h2m5 0h2m1 0h2m9 0h2m1 0h2m0 0h2m-1 0h2m-1 0h2m-1 0h2m-1 0h2m-1 0h2m-1 0h2m0 0h2m0 0h2m4 0h2m-1 0h2M0 40m50 0h2m23 0h2m4 0h2m5 0h2m0 0h2m3 0h2m2 0h2m4 0h2m-1 0h2m0 0h2m6 0h2m0 0h2m2 0h2m4 0h2m-1 0h2m-1 0h2m0 0h2m-1 0h2m0 0h2m0 0h2m-1 0h2m-1 0h2m-1 0h2m-1 0h2m0 0h2m-1 0h2m0 0h2m-1 0h2M0 41m79 0h2m-1 0h2m11 0h2m0 0h2m1 0h2m0 0h2m3 0h2m-1 0h2m-1 0h2m2 0h2m-1 0h2m4 0h2m-1 0h2m2 0h2m-1 0h2m4 0h2m5 0h2m-1 0h2m0 0h2m0 0h2m0 0h2m-1 0h2m0 0h2m1 0h2m2 0h2M0 42m57 0h2m2 0h2m8 0h2m15 0h2m0 0h2m0 0h2m8 0h2m-1 0h2m0 0h2m0 0h2m0 0h2m-1 0h2m5 0h2m-1 0h2m0 0h2m6 0h2m1 0h2m-1 0h2m-1 0h2m0 0h2m-1 0h2m0 0h2m-1 0h2m2 0h2m-1 0h2m3 0h2m-1 0h2m3 0h2M0 43m78 0h2m0 0h2m0 0h2m3 0h2m12 0h2m-1 0h2m3 0h2m-1 0h2m0 0h2m-1 0h2m0 0h2m0 0h2m-1 0h2m9 0h2m-1 0h2m0 0h2m-1 0h2m-1 0h2m-1 0h2m0 0h2m-1 0h2m-1 0h2m-1 0h2m-1 0h2m0 0h2m0 0h2m-1 0h2m-1 0h2m-1 0h2m4 0h2M0 44m59 0h2m10 0h2m2 0h2m5 0h2m1 0h2m14 0h2m-1 0h2m4 0h2m0 0h2m4 0h2m4 0h2m-1 0h2m6 0h2m0 0h2m1 0h2m-1 0h2m0 0h2m-1 0h2m-1 0h2m-1 0h2m-1 0h2m-1 0h2m9 0h2M0 45m64 0h2m14 0h2m6 0h2m-1 0h2m-1 0h2m0 0h2m0 0h2m-1 0h2m0 0h2m2 0h2m0 0h2m0 0h2m-1 0h2m4 0h2m-1 0h2m1 0h2m1 0h2m1 0h2m-1 0h2m-1 0h2m2 0h2m2 0h2m1 0h2m-1 0h2m-1 0h2m-1 0h2m-1 0h2m1 0h2m1 0h2m-1 0h2m1 0h2m-1 0h2M0 46m71 0h2m3 0h2m0 0h2m-1 0h2m1 0h2m4 0h2m1 0h2m0 0h2m1 0h2m1 0h2m2 0h2m0 0h2m0 0h2m0 0h2m-1 0h2m0 0h2m-1 0h2m0 0h2m2 0h2m0 0h2m-1 0h2m3 0h2m1 0h2m-1 0h2m2 0h2m-1 0h2m0 0h2m0 0h2m-1 0h2m0 0h2m1 0h2m2 0h2m-1 0h2m-1 0h2M0 47m45 0h2m12 0h2m3 0h2m3 0h2m11 0h2m4 0h2m0 0h2m-1 0h2m-1 0h2m8 0h2m1 0h2m1 0h2m2 0h2m-1 0h2m-1 0h2m-1 0h2m0 0h2m-1 0h2m-1 0h2m4 0h2m-1 0h2m0 0h2m-1 0h2m1 0h2m1 0h2m-1 0h2m2 0h2m0 0h2m-1 0h2m0 0h2m-1 0h2m0 0h2m-1 0h2m3 0h2M0 48m58 0h2m0 0h2m6 0h2m5 0h2m2 0h2m6 0h2m-1 0h2m1 0h2m5 0h2m1 0h2m0 0h2m-1 0h2m1 0h2m0 0h2m0 0h2m0 0h2m0 0h2m-1 0h2m-1 0h2m16 0h2m-1 0h2m-1 0h2m-1 0h2m-1 0h2m4 0h2m-1 0h2M0 49m51 0h2m0 0h2m16 0h2m8 0h2m-1 0h2m1 0h2m0 0h2m2 0h2m2 0h2m3 0h2m1 0h2m-1 0h2m-1 0h2m1 0h2m-1 0h2m0 0h2m1 0h2m0 0h2m-1 0h2m1 0h2m4 0h2m-1 0h2m2 0h2m1 0h2m-1 0h2m-1 0h2m-1 0h2m0 0h2m1 0h2m1 0h2m-1 0h2m1 0h2m-1 0h2M0 50m81 0h2m0 0h2m2 0h2m0 0h2m-1 0h2m-1 0h2m0 0h2m0 0h2m3 0h2m3 0h2m0 0h2m-1 0h2m-1 0h2m2 0h2m1 0h2m0 0h2m-1 0h2m-1 0h2m0 0h2m3 0h2m0 0h2m-1 0h2m-1 0h2m0 0h2m0 0h2m-1 0h2m-1 0h2m0 0h2m10 0h2M0 51m64 0h2m14 0h2m3 0h2m2 0h2m2 0h2m-1 0h2m-1 0h2m0 0h2m-1 0h2m-1 0h2m-1 0h2m6 0h2m-1 0h2m1 0h2m2 0h2m-1 0h2m0 0h2m0 0h2m2 0h2m1 0h2m1 0h2m-1 0h2m-1 0h2m0 0h2m-1 0h2m-1 0h2m1 0h2M0 52m81 0h2m8 0h2m0 0h2m-1 0h2m5 0h2m-1 0h2m-1 0h2m-1 0h2m0 0h2m0 0h2m2 0h2m0 0h2m-1 0h2m0 0h2m0 0h2m-1 0h2m0 0h2m8 0h2m1 0h2m1 0h2m-1 0h2m1 0h2m0 0h2m0 0h2m2 0h2M0 53m83 0h2m2 0h2m-1 0h2m1 0h2m2 0h2m1 0h2m0 0h2m2 0h2m1 0h2m2 0h2m1 0h2m9 0h2m2 0h2m-1 0h2m1 0h2m1 0h2m2 0h2m0 0h2m-1 0h2m2 0h2M0 54m58 0h2m6 0h2m1 0h2m3 0h2m3 0h2m0 0h2m-1 0h2m3 0h2m0 0h2m-1 0h2m2 0h2m1 0h2m-1 0h2m-1 0h2m-1 0h2m-1 0h2m2 0h2m-1 0h2m0 0h2m0 0h2m2 0h2m-1 0h2m-1 0h2m1 0h2m0 0h2m5 0h2m-1 0h2m-1 0h2m2 0h2m0 0h2m-1 0h2m3 0h2m3 0h2m-1 0h2M0 55m48 0h2m24 0h2m7 0h2m1 0h2m0 0h2m1 0h2m4 0h2m0 0h2m-1 0h2m-1 0h2m-1 0h2m1 0h2m0 0h2m-1 0h2m-1 0h2m-1 0h2m-1 0h2m-1 0h2m3 0h2m2 0h2m1 0h2m-1 0h2m-1 0h2m-1 0h2m-1 0h2m-1 0h2m-1 0h2m0 0h2m2 0h2m-1 0h2m4 0h2m1 0h2m4 0h2M0 56m63 0h2m7 0h2m5 0h2m0 0h2m5 0h2m0 0h2m-1 0h2m0 0h2m1 0h2m1 0h2m0 0h2m-1 0h2m-1 0h2m1 0h2m-1 0h2m2 0h2m-1 0h2m2 0h2m-1 0h2m1 0h2m-1 0h2m0 0h2m-1 0h2m2 0h2m-1 0h2m-1 0h2m0 0h2m2 0h2m-1 0h2m0 0h2m1 0h2m0 0h2m-1 0h2m-1 0h2M0 57m81 0h2m0 0h2m7 0h2m1 0h2m2 0h2m1 0h2m0 0h2m3 0h2m0 0h2m7 0h2m2 0h2m2 0h2m-1 0h2m0 0h2m0 0h2m0 0h2m-1 0h2m2 0h2M0 58m69 0h2m10 0h2m0 0h2m0 0h2m2 0h2m2 0h2m-1 0h2m1 0h2m4 0h2m-1 0h2m0 0h2m1 0h2m-1 0h2m0 0h2m6 0h2m2 0h2m-1 0h2m5 0h2m-1 0h2m-1 0h2m-1 0h2m-1 0h2m0 0h2m2 0h2m0 0h2m3 0h2m2 0h2m-1 0h2M0 59m67 0h2m7 0h2m0 0h2m1 0h2m4 0h2m0 0h2m-1 0h2m-1 0h2m-1 0h2m-1 0h2m-1 0h2m-1 0h2m-1 0h2m1 0h2m0 0h2m-1 0h2m-1 0h2m6 0h2m-1 0h2m-1 0h2m0 0h2m12 0h2m-1 0h2m1 0h2m3 0h2m15 0h2M0 60m70 0h2m0 0h2m-1 0h2m2 0h2m6 0h2m4 0h2m2 0h2m0 0h2m-1 0h2m0 0h2m3 0h2m0 0h2m-1 0h2m3 0h2m1 0h2m-1 0h2m3 0h2m-1 0h2m2 0h2m-1 0h2m3 0h2m-1 0h2m4 0h2m-1 0h2m-1 0h2m-1 0h2m7 0h2m1 0h2M0 61m70 0h2m3 0h2m8 0h2m2 0h2m0 0h2m3 0h2m1 0h2m0 0h2m0 0h2m-1 0h2m-1 0h2m0 0h2m1 0h2m0 0h2m-1 0h2m-1 0h2m1 0h2m-1 0h2m3 0h2m2 0h2m3 0h2m-1 0h2m3 0h2m2 0h2M0 62m49 0h2m13 0h2m-1 0h2m9 0h2m-1 0h2m6 0h2m-1 0h2m4 0h2m-1 0h2m2 0h2m5 0h2m6 0h2m-1 0h2m0 0h2m0 0h2m2 0h2m0 0h2m-1 0h2m0 0h2m1 0h2m2 0h2m13 0h2M0 63m38 0h2m28 0h2m2 0h2m6 0h2m11 0h2m0 0h2m1 0h2m0 0h2m2 0h2m2 0h2m11 0h2m12 0h2m-1 0h2m-1 0h2m17 0h2M0 64m80 0h2m1 0h2m6 0h2m-1 0h2m1 0h2m4 0h2m2 0h2m1 0h2m1 0h2m0 0h2m5 0h2m-1 0h2m-1 0h2m16 0h2m-1 0h2m6 0h2M0 65m71 0h2m3 0h2m-1 0h2m1 0h2m5 0h2m1 0h2m3 0h2m-1 0h2m2 0h2m3 0h2m-1 0h2m2 0h2m2 0h2m5 0h2m3 0h2m0 0h2M0 66m72 0h2m7 0h2m5 0h2m0 0h2m2 0h2m5 0h2m1 0h2m-1 0h2m0 0h2m2 0h2m0 0h2m8 0h2m3 0h2m7 0h2M0 67m64 0h2m5 0h2m9 0h2m5 0h2m8 0h2m-1 0h2m0 0h2m3 0h2m-1 0h2m0 0h2m-1 0h2m1 0h2m6 0h2m0 0h2m1 0h2m4 0h2m2 0h2M0 68m73 0h2m6 0h2m6 0h2m0 0h2m1 0h2m4 0h2m1 0h2m-1 0h2m0 0h2m-1 0h2m2 0h2m0 0h2m6 0h2m-1 0h2m8 0h2m-1 0h2m5 0h2M0 69m85 0h2m0 0h2m7 0h2m-1 0h2m1 0h2m2 0h2m0 0h2m3 0h2m0 0h2m1 0h2m1 0h2m2 0h2m2 0h2m3 0h2m0 0h2m-1 0h2m2 0h2m7 0h2M0 70m75 0h2m2 0h2m0 0h2m7 0h2m-1 0h2m3 0h2m2 0h2m4 0h2m0 0h2m4 0h2m9 0h2m8 0h2m15 0h2M0 71m51 0h2m7 0h2m25 0h2m12 0h2m3 0h2m0 0h2m1 0h2m0 0h2m1 0h2m4 0h2m-1 0h2m-1 0h2m-1 0h2m3 0h2m1 0h2m0 0h2M0 72m65 0h2m20 0h2m1 0h2m17 0h2m2 0h2m-1 0h2m-1 0h2m0 0h2m-1 0h2m1 0h2m1 0h2m-1 0h2m8 0h2m1 0h2M0 73m72 0h2m4 0h2m10 0h2m2 0h2m1 0h2m8 0h2m0 0h2m-1 0h2m3 0h2m-1 0h2m1 0h2m2 0h2m6 0h2m2 0h2m8 0h2M0 74m86 0h2m7 0h2m7 0h2m3 0h2m-1 0h2m5 0h2m1 0h2m5 0h2m1 0h2m4 0h2m6 0h2m11 0h2M0 75m60 0h2m20 0h2m9 0h2m0 0h2m5 0h2m7 0h2m8 0h2m3 0h2M0 76m83 0h2m2 0h2m3 0h2m6 0h2m8 0h2m5 0h2m0 0h2m3 0h2M0 77m94 0h2m2 0h2m2 0h2m-1 0h2m-1 0h2m1 0h2m0 0h2m4 0h2m5 0h2m-1 0h2m0 0h2m6 0h2m-1 0h2M0 78m89 0h2m11 0h2m6 0h2m3 0h2m1 0h2m18 0h2M0 79m88 0h2m11 0h2m-1 0h2m4 0h2m4 0h2m6 0h2m3 0h2M0 80m87 0h2m9 0h2m0 0h2m0 0h2m6 0h2m2 0h2m8 0h2m3 0h2M0 81m80 0h2m8 0h2m2 0h2m23 0h2m1 0h2m2 0h2m-1 0h2m5 0h2M0 82m86 0h2m4 0h2m8 0h2m21 0h2m1 0h2m4 0h2m8 0h2M0 83m86 0h2m9 0h2m0 0h2m12 0h2m6 0h2m4 0h2M0 84m101 0h2m1 0h2m0 0h2m8 0h2m1 0h2m6 0h2M0 85m82 0h2m8 0h2m12 0h2m5 0h2m1 0h2m1 0h2m6 0h2m4 0h2m2 0h2m3 0h2M0 86m89 0h2m3 0h2m9 0h2m12 0h2m5 0h2m6 0h2M0 87m105 0h2m-1 0h2m27 0h2m1 0h2M0 88m108 0h2m16 0h2M0 89m101 0h2m-1 0h2m3 0h2m5 0h2M0 90m101 0h2m2 0h2m1 0h2m2 0h2m3 0h2m12 0h2M0 91m80 0h2m25 0h2m-1 0h2m8 0h2m8 0h2m15 0h2M0 92m108 0h2m2 0h2m2 0h2m2 0h2m10 0h2m-1 0h2m12 0h2M0 93m114 0h2m0 0h2M0 94m121 0h2m9 0h2M0 95m83 0h2m32 0h2m1 0h2m3 0h2M0 96m103 0h2m1 0h2m2 0h2m2 0h2m-1 0h2m6 0h2m1 0h2M0 97m111 0h2M0 98m115 0h2m0 0h2m1 0h2M0 99m114 0h2m6 0h2m-1 0h2M0 100m87 0h2m17 0h2m19 0h2M0 101m128 0h2M0 102m98 0h2m5 0h2m-1 0h2m5 0h2m4 0h2m-1 0h2m15 0h2M0 103m97 0h2m8 0h2m8 0h2m1 0h2M0 105m85 0h2m13 0h2m14 0h2M0 106m103 0h2M0 107m112 0h2M0 109m127 0h2M0 110m89 0h2m11 0h2M0 111m138 0h2M0 113m111 0h2M0 114m111 0h2m19 0h2M0 117m116 0h2M0 120m131 0h2M0 126m127 0h2"/>
<path d="M0 4m145 0h2M0 7m134 0h2M0 8m71 0h2M0 10m133 0h2m4 0h2m2 0h2M0 12m128 0h2M0 14m139 0h2M0 15m86 0h2m32 0h2m14 0h2M0 16m126 0h2m3 0h2M0 17m74 0h2m57 0h2m6 0h2M0 18m146 0h2M0 19m130 0h2m9 0h2M0 20m133 0h2m4 0h2m1 0h2m-1 0h2m7 0h2M0 21m77 0h2m32 0h2m14 0h2m15 0h2m-1 0h2M0 22m96 0h2m5 0h2m2 0h2m19 0h2m5 0h2m-1 0h2m3 0h2m4 0h2M0 23m119 0h2m-1 0h2m2 0h2m13 0h2m-1 0h2m-1 0h2m-1 0h2m3 0h2m0 0h2m2 0h2M0 24m101 0h2m28 0h2m0 0h2m-1 0h2m-1 0h2m-1 0h2m0 0h2m-1 0h2m2 0h2m1 0h2M0 25m135 0h2m0 0h2m3 0h2m-1 0h2m-1 0h2m0 0h2M0 26m86 0h2m23 0h2m3 0h2m13 0h2m2 0h2m1 0h2m-1 0h2m-1 0h2m3 0h2m2 0h2m0 0h2m-1 0h2M0 27m97 0h2m32 0h2m0 0h2m0 0h2m0 0h2m1 0h2m-1 0h2m1 0h2m0 0h2m0 0h2M0 28m74 0h2m21 0h2m13 0h2m3 0h2m2 0h2m-1 0h2m12 0h2m1 0h2m0 0h2m-1 0h2m-1 0h2m1 0h2m6 0h2M0 29m84 0h2m4 0h2m34 0h2m5 0h2m0 0h2m0 0h2m-1 0h2m1 0h2m-1 0h2m-1 0h2m-1 0h2m0 0h2m2 0h2m3 0h2M0 30m70 0h2m19 0h2m41 0h2m2 0h2m1 0h2m-1 0h2m-1 0h2m-1 0h2m5 0h2M0 31m75 0h2m25 0h2m13 0h2m-1 0h2m12 0h2m0 0h2m-1 0h2m0 0h2m-1 0h2m-1 0h2m1 0h2m-1 0h2m0 0h2M0 32m85 0h2m0 0h2m14 0h2m27 0h2m-1 0h2m-1 0h2m0 0h2m0 0h2m0 0h2m-1 0h2m-1 0h2m-1 0h2m-1 0h2m3 0h2M0 33m76 0h2m11 0h2m10 0h2m3 0h2m-1 0h2m0 0h2m10 0h2m-1 0h2m-1 0h2m5 0h2m-1 0h2m-1 0h2m1 0h2m-1 0h2m-1 0h2m2 0h2m0 0h2m-1 0h2M0 34m84 0h2m0 0h2m20 0h2m-1 0h2m7 0h2m-1 0h2m1 0h2m-1 0h2m2 0h2m2 0h2m-1 0h2m0 0h2m2 0h2m0 0h2m1 0h2M0 35m64 0h2m8 0h2m3 0h2m16 0h2m-1 0h2m0 0h2m0 0h2m-1 0h2m5 0h2m-1 0h2m-1 0h2m-1 0h2m6 0h2m4 0h2m2 0h2m1 0h2m1 0h2m-1 0h2m-1 0h2m-1 0h2m-1 0h2m2 0h2m0 0h2M0 36m62 0h2m22 0h2m7 0h2m4 0h2m20 0h2m5 0h2m1 0h2m3 0h2m-1 0h2m-1 0h2m1 0h2m0 0h2m1 0h2m3 0h2M0 37m76 0h2m9 0h2m8 0h2m2 0h2m2 0h2m-1 0h2m1 0h2m-1 0h2m4 0h2m0 0h2m-1 0h2m2 0h2m-1 0h2m-1 0h2m3 0h2m-1 0h2m-1 0h2m-1 0h2m-1 0h2m0 0h2m-1 0h2m0 0h2m3 0h2m-1 0h2m0 0h2m-1 0h2M0 38m85 0h2m-1 0h2m0 0h2m1 0h2m4 0h2m3 0h2m3 0h2m19 0h2m-1 0h2m1 0h2m-1 0h2m-1 0h2m-1 0h2m-1 0h2m-1 0h2m1 0h2m0 0h2m1 0h2m0 0h2m1 0h2M0 39m70 0h2m9 0h2m-1 0h2m3 0h2m8 0h2m2 0h2m-1 0h2m3 0h2m-1 0h2m-1 0h2m1 0h2m3 0h2m-1 0h2m4 0h2m5 0h2m0 0h2m-1 0h2m-1 0h2m-1 0h2m-1 0h2m-1 0h2m-1 0h2m0 0h2m-1 0h2m-1 0h2m-1 0h2m-1 0h2m0 0h2M0 40m59 0h2m22 0h2m8 0h2m2 0h2m4 0h2m2 0h2m1 0h2m0 0h2m-1 0h2m-1 0h2m3 0h2m6 0h2m2 0h2m-1 0h2m-1 0h2m-1 0h2m-1 0h2m1 0h2m0 0h2m-1 0h2m-1 0h2m-1 0h2m-1 0h2m-1 0h2m-1 0h2m2 0h2m-1 0h2m3 0h2M0 41m50 0h2m29 0h2m4 0h2m3 0h2m-1 0h2m3 0h2m0 0h2m3 0h2m0 0h2m0 0h2m0 0h2m0 0h2m4 0h2m11 0h2m-1 0h2m-1 0h2m-1 0h2m0 0h2m-1 0h2m0 0h2m-1 0h2m-1 0h2m0 0h2m0 0h2m-1 0h2m1 0h2M0 42m65 0h2m7 0h2m2 0h2m-1 0h2m2 0h2m0 0h2m-1 0h2m4 0h2m0 0h2m0 0h2m2 0h2m0 0h2m1 0h2m8 0h2m3 0h2m3 0h2m7 0h2m-1 0h2m-1 0h2m0 0h2m-1 0h2m0 0h2m0 0h2m-1 0h2m0 0h2m1 0h2M0 43m78 0h2m3 0h2m-1 0h2m0 0h2m-1 0h2m-1 0h2m1 0h2m2 0h2m1 0h2m8 0h2m-1 0h2m0 0h2m1 0h2m8 0h2m4 0h2m0 0h2m-1 0h2m-1 0h2m-1 0h2m1 0h2m-1 0h2m1 0h2m5 0h2M0 44m57 0h2m26 0h2m-1 0h2m10 0h2m3 0h2m-1 0h2m-1 0h2m-1 0h2m1 0h2m1 0h2m-1 0h2m4 0h2m1 0h2m-1 0h2m3 0h2m0 0h2m-1 0h2m-1 0h2m-1 0h2m0 0h2m1 0h2m-1 0h2m-1 0h2m1 0h2m-1 0h2m2 0h2m-1 0h2M0 45m65 0h2m14 0h2m3 0h2m1 0h2m-1 0h2m2 0h2m-1 0h2m2 0h2m0 0h2m-1 0h2m0 0h2m1 0h2m-1 0h2m-1 0h2m-1 0h2m1 0h2m3 0h2m6 0h2m0 0h2m-1 0h2m4 0h2m-1 0h2m0 0h2m-1 0h2m-1 0h2m-1 0h2m-1 0h2m2 0h2m-1 0h2m-1 0h2m0 0h2m1 0h2M0 46m61 0h2m9 0h2m5 0h2m1 0h2m1 0h2m3 0h2m6 0h2m3 0h2m2 0h2m-1 0h2m5 0h2m6 0h2m-1 0h2m-1 0h2m-1 0h2m-1 0h2m5 0h2m-1 0h2m-1 0h2m-1 0h2m0 0h2m0 0h2m2 0h2m-1 0h2m0 0h2m-1 0h2m0 0h2m-1 0h2M0 47m71 0h2m4 0h2m6 0h2m1 0h2m-1 0h2m1 0h2m1 0h2m1 0h2m0 0h2m8 0h2m0 0h2m-1 0h2m-1 0h2m4 0h2m1 0h2m-1 0h2m0 0h2m2 0h2m0 0h2m0 0h2m-1 0h2m0 0h2m-1 0h2m-1 0h2m-1 0h2m-1 0h2m2 0h2m-1 0h2m0 0h2m4 0h2M0 48m63 0h2m5 0h2m-1 0h2m4 0h2m3 0h2m0 0h2m4 0h2m0 0h2m1 0h2m3 0h2m-1 0h2m5 0h2m2 0h2m-1 0h2m-1 0h2m-1 0h2m0 0h2m-1 0h2m2 0h2m2 0h2m2 0h2m3 0h2m2 0h2m-1 0h2m1 0h2m1 0h2m1 0h2m2 0h2M0 49m76 0h2m0 0h2m-1 0h2m1 0h2m0 0h2m2 0h2m-1 0h2m0 0h2m1 0h2m0 0h2m0 0h2m-1 0h2m0 0h2m-1 0h2m2 0h2m0 0h2m-1 0h2m3 0h2m2 0h2m-1 0h2m1 0h2m1 0h2m1 0h2m2 0h2m3 0h2m2 0h2m-1 0h2m-1 0h2m-1 0h2m-1 0h2M0 50m75 0h2m7 0h2m0 0h2m2 0h2m-1 0h2m4 0h2m2 0h2m-1 0h2m0 0h2m-1 0h2m-1 0h2m-1 0h2m2 0h2m-1 0h2m0 0h2m0 0h2m-1 0h2m1 0h2m-1 0h2m1 0h2m3 0h2m0 0h2m-1 0h2m-1 0h2m0 0h2m3 0h2m0 0h2m5 0h2m1 0h2M0 51m75 0h2m-1 0h2m5 0h2m3 0h2m0 0h2m-1 0h2m-1 0h2m1 0h2m-1 0h2m2 0h2m1 0h2m0 0h2m0 0h2m6 0h2m-1 0h2m-1 0h2m4 0h2m-1 0h2m4 0h2m0 0h2m2 0h2m3 0h2m-1 0h2m0 0h2m-1 0h2m0 0h2m2 0h2M0 52m73 0h2m2 0h2m3 0h2m4 0h2m-1 0h2m-1 0h2m-1 0h2m-1 0h2m0 0h2m-1 0h2m0 0h2m-1 0h2m-1 0h2m0 0h2m0 0h2m-1 0h2m-1 0h2m1 0h2m1 0h2m-1 0h2m-1 0h2m0 0h2m0 0h2m0 0h2m-1 0h2m1 0h2m0 0h2m0 0h2m9 0h2m-1 0h2m2 0h2m-1 0h2m8 0h2M0 53m72 0h2m7 0h2m2 0h2m4 0h2m-1 0h2m-1 0h2m1 0h2m0 0h2m-1 0h2m-1 0h2m3 0h2m0 0h2m2 0h2m4 0h2m-1 0h2m-1 0h2m4 0h2m0 0h2m3 0h2m-1 0h2m1 0h2m-1 0h2m3 0h2m1 0h2m0 0h2m3 0h2M0 54m58 0h2m4 0h2m7 0h2m1 0h2m3 0h2m0 0h2m4 0h2m-1 0h2m-1 0h2m5 0h2m0 0h2m0 0h2m2 0h2m-1 0h2m0 0h2m1 0h2m4 0h2m-1 0h2m3 0h2m0 0h2m5 0h2m4 0h2m3 0h2m3 0h2m-1 0h2M0 55m65 0h2m6 0h2m14 0h2m-1 0h2m-1 0h2m-1 0h2m-1 0h2m-1 0h2m-1 0h2m2 0h2m-1 0h2m-1 0h2m1 0h2m5 0h2m-1 0h2m-1 0h2m-1 0h2m8 0h2m6 0h2m6 0h2m3 0h2m5 0h2M0 56m60 0h2m12 0h2m4 0h2m4 0h2m-1 0h2m0 0h2m1 0h2m-1 0h2m3 0h2m-1 0h2m2 0h2m7 0h2m-1 0h2m2 0h2m-1 0h2m0 0h2m0 0h2m2 0h2m4 0h2m0 0h2m-1 0h2m0 0h2m0 0h2m1 0h2M0 57m52 0h2m17 0h2m10 0h2m3 0h2m1 0h2m-1 0h2m5 0h2m1 0h2m1 0h2m0 0h2m4 0h2m6 0h2m2 0h2m8 0h2m3 0h2m0 0h2M0 58m76 0h2m16 0h2m0 0h2m2 0h2m-1 0h2m0 0h2m0 0h2m-1 0h2m1 0h2m2 0h2m-1 0h2m3 0h2m0 0h2m-1 0h2m7 0h2m0 0h2m2 0h2m1 0h2m0 0h2M0 59m53 0h2m24 0h2m0 0h2m8 0h2m-1 0h2m-1 0h2m7 0h2m-1 0h2m2 0h2m-1 0h2m3 0h2m0 0h2m-1 0h2m-1 0h2m-1 0h2m-1 0h2m0 0h2m5 0h2m1 0h2m3 0h2m0 0h2m0 0h2m-1 0h2M0 60m63 0h2m14 0h2m-1 0h2m-1 0h2m0 0h2m0 0h2m2 0h2m-1 0h2m1 0h2m5 0h2m6 0h2m-1 0h2m0 0h2m-1 0h2m-1 0h2m-1 0h2m1 0h2m5 0h2m4 0h2m-1 0h2m1 0h2m0 0h2m2 0h2M0 61m55 0h2m0 0h2m9 0h2m6 0h2m4 0h2m4 0h2m1 0h2m0 0h2m-1 0h2m-1 0h2m1 0h2m1 0h2m2 0h2m-1 0h2m0 0h2m2 0h2m-1 0h2m-1 0h2m0 0h2m-1 0h2m-1 0h2m4 0h2m4 0h2m1 0h2m0 0h2m4 0h2m2 0h2M0 62m52 0h2m4 0h2m15 0h2m2 0h2m5 0h2m-1 0h2m1 0h2m12 0h2m1 0h2m0 0h2m2 0h2m-1 0h2m0 0h2m3 0h2m6 0h2m5 0h2m4 0h2M0 63m65 0h2m12 0h2m4 0h2m-1 0h2m0 0h2m1 0h2m2 0h2m-1 0h2m0 0h2m-1 0h2m0 0h2m-1 0h2m4 0h2m0 0h2m8 0h2m7 0h2m1 0h2m-1 0h2m0 0h2m6 0h2m2 0h2M0 64m67 0h2m8 0h2m1 0h2m-1 0h2m2 0h2m0 0h2m1 0h2m0 0h2m-1 0h2m-1 0h2m-1 0h2m2 0h2m-1 0h2m0 0h2m-1 0h2m-1 0h2m0 0h2m-1 0h2m-1 0h2m1 0h2m-1 0h2m0 0h2m-1 0h2m-1 0h2m-1 0h2m-1 0h2m7 0h2m1 0h2m3 0h2m2 0h2M0 65m54 0h2m12 0h2m5 0h2m14 0h2m1 0h2m0 0h2m-1 0h2m1 0h2m0 0h2m1 0h2m-1 0h2m1 0h2m0 0h2m-1 0h2m1 0h2m1 0h2m-1 0h2m-1 0h2m0 0h2m0 0h2m-1 0h2m0 0h2m3 0h2m0 0h2m5 0h2M0 66m74 0h2m9 0h2m0 0h2m3 0h2m0 0h2m2 0h2m-1 0h2m0 0h2m2 0h2m-1 0h2m1 0h2m0 0h2m1 0h2m-1 0h2m0 0h2m15 0h2m7 0h2m-1 0h2M0 67m71 0h2m1 0h2m4 0h2m5 0h2m4 0h2m1 0h2m1 0h2m6 0h2m5 0h2m-1 0h2m3 0h2m1 0h2m0 0h2m-1 0h2m4 0h2m10 0h2M0 68m90 0h2m5 0h2m1 0h2m0 0h2m3 0h2m0 0h2m0 0h2m-1 0h2m5 0h2m1 0h2m4 0h2M0 69m66 0h2m1 0h2m4 0h2m2 0h2m0 0h2m2 0h2m-1 0h2m1 0h2m5 0h2m1 0h2m-1 0h2m3 0h2m2 0h2m-1 0h2m3 0h2m1 0h2m5 0h2m4 0h2m1 0h2m15 0h2M0 70m76 0h2m13 0h2m3 0h2m-1 0h2m0 0h2m2 0h2m0 0h2m1 0h2m0 0h2m1 0h2m-1 0h2m6 0h2m3 0h2m12 0h2m0 0h2M0 71m90 0h2m-1 0h2m0 0h2m1 0h2m16 0h2m-1 0h2m3 0h2m2 0h2m0 0h2m0 0h2m0 0h2m0 0h2m-1 0h2M0 72m75 0h2m6 0h2m4 0h2m6 0h2m8 0h2m1 0h2m1 0h2m-1 0h2m3 0h2m0 0h2m0 0h2m4 0h2m3 0h2M0 73m74 0h2m13 0h2m-1 0h2m11 0h2m3 0h2m7 0h2m0 0h2m0 0h2m2 0h2m3 0h2m-1 0h2m12 0h2M0 74m97 0h2m-1 0h2m6 0h2m8 0h2m2 0h2m1 0h2m3 0h2m1 0h2m5 0h2m1 0h2m-1 0h2M0 75m67 0h2m3 0h2m-1 0h2m15 0h2m1 0h2m10 0h2m2 0h2m15 0h2m0 0h2m14 0h2m-1 0h2M0 76m69 0h2m7 0h2m3 0h2m15 0h2m2 0h2m-1 0h2m7 0h2m1 0h2m6 0h2M0 77m95 0h2m6 0h2m1 0h2m13 0h2m-1 0h2m5 0h2M0 78m85 0h2m15 0h2m0 0h2m7 0h2m0 0h2m-1 0h2m1 0h2m-1 0h2m-1 0h2m8 0h2M0 79m74 0h2m7 0h2m15 0h2m1 0h2m5 0h2m-1 0h2m13 0h2m5 0h2m2 0h2M0 80m72 0h2m-1 0h2m12 0h2m6 0h2m9 0h2m2 0h2m5 0h2m-1 0h2m13 0h2M0 81m107 0h2m3 0h2m2 0h2m9 0h2m1 0h2M0 82m118 0h2m8 0h2M0 83m64 0h2m51 0h2m3 0h2m-1 0h2m7 0h2m20 0h2M0 84m82 0h2m8 0h2m16 0h2m3 0h2m-1 0h2m3 0h2m4 0h2m2 0h2m10 0h2m4 0h2M0 85m89 0h2m2 0h2m5 0h2m3 0h2m4 0h2m-1 0h2m0 0h2m0 0h2m1 0h2m1 0h2m3 0h2M0 86m84 0h2m0 0h2m25 0h2m2 0h2m2 0h2m3 0h2M0 87m79 0h2m12 0h2m1 0h2m-1 0h2m-1 0h2m29 0h2m0 0h2m6 0h2M0 88m113 0h2m8 0h2M0 89m87 0h2m4 0h2m31 0h2m3 0h2M0 90m88 0h2m0 0h2m6 0h2m7 0h2m3 0h2m19 0h2m3 0h2m0 0h2M0 91m93 0h2m8 0h2m1 0h2m4 0h2m3 0h2M0 92m85 0h2M0 93m96 0h2m4 0h2m16 0h2m-1 0h2m0 0h2M0 94m109 0h2M0 95m91 0h2m19 0h2m5 0h2m7 0h2M0 96m114 0h2m26 0h2M0 97m92 0h2m16 0h2m9 0h2m2 0h2M0 98m97 0h2m15 0h2m12 0h2m0 0h2M0 99m128 0h2M0 100m93 0h2m6 0h2m-1 0h2m21 0h2M0 101m92 0h2m21 0h2m8 0h2M0 102m108 0h2m21 0h2M0 103m114 0h2m4 0h2m11 0h2M0 105m125 0h2M0 106m103 0h2m22 0h2m1 0h2M0 107m98 0h2m14 0h2m23 0h2M0 108m95 0h2M0 111m116 0h2M0 114m119 0h2M0 115m90 0h2M0 116m98 0h2M0 117m118 0h2M0 121m110 0h2M0 129m121 0h2"/>
<path d="M0 7m132 0h2m13 0h2M0 11m90 0h2m39 0h2M0 13m143 0h2M0 14m97 0h2m48 0h2M0 15m126 0h2m3 0h2m10 0h2M0 16m119 0h2m6 0h2m13 0h2m0 0h2M0 17m116 0h2m20 0h2m2 0h2m-1 0h2M0 18m100 0h2m3 0h2m30 0h2m0 0h2m3 0h2M0 19m125 0h2m-1 0h2m-1 0h2m13 0h2m4 0h2m-1 0h2M0 20m79 0h2m39 0h2m24 0h2M0 21m92 0h2m31 0h2m6 0h2m1 0h2m0 0h2m4 0h2m3 0h2M0 22m102 0h2m3 0h2m14 0h2m8 0h2m0 0h2m-1 0h2m-1 0h2m5 0h2M0 23m91 0h2m16 0h2m18 0h2m6 0h2m-1 0h2m-1 0h2m5 0h2M0 24m91 0h2m-1 0h2m-1 0h2m30 0h2m5 0h2m-1 0h2m0 0h2m-1 0h2m0 0h2m-1 0h2m-1 0h2m-1 0h2m-1 0h2m1 0h2M0 25m97 0h2m21 0h2m13 0h2m-1 0h2m0 0h2m6 0h2m-1 0h2M0 26m85 0h2m0 0h2m1 0h2m20 0h2m17 0h2m3 0h2m2 0h2m-1 0h2m0 0h2M0 27m70 0h2m31 0h2m3 0h2m1 0h2m-1 0h2m14 0h2m3 0h2m0 0h2m2 0h2m8 0h2M0 28m90 0h2m20 0h2m16 0h2m1 0h2m-1 0h2m-1 0h2m-1 0h2m-1 0h2m-1 0h2m-1 0h2m1 0h2m0 0h2m-1 0h2m-1 0h2m-1 0h2m-1 0h2m-1 0h2m0 0h2M0 29m97 0h2m5 0h2m4 0h2m13 0h2m7 0h2m2 0h2m0 0h2m0 0h2m0 0h2m-1 0h2M0 30m89 0h2m6 0h2m13 0h2m0 0h2m4 0h2m2 0h2m6 0h2m0 0h2m1 0h2m0 0h2m-1 0h2m1 0h2m-1 0h2m3 0h2m-1 0h2m-1 0h2m-1 0h2M0 31m58 0h2m20 0h2m6 0h2m5 0h2m5 0h2m0 0h2m8 0h2m1 0h2m10 0h2m2 0h2m0 0h2m0 0h2m-1 0h2m3 0h2m-1 0h2M0 32m76 0h2m29 0h2m1 0h2m8 0h2m0 0h2m1 0h2m1 0h2m-1 0h2m1 0h2m-1 0h2m-1 0h2m0 0h2m-1 0h2m-1 0h2m0 0h2m-1 0h2m-1 0h2m1 0h2M0 33m51 0h2m38 0h2m4 0h2m-1 0h2m1 0h2m2 0h2m3 0h2m3 0h2m-1 0h2m0 0h2m3 0h2m1 0h2m4 0h2m2 0h2m-1 0h2m4 0h2m-1 0h2m-1 0h2m0 0h2m-1 0h2M0 34m65 0h2m10 0h2m0 0h2m17 0h2m4 0h2m13 0h2m-1 0h2m13 0h2m4 0h2m-1 0h2m2 0h2m2 0h2M0 35m75 0h2m7 0h2m3 0h2m-1 0h2m0 0h2m10 0h2m0 0h2m9 0h2m1 0h2m3 0h2m2 0h2m-1 0h2m-1 0h2m0 0h2m-1 0h2m-1 0h2m1 0h2m-1 0h2m-1 0h2m4 0h2m-1 0h2m0 0h2m3 0h2M0 36m76 0h2m7 0h2m7 0h2m2 0h2m14 0h2m3 0h2m4 0h2m0 0h2m-1 0h2m2 0h2m0 0h2m1 0h2m-1 0h2m-1 0h2m-1 0h2m-1 0h2m-1 0h2m0 0h2m-1 0h2m0 0h2M0 37m68 0h2m12 0h2m1 0h2m6 0h2m4 0h2m-1 0h2m1 0h2m-1 0h2m-1 0h2m1 0h2m1 0h2m0 0h2m1 0h2m7 0h2m-1 0h2m3 0h2m-1 0h2m4 0h2m-1 0h2m-1 0h2m1 0h2m5 0h2m2 0h2M0 38m57 0h2m9 0h2m6 0h2m5 0h2m2 0h2m2 0h2m2 0h2m6 0h2m-1 0h2m3 0h2m10 0h2m3 0h2m3 0h2m-1 0h2m-1 0h2m1 0h2m-1 0h2m-1 0h2m0 0h2m0 0h2m-1 0h2m-1 0h2m-1 0h2m2 0h2M0 39m82 0h2m0 0h2m9 0h2m5 0h2m2 0h2m-1 0h2m-1 0h2m12 0h2m3 0h2m1 0h2m2 0h2m1 0h2m-1 0h2m-1 0h2m0 0h2m0 0h2m4 0h2m2 0h2M0 40m67 0h2m12 0h2m2 0h2m1 0h2m2 0h2m-1 0h2m-1 0h2m3 0h2m4 0h2m0 0h2m0 0h2m5 0h2m-1 0h2m1 0h2m0 0h2m5 0h2m1 0h2m0 0h2m-1 0h2m-1 0h2m-1 0h2m2 0h2m-1 0h2m-1 0h2m1 0h2m-1 0h2m2 0h2M0 41m82 0h2m5 0h2m-1 0h2m0 0h2m0 0h2m-1 0h2m2 0h2m0 0h2m11 0h2m2 0h2m5 0h2m3 0h2m2 0h2m4 0h2m0 0h2m-1 0h2m-1 0h2m-1 0h2m9 0h2M0 42m77 0h2m3 0h2m0 0h2m1 0h2m0 0h2m6 0h2m8 0h2m-1 0h2m-1 0h2m-1 0h2m1 0h2m2 0h2m-1 0h2m1 0h2m2 0h2m1 0h2m2 0h2m0 0h2m0 0h2m-1 0h2m-1 0h2m0 0h2m-1 0h2m-1 0h2m-1 0h2m-1 0h2m-1 0h2m0 0h2m-1 0h2m0 0h2M0 43m72 0h2m3 0h2m0 0h2m0 0h2m4 0h2m1 0h2m1 0h2m-1 0h2m0 0h2m0 0h2m-1 0h2m-1 0h2m0 0h2m-1 0h2m-1 0h2m8 0h2m1 0h2m3 0h2m-1 0h2m2 0h2m-1 0h2m-1 0h2m1 0h2m2 0h2m-1 0h2m-1 0h2m-1 0h2m-1 0h2m-1 0h2m-1 0h2m1 0h2m2 0h2m4 0h2M0 44m76 0h2m4 0h2m3 0h2m5 0h2m2 0h2m-1 0h2m-1 0h2m0 0h2m-1 0h2m-1 0h2m-1 0h2m2 0h2m0 0h2m3 0h2m1 0h2m-1 0h2m-1 0h2m5 0h2m0 0h2m-1 0h2m0 0h2m-1 0h2m-1 0h2m-1 0h2m-1 0h2m-1 0h2m-1 0h2m-1 0h2m-1 0h2m1 0h2m-1 0h2M0 45m64 0h2m9 0h2m1 0h2m0 0h2m-1 0h2m5 0h2m3 0h2m8 0h2m1 0h2m3 0h2m6 0h2m5 0h2m2 0h2m0 0h2m-1 0h2m-1 0h2m-1 0h2m0 0h2m-1 0h2m1 0h2m0 0h2m0 0h2M0 46m51 0h2m12 0h2m7 0h2m6 0h2m4 0h2m0 0h2m1 0h2m0 0h2m3 0h2m1 0h2m-1 0h2m-1 0h2m0 0h2m2 0h2m-1 0h2m1 0h2m-1 0h2m-1 0h2m6 0h2m1 0h2m3 0h2m-1 0h2m0 0h2m-1 0h2m1 0h2m-1 0h2m-1 0h2m1 0h2m2 0h2M0 47m56 0h2m15 0h2m-1 0h2m-1 0h2m3 0h2m-1 0h2m6 0h2m-1 0h2m0 0h2m-1 0h2m1 0h2m-1 0h2m-1 0h2m4 0h2m-1 0h2m-1 0h2m1 0h2m-1 0h2m0 0h2m0 0h2m1 0h2m4 0h2m-1 0h2m1 0h2m2 0h2m2 0h2m-1 0h2m5 0h2m1 0h2m-1 0h2m-1 0h2m0 0h2m-1 0h2m0 0h2M0 48m78 0h2m0 0h2m-1 0h2m2 0h2m14 0h2m-1 0h2m0 0h2m-1 0h2m-1 0h2m-1 0h2m-1 0h2m-1 0h2m-1 0h2m-1 0h2m-1 0h2m-1 0h2m-1 0h2m-1 0h2m-1 0h2m3 0h2m1 0h2m1 0h2m1 0h2m-1 0h2m-1 0h2m-1 0h2m-1 0h2m1 0h2m1 0h2m-1 0h2m1 0h2m2 0h2m0 0h2M0 49m58 0h2m3 0h2m12 0h2m11 0h2m0 0h2m-1 0h2m2 0h2m-1 0h2m-1 0h2m-1 0h2m1 0h2m-1 0h2m-1 0h2m0 0h2m-1 0h2m2 0h2m1 0h2m5 0h2m-1 0h2m-1 0h2m3 0h2m-1 0h2m-1 0h2m0 0h2m0 0h2m-1 0h2m1 0h2m-1 0h2m2 0h2m3 0h2m1 0h2M0 50m74 0h2m0 0h2m1 0h2m2 0h2m0 0h2m6 0h2m2 0h2m1 0h2m-1 0h2m-1 0h2m2 0h2m0 0h2m-1 0h2m-1 0h2m0 0h2m2 0h2m0 0h2m2 0h2m1 0h2m4 0h2m0 0h2m0 0h2m-1 0h2m1 0h2m-1 0h2m0 0h2m0 0h2M0 51m65 0h2m4 0h2m3 0h2m1 0h2m2 0h2m5 0h2m4 0h2m5 0h2m-1 0h2m-1 0h2m-1 0h2m1 0h2m-1 0h2m0 0h2m-1 0h2m-1 0h2m6 0h2m-1 0h2m0 0h2m-1 0h2m8 0h2m0 0h2m-1 0h2m1 0h2m-1 0h2m0 0h2m0 0h2m-1 0h2m-1 0h2M0 52m65 0h2m0 0h2m2 0h2m3 0h2m4 0h2m-1 0h2m-1 0h2m2 0h2m1 0h2m3 0h2m-1 0h2m1 0h2m1 0h2m1 0h2m-1 0h2m1 0h2m5 0h2m2 0h2m-1 0h2m0 0h2m0 0h2m1 0h2m0 0h2m-1 0h2m-1 0h2m-1 0h2m-1 0h2m0 0h2m1 0h2m5 0h2m2 0h2M0 53m85 0h2m0 0h2m4 0h2m0 0h2m2 0h2m1 0h2m-1 0h2m-1 0h2m1 0h2m-1 0h2m-1 0h2m3 0h2m0 0h2m7 0h2m-1 0h2m-1 0h2m0 0h2m0 0h2m4 0h2m1 0h2m-1 0h2m-1 0h2m0 0h2m2 0h2M0 54m68 0h2m3 0h2m0 0h2m-1 0h2m0 0h2m6 0h2m6 0h2m0 0h2m-1 0h2m1 0h2m0 0h2m1 0h2m2 0h2m-1 0h2m-1 0h2m-1 0h2m-1 0h2m0 0h2m3 0h2m-1 0h2m-1 0h2m1 0h2m-1 0h2m13 0h2m-1 0h2m-1 0h2m-1 0h2m-1 0h2m5 0h2M0 55m68 0h2m-1 0h2m2 0h2m1 0h2m1 0h2m3 0h2m3 0h2m0 0h2m-1 0h2m1 0h2m-1 0h2m0 0h2m3 0h2m2 0h2m2 0h2m-1 0h2m4 0h2m-1 0h2m-1 0h2m0 0h2m2 0h2m0 0h2m5 0h2m3 0h2m2 0h2m3 0h2m2 0h2M0 56m64 0h2m8 0h2m2 0h2m6 0h2m1 0h2m1 0h2m1 0h2m0 0h2m-1 0h2m1 0h2m0 0h2m0 0h2m3 0h2m4 0h2m0 0h2m0 0h2m-1 0h2m5 0h2m-1 0h2m-1 0h2m-1 0h2m-1 0h2m-1 0h2m0 0h2m0 0h2m-1 0h2m4 0h2m8 0h2M0 57m80 0h2m6 0h2m1 0h2m4 0h2m-1 0h2m-1 0h2m0 0h2m0 0h2m-1 0h2m-1 0h2m-1 0h2m7 0h2m1 0h2m1 0h2m0 0h2m1 0h2m0 0h2m0 0h2m8 0h2m0 0h2m-1 0h2M0 58m70 0h2m1 0h2m1 0h2m4 0h2m-1 0h2m-1 0h2m0 0h2m3 0h2m-1 0h2m-1 0h2m2 0h2m4 0h2m2 0h2m1 0h2m2 0h2m-1 0h2m0 0h2m-1 0h2m-1 0h2m1 0h2m-1 0h2m0 0h2m-1 0h2m-1 0h2m0 0h2m-1 0h2m4 0h2m5 0h2m3 0h2m6 0h2M0 59m57 0h2m5 0h2m3 0h2m3 0h2m8 0h2m-1 0h2m2 0h2m-1 0h2m3 0h2m0 0h2m-1 0h2m0 0h2m5 0h2m-1 0h2m2 0h2m1 0h2m-1 0h2m-1 0h2m5 0h2m1 0h2m3 0h2m0 0h2m5 0h2m-1 0h2m2 0h2M0 60m70 0h2m5 0h2m1 0h2m10 0h2m0 0h2m0 0h2m1 0h2m0 0h2m2 0h2m4 0h2m1 0h2m-1 0h2m-1 0h2m2 0h2m6 0h2m4 0h2m-1 0h2m-1 0h2m10 0h2m5 0h2M0 61m63 0h2m12 0h2m0 0h2m7 0h2m-1 0h2m1 0h2m1 0h2m6 0h2m9 0h2m0 0h2m-1 0h2m1 0h2m0 0h2m0 0h2m0 0h2m-1 0h2m4 0h2m2 0h2M0 62m76 0h2m3 0h2m2 0h2m-1 0h2m3 0h2m3 0h2m4 0h2m-1 0h2m-1 0h2m-1 0h2m3 0h2m-1 0h2m-1 0h2m0 0h2m6 0h2m3 0h2m5 0h2m3 0h2m8 0h2M0 63m74 0h2m15 0h2m-1 0h2m0 0h2m3 0h2m0 0h2m1 0h2m0 0h2m4 0h2m2 0h2m3 0h2m3 0h2m6 0h2m0 0h2M0 64m60 0h2m12 0h2m10 0h2m4 0h2m-1 0h2m2 0h2m-1 0h2m-1 0h2m0 0h2m1 0h2m1 0h2m-1 0h2m5 0h2m-1 0h2m-1 0h2m0 0h2m7 0h2m-1 0h2m-1 0h2m-1 0h2m0 0h2m2 0h2m0 0h2m0 0h2m0 0h2m5 0h2M0 65m61 0h2m6 0h2m8 0h2m1 0h2m3 0h2m-1 0h2m6 0h2m1 0h2m-1 0h2m3 0h2m-1 0h2m0 0h2m-1 0h2m2 0h2m7 0h2m3 0h2m3 0h2m4 0h2m2 0h2M0 66m81 0h2m2 0h2m6 0h2m6 0h2m-1 0h2m1 0h2m-1 0h2m3 0h2m0 0h2m6 0h2m-1 0h2m-1 0h2m1 0h2m1 0h2m2 0h2m-1 0h2m13 0h2M0 67m88 0h2m14 0h2m11 0h2m1 0h2M0 68m59 0h2m0 0h2m28 0h2m5 0h2m-1 0h2m0 0h2m-1 0h2m-1 0h2m8 0h2m2 0h2m5 0h2m-1 0h2m6 0h2m3 0h2m0 0h2M0 69m33 0h2m45 0h2m-1 0h2m2 0h2m5 0h2m0 0h2m1 0h2m8 0h2m-1 0h2m-1 0h2m4 0h2m-1 0h2m-1 0h2m1 0h2m5 0h2m10 0h2m0 0h2M0 70m76 0h2m5 0h2m-1 0h2m10 0h2m0 0h2m-1 0h2m5 0h2m3 0h2m-1 0h2m7 0h2m0 0h2m1 0h2m8 0h2m6 0h2M0 71m59 0h2m4 0h2m19 0h2m0 0h2m2 0h2m5 0h2m2 0h2m2 0h2m-1 0h2m2 0h2m2 0h2m-1 0h2m1 0h2m2 0h2m9 0h2m-1 0h2M0 72m70 0h2m25 0h2m1 0h2m4 0h2m7 0h2m4 0h2m35 0h2M0 73m107 0h2m5 0h2m6 0h2m-1 0h2m20 0h2m1 0h2M0 74m74 0h2m7 0h2m0 0h2m8 0h2m5 0h2m-1 0h2m-1 0h2m2 0h2m1 0h2m1 0h2m0 0h2m-1 0h2m8 0h2m1 0h2m21 0h2M0 75m70 0h2m-1 0h2m22 0h2m-1 0h2m0 0h2m0 0h2m1 0h2m0 0h2m0 0h2m-1 0h2m2 0h2m1 0h2m5 0h2m0 0h2m-1 0h2m5 0h2M0 76m70 0h2m4 0h2m20 0h2m1 0h2m3 0h2m1 0h2m1 0h2m3 0h2m1 0h2m17 0h2M0 77m80 0h2m8 0h2m5 0h2m2 0h2m-1 0h2m0 0h2m1 0h2m1 0h2M0 78m87 0h2m9 0h2m4 0h2m12 0h2m0 0h2m3 0h2m2 0h2m7 0h2M0 79m100 0h2m4 0h2m-1 0h2m1 0h2m-1 0h2m5 0h2m2 0h2m2 0h2m0 0h2m6 0h2m19 0h2M0 80m101 0h2m0 0h2m-1 0h2m3 0h2m-1 0h2m1 0h2m1 0h2m13 0h2m18 0h2M0 81m63 0h2m7 0h2m18 0h2m5 0h2m4 0h2m1 0h2m2 0h2m1 0h2m-1 0h2m5 0h2m4 0h2M0 82m81 0h2m1 0h2m14 0h2m1 0h2m0 0h2m3 0h2m4 0h2m-1 0h2m-1 0h2m0 0h2M0 83m93 0h2m1 0h2m1 0h2m6 0h2m3 0h2m1 0h2m-1 0h2M0 84m85 0h2m8 0h2m-1 0h2m0 0h2m1 0h2m1 0h2m2 0h2m-1 0h2m3 0h2m-1 0h2m4 0h2M0 85m97 0h2m7 0h2m7 0h2m0 0h2m1 0h2m23 0h2M0 86m93 0h2m9 0h2m-1 0h2m8 0h2m3 0h2m2 0h2M0 87m95 0h2m15 0h2m2 0h2m-1 0h2m1 0h2m14 0h2M0 88m86 0h2m0 0h2m1 0h2m0 0h2m25 0h2M0 89m83 0h2m4 0h2m0 0h2m4 0h2m1 0h2m3 0h2m6 0h2m32 0h2M0 90m89 0h2m0 0h2m9 0h2m21 0h2M0 91m98 0h2m8 0h2m8 0h2M0 92m122 0h2m4 0h2m2 0h2M0 93m109 0h2m1 0h2M0 94m116 0h2m31 0h2M0 95m100 0h2m11 0h2m2 0h2m2 0h2m-1 0h2m-1 0h2M0 96m80 0h2m21 0h2m2 0h2m5 0h2m1 0h2m6 0h2m0 0h2M0 97m92 0h2M0 98m72 0h2m45 0h2m19 0h2M0 99m129 0h2M0 100m110 0h2m12 0h2M0 101m120 0h2m11 0h2M0 102m107 0h2M0 103m115 0h2M0 104m105 0h2m27 0h2m-1 0h2M0 105m103 0h2m7 0h2M0 106m122 0h2M0 107m84 0h2m21 0h2m4 0h2M0 108m124 0h2M0 110m136 0h2m7 0h2M0 111m85 0h2m25 0h2M0 116m120 0h2m9 0h2"/>
<path d="M0 6m136 0h2M0 8m139 0h2M0 10m140 0h2M0 11m96 0h2M0 13m130 0h2M0 14m132 0h2m8 0h2m0 0h2M0 15m140 0h2m6 0h2M0 16m86 0h2m32 0h2m8 0h2m5 0h2m3 0h2m1 0h2M0 17m136 0h2M0 18m93 0h2M0 19m127 0h2m4 0h2m-1 0h2m4 0h2m4 0h2M0 20m137 0h2M0 21m138 0h2m-1 0h2m3 0h2m1 0h2m0 0h2m-1 0h2m0 0h2M0 22m127 0h2M0 23m104 0h2m21 0h2m3 0h2m-1 0h2m0 0h2m0 0h2m1 0h2m0 0h2m1 0h2M0 24m96 0h2m14 0h2m21 0h2m-1 0h2m0 0h2m-1 0h2m2 0h2m3 0h2M0 25m111 0h2m9 0h2m9 0h2m-1 0h2m-1 0h2m2 0h2m5 0h2m2 0h2M0 26m88 0h2m31 0h2m3 0h2m0 0h2m6 0h2m5 0h2m-1 0h2m-1 0h2m-1 0h2m3 0h2M0 27m86 0h2m16 0h2m3 0h2m-1 0h2m21 0h2m0 0h2m0 0h2m1 0h2m5 0h2M0 28m58 0h2m24 0h2m7 0h2m22 0h2m7 0h2m3 0h2m-1 0h2m1 0h2m-1 0h2m0 0h2m-1 0h2m-1 0h2m2 0h2m2 0h2m6 0h2M0 29m67 0h2m17 0h2m14 0h2m5 0h2m15 0h2m6 0h2m1 0h2m-1 0h2m-1 0h2m-1 0h2m0 0h2m1 0h2m0 0h2M0 30m84 0h2m10 0h2m12 0h2m3 0h2m5 0h2m0 0h2m4 0h2m1 0h2m0 0h2m-1 0h2m-1 0h2m-1 0h2m-1 0h2m0 0h2m-1 0h2m-1 0h2m1 0h2M0 31m117 0h2m11 0h2m2 0h2m-1 0h2m0 0h2m-1 0h2m-1 0h2m0 0h2m-1 0h2m2 0h2m-1 0h2m1 0h2M0 32m76 0h2m5 0h2m2 0h2m-1 0h2m7 0h2m5 0h2m19 0h2m7 0h2m0 0h2m0 0h2m0 0h2m-1 0h2m-1 0h2m-1 0h2m0 0h2M0 33m66 0h2m10 0h2m14 0h2m10 0h2m-1 0h2m19 0h2m3 0h2m-1 0h2m0 0h2m-1 0h2m-1 0h2m-1 0h2m-1 0h2m0 0h2m0 0h2m-1 0h2m7 0h2m-1 0h2M0 34m78 0h2m0 0h2m5 0h2m11 0h2m2 0h2m11 0h2m-1 0h2m1 0h2m-1 0h2m0 0h2m-1 0h2m0 0h2m8 0h2m-1 0h2m2 0h2m1 0h2m0 0h2m6 0h2M0 35m68 0h2m9 0h2m14 0h2m6 0h2m0 0h2m0 0h2m0 0h2m4 0h2m0 0h2m5 0h2m-1 0h2m-1 0h2m0 0h2m0 0h2m-1 0h2m-1 0h2m-1 0h2m0 0h2m-1 0h2m-1 0h2m-1 0h2m1 0h2m0 0h2m-1 0h2m-1 0h2m1 0h2M0 36m82 0h2m4 0h2m0 0h2m10 0h2m0 0h2m0 0h2m4 0h2m0 0h2m0 0h2m12 0h2m-1 0h2m2 0h2m1 0h2m-1 0h2m-1 0h2m0 0h2m6 0h2m1 0h2M0 37m85 0h2m-1 0h2m0 0h2m-1 0h2m4 0h2m12 0h2m4 0h2m-1 0h2m0 0h2m2 0h2m0 0h2m3 0h2m-1 0h2m0 0h2m-1 0h2m0 0h2m-1 0h2m1 0h2m4 0h2m6 0h2M0 38m74 0h2m3 0h2m0 0h2m14 0h2m3 0h2m-1 0h2m0 0h2m-1 0h2m0 0h2m2 0h2m12 0h2m0 0h2m0 0h2m0 0h2m-1 0h2m-1 0h2m1 0h2m-1 0h2m-1 0h2m-1 0h2m0 0h2m-1 0h2m-1 0h2m0 0h2m-1 0h2m-1 0h2m0 0h2m1 0h2M0 39m54 0h2m13 0h2m5 0h2m3 0h2m8 0h2m4 0h2m0 0h2m1 0h2m0 0h2m-1 0h2m4 0h2m16 0h2m4 0h2m-1 0h2m-1 0h2m-1 0h2m-1 0h2m-1 0h2m-1 0h2m-1 0h2m-1 0h2m-1 0h2m2 0h2m0 0h2M0 40m63 0h2m3 0h2m19 0h2m0 0h2m0 0h2m2 0h2m3 0h2m0 0h2m1 0h2m-1 0h2m3 0h2m-1 0h2m0 0h2m0 0h2m-1 0h2m4 0h2m-1 0h2m0 0h2m0 0h2m0 0h2m1 0h2m-1 0h2m1 0h2m2 0h2m1 0h2m0 0h2M0 41m67 0h2m1 0h2m-1 0h2m7 0h2m1 0h2m8 0h2m-1 0h2m6 0h2m-1 0h2m4 0h2m-1 0h2m-1 0h2m3 0h2m0 0h2m-1 0h2m-1 0h2m6 0h2m-1 0h2m-1 0h2m1 0h2m2 0h2m-1 0h2m-1 0h2m4 0h2m-1 0h2m-1 0h2m0 0h2m0 0h2m5 0h2M0 42m80 0h2m6 0h2m0 0h2m3 0h2m-1 0h2m-1 0h2m1 0h2m0 0h2m0 0h2m2 0h2m2 0h2m-1 0h2m6 0h2m2 0h2m2 0h2m4 0h2m-1 0h2m0 0h2m0 0h2m-1 0h2m0 0h2m0 0h2m-1 0h2M0 43m74 0h2m7 0h2m1 0h2m-1 0h2m-1 0h2m1 0h2m-1 0h2m7 0h2m3 0h2m6 0h2m4 0h2m-1 0h2m4 0h2m0 0h2m2 0h2m2 0h2m0 0h2m-1 0h2m-1 0h2m3 0h2m0 0h2m-1 0h2M0 44m50 0h2m2 0h2m16 0h2m2 0h2m9 0h2m3 0h2m4 0h2m1 0h2m-1 0h2m-1 0h2m-1 0h2m2 0h2m-1 0h2m3 0h2m0 0h2m5 0h2m-1 0h2m1 0h2m2 0h2m-1 0h2m-1 0h2m0 0h2m-1 0h2m2 0h2m-1 0h2m1 0h2m5 0h2m2 0h2M0 45m66 0h2m8 0h2m3 0h2m4 0h2m0 0h2m3 0h2m-1 0h2m2 0h2m0 0h2m0 0h2m-1 0h2m1 0h2m1 0h2m0 0h2m1 0h2m3 0h2m6 0h2m-1 0h2m-1 0h2m-1 0h2m-1 0h2m-1 0h2m-1 0h2m-1 0h2m-1 0h2m-1 0h2m0 0h2m-1 0h2m1 0h2m2 0h2m1 0h2m-1 0h2M0 46m64 0h2m8 0h2m2 0h2m0 0h2m-1 0h2m2 0h2m-1 0h2m3 0h2m0 0h2m0 0h2m0 0h2m0 0h2m-1 0h2m0 0h2m2 0h2m-1 0h2m-1 0h2m-1 0h2m-1 0h2m1 0h2m0 0h2m0 0h2m-1 0h2m0 0h2m4 0h2m2 0h2m0 0h2m-1 0h2m1 0h2m1 0h2m-1 0h2m-1 0h2m-1 0h2m0 0h2m0 0h2m-1 0h2m1 0h2M0 47m59 0h2m0 0h2m6 0h2m5 0h2m2 0h2m0 0h2m-1 0h2m1 0h2m1 0h2m0 0h2m-1 0h2m1 0h2m2 0h2m0 0h2m-1 0h2m-1 0h2m0 0h2m-1 0h2m1 0h2m3 0h2m-1 0h2m-1 0h2m2 0h2m-1 0h2m1 0h2m-1 0h2m1 0h2m0 0h2m-1 0h2m-1 0h2m0 0h2m-1 0h2m0 0h2m-1 0h2m0 0h2m1 0h2m1 0h2m-1 0h2m0 0h2m-1 0h2M0 48m52 0h2m16 0h2m0 0h2m2 0h2m1 0h2m2 0h2m7 0h2m2 0h2m1 0h2m-1 0h2m-1 0h2m3 0h2m2 0h2m-1 0h2m-1 0h2m0 0h2m-1 0h2m5 0h2m-1 0h2m0 0h2m-1 0h2m0 0h2m3 0h2m0 0h2m1 0h2m0 0h2m0 0h2m1 0h2m1 0h2M0 49m59 0h2m8 0h2m1 0h2m17 0h2m-1 0h2m1 0h2m-1 0h2m6 0h2m-1 0h2m1 0h2m0 0h2m-1 0h2m-1 0h2m0 0h2m-1 0h2m1 0h2m-1 0h2m0 0h2m-1 0h2m1 0h2m0 0h2m1 0h2m2 0h2m3 0h2m-1 0h2m-1 0h2m1 0h2m-1 0h2m-1 0h2M0 50m62 0h2m16 0h2m-1 0h2m0 0h2m1 0h2m-1 0h2m-1 0h2m11 0h2m-1 0h2m-1 0h2m-1 0h2m2 0h2m0 0h2m7 0h2m0 0h2m3 0h2m0 0h2m0 0h2m-1 0h2m0 0h2m-1 0h2m1 0h2m0 0h2m3 0h2m1 0h2m1 0h2M0 51m47 0h2m19 0h2m9 0h2m2 0h2m6 0h2m0 0h2m-1 0h2m-1 0h2m-1 0h2m0 0h2m4 0h2m-1 0h2m-1 0h2m-1 0h2m3 0h2m-1 0h2m0 0h2m-1 0h2m8 0h2m6 0h2m-1 0h2m1 0h2m-1 0h2m-1 0h2m-1 0h2m-1 0h2m4 0h2M0 52m64 0h2m7 0h2m16 0h2m3 0h2m0 0h2m0 0h2m-1 0h2m-1 0h2m0 0h2m4 0h2m0 0h2m1 0h2m2 0h2m2 0h2m-1 0h2m3 0h2m0 0h2m1 0h2m0 0h2m0 0h2m-1 0h2m-1 0h2m0 0h2m-1 0h2m-1 0h2m-1 0h2M0 53m58 0h2m12 0h2m5 0h2m8 0h2m-1 0h2m0 0h2m-1 0h2m2 0h2m-1 0h2m-1 0h2m4 0h2m2 0h2m1 0h2m0 0h2m-1 0h2m-1 0h2m0 0h2m0 0h2m1 0h2m4 0h2m5 0h2m1 0h2m3 0h2m4 0h2M0 54m79 0h2m-1 0h2m3 0h2m1 0h2m2 0h2m0 0h2m6 0h2m1 0h2m-1 0h2m-1 0h2m-1 0h2m-1 0h2m1 0h2m0 0h2m1 0h2m3 0h2m-1 0h2m1 0h2m6 0h2m0 0h2m0 0h2m1 0h2m-1 0h2m5 0h2M0 55m80 0h2m0 0h2m3 0h2m1 0h2m0 0h2m5 0h2m1 0h2m0 0h2m0 0h2m2 0h2m0 0h2m0 0h2m-1 0h2m1 0h2m0 0h2m0 0h2m2 0h2m3 0h2m3 0h2m3 0h2m12 0h2M0 56m75 0h2m0 0h2m1 0h2m3 0h2m-1 0h2m-1 0h2m-1 0h2m1 0h2m-1 0h2m1 0h2m0 0h2m0 0h2m0 0h2m2 0h2m-1 0h2m0 0h2m0 0h2m-1 0h2m1 0h2m2 0h2m0 0h2m8 0h2m0 0h2m12 0h2m2 0h2m2 0h2M0 57m56 0h2m19 0h2m1 0h2m-1 0h2m-1 0h2m-1 0h2m7 0h2m2 0h2m0 0h2m-1 0h2m-1 0h2m-1 0h2m-1 0h2m1 0h2m-1 0h2m0 0h2m0 0h2m6 0h2m1 0h2m-1 0h2m-1 0h2m2 0h2m3 0h2m3 0h2m1 0h2m2 0h2m-1 0h2M0 58m60 0h2m2 0h2m-1 0h2m15 0h2m3 0h2m4 0h2m1 0h2m-1 0h2m-1 0h2m-1 0h2m0 0h2m0 0h2m1 0h2m0 0h2m0 0h2m-1 0h2m-1 0h2m-1 0h2m-1 0h2m0 0h2m-1 0h2m7 0h2m1 0h2m-1 0h2m-1 0h2m1 0h2m3 0h2m2 0h2M0 59m68 0h2m1 0h2m1 0h2m3 0h2m0 0h2m0 0h2m1 0h2m-1 0h2m2 0h2m1 0h2m9 0h2m-1 0h2m0 0h2m1 0h2m-1 0h2m6 0h2m0 0h2m6 0h2m-1 0h2m0 0h2m0 0h2m-1 0h2m0 0h2m-1 0h2m2 0h2m6 0h2M0 60m71 0h2m0 0h2m9 0h2m2 0h2m2 0h2m4 0h2m3 0h2m-1 0h2m-1 0h2m-1 0h2m-1 0h2m-1 0h2m-1 0h2m2 0h2m4 0h2m3 0h2m0 0h2m-1 0h2m0 0h2m1 0h2m-1 0h2m11 0h2M0 61m71 0h2m0 0h2m-1 0h2m0 0h2m7 0h2m0 0h2m3 0h2m2 0h2m0 0h2m-1 0h2m0 0h2m-1 0h2m4 0h2m1 0h2m0 0h2m0 0h2m-1 0h2m2 0h2m-1 0h2m4 0h2m4 0h2m1 0h2m11 0h2M0 62m53 0h2m14 0h2m0 0h2m14 0h2m0 0h2m1 0h2m2 0h2m5 0h2m0 0h2m-1 0h2m2 0h2m-1 0h2m0 0h2m5 0h2m2 0h2m0 0h2m3 0h2m1 0h2m0 0h2m0 0h2M0 63m47 0h2m23 0h2m2 0h2m0 0h2m3 0h2m8 0h2m2 0h2m-1 0h2m0 0h2m-1 0h2m1 0h2m2 0h2m3 0h2m1 0h2m1 0h2m0 0h2m1 0h2m-1 0h2m3 0h2M0 64m59 0h2m0 0h2m10 0h2m0 0h2m2 0h2m0 0h2m5 0h2m2 0h2m4 0h2m6 0h2m0 0h2m1 0h2m2 0h2m1 0h2m-1 0h2m0 0h2m2 0h2m1 0h2m-1 0h2m9 0h2m2 0h2m1 0h2M0 65m64 0h2m14 0h2m-1 0h2m1 0h2m1 0h2m-1 0h2m-1 0h2m3 0h2m0 0h2m2 0h2m-1 0h2m0 0h2m0 0h2m-1 0h2m-1 0h2m1 0h2m-1 0h2m1 0h2m4 0h2m7 0h2m-1 0h2m1 0h2m0 0h2m-1 0h2m10 0h2M0 66m57 0h2m6 0h2m17 0h2m-1 0h2m0 0h2m1 0h2m-1 0h2m2 0h2m0 0h2m-1 0h2m2 0h2m-1 0h2m-1 0h2m3 0h2m1 0h2m0 0h2m10 0h2m1 0h2m13 0h2M0 67m68 0h2m8 0h2m5 0h2m1 0h2m-1 0h2m1 0h2m4 0h2m-1 0h2m7 0h2m-1 0h2m0 0h2m-1 0h2m0 0h2m-1 0h2m5 0h2m1 0h2m-1 0h2m3 0h2m2 0h2m4 0h2m0 0h2m-1 0h2M0 68m66 0h2m5 0h2m1 0h2m-1 0h2m5 0h2m3 0h2m-1 0h2m4 0h2m4 0h2m-1 0h2m1 0h2m5 0h2m1 0h2m2 0h2m4 0h2m0 0h2m6 0h2m3 0h2M0 69m64 0h2m25 0h2m-1 0h2m-1 0h2m0 0h2m7 0h2m-1 0h2m2 0h2m2 0h2m1 0h2m4 0h2m3 0h2m5 0h2m9 0h2M0 70m88 0h2m-1 0h2m-1 0h2m-1 0h2m2 0h2m6 0h2m4 0h2m-1 0h2m0 0h2m-1 0h2m0 0h2m3 0h2m1 0h2m1 0h2m3 0h2M0 71m80 0h2m3 0h2m4 0h2m-1 0h2m3 0h2m2 0h2m1 0h2m-1 0h2m0 0h2m-1 0h2m1 0h2m13 0h2m1 0h2m-1 0h2m5 0h2M0 72m75 0h2m9 0h2m4 0h2m5 0h2m5 0h2m0 0h2m9 0h2m2 0h2m6 0h2m-1 0h2m1 0h2m-1 0h2M0 73m56 0h2m13 0h2m14 0h2m8 0h2m0 0h2m2 0h2m1 0h2m-1 0h2m4 0h2m0 0h2m-1 0h2m2 0h2m26 0h2M0 74m92 0h2m1 0h2m2 0h2m5 0h2m0 0h2m2 0h2m0 0h2m6 0h2m-1 0h2m5 0h2M0 75m83 0h2m6 0h2m14 0h2m-1 0h2m1 0h2m-1 0h2m3 0h2m9 0h2m14 0h2M0 76m78 0h2m15 0h2m13 0h2m1 0h2m-1 0h2m2 0h2m1 0h2m0 0h2m1 0h2m0 0h2m3 0h2m0 0h2M0 77m90 0h2m-1 0h2m-1 0h2m2 0h2m11 0h2m1 0h2m3 0h2m0 0h2m7 0h2m-1 0h2m2 0h2M0 78m108 0h2m0 0h2m10 0h2m5 0h2m3 0h2M0 79m97 0h2m3 0h2m31 0h2M0 80m83 0h2m3 0h2m0 0h2m9 0h2m1 0h2m3 0h2m0 0h2m3 0h2M0 81m84 0h2m8 0h2m11 0h2m2 0h2m0 0h2m0 0h2M0 82m89 0h2m2 0h2m1 0h2m-1 0h2m1 0h2m0 0h2m1 0h2m6 0h2m15 0h2m8 0h2M0 83m72 0h2m36 0h2m-1 0h2m0 0h2m-1 0h2m3 0h2m0 0h2m0 0h2m26 0h2M0 84m79 0h2m15 0h2m5 0h2m0 0h2m5 0h2m14 0h2m1 0h2m9 0h2M0 85m114 0h2m-1 0h2m1 0h2m0 0h2m2 0h2m0 0h2m0 0h2m2 0h2m2 0h2M0 86m95 0h2m0 0h2m5 0h2m4 0h2m0 0h2m1 0h2m7 0h2m3 0h2M0 87m93 0h2m14 0h2m4 0h2m4 0h2M0 88m44 0h2m37 0h2m17 0h2m12 0h2M0 89m97 0h2m6 0h2m5 0h2m5 0h2m0 0h2m-1 0h2m6 0h2m4 0h2M0 90m98 0h2m15 0h2m13 0h2M0 91m99 0h2m15 0h2m5 0h2m11 0h2m2 0h2M0 92m91 0h2m-1 0h2m18 0h2m-1 0h2m2 0h2m1 0h2M0 93m97 0h2m10 0h2m13 0h2M0 94m109 0h2m3 0h2m6 0h2m2 0h2m1 0h2m0 0h2M0 95m107 0h2M0 96m126 0h2M0 97m116 0h2m5 0h2M0 99m120 0h2m6 0h2m19 0h2M0 100m98 0h2m4 0h2m14 0h2m18 0h2M0 102m111 0h2m17 0h2M0 103m108 0h2m41 0h2M0 104m129 0h2M0 105m100 0h2M0 107m95 0h2m20 0h2M0 108m95 0h2M0 109m99 0h2m12 0h2M0 111m117 0h2M0 113m114 0h2M0 117m113 0h2M0 118m108 0h2M0 120m105 0h2M0 121m95 0h2"/>
<path stroke-opacity=".37" d="M0 8m38 0h2M0 9m7 0h2M0 11m100 0h2M0 12m80 0h2M0 13m67 0h2m10 0h2M0 14m93 0h2M0 15m18 0h2m145 0h2M0 19m71 0h2m14 0h2M0 20m67 0h2M0 21m60 0h2m14 0h2M0 22m7 0h2m46 0h2M0 23m39 0h2m7 0h2m25 0h2M0 24m32 0h2m8 0h2m8 0h2M0 26m49 0h2m42 0h2M0 27m40 0h2m9 0h2m143 0h2M0 28m50 0h2m35 0h2m8 0h2m112 0h2M0 29m67 0h2m21 0h2m8 0h2m60 0h2M0 30m30 0h2m31 0h2m1 0h2m13 0h2m10 0h2m28 0h2M0 31m34 0h2m1 0h2m28 0h2m-1 0h2m16 0h2M0 32m20 0h2m45 0h2m2 0h2m17 0h2M0 33m46 0h2m5 0h2m2 0h2m2 0h2m-1 0h2m6 0h2m-1 0h2m1 0h2M0 34m48 0h2m10 0h2m11 0h2m9 0h2m13 0h2M0 35m61 0h2m3 0h2m29 0h2M0 36m40 0h2m15 0h2m4 0h2m7 0h2m7 0h2m19 0h2M0 37m34 0h2m10 0h2m5 0h2m12 0h2m7 0h2m0 0h2m95 0h2M0 38m30 0h2m13 0h2m1 0h2m7 0h2m33 0h2m20 0h2M0 39m42 0h2m6 0h2m1 0h2m3 0h2m1 0h2m2 0h2m40 0h2M0 40m51 0h2m3 0h2m2 0h2m3 0h2m21 0h2m10 0h2M0 41m33 0h2m12 0h2m19 0h2m2 0h2m7 0h2m-1 0h2m19 0h2m23 0h2M0 42m48 0h2m14 0h2m2 0h2m33 0h2m-1 0h2M0 43m43 0h2m2 0h2m-1 0h2m6 0h2m25 0h2m14 0h2M0 44m40 0h2m1 0h2m17 0h2m12 0h2m4 0h2m8 0h2m6 0h2m2 0h2M0 45m45 0h2m8 0h2m0 0h2m6 0h2m1 0h2m22 0h2m-1 0h2m1 0h2m3 0h2m4 0h2m28 0h2M0 46m42 0h2m3 0h2m5 0h2m2 0h2m2 0h2m6 0h2m3 0h2m-1 0h2m25 0h2M0 47m45 0h2m5 0h2m3 0h2m12 0h2m0 0h2m1 0h2m0 0h2m2 0h2m12 0h2m12 0h2M0 48m25 0h2m-1 0h2m24 0h2m1 0h2m4 0h2m0 0h2m2 0h2m-1 0h2m39 0h2m4 0h2m8 0h2M0 49m40 0h2m4 0h2m8 0h2m2 0h2m5 0h2m0 0h2m0 0h2m6 0h2m8 0h2m17 0h2M0 50m17 0h2m10 0h2m7 0h2m15 0h2m0 0h2m4 0h2m4 0h2m1 0h2m7 0h2m6 0h2m0 0h2m16 0h2M0 51m25 0h2m1 0h2m26 0h2m0 0h2m1 0h2m0 0h2m2 0h2m7 0h2m5 0h2M0 52m43 0h2m3 0h2m0 0h2m7 0h2m1 0h2m-1 0h2m11 0h2m6 0h2m6 0h2m7 0h2M0 53m44 0h2m3 0h2m4 0h2m3 0h2m2 0h2m6 0h2m3 0h2m7 0h2m1 0h2M0 54m22 0h2m5 0h2m12 0h2m0 0h2m2 0h2m-1 0h2m-1 0h2m0 0h2m2 0h2m8 0h2m5 0h2m-1 0h2m0 0h2m2 0h2m0 0h2m21 0h2M0 55m19 0h2m3 0h2m3 0h2m23 0h2m0 0h2m-1 0h2m-1 0h2m3 0h2m2 0h2m2 0h2m-1 0h2m5 0h2m0 0h2M0 56m38 0h2m5 0h2m2 0h2m6 0h2m0 0h2m4 0h2m4 0h2m0 0h2m5 0h2m9 0h2M0 57m41 0h2m-1 0h2m4 0h2m0 0h2m10 0h2m0 0h2m4 0h2m0 0h2m0 0h2m1 0h2m3 0h2m32 0h2m-1 0h2M0 58m24 0h2m4 0h2m6 0h2m11 0h2m12 0h2m3 0h2m-1 0h2m13 0h2M0 59m14 0h2m3 0h2m9 0h2m0 0h2m8 0h2m6 0h2m0 0h2m4 0h2m0 0h2m-1 0h2m6 0h2m0 0h2m6 0h2m0 0h2m16 0h2M0 60m4 0h2m14 0h2m24 0h2m-1 0h2m1 0h2m5 0h2m4 0h2m3 0h2m3 0h2m13 0h2m5 0h2m18 0h2M0 61m24 0h2m19 0h2m3 0h2m19 0h2m-1 0h2m7 0h2m-1 0h2m-1 0h2m10 0h2m87 0h2M0 62m40 0h2m2 0h2m-1 0h2m12 0h2m0 0h2m2 0h2m0 0h2m1 0h2m5 0h2m15 0h2m1 0h2M0 63m19 0h2m10 0h2m3 0h2m20 0h2m19 0h2M0 64m47 0h2m0 0h2m5 0h2m11 0h2m0 0h2M0 65m36 0h2m4 0h2m3 0h2m7 0h2m1 0h2m1 0h2m3 0h2m2 0h2m15 0h2m9 0h2M0 66m42 0h2m2 0h2m3 0h2m-1 0h2m5 0h2m12 0h2m2 0h2m18 0h2M0 67m38 0h2m13 0h2m3 0h2m5 0h2m3 0h2m7 0h2m20 0h2M0 68m28 0h2m31 0h2m4 0h2m0 0h2m3 0h2m3 0h2m13 0h2m69 0h2M0 69m43 0h2m2 0h2m14 0h2m12 0h2m0 0h2M0 70m38 0h2m2 0h2m17 0h2m11 0h2m2 0h2m24 0h2M0 71m52 0h2m3 0h2m20 0h2m4 0h2m2 0h2M0 72m34 0h2m7 0h2m7 0h2m2 0h2m2 0h2m-1 0h2m2 0h2m12 0h2m23 0h2M0 73m45 0h2m-1 0h2m1 0h2m32 0h2M0 74m35 0h2m12 0h2m0 0h2m7 0h2m5 0h2m1 0h2m14 0h2m3 0h2M0 75m17 0h2m16 0h2m21 0h2m10 0h2m7 0h2m0 0h2M0 76m25 0h2m21 0h2m2 0h2m17 0h2m2 0h2m9 0h2m6 0h2M0 77m29 0h2m4 0h2m5 0h2m43 0h2m17 0h2M0 78m39 0h2m20 0h2m0 0h2m4 0h2m-1 0h2m26 0h2M0 79m6 0h2m47 0h2m9 0h2m6 0h2m0 0h2m14 0h2M0 80m14 0h2m45 0h2m-1 0h2m5 0h2m25 0h2M0 81m45 0h2m8 0h2m17 0h2m0 0h2m0 0h2m5 0h2M0 82m25 0h2m6 0h2m52 0h2M0 83m22 0h2m29 0h2m4 0h2m-1 0h2m3 0h2m1 0h2m33 0h2M0 84m66 0h2m16 0h2M0 85m56 0h2m1 0h2m14 0h2M0 86m42 0h2m-1 0h2m13 0h2m79 0h2M0 87m44 0h2m0 0h2m40 0h2m121 0h2M0 88m73 0h2M0 89m32 0h2m21 0h2m-1 0h2m2 0h2m32 0h2M0 90m60 0h2m16 0h2m63 0h2M0 91m21 0h2m14 0h2M0 92m56 0h2m28 0h2M0 93m56 0h2m0 0h2M0 94m58 0h2m6 0h2m2 0h2m22 0h2M0 95m38 0h2M0 96m44 0h2m10 0h2M0 98m100 0h2M0 99m142 0h2M0 100m72 0h2M0 101m42 0h2M0 102m26 0h2M0 103m66 0h2M0 104m13 0h2m56 0h2m20 0h2M0 105m75 0h2M0 107m69 0h2M0 108m113 0h2m65 0h2M0 110m69 0h2m5 0h2m12 0h2M0 111m47 0h2m23 0h2M0 112m93 0h2M0 113m120 0h2M0 114m83 0h2M0 116m78 0h2M0 120m11 0h2M0 121m69 0h2M0 123m52 0h2m29 0h2M0 124m41 0h2m31 0h2m57 0h2M0 126m36 0h2m43 0h2m-1 0h2m2 0h2M0 127m45 0h2M0 128m43 0h2m6 0h2M0 129m52 0h2M0 130m74 0h2m6 0h2m11 0h2M0 131m52 0h2m1 0h2m3 0h2m7 0h2m4 0h2M0 132m50 0h2m6 0h2m0 0h2m0 0h2m-1 0h2m0 0h2m16 0h2M0 133m65 0h2m130 0h2M0 134m58 0h2m58 0h2M0 135m25 0h2m17 0h2m20 0h2m8 0h2m20 0h2M0 136m57 0h2m1 0h2m5 0h2m6 0h2m21 0h2m19 0h2M0 137m47 0h2m8 0h2m2 0h2m7 0h2m0 0h2m5 0h2m29 0h2M0 138m43 0h2m-1 0h2m24 0h2m23 0h2m12 0h2M0 139m51 0h2m9 0h2m5 0h2m3 0h2m-1 0h2m8 0h2m111 0h2M0 140m38 0h2m8 0h2m14 0h2m1 0h2m7 0h2M0 141m30 0h2m22 0h2m0 0h2m1 0h2m-1 0h2m24 0h2M0 142m18 0h2m23 0h2m5 0h2m21 0h2m-1 0h2m4 0h2m9 0h2M0 143m41 0h2m22 0h2m2 0h2M0 144m48 0h2m13 0h2m6 0h2m4 0h2m19 0h2M0 145m9 0h2m19 0h2m17 0h2m4 0h2m2 0h2m0 0h2m3 0h2m3 0h2m2 0h2m5 0h2m0 0h2m5 0h2M0 146m33 0h2m38 0h2m1 0h2m5 0h2M0 147m39 0h2m1 0h2m2 0h2m12 0h2m18 0h2m38 0h2M0 148m38 0h2m2 0h2m0 0h2m19 0h2m22 0h2m0 0h2M0 149m82 0h2M0 150m50 0h2m10 0h2m0 0h2m5 0h2m5 0h2m7 0h2m3 0h2m1 0h2m5 0h2m16 0h2M0 151m37 0h2m-1 0h2m3 0h2m0 0h2m18 0h2m5 0h2M0 152m41 0h2m37 0h2m-1 0h2M0 153m45 0h2m17 0h2m6 0h2m3 0h2m2 0h2M0 154m51 0h2m-1 0h2m5 0h2m0 0h2m4 0h2m15 0h2m42 0h2M0 155m40 0h2m6 0h2m4 0h2m18 0h2m1 0h2M0 156m48 0h2m1 0h2m1 0h2m18 0h2m20 0h2M0 157m40 0h2m0 0h2m-1 0h2m13 0h2m0 0h2m8 0h2M0 158m42 0h2m8 0h2m27 0h2m-1 0h2m3 0h2m0 0h2m20 0h2M0 159m64 0h2m14 0h2m0 0h2M0 160m10 0h2m21 0h2m11 0h2m8 0h2m14 0h2m-1 0h2m6 0h2M0 161m14 0h2m35 0h2m11 0h2m8 0h2M0 162m42 0h2m18 0h2m18 0h2m0 0h2m11 0h2M0 163m57 0h2m18 0h2m1 0h2m0 0h2M0 164m23 0h2m11 0h2m11 0h2m56 0h2M0 165m35 0h2m3 0h2m9 0h2m-1 0h2m2 0h2m2 0h2m0 0h2m2 0h2M0 166m56 0h2m12 0h2m8 0h2m3 0h2m11 0h2m0 0h2M0 167m28 0h2m4 0h2m2 0h2m0 0h2m4 0h2m11 0h2m11 0h2m1 0h2m4 0h2M0 168m35 0h2m26 0h2m10 0h2m8 0h2m15 0h2M0 169m42 0h2m10 0h2m-1 0h2m14 0h2m7 0h2m-1 0h2m5 0h2M0 170m64 0h2m0 0h2m-1 0h2m6 0h2m38 0h2M0 171m17 0h2m16 0h2m30 0h2M0 172m18 0h2m3 0h2m3 0h2m-1 0h2m4 0h2m1 0h2m1 0h2m3 0h2m14 0h2m9 0h2m18 0h2m1 0h2M0 173m37 0h2m2 0h2m2 0h2m9 0h2m-1 0h2m4 0h2m2 0h2m2 0h2m42 0h2M0 174m11 0h2m51 0h2m0 0h2m6 0h2M0 175m51 0h2m35 0h2m0 0h2M0 176m29 0h2m16 0h2m11 0h2m18 0h2M0 177m52 0h2m29 0h2m7 0h2m7 0h2M0 178m50 0h2m2 0h2m11 0h2m104 0h2M0 179m52 0h2m8 0h2m2 0h2m21 0h2M0 180m37 0h2m22 0h2m28 0h2M0 181m50 0h2m86 0h2M0 182m36 0h2m21 0h2m20 0h2m4 0h2M0 183m6 0h2m17 0h2m63 0h2m14 0h2M0 185m28 0h2m0 0h2m40 0h2m32 0h2M0 186m47 0h2m-1 0h2m35 0h2M0 187m10 0h2m45 0h2m31 0h2m7 0h2M0 188m37 0h2m20 0h2m20 0h2m10 0h2M0 189m40 0h2m17 0h2m131 0h2M0 190m38 0h2m2 0h2M0 191m59 0h2m16 0h2m4 0h2m41 0h2M0 192m34 0h2m-1 0h2m2 0h2m118 0h2M0 193m48 0h2M0 195m52 0h2m114 0h2M0 196m49 0h2m48 0h2m57 0h2M0 197m46 0h2M0 198m36 0h2M0 199m19 0h2m22 0h2M0 203m163 0h2M0 204m68 0h2M0 206m86 0h2M0 207m30 0h2m7 0h2m81 0h2m40 0h2M0 208m27 0h2M0 209m13 0h2m30 0h2m144 0h2"/>
</g></g>
<path d="M0 0H107.6V107.2" fill="none" stroke="#c4c4c4" stroke-width="1"/>
<path d="M0 0V107.2" fill="none" stroke="#555" stroke-width="1.3"/>
<path d="M0 107.2H107.6" fill="none" stroke="#777" stroke-width="1"/>
<path d="M-1 2V99.2" stroke="#666" stroke-width="1.2" stroke-dasharray="0.7 1.9" fill="none"/>
<path d="M8 108.5H103.6" stroke="#888" stroke-width="1.8" stroke-dasharray="0.7 2.1" fill="none"/>
<path d="M-2.8 9.3H0" stroke="#444" stroke-width="1"/>
<path d="M-2.8 33.6H0" stroke="#444" stroke-width="1"/>
<path d="M-2.8 58.3H0" stroke="#444" stroke-width="1"/>
<path d="M-2.8 84.5H0" stroke="#444" stroke-width="1"/>
<path d="M-2.8 96.2H0" stroke="#444" stroke-width="1"/>
<path d="M11.2 107.2v3" stroke="#555" stroke-width="1"/>
<path d="M22.7 107.2v3" stroke="#555" stroke-width="1"/>
<path d="M49.2 107.2v3" stroke="#555" stroke-width="1"/>
<path d="M73.4 107.2v3" stroke="#555" stroke-width="1"/>
<path d="M97.8 107.2v3" stroke="#555" stroke-width="1"/>
<path d="M0 58.3H107.6M48.8 0V107.2" fill="none" stroke="#6e6e6e" stroke-width="1"/>
</g>
<g transform="translate(137.8 135.8)">
<ellipse cx="60" cy="26" rx="9.5" ry="8" fill="#000" opacity="0.65" filter="url(#b)"/>
<ellipse cx="64" cy="25" rx="5" ry="6" fill="#000" opacity="0.5" filter="url(#b)"/>
<g filter="url(#s)"><g transform="scale(.5)" fill="none" stroke="#000" stroke-width="2" stroke-opacity=".46">
<path d="M0 8m143 0h2M0 15m121 0h2M0 17m125 0h2M0 18m104 0h2M0 20m120 0h2M0 21m92 0h2m19 0h2M0 22m104 0h2m16 0h2M0 24m113 0h2M0 25m79 0h2m-1 0h2m13 0h2m3 0h2m14 0h2m7 0h2m1 0h2M0 26m98 0h2m34 0h2m-1 0h2M0 27m91 0h2m11 0h2m13 0h2m3 0h2M0 28m68 0h2m6 0h2m45 0h2m0 0h2m7 0h2m5 0h2m5 0h2M0 29m93 0h2m1 0h2m-1 0h2m5 0h2m5 0h2m20 0h2m1 0h2M0 30m83 0h2m23 0h2m-1 0h2m2 0h2m10 0h2m-1 0h2m3 0h2m6 0h2m-1 0h2m1 0h2M0 31m101 0h2m0 0h2m2 0h2m1 0h2m1 0h2m3 0h2m1 0h2m2 0h2m-1 0h2m-1 0h2m1 0h2m5 0h2m1 0h2M0 32m66 0h2m6 0h2m5 0h2m16 0h2m0 0h2m0 0h2m1 0h2m1 0h2m1 0h2m1 0h2m6 0h2m-1 0h2m-1 0h2m0 0h2m0 0h2m9 0h2M0 33m75 0h2m13 0h2m0 0h2m5 0h2m15 0h2m5 0h2m1 0h2m0 0h2m0 0h2m0 0h2M0 34m67 0h2m5 0h2m0 0h2m1 0h2m15 0h2m-1 0h2m1 0h2m0 0h2m3 0h2m-1 0h2m-1 0h2m5 0h2m-1 0h2m3 0h2m-1 0h2m-1 0h2m2 0h2m-1 0h2m3 0h2m1 0h2M0 35m84 0h2m5 0h2m3 0h2m15 0h2m-1 0h2m-1 0h2m1 0h2m-1 0h2m4 0h2m0 0h2m1 0h2m1 0h2m-1 0h2m-1 0h2m11 0h2M0 36m67 0h2m17 0h2m4 0h2m6 0h2m-1 0h2m22 0h2m3 0h2m2 0h2m5 0h2m1 0h2M0 37m79 0h2m12 0h2m0 0h2m5 0h2m2 0h2m0 0h2m0 0h2m-1 0h2m3 0h2m-1 0h2m-1 0h2m0 0h2m-1 0h2m-1 0h2m0 0h2m-1 0h2m-1 0h2m-1 0h2m0 0h2m-1 0h2m1 0h2m1 0h2m0 0h2m0 0h2m0 0h2m3 0h2M0 38m77 0h2m2 0h2m5 0h2m2 0h2m0 0h2m5 0h2m2 0h2m2 0h2m-1 0h2m0 0h2m1 0h2m-1 0h2m0 0h2m-1 0h2m-1 0h2m-1 0h2m-1 0h2m-1 0h2m-1 0h2m1 0h2m0 0h2m0 0h2m-1 0h2m-1 0h2m2 0h2m0 0h2m0 0h2m1 0h2m1 0h2M0 39m75 0h2m6 0h2m3 0h2m-1 0h2m2 0h2m8 0h2m-1 0h2m2 0h2m-1 0h2m0 0h2m0 0h2m0 0h2m-1 0h2m-1 0h2m0 0h2m2 0h2m0 0h2m-1 0h2m2 0h2m2 0h2m-1 0h2m0 0h2M0 40m72 0h2m12 0h2m2 0h2m1 0h2m1 0h2m2 0h2m-1 0h2m-1 0h2m2 0h2m2 0h2m4 0h2m0 0h2m0 0h2m0 0h2m-1 0h2m-1 0h2m-1 0h2m-1 0h2m-1 0h2m2 0h2m-1 0h2m1 0h2m0 0h2m2 0h2M0 41m78 0h2m-1 0h2m4 0h2m5 0h2m0 0h2m5 0h2m0 0h2m0 0h2m6 0h2m-1 0h2m0 0h2m-1 0h2m-1 0h2m-1 0h2m1 0h2m1 0h2m0 0h2m-1 0h2m2 0h2m4 0h2m-1 0h2m1 0h2M0 42m82 0h2m3 0h2m2 0h2m1 0h2m3 0h2m-1 0h2m0 0h2m0 0h2m4 0h2m-1 0h2m1 0h2m-1 0h2m-1 0h2m-1 0h2m-1 0h2m1 0h2m-1 0h2m2 0h2m1 0h2m-1 0h2m0 0h2m-1 0h2m2 0h2m-1 0h2m-1 0h2M0 43m70 0h2m4 0h2m5 0h2m0 0h2m1 0h2m1 0h2m2 0h2m-1 0h2m8 0h2m2 0h2m-1 0h2m-1 0h2m-1 0h2m1 0h2m2 0h2m-1 0h2m1 0h2m-1 0h2m0 0h2m-1 0h2m-1 0h2m0 0h2m0 0h2m-1 0h2m6 0h2m-1 0h2m0 0h2m-1 0h2m0 0h2M0 44m86 0h2m-1 0h2m-1 0h2m3 0h2m-1 0h2m-1 0h2m-1 0h2m-1 0h2m-1 0h2m8 0h2m-1 0h2m0 0h2m-1 0h2m-1 0h2m0 0h2m1 0h2m1 0h2m-1 0h2m-1 0h2m-1 0h2m-1 0h2m-1 0h2m-1 0h2m-1 0h2m0 0h2m-1 0h2m-1 0h2m-1 0h2m9 0h2M0 45m74 0h2m0 0h2m2 0h2m6 0h2m0 0h2m-1 0h2m3 0h2m-1 0h2m4 0h2m5 0h2m3 0h2m0 0h2m1 0h2m1 0h2m0 0h2m-1 0h2m0 0h2m-1 0h2m0 0h2m1 0h2m-1 0h2m-1 0h2m-1 0h2m-1 0h2m-1 0h2m-1 0h2M0 46m59 0h2m14 0h2m2 0h2m1 0h2m2 0h2m5 0h2m4 0h2m-1 0h2m0 0h2m0 0h2m2 0h2m-1 0h2m-1 0h2m0 0h2m3 0h2m-1 0h2m0 0h2m0 0h2m0 0h2m0 0h2m-1 0h2m-1 0h2m0 0h2m1 0h2m-1 0h2m-1 0h2m2 0h2m-1 0h2m0 0h2m1 0h2m0 0h2M0 47m45 0h2m36 0h2m6 0h2m-1 0h2m0 0h2m1 0h2m1 0h2m1 0h2m0 0h2m0 0h2m3 0h2m-1 0h2m3 0h2m0 0h2m1 0h2m-1 0h2m-1 0h2m0 0h2m-1 0h2m-1 0h2m-1 0h2m-1 0h2m0 0h2m0 0h2m-1 0h2m0 0h2m1 0h2m0 0h2m6 0h2M0 48m59 0h2m5 0h2m12 0h2m10 0h2m-1 0h2m-1 0h2m2 0h2m2 0h2m0 0h2m-1 0h2m0 0h2m-1 0h2m-1 0h2m-1 0h2m-1 0h2m0 0h2m-1 0h2m0 0h2m1 0h2m1 0h2m0 0h2m0 0h2m0 0h2m-1 0h2m-1 0h2m-1 0h2m-1 0h2m-1 0h2m-1 0h2m-1 0h2m9 0h2m0 0h2M0 49m66 0h2m10 0h2m7 0h2m1 0h2m2 0h2m2 0h2m-1 0h2m0 0h2m2 0h2m2 0h2m0 0h2m-1 0h2m3 0h2m-1 0h2m-1 0h2m-1 0h2m-1 0h2m-1 0h2m-1 0h2m0 0h2m-1 0h2m-1 0h2m-1 0h2m-1 0h2m-1 0h2m0 0h2m-1 0h2m0 0h2m0 0h2m-1 0h2m2 0h2m-1 0h2m0 0h2m1 0h2M0 50m76 0h2m-1 0h2m7 0h2m9 0h2m3 0h2m-1 0h2m-1 0h2m0 0h2m0 0h2m3 0h2m1 0h2m-1 0h2m2 0h2m0 0h2m0 0h2m-1 0h2m-1 0h2m0 0h2m-1 0h2m1 0h2m-1 0h2m0 0h2m4 0h2m1 0h2m0 0h2M0 51m69 0h2m3 0h2m-1 0h2m2 0h2m0 0h2m8 0h2m-1 0h2m4 0h2m-1 0h2m3 0h2m0 0h2m-1 0h2m0 0h2m-1 0h2m0 0h2m-1 0h2m-1 0h2m-1 0h2m0 0h2m-1 0h2m-1 0h2m0 0h2m1 0h2m-1 0h2m-1 0h2m-1 0h2m-1 0h2m-1 0h2m2 0h2m0 0h2m0 0h2m-1 0h2m1 0h2m-1 0h2M0 52m71 0h2m4 0h2m1 0h2m3 0h2m-1 0h2m2 0h2m0 0h2m-1 0h2m0 0h2m0 0h2m2 0h2m2 0h2m-1 0h2m-1 0h2m0 0h2m-1 0h2m-1 0h2m-1 0h2m-1 0h2m-1 0h2m-1 0h2m1 0h2m-1 0h2m1 0h2m0 0h2m-1 0h2m-1 0h2m0 0h2m0 0h2m-1 0h2m-1 0h2m0 0h2m-1 0h2m0 0h2m1 0h2m-1 0h2m-1 0h2m2 0h2M0 53m66 0h2m9 0h2m10 0h2m2 0h2m0 0h2m1 0h2m-1 0h2m-1 0h2m3 0h2m-1 0h2m-1 0h2m-1 0h2m-1 0h2m-1 0h2m-1 0h2m0 0h2m1 0h2m0 0h2m-1 0h2m0 0h2m-1 0h2m-1 0h2m-1 0h2m0 0h2m2 0h2m1 0h2m-1 0h2m-1 0h2m0 0h2m0 0h2m2 0h2M0 54m63 0h2m10 0h2m11 0h2m1 0h2m0 0h2m4 0h2m0 0h2m-1 0h2m0 0h2m0 0h2m-1 0h2m-1 0h2m0 0h2m-1 0h2m-1 0h2m-1 0h2m-1 0h2m-1 0h2m-1 0h2m-1 0h2m-1 0h2m0 0h2m-1 0h2m-1 0h2m1 0h2m-1 0h2m-1 0h2m-1 0h2m0 0h2m-1 0h2m0 0h2m0 0h2m2 0h2m1 0h2M0 55m76 0h2m4 0h2m0 0h2m-1 0h2m1 0h2m-1 0h2m0 0h2m0 0h2m3 0h2m5 0h2m0 0h2m0 0h2m0 0h2m-1 0h2m-1 0h2m2 0h2m-1 0h2m1 0h2m0 0h2m-1 0h2m0 0h2m-1 0h2m-1 0h2m0 0h2m0 0h2m0 0h2m-1 0h2m1 0h2M0 56m62 0h2m9 0h2m3 0h2m2 0h2m-1 0h2m-1 0h2m2 0h2m1 0h2m6 0h2m-1 0h2m0 0h2m0 0h2m0 0h2m1 0h2m0 0h2m-1 0h2m3 0h2m-1 0h2m0 0h2m-1 0h2m-1 0h2m1 0h2m-1 0h2m-1 0h2m0 0h2m-1 0h2m4 0h2m-1 0h2m3 0h2M0 57m88 0h2m8 0h2m7 0h2m0 0h2m-1 0h2m-1 0h2m2 0h2m-1 0h2m0 0h2m1 0h2m-1 0h2m0 0h2m-1 0h2m-1 0h2m-1 0h2m0 0h2m-1 0h2m1 0h2m-1 0h2m-1 0h2m-1 0h2m2 0h2m-1 0h2m-1 0h2M0 58m47 0h2m22 0h2m13 0h2m16 0h2m2 0h2m3 0h2m0 0h2m-1 0h2m0 0h2m-1 0h2m0 0h2m-1 0h2m-1 0h2m-1 0h2m1 0h2m-1 0h2m-1 0h2m0 0h2m0 0h2m-1 0h2m0 0h2m-1 0h2m-1 0h2m-1 0h2m4 0h2M0 59m87 0h2m6 0h2m7 0h2m0 0h2m-1 0h2m1 0h2m-1 0h2m1 0h2m1 0h2m-1 0h2m2 0h2m-1 0h2m2 0h2m0 0h2m1 0h2m1 0h2m-1 0h2m-1 0h2m0 0h2M0 60m90 0h2m0 0h2m9 0h2m0 0h2m0 0h2m4 0h2m-1 0h2m-1 0h2m-1 0h2m-1 0h2m0 0h2m-1 0h2m1 0h2m0 0h2m-1 0h2m-1 0h2m-1 0h2m1 0h2m-1 0h2m2 0h2m-1 0h2m1 0h2M0 61m73 0h2m4 0h2m-1 0h2m15 0h2m4 0h2m0 0h2m-1 0h2m2 0h2m-1 0h2m-1 0h2m-1 0h2m2 0h2m-1 0h2m-1 0h2m1 0h2m0 0h2m1 0h2m-1 0h2m1 0h2m-1 0h2m0 0h2m1 0h2M0 62m79 0h2m-1 0h2m9 0h2m-1 0h2m0 0h2m0 0h2m-1 0h2m1 0h2m1 0h2m1 0h2m2 0h2m0 0h2m3 0h2m-1 0h2m-1 0h2m0 0h2m4 0h2m-1 0h2m-1 0h2m-1 0h2m-1 0h2m-1 0h2m-1 0h2m-1 0h2m0 0h2m0 0h2M0 63m77 0h2m12 0h2m0 0h2m0 0h2m-1 0h2m0 0h2m1 0h2m4 0h2m-1 0h2m-1 0h2m1 0h2m3 0h2m-1 0h2m0 0h2m0 0h2m1 0h2m0 0h2m3 0h2m-1 0h2M0 64m71 0h2m14 0h2m5 0h2m2 0h2m5 0h2m-1 0h2m6 0h2m-1 0h2m2 0h2m-1 0h2m-1 0h2m2 0h2m-1 0h2m-1 0h2m-1 0h2m-1 0h2m-1 0h2m1 0h2m4 0h2M0 65m70 0h2m23 0h2m-1 0h2m3 0h2m-1 0h2m2 0h2m-1 0h2m5 0h2m2 0h2m4 0h2m0 0h2m2 0h2m-1 0h2m0 0h2m4 0h2M0 66m83 0h2m1 0h2m3 0h2m0 0h2m-1 0h2m-1 0h2m0 0h2m0 0h2m7 0h2m-1 0h2m-1 0h2m2 0h2m-1 0h2m-1 0h2m0 0h2m0 0h2m4 0h2m0 0h2m-1 0h2m0 0h2m-1 0h2m7 0h2M0 67m78 0h2m0 0h2m3 0h2m13 0h2m-1 0h2m-1 0h2m-1 0h2m6 0h2m1 0h2m2 0h2m-1 0h2m-1 0h2m2 0h2m4 0h2m3 0h2m8 0h2M0 68m88 0h2m-1 0h2m3 0h2m-1 0h2m1 0h2m-1 0h2m1 0h2m-1 0h2m-1 0h2m2 0h2m-1 0h2m0 0h2m0 0h2m-1 0h2m-1 0h2m2 0h2m-1 0h2m-1 0h2m3 0h2m1 0h2m0 0h2m4 0h2m-1 0h2m-1 0h2M0 69m80 0h2m2 0h2m1 0h2m1 0h2m0 0h2m0 0h2m1 0h2m4 0h2m2 0h2m1 0h2m2 0h2m2 0h2m0 0h2m9 0h2M0 70m60 0h2m29 0h2m-1 0h2m-1 0h2m8 0h2m9 0h2m-1 0h2m4 0h2m-1 0h2m8 0h2m-1 0h2m4 0h2M0 71m91 0h2m8 0h2m0 0h2m-1 0h2m0 0h2m-1 0h2m0 0h2m1 0h2m3 0h2m-1 0h2m8 0h2m1 0h2m0 0h2m-1 0h2m3 0h2m1 0h2M0 72m74 0h2m19 0h2m5 0h2m4 0h2m6 0h2m-1 0h2m5 0h2m3 0h2m5 0h2m0 0h2m-1 0h2M0 73m97 0h2m3 0h2m2 0h2m-1 0h2m0 0h2m0 0h2m0 0h2m2 0h2m2 0h2m3 0h2m-1 0h2m2 0h2m-1 0h2m1 0h2M0 74m75 0h2m11 0h2m9 0h2m0 0h2m2 0h2m0 0h2m0 0h2m-1 0h2m-1 0h2m1 0h2m-1 0h2m-1 0h2m2 0h2m0 0h2m-1 0h2m-1 0h2m-1 0h2m1 0h2m4 0h2m0 0h2M0 75m84 0h2m9 0h2m2 0h2m-1 0h2m1 0h2m0 0h2m-1 0h2m1 0h2m2 0h2m0 0h2m-1 0h2m0 0h2m-1 0h2m0 0h2m0 0h2m-1 0h2m5 0h2m0 0h2m4 0h2M0 76m82 0h2m6 0h2m9 0h2m-1 0h2m-1 0h2m1 0h2m1 0h2m0 0h2m0 0h2m-1 0h2m0 0h2m-1 0h2m4 0h2m1 0h2m-1 0h2m-1 0h2m1 0h2m-1 0h2M0 77m89 0h2m4 0h2m5 0h2m3 0h2m-1 0h2m10 0h2m2 0h2m5 0h2m2 0h2M0 78m88 0h2m0 0h2m12 0h2m2 0h2m1 0h2m3 0h2m-1 0h2m0 0h2m2 0h2m-1 0h2m6 0h2M0 79m106 0h2m1 0h2m-1 0h2m12 0h2m0 0h2m8 0h2M0 80m92 0h2m-1 0h2m0 0h2m6 0h2m1 0h2m-1 0h2m3 0h2m-1 0h2m3 0h2m0 0h2m1 0h2m-1 0h2M0 81m91 0h2m4 0h2m0 0h2m-1 0h2m-1 0h2m2 0h2m0 0h2m0 0h2m-1 0h2m1 0h2m-1 0h2m-1 0h2m0 0h2m0 0h2m4 0h2m-1 0h2M0 82m97 0h2m-1 0h2m-1 0h2m4 0h2m2 0h2m0 0h2m-1 0h2m-1 0h2m0 0h2m1 0h2m0 0h2m1 0h2m0 0h2m-1 0h2m1 0h2M0 83m91 0h2m-1 0h2m13 0h2m0 0h2m0 0h2m0 0h2m2 0h2m2 0h2m4 0h2m12 0h2M0 84m99 0h2m5 0h2m6 0h2m-1 0h2m1 0h2m3 0h2m1 0h2m0 0h2M0 85m85 0h2m2 0h2m3 0h2m-1 0h2m4 0h2m3 0h2m0 0h2m1 0h2m3 0h2m1 0h2m-1 0h2m-1 0h2m-1 0h2m0 0h2m0 0h2M0 86m82 0h2m12 0h2m1 0h2m1 0h2m-1 0h2m4 0h2m-1 0h2m15 0h2M0 87m94 0h2m4 0h2m4 0h2m-1 0h2m5 0h2m-1 0h2m3 0h2m-1 0h2m11 0h2m4 0h2M0 88m96 0h2m1 0h2m0 0h2m2 0h2m0 0h2m-1 0h2m-1 0h2m2 0h2m1 0h2m0 0h2m-1 0h2m0 0h2m-1 0h2m-1 0h2m3 0h2m-1 0h2M0 89m68 0h2m22 0h2m-1 0h2m2 0h2m5 0h2m1 0h2m0 0h2m0 0h2m1 0h2m0 0h2m0 0h2m6 0h2m0 0h2M0 90m96 0h2m6 0h2m6 0h2m1 0h2m8 0h2m5 0h2m5 0h2M0 91m99 0h2m4 0h2m-1 0h2m0 0h2m0 0h2m0 0h2m8 0h2m0 0h2m1 0h2m1 0h2M0 92m91 0h2m12 0h2m4 0h2m7 0h2m-1 0h2m-1 0h2m4 0h2m7 0h2M0 93m100 0h2m8 0h2m-1 0h2m5 0h2m10 0h2m14 0h2M0 94m102 0h2m3 0h2m0 0h2m0 0h2m3 0h2m-1 0h2m0 0h2m-1 0h2m2 0h2m0 0h2m5 0h2M0 95m103 0h2m6 0h2m-1 0h2m0 0h2m-1 0h2m0 0h2m2 0h2m6 0h2m5 0h2m5 0h2m-1 0h2M0 96m104 0h2m7 0h2m0 0h2m1 0h2m-1 0h2m0 0h2m2 0h2m1 0h2m8 0h2M0 97m86 0h2m10 0h2m2 0h2m6 0h2m1 0h2m-1 0h2m-1 0h2m-1 0h2m1 0h2m3 0h2M0 98m88 0h2m25 0h2m0 0h2m-1 0h2m3 0h2M0 99m91 0h2m3 0h2m1 0h2m0 0h2m1 0h2m3 0h2m6 0h2m-1 0h2m-1 0h2m-1 0h2m6 0h2M0 100m93 0h2m12 0h2m0 0h2m3 0h2m0 0h2m6 0h2m1 0h2m3 0h2M0 101m106 0h2m2 0h2m3 0h2m3 0h2m0 0h2m-1 0h2m0 0h2m7 0h2M0 102m95 0h2m6 0h2m1 0h2m0 0h2m1 0h2m8 0h2M0 103m72 0h2m33 0h2m8 0h2m10 0h2M0 104m103 0h2m0 0h2m2 0h2m3 0h2m-1 0h2m3 0h2m2 0h2m1 0h2M0 105m98 0h2m6 0h2m0 0h2m19 0h2M0 106m106 0h2m13 0h2m2 0h2m5 0h2M0 107m96 0h2m0 0h2m0 0h2m32 0h2M0 108m93 0h2m7 0h2m3 0h2m2 0h2m0 0h2m5 0h2m3 0h2m6 0h2M0 109m104 0h2m3 0h2m7 0h2m-1 0h2m7 0h2M0 110m107 0h2m3 0h2m1 0h2m8 0h2m4 0h2M0 111m103 0h2m3 0h2m0 0h2m0 0h2m21 0h2M0 112m110 0h2m0 0h2m3 0h2M0 113m95 0h2m8 0h2m3 0h2m6 0h2m8 0h2m8 0h2M0 114m95 0h2m28 0h2M0 115m97 0h2M0 116m106 0h2m4 0h2m15 0h2M0 117m100 0h2m11 0h2m0 0h2m0 0h2m1 0h2m12 0h2M0 118m86 0h2m17 0h2m1 0h2M0 119m94 0h2m17 0h2m6 0h2m-1 0h2M0 120m116 0h2m29 0h2M0 121m103 0h2m9 0h2m1 0h2m18 0h2M0 122m97 0h2m18 0h2m12 0h2M0 123m100 0h2m13 0h2M0 124m107 0h2m-1 0h2M0 125m103 0h2M0 127m120 0h2M0 128m105 0h2m8 0h2M0 129m102 0h2M0 130m116 0h2m7 0h2m13 0h2M0 133m124 0h2M0 135m118 0h2"/>
<path d="M0 7m108 0h2M0 15m62 0h2m53 0h2M0 16m103 0h2m20 0h2m6 0h2M0 19m59 0h2m35 0h2m22 0h2M0 20m133 0h2M0 21m104 0h2m-1 0h2m7 0h2m14 0h2m8 0h2M0 22m140 0h2M0 23m110 0h2m6 0h2m9 0h2m8 0h2M0 24m127 0h2m0 0h2M0 25m68 0h2m18 0h2m13 0h2m6 0h2m5 0h2m3 0h2m5 0h2m2 0h2M0 26m104 0h2m9 0h2m-1 0h2m2 0h2m3 0h2m12 0h2M0 27m68 0h2m3 0h2m7 0h2m3 0h2m-1 0h2m9 0h2m-1 0h2m7 0h2m1 0h2m1 0h2m0 0h2m16 0h2m7 0h2M0 28m77 0h2m26 0h2m0 0h2m1 0h2m2 0h2m0 0h2m-1 0h2m1 0h2m0 0h2m0 0h2m9 0h2M0 29m65 0h2m8 0h2m16 0h2m9 0h2m2 0h2m6 0h2m10 0h2m-1 0h2M0 30m92 0h2m2 0h2m11 0h2m2 0h2m9 0h2m-1 0h2m0 0h2m1 0h2m-1 0h2m1 0h2m3 0h2m-1 0h2M0 31m87 0h2m14 0h2m2 0h2m2 0h2m-1 0h2m-1 0h2m2 0h2m0 0h2m0 0h2m3 0h2m5 0h2M0 32m61 0h2m26 0h2m-1 0h2m-1 0h2m5 0h2m1 0h2m1 0h2m2 0h2m1 0h2m-1 0h2m0 0h2m4 0h2m0 0h2m-1 0h2m1 0h2m-1 0h2m1 0h2m9 0h2M0 33m71 0h2m8 0h2m3 0h2m0 0h2m2 0h2m19 0h2m2 0h2m0 0h2m2 0h2m3 0h2m-1 0h2m3 0h2m2 0h2M0 34m59 0h2m18 0h2m7 0h2m3 0h2m7 0h2m0 0h2m3 0h2m-1 0h2m8 0h2m-1 0h2m0 0h2m1 0h2m1 0h2m-1 0h2m2 0h2m3 0h2m3 0h2M0 35m87 0h2m3 0h2m7 0h2m4 0h2m0 0h2m-1 0h2m-1 0h2m4 0h2m0 0h2m0 0h2m7 0h2m-1 0h2m0 0h2m6 0h2m1 0h2M0 36m97 0h2m5 0h2m-1 0h2m6 0h2m6 0h2m0 0h2m3 0h2m-1 0h2m2 0h2m0 0h2M0 37m84 0h2m5 0h2m-1 0h2m6 0h2m-1 0h2m-1 0h2m6 0h2m6 0h2m-1 0h2m-1 0h2m-1 0h2m2 0h2m-1 0h2m2 0h2m4 0h2m-1 0h2m-1 0h2m-1 0h2m-1 0h2m-1 0h2m2 0h2M0 38m70 0h2m2 0h2m19 0h2m-1 0h2m-1 0h2m-1 0h2m4 0h2m3 0h2m2 0h2m0 0h2m-1 0h2m-1 0h2m-1 0h2m-1 0h2m-1 0h2m-1 0h2m0 0h2m-1 0h2m-1 0h2m-1 0h2m2 0h2m7 0h2m6 0h2M0 39m75 0h2m12 0h2m9 0h2m0 0h2m-1 0h2m2 0h2m-1 0h2m6 0h2m0 0h2m3 0h2m0 0h2m3 0h2m-1 0h2m-1 0h2m3 0h2m-1 0h2m0 0h2m-1 0h2M0 40m88 0h2m5 0h2m2 0h2m0 0h2m1 0h2m1 0h2m0 0h2m5 0h2m1 0h2m-1 0h2m-1 0h2m1 0h2m-1 0h2m1 0h2m-1 0h2m-1 0h2m6 0h2m0 0h2m0 0h2m-1 0h2M0 41m66 0h2m3 0h2m5 0h2m0 0h2m2 0h2m-1 0h2m5 0h2m5 0h2m2 0h2m4 0h2m-1 0h2m6 0h2m0 0h2m-1 0h2m0 0h2m1 0h2m3 0h2M0 42m79 0h2m-1 0h2m4 0h2m5 0h2m-1 0h2m5 0h2m0 0h2m3 0h2m1 0h2m0 0h2m-1 0h2m0 0h2m1 0h2m-1 0h2m0 0h2m0 0h2m-1 0h2m-1 0h2m-1 0h2m-1 0h2m0 0h2m-1 0h2m1 0h2m0 0h2m1 0h2m-1 0h2m-1 0h2M0 43m62 0h2m2 0h2m21 0h2m0 0h2m1 0h2m2 0h2m-1 0h2m0 0h2m-1 0h2m2 0h2m2 0h2m4 0h2m-1 0h2m0 0h2m1 0h2m-1 0h2m0 0h2m-1 0h2m-1 0h2m0 0h2m-1 0h2m0 0h2m-1 0h2m-1 0h2m0 0h2m0 0h2m-1 0h2M0 44m80 0h2m0 0h2m3 0h2m3 0h2m3 0h2m-1 0h2m0 0h2m-1 0h2m2 0h2m3 0h2m-1 0h2m-1 0h2m-1 0h2m2 0h2m-1 0h2m-1 0h2m-1 0h2m0 0h2m-1 0h2m-1 0h2m-1 0h2m-1 0h2m-1 0h2m-1 0h2m0 0h2m-1 0h2m1 0h2m-1 0h2m-1 0h2m12 0h2M0 45m81 0h2m6 0h2m-1 0h2m1 0h2m2 0h2m1 0h2m1 0h2m2 0h2m0 0h2m-1 0h2m-1 0h2m-1 0h2m0 0h2m0 0h2m1 0h2m0 0h2m0 0h2m-1 0h2m-1 0h2m-1 0h2m-1 0h2m-1 0h2m-1 0h2m4 0h2m1 0h2m-1 0h2m-1 0h2m3 0h2M0 46m66 0h2m5 0h2m0 0h2m-1 0h2m8 0h2m2 0h2m2 0h2m1 0h2m3 0h2m-1 0h2m2 0h2m1 0h2m2 0h2m0 0h2m2 0h2m1 0h2m-1 0h2m-1 0h2m-1 0h2m-1 0h2m0 0h2m-1 0h2m0 0h2m-1 0h2m0 0h2m-1 0h2m-1 0h2m1 0h2m0 0h2m-1 0h2M0 47m51 0h2m31 0h2m0 0h2m5 0h2m-1 0h2m0 0h2m-1 0h2m12 0h2m3 0h2m1 0h2m-1 0h2m-1 0h2m-1 0h2m-1 0h2m-1 0h2m1 0h2m0 0h2m-1 0h2m-1 0h2m-1 0h2m-1 0h2m0 0h2m1 0h2m2 0h2m2 0h2M0 48m67 0h2m11 0h2m3 0h2m1 0h2m-1 0h2m2 0h2m0 0h2m0 0h2m1 0h2m1 0h2m-1 0h2m0 0h2m0 0h2m-1 0h2m-1 0h2m-1 0h2m2 0h2m0 0h2m2 0h2m0 0h2m0 0h2m1 0h2m-1 0h2m0 0h2m1 0h2m-1 0h2m-1 0h2m-1 0h2m0 0h2m-1 0h2m7 0h2M0 49m76 0h2m3 0h2m4 0h2m6 0h2m1 0h2m-1 0h2m-1 0h2m1 0h2m1 0h2m0 0h2m0 0h2m2 0h2m0 0h2m1 0h2m1 0h2m-1 0h2m1 0h2m-1 0h2m0 0h2m2 0h2m-1 0h2m-1 0h2m2 0h2m4 0h2M0 50m54 0h2m30 0h2m-1 0h2m1 0h2m2 0h2m1 0h2m1 0h2m1 0h2m-1 0h2m-1 0h2m-1 0h2m-1 0h2m2 0h2m2 0h2m-1 0h2m-1 0h2m-1 0h2m1 0h2m0 0h2m-1 0h2m-1 0h2m0 0h2m-1 0h2m-1 0h2m-1 0h2m-1 0h2m1 0h2m-1 0h2m7 0h2M0 51m74 0h2m2 0h2m9 0h2m0 0h2m1 0h2m0 0h2m7 0h2m1 0h2m1 0h2m-1 0h2m0 0h2m-1 0h2m2 0h2m-1 0h2m0 0h2m0 0h2m-1 0h2m-1 0h2m1 0h2m-1 0h2m0 0h2m-1 0h2m-1 0h2m0 0h2m4 0h2m1 0h2m-1 0h2M0 52m55 0h2m1 0h2m7 0h2m17 0h2m-1 0h2m10 0h2m-1 0h2m-1 0h2m-1 0h2m-1 0h2m1 0h2m-1 0h2m-1 0h2m0 0h2m-1 0h2m0 0h2m0 0h2m1 0h2m0 0h2m2 0h2m2 0h2m0 0h2m-1 0h2m-1 0h2m0 0h2m-1 0h2m-1 0h2m-1 0h2m0 0h2m-1 0h2M0 53m82 0h2m0 0h2m-1 0h2m-1 0h2m4 0h2m0 0h2m0 0h2m0 0h2m-1 0h2m0 0h2m2 0h2m-1 0h2m0 0h2m1 0h2m0 0h2m-1 0h2m0 0h2m-1 0h2m-1 0h2m-1 0h2m-1 0h2m-1 0h2m0 0h2m3 0h2m0 0h2m-1 0h2m-1 0h2m-1 0h2m-1 0h2m6 0h2M0 54m56 0h2m8 0h2m5 0h2m14 0h2m1 0h2m0 0h2m-1 0h2m-1 0h2m2 0h2m7 0h2m0 0h2m-1 0h2m0 0h2m-1 0h2m1 0h2m-1 0h2m0 0h2m-1 0h2m0 0h2m1 0h2m0 0h2m-1 0h2m-1 0h2m-1 0h2m-1 0h2m0 0h2m1 0h2m-1 0h2m0 0h2M0 55m64 0h2m11 0h2m0 0h2m4 0h2m-1 0h2m4 0h2m4 0h2m0 0h2m-1 0h2m1 0h2m2 0h2m0 0h2m0 0h2m0 0h2m-1 0h2m-1 0h2m-1 0h2m-1 0h2m-1 0h2m-1 0h2m-1 0h2m-1 0h2m0 0h2m0 0h2m-1 0h2m-1 0h2m-1 0h2m-1 0h2m-1 0h2m8 0h2m2 0h2m2 0h2M0 56m79 0h2m7 0h2m1 0h2m0 0h2m1 0h2m2 0h2m1 0h2m-1 0h2m0 0h2m-1 0h2m-1 0h2m-1 0h2m0 0h2m-1 0h2m0 0h2m4 0h2m-1 0h2m-1 0h2m0 0h2m-1 0h2m-1 0h2m1 0h2m-1 0h2m1 0h2m-1 0h2m-1 0h2m1 0h2m-1 0h2m0 0h2M0 57m77 0h2m5 0h2m3 0h2m1 0h2m0 0h2m2 0h2m0 0h2m5 0h2m0 0h2m0 0h2m-1 0h2m0 0h2m-1 0h2m-1 0h2m0 0h2m-1 0h2m0 0h2m-1 0h2m-1 0h2m-1 0h2m-1 0h2m-1 0h2m-1 0h2m-1 0h2m-1 0h2m0 0h2m-1 0h2m-1 0h2M0 58m77 0h2m0 0h2m0 0h2m2 0h2m1 0h2m-1 0h2m2 0h2m-1 0h2m5 0h2m-1 0h2m3 0h2m1 0h2m-1 0h2m0 0h2m0 0h2m-1 0h2m-1 0h2m2 0h2m-1 0h2m-1 0h2m-1 0h2m0 0h2m-1 0h2m0 0h2m-1 0h2m3 0h2m3 0h2m0 0h2M0 59m57 0h2m7 0h2m19 0h2m-1 0h2m-1 0h2m5 0h2m2 0h2m0 0h2m1 0h2m0 0h2m1 0h2m-1 0h2m-1 0h2m1 0h2m0 0h2m1 0h2m0 0h2m-1 0h2m-1 0h2m0 0h2m-1 0h2m-1 0h2m0 0h2m-1 0h2m3 0h2m-1 0h2m-1 0h2m1 0h2m-1 0h2m0 0h2M0 60m79 0h2m1 0h2m4 0h2m-1 0h2m0 0h2m1 0h2m-1 0h2m-1 0h2m0 0h2m3 0h2m0 0h2m0 0h2m5 0h2m0 0h2m-1 0h2m2 0h2m0 0h2m2 0h2m-1 0h2m-1 0h2m0 0h2m3 0h2m0 0h2m1 0h2m0 0h2M0 61m74 0h2m11 0h2m0 0h2m-1 0h2m0 0h2m1 0h2m1 0h2m-1 0h2m6 0h2m5 0h2m0 0h2m-1 0h2m-1 0h2m1 0h2m-1 0h2m-1 0h2m-1 0h2m2 0h2m-1 0h2m2 0h2m4 0h2m-1 0h2m0 0h2M0 62m75 0h2m0 0h2m5 0h2m2 0h2m0 0h2m-1 0h2m7 0h2m0 0h2m0 0h2m-1 0h2m-1 0h2m2 0h2m0 0h2m3 0h2m-1 0h2m-1 0h2m0 0h2m0 0h2m-1 0h2m0 0h2m1 0h2m0 0h2m1 0h2m0 0h2m1 0h2m0 0h2m-1 0h2m-1 0h2M0 63m68 0h2m8 0h2m3 0h2m0 0h2m6 0h2m0 0h2m1 0h2m4 0h2m0 0h2m0 0h2m-1 0h2m0 0h2m3 0h2m-1 0h2m-1 0h2m-1 0h2m-1 0h2m0 0h2m0 0h2m-1 0h2m1 0h2m-1 0h2m0 0h2m1 0h2m-1 0h2m-1 0h2m-1 0h2m-1 0h2m7 0h2m-1 0h2M0 64m87 0h2m3 0h2m0 0h2m0 0h2m6 0h2m-1 0h2m-1 0h2m-1 0h2m1 0h2m1 0h2m3 0h2m0 0h2m-1 0h2m0 0h2m-1 0h2m-1 0h2m-1 0h2m-1 0h2m0 0h2m3 0h2m-1 0h2m0 0h2m-1 0h2m-1 0h2m0 0h2m0 0h2M0 65m91 0h2m-1 0h2m6 0h2m2 0h2m-1 0h2m1 0h2m0 0h2m1 0h2m-1 0h2m1 0h2m-1 0h2m-1 0h2m3 0h2m-1 0h2m-1 0h2m0 0h2m4 0h2m2 0h2m7 0h2M0 66m69 0h2m21 0h2m5 0h2m-1 0h2m-1 0h2m-1 0h2m-1 0h2m6 0h2m4 0h2m2 0h2m-1 0h2m1 0h2m0 0h2m0 0h2m0 0h2m-1 0h2m0 0h2m0 0h2m1 0h2M0 67m69 0h2m16 0h2m2 0h2m2 0h2m4 0h2m2 0h2m-1 0h2m0 0h2m7 0h2m0 0h2m-1 0h2m0 0h2m-1 0h2m0 0h2m-1 0h2m-1 0h2m0 0h2m1 0h2m2 0h2m-1 0h2m2 0h2M0 68m85 0h2m3 0h2m1 0h2m4 0h2m5 0h2m1 0h2m4 0h2m-1 0h2m0 0h2m-1 0h2m-1 0h2m0 0h2m3 0h2m11 0h2M0 69m67 0h2m10 0h2m12 0h2m0 0h2m-1 0h2m0 0h2m3 0h2m0 0h2m1 0h2m2 0h2m-1 0h2m0 0h2m4 0h2m5 0h2m-1 0h2m1 0h2m3 0h2m0 0h2M0 70m99 0h2m7 0h2m5 0h2m0 0h2m-1 0h2m0 0h2m1 0h2m-1 0h2m0 0h2m0 0h2m-1 0h2m-1 0h2m7 0h2M0 71m94 0h2m4 0h2m3 0h2m0 0h2m0 0h2m7 0h2m0 0h2m-1 0h2m-1 0h2m-1 0h2m0 0h2m0 0h2m1 0h2m-1 0h2m1 0h2m3 0h2M0 72m82 0h2m0 0h2m10 0h2m3 0h2m-1 0h2m0 0h2m2 0h2m0 0h2m1 0h2m3 0h2m0 0h2m-1 0h2m-1 0h2m-1 0h2m-1 0h2m1 0h2m1 0h2m4 0h2m1 0h2M0 73m73 0h2m7 0h2m-1 0h2m11 0h2m1 0h2m4 0h2m6 0h2m2 0h2m3 0h2m0 0h2m0 0h2m3 0h2m-1 0h2m7 0h2M0 74m84 0h2m15 0h2m1 0h2m0 0h2m0 0h2m-1 0h2m0 0h2m5 0h2m3 0h2m-1 0h2m0 0h2m0 0h2m16 0h2M0 75m83 0h2m17 0h2m3 0h2m1 0h2m-1 0h2m1 0h2m3 0h2m4 0h2m-1 0h2m3 0h2m-1 0h2m-1 0h2m5 0h2m5 0h2M0 76m90 0h2m8 0h2m1 0h2m13 0h2m0 0h2m-1 0h2m1 0h2m-1 0h2m2 0h2m2 0h2M0 77m50 0h2m37 0h2m4 0h2m10 0h2m4 0h2m2 0h2m11 0h2m-1 0h2m-1 0h2m4 0h2M0 78m95 0h2m4 0h2m0 0h2m-1 0h2m0 0h2m3 0h2m3 0h2m0 0h2m-1 0h2m-1 0h2m0 0h2m0 0h2m2 0h2m1 0h2M0 79m76 0h2m9 0h2m8 0h2m1 0h2m0 0h2m8 0h2m0 0h2m-1 0h2m0 0h2m0 0h2m-1 0h2m-1 0h2m-1 0h2m0 0h2m7 0h2m-1 0h2M0 80m103 0h2m3 0h2m0 0h2m2 0h2m1 0h2m5 0h2m0 0h2m-1 0h2m1 0h2m0 0h2m3 0h2M0 81m91 0h2m19 0h2m2 0h2m6 0h2m0 0h2m4 0h2M0 82m98 0h2m-1 0h2m-1 0h2m5 0h2m4 0h2m0 0h2m-1 0h2m-1 0h2m-1 0h2m1 0h2m5 0h2m-1 0h2M0 83m94 0h2m1 0h2m7 0h2m-1 0h2m3 0h2m2 0h2m0 0h2m4 0h2m7 0h2M0 84m94 0h2m0 0h2m9 0h2m-1 0h2m-1 0h2m-1 0h2m-1 0h2m4 0h2m6 0h2m2 0h2M0 85m90 0h2m5 0h2m1 0h2m10 0h2m-1 0h2m2 0h2m8 0h2m5 0h2M0 86m97 0h2m0 0h2m5 0h2m0 0h2m7 0h2m6 0h2M0 87m85 0h2m4 0h2m7 0h2m4 0h2m1 0h2m2 0h2m0 0h2m10 0h2m5 0h2m0 0h2M0 88m109 0h2m2 0h2m2 0h2m5 0h2m0 0h2m4 0h2m-1 0h2m2 0h2M0 89m90 0h2m0 0h2m4 0h2m8 0h2m0 0h2m0 0h2m1 0h2m0 0h2m0 0h2m0 0h2m3 0h2m0 0h2m-1 0h2M0 90m82 0h2m16 0h2m0 0h2m2 0h2m3 0h2m1 0h2m7 0h2m1 0h2m-1 0h2m9 0h2M0 91m96 0h2m0 0h2m-1 0h2m5 0h2m-1 0h2m1 0h2m0 0h2m0 0h2m3 0h2m1 0h2m0 0h2m-1 0h2m0 0h2m-1 0h2m7 0h2M0 92m98 0h2m16 0h2m0 0h2m4 0h2m-1 0h2m6 0h2M0 93m95 0h2m4 0h2m3 0h2m0 0h2m1 0h2m-1 0h2m-1 0h2m-1 0h2m2 0h2m0 0h2m1 0h2m10 0h2M0 94m89 0h2m4 0h2m5 0h2m2 0h2m2 0h2m1 0h2m8 0h2m-1 0h2m1 0h2m1 0h2m-1 0h2m12 0h2M0 95m83 0h2m8 0h2m7 0h2m5 0h2m0 0h2m-1 0h2m1 0h2m9 0h2m4 0h2m-1 0h2M0 96m88 0h2m9 0h2m2 0h2m0 0h2m0 0h2m0 0h2m0 0h2m-1 0h2m-1 0h2m1 0h2m2 0h2m1 0h2m2 0h2m-1 0h2m0 0h2m1 0h2M0 97m100 0h2m6 0h2m0 0h2m-1 0h2m0 0h2m1 0h2m1 0h2m-1 0h2m-1 0h2m-1 0h2m-1 0h2m8 0h2M0 98m101 0h2m-1 0h2m2 0h2m2 0h2m2 0h2m2 0h2m11 0h2m-1 0h2M0 99m94 0h2m3 0h2m3 0h2m0 0h2m8 0h2m0 0h2m-1 0h2m16 0h2m9 0h2M0 100m111 0h2m-1 0h2m-1 0h2m0 0h2m-1 0h2m-1 0h2m-1 0h2m2 0h2m7 0h2M0 101m90 0h2m11 0h2m0 0h2m-1 0h2m8 0h2m-1 0h2m1 0h2m10 0h2m1 0h2M0 102m101 0h2m9 0h2m2 0h2m2 0h2m1 0h2m-1 0h2M0 103m113 0h2m0 0h2m-1 0h2M0 104m105 0h2m13 0h2m6 0h2m4 0h2m6 0h2M0 105m109 0h2m10 0h2m0 0h2m2 0h2m0 0h2m6 0h2M0 106m90 0h2m2 0h2m15 0h2m0 0h2m0 0h2m-1 0h2m-1 0h2m0 0h2m2 0h2m9 0h2M0 107m106 0h2m0 0h2m8 0h2m1 0h2m0 0h2M0 108m95 0h2m4 0h2m3 0h2m5 0h2m2 0h2m0 0h2M0 109m95 0h2m0 0h2m9 0h2m3 0h2m14 0h2M0 110m99 0h2m0 0h2m-1 0h2m20 0h2M0 111m96 0h2m3 0h2m2 0h2m11 0h2m6 0h2M0 112m101 0h2m4 0h2m6 0h2m-1 0h2m17 0h2M0 113m93 0h2m13 0h2m12 0h2M0 114m111 0h2M0 115m102 0h2m10 0h2m1 0h2M0 116m111 0h2m9 0h2M0 117m129 0h2M0 118m118 0h2m0 0h2m1 0h2M0 119m104 0h2m6 0h2M0 120m112 0h2m8 0h2M0 121m110 0h2m1 0h2m2 0h2m1 0h2m-1 0h2M0 122m98 0h2m19 0h2m-1 0h2M0 123m102 0h2m0 0h2m-1 0h2M0 124m114 0h2M0 125m109 0h2m2 0h2M0 128m100 0h2m9 0h2m10 0h2M0 131m101 0h2M0 132m141 0h2M0 134m113 0h2m9 0h2m3 0h2m0 0h2M0 138m94 0h2m11 0h2M0 140m110 0h2M0 148m122 0h2"/>
<path d="M0 14m110 0h2M0 15m109 0h2m12 0h2m15 0h2M0 17m98 0h2M0 18m94 0h2m5 0h2m15 0h2m21 0h2m5 0h2M0 19m118 0h2m-1 0h2M0 20m134 0h2m-1 0h2m0 0h2M0 21m105 0h2M0 22m96 0h2m24 0h2M0 23m96 0h2m21 0h2M0 25m64 0h2m17 0h2m2 0h2m6 0h2m11 0h2m8 0h2m7 0h2m3 0h2M0 27m96 0h2m8 0h2m15 0h2M0 28m83 0h2m28 0h2m2 0h2m4 0h2m10 0h2m0 0h2m9 0h2M0 29m96 0h2m10 0h2m8 0h2m1 0h2m10 0h2m12 0h2M0 30m77 0h2m16 0h2m2 0h2m2 0h2m-1 0h2m2 0h2m4 0h2m13 0h2m5 0h2m1 0h2m3 0h2M0 31m91 0h2m1 0h2m19 0h2m7 0h2m5 0h2m-1 0h2m6 0h2m0 0h2M0 32m87 0h2m5 0h2m-1 0h2m1 0h2m6 0h2m4 0h2m5 0h2m8 0h2m3 0h2m0 0h2m0 0h2m1 0h2M0 33m77 0h2m5 0h2m14 0h2m4 0h2m-1 0h2m4 0h2m-1 0h2m0 0h2m-1 0h2m1 0h2m0 0h2m0 0h2m0 0h2m0 0h2m2 0h2m-1 0h2m2 0h2m0 0h2M0 34m77 0h2m9 0h2m4 0h2m-1 0h2m3 0h2m0 0h2m0 0h2m-1 0h2m-1 0h2m2 0h2m5 0h2m1 0h2m-1 0h2m4 0h2m1 0h2m-1 0h2m-1 0h2M0 35m90 0h2m7 0h2m0 0h2m-1 0h2m1 0h2m2 0h2m2 0h2m2 0h2m-1 0h2m-1 0h2m3 0h2m1 0h2m0 0h2m-1 0h2m-1 0h2m-1 0h2m1 0h2m-1 0h2M0 36m78 0h2m6 0h2m2 0h2m11 0h2m2 0h2m-1 0h2m6 0h2m-1 0h2m-1 0h2m4 0h2m1 0h2m-1 0h2m1 0h2m-1 0h2m2 0h2m-1 0h2m8 0h2M0 37m63 0h2m16 0h2m3 0h2m3 0h2m1 0h2m0 0h2m6 0h2m1 0h2m0 0h2m0 0h2m-1 0h2m0 0h2m-1 0h2m2 0h2m-1 0h2m0 0h2m-1 0h2m3 0h2m0 0h2m-1 0h2m-1 0h2m3 0h2m4 0h2M0 38m90 0h2m7 0h2m3 0h2m1 0h2m0 0h2m-1 0h2m6 0h2m-1 0h2m1 0h2m-1 0h2m-1 0h2m-1 0h2m-1 0h2m0 0h2m0 0h2m-1 0h2m0 0h2m-1 0h2m1 0h2m3 0h2m1 0h2m1 0h2M0 39m56 0h2m30 0h2m4 0h2m0 0h2m5 0h2m-1 0h2m1 0h2m-1 0h2m1 0h2m3 0h2m4 0h2m-1 0h2m1 0h2m-1 0h2m1 0h2m-1 0h2m-1 0h2m2 0h2m1 0h2m-1 0h2m3 0h2M0 40m86 0h2m3 0h2m5 0h2m-1 0h2m0 0h2m-1 0h2m0 0h2m2 0h2m-1 0h2m1 0h2m2 0h2m-1 0h2m-1 0h2m0 0h2m-1 0h2m4 0h2m-1 0h2m-1 0h2m0 0h2m7 0h2m3 0h2m-1 0h2M0 41m65 0h2m13 0h2m4 0h2m-1 0h2m2 0h2m7 0h2m1 0h2m-1 0h2m-1 0h2m1 0h2m-1 0h2m-1 0h2m-1 0h2m1 0h2m1 0h2m-1 0h2m2 0h2m3 0h2m-1 0h2m-1 0h2m-1 0h2m-1 0h2m-1 0h2m-1 0h2m3 0h2M0 42m56 0h2m12 0h2m15 0h2m3 0h2m2 0h2m-1 0h2m1 0h2m0 0h2m-1 0h2m5 0h2m0 0h2m-1 0h2m-1 0h2m0 0h2m2 0h2m0 0h2m-1 0h2m-1 0h2m-1 0h2m-1 0h2m-1 0h2m1 0h2m-1 0h2m-1 0h2m-1 0h2m2 0h2m-1 0h2m3 0h2m-1 0h2M0 43m57 0h2m10 0h2m4 0h2m-1 0h2m6 0h2m5 0h2m-1 0h2m-1 0h2m-1 0h2m4 0h2m-1 0h2m0 0h2m3 0h2m7 0h2m-1 0h2m0 0h2m-1 0h2m-1 0h2m-1 0h2m-1 0h2m-1 0h2m0 0h2m-1 0h2m-1 0h2m1 0h2m-1 0h2m2 0h2m-1 0h2m0 0h2m-1 0h2M0 44m77 0h2m3 0h2m5 0h2m6 0h2m2 0h2m1 0h2m4 0h2m-1 0h2m3 0h2m1 0h2m-1 0h2m0 0h2m0 0h2m0 0h2m-1 0h2m0 0h2m-1 0h2m-1 0h2m0 0h2m-1 0h2m3 0h2m3 0h2m-1 0h2M0 45m69 0h2m17 0h2m-1 0h2m4 0h2m-1 0h2m0 0h2m3 0h2m2 0h2m-1 0h2m0 0h2m0 0h2m0 0h2m1 0h2m-1 0h2m0 0h2m-1 0h2m-1 0h2m-1 0h2m0 0h2m0 0h2m1 0h2m-1 0h2m-1 0h2m-1 0h2m-1 0h2m2 0h2m-1 0h2m2 0h2m-1 0h2m0 0h2M0 46m58 0h2m19 0h2m3 0h2m-1 0h2m5 0h2m2 0h2m1 0h2m-1 0h2m1 0h2m-1 0h2m0 0h2m-1 0h2m-1 0h2m0 0h2m-1 0h2m0 0h2m0 0h2m-1 0h2m0 0h2m-1 0h2m-1 0h2m0 0h2m-1 0h2m-1 0h2m0 0h2m0 0h2m3 0h2m0 0h2m-1 0h2m-1 0h2m1 0h2M0 47m80 0h2m5 0h2m-1 0h2m3 0h2m-1 0h2m-1 0h2m1 0h2m7 0h2m2 0h2m2 0h2m0 0h2m-1 0h2m0 0h2m-1 0h2m-1 0h2m-1 0h2m-1 0h2m-1 0h2m0 0h2m0 0h2m-1 0h2m-1 0h2m0 0h2m-1 0h2m0 0h2m2 0h2m8 0h2M0 48m69 0h2m3 0h2m-1 0h2m1 0h2m6 0h2m-1 0h2m2 0h2m-1 0h2m0 0h2m0 0h2m0 0h2m2 0h2m-1 0h2m-1 0h2m-1 0h2m-1 0h2m0 0h2m3 0h2m-1 0h2m0 0h2m-1 0h2m0 0h2m-1 0h2m-1 0h2m-1 0h2m-1 0h2m-1 0h2m1 0h2m0 0h2m2 0h2m-1 0h2m-1 0h2m2 0h2m-1 0h2M0 49m71 0h2m9 0h2m3 0h2m3 0h2m-1 0h2m3 0h2m-1 0h2m0 0h2m6 0h2m0 0h2m-1 0h2m-1 0h2m-1 0h2m1 0h2m-1 0h2m0 0h2m-1 0h2m2 0h2m-1 0h2m-1 0h2m-1 0h2m0 0h2m-1 0h2m-1 0h2m-1 0h2m1 0h2m1 0h2m4 0h2M0 50m59 0h2m11 0h2m15 0h2m1 0h2m2 0h2m-1 0h2m-1 0h2m0 0h2m-1 0h2m-1 0h2m-1 0h2m-1 0h2m-1 0h2m-1 0h2m-1 0h2m4 0h2m-1 0h2m-1 0h2m-1 0h2m-1 0h2m-1 0h2m-1 0h2m1 0h2m-1 0h2m-1 0h2m-1 0h2m-1 0h2m0 0h2m-1 0h2m1 0h2m-1 0h2m-1 0h2m-1 0h2m-1 0h2m-1 0h2m2 0h2m1 0h2M0 51m48 0h2m6 0h2m16 0h2m17 0h2m1 0h2m0 0h2m0 0h2m1 0h2m1 0h2m0 0h2m-1 0h2m1 0h2m1 0h2m-1 0h2m0 0h2m-1 0h2m-1 0h2m-1 0h2m-1 0h2m-1 0h2m-1 0h2m-1 0h2m0 0h2m-1 0h2m-1 0h2m0 0h2m2 0h2m-1 0h2m-1 0h2m-1 0h2m-1 0h2M0 52m94 0h2m-1 0h2m2 0h2m0 0h2m-1 0h2m-1 0h2m0 0h2m-1 0h2m-1 0h2m3 0h2m-1 0h2m-1 0h2m1 0h2m0 0h2m-1 0h2m1 0h2m0 0h2m0 0h2m2 0h2m0 0h2m0 0h2m-1 0h2m-1 0h2m-1 0h2m0 0h2m0 0h2m0 0h2M0 53m68 0h2m8 0h2m0 0h2m0 0h2m0 0h2m3 0h2m4 0h2m1 0h2m-1 0h2m1 0h2m1 0h2m1 0h2m0 0h2m1 0h2m-1 0h2m-1 0h2m-1 0h2m-1 0h2m-1 0h2m-1 0h2m-1 0h2m3 0h2m-1 0h2m-1 0h2m-1 0h2m-1 0h2m-1 0h2m1 0h2m2 0h2m3 0h2m0 0h2M0 54m61 0h2m4 0h2m6 0h2m-1 0h2m4 0h2m1 0h2m3 0h2m-1 0h2m0 0h2m2 0h2m0 0h2m2 0h2m-1 0h2m1 0h2m4 0h2m0 0h2m-1 0h2m-1 0h2m-1 0h2m-1 0h2m-1 0h2m-1 0h2m-1 0h2m0 0h2m-1 0h2m-1 0h2m-1 0h2m-1 0h2m0 0h2m0 0h2m0 0h2m0 0h2m2 0h2M0 55m83 0h2m0 0h2m1 0h2m0 0h2m2 0h2m0 0h2m2 0h2m2 0h2m-1 0h2m2 0h2m0 0h2m0 0h2m2 0h2m-1 0h2m0 0h2m0 0h2m0 0h2m2 0h2m2 0h2m0 0h2m-1 0h2m0 0h2m-1 0h2m0 0h2m-1 0h2m3 0h2M0 56m68 0h2m4 0h2m-1 0h2m4 0h2m0 0h2m-1 0h2m0 0h2m2 0h2m4 0h2m2 0h2m1 0h2m0 0h2m-1 0h2m1 0h2m0 0h2m1 0h2m-1 0h2m0 0h2m-1 0h2m0 0h2m0 0h2m0 0h2m0 0h2m-1 0h2m-1 0h2m0 0h2m-1 0h2m-1 0h2m-1 0h2m-1 0h2m-1 0h2m0 0h2m-1 0h2m1 0h2M0 57m83 0h2m5 0h2m-1 0h2m-1 0h2m2 0h2m-1 0h2m1 0h2m-1 0h2m5 0h2m1 0h2m-1 0h2m3 0h2m1 0h2m-1 0h2m0 0h2m-1 0h2m0 0h2m-1 0h2m-1 0h2m-1 0h2m0 0h2m-1 0h2m-1 0h2m0 0h2m0 0h2m-1 0h2m-1 0h2M0 58m84 0h2m1 0h2m2 0h2m8 0h2m-1 0h2m-1 0h2m2 0h2m1 0h2m0 0h2m1 0h2m-1 0h2m-1 0h2m-1 0h2m-1 0h2m-1 0h2m-1 0h2m3 0h2m-1 0h2m-1 0h2m-1 0h2m-1 0h2m1 0h2m0 0h2m1 0h2m-1 0h2M0 59m54 0h2m19 0h2m12 0h2m5 0h2m-1 0h2m0 0h2m-1 0h2m0 0h2m0 0h2m-1 0h2m-1 0h2m7 0h2m1 0h2m-1 0h2m-1 0h2m-1 0h2m-1 0h2m-1 0h2m0 0h2m-1 0h2m0 0h2m-1 0h2m-1 0h2m2 0h2m0 0h2m-1 0h2m1 0h2m9 0h2M0 60m81 0h2m4 0h2m-1 0h2m-1 0h2m2 0h2m-1 0h2m0 0h2m0 0h2m-1 0h2m-1 0h2m3 0h2m3 0h2m-1 0h2m0 0h2m0 0h2m1 0h2m-1 0h2m1 0h2m-1 0h2m1 0h2m-1 0h2m-1 0h2m0 0h2m0 0h2m0 0h2m-1 0h2m-1 0h2m0 0h2M0 61m87 0h2m-1 0h2m4 0h2m0 0h2m8 0h2m3 0h2m0 0h2m0 0h2m-1 0h2m-1 0h2m-1 0h2m-1 0h2m-1 0h2m4 0h2m1 0h2m-1 0h2m7 0h2m-1 0h2m1 0h2m-1 0h2M0 62m84 0h2m5 0h2m-1 0h2m1 0h2m4 0h2m-1 0h2m-1 0h2m7 0h2m-1 0h2m-1 0h2m0 0h2m-1 0h2m0 0h2m-1 0h2m1 0h2m2 0h2m2 0h2m0 0h2m-1 0h2m3 0h2m-1 0h2m6 0h2M0 63m80 0h2m-1 0h2m0 0h2m0 0h2m5 0h2m2 0h2m9 0h2m2 0h2m11 0h2m-1 0h2m0 0h2m0 0h2m-1 0h2m0 0h2m1 0h2m0 0h2m3 0h2m3 0h2M0 64m75 0h2m1 0h2m15 0h2m1 0h2m0 0h2m-1 0h2m-1 0h2m-1 0h2m-1 0h2m1 0h2m1 0h2m-1 0h2m-1 0h2m1 0h2m2 0h2m0 0h2m-1 0h2m-1 0h2m1 0h2m0 0h2m1 0h2m-1 0h2m9 0h2m3 0h2M0 65m87 0h2m2 0h2m5 0h2m3 0h2m0 0h2m0 0h2m-1 0h2m-1 0h2m0 0h2m-1 0h2m-1 0h2m0 0h2m-1 0h2m-1 0h2m17 0h2M0 66m59 0h2m5 0h2m2 0h2m0 0h2m11 0h2m0 0h2m1 0h2m2 0h2m9 0h2m1 0h2m-1 0h2m2 0h2m0 0h2m0 0h2m-1 0h2m-1 0h2m0 0h2m-1 0h2m0 0h2m3 0h2m2 0h2m-1 0h2m4 0h2m-1 0h2M0 67m86 0h2m2 0h2m-1 0h2m2 0h2m3 0h2m0 0h2m-1 0h2m1 0h2m3 0h2m0 0h2m-1 0h2m2 0h2m2 0h2m0 0h2m0 0h2m-1 0h2m-1 0h2m-1 0h2m1 0h2m-1 0h2m1 0h2m-1 0h2m2 0h2m2 0h2M0 68m75 0h2m2 0h2m-1 0h2m8 0h2m-1 0h2m1 0h2m-1 0h2m1 0h2m3 0h2m1 0h2m1 0h2m4 0h2m1 0h2m4 0h2m1 0h2m-1 0h2m0 0h2m-1 0h2m-1 0h2m3 0h2m3 0h2M0 69m64 0h2m9 0h2m19 0h2m0 0h2m1 0h2m1 0h2m1 0h2m-1 0h2m0 0h2m3 0h2m0 0h2m-1 0h2m-1 0h2m5 0h2m-1 0h2m-1 0h2m-1 0h2m-1 0h2m1 0h2m1 0h2m3 0h2m3 0h2M0 70m92 0h2m10 0h2m2 0h2m-1 0h2m-1 0h2m-1 0h2m0 0h2m0 0h2m0 0h2m0 0h2m1 0h2m-1 0h2m3 0h2m-1 0h2m-1 0h2m2 0h2m-1 0h2m3 0h2m7 0h2M0 71m69 0h2m22 0h2m3 0h2m-1 0h2m-1 0h2m8 0h2m3 0h2m4 0h2m0 0h2m1 0h2m1 0h2m12 0h2M0 72m100 0h2m0 0h2m-1 0h2m4 0h2m-1 0h2m-1 0h2m-1 0h2m0 0h2m0 0h2m-1 0h2m-1 0h2m-1 0h2m2 0h2m-1 0h2m3 0h2m3 0h2m1 0h2M0 73m81 0h2m13 0h2m0 0h2m1 0h2m1 0h2m0 0h2m5 0h2m11 0h2m5 0h2M0 74m103 0h2m-1 0h2m-1 0h2m0 0h2m-1 0h2m2 0h2m4 0h2m0 0h2m-1 0h2m1 0h2m3 0h2m0 0h2m2 0h2M0 75m92 0h2m3 0h2m1 0h2m6 0h2m-1 0h2m1 0h2m3 0h2m-1 0h2m7 0h2m8 0h2M0 76m85 0h2m12 0h2m5 0h2m-1 0h2m-1 0h2m3 0h2m-1 0h2m6 0h2m2 0h2M0 77m88 0h2m13 0h2m2 0h2m0 0h2m0 0h2m-1 0h2m1 0h2m0 0h2m2 0h2m-1 0h2m1 0h2m2 0h2m1 0h2m6 0h2M0 78m96 0h2m1 0h2m5 0h2m-1 0h2m0 0h2m-1 0h2m-1 0h2m4 0h2m-1 0h2m0 0h2m3 0h2m-1 0h2m8 0h2M0 79m87 0h2m14 0h2m-1 0h2m-1 0h2m1 0h2m-1 0h2m0 0h2m-1 0h2m2 0h2m4 0h2m0 0h2m2 0h2m3 0h2m-1 0h2M0 80m79 0h2m13 0h2m12 0h2m-1 0h2m1 0h2m0 0h2m1 0h2m0 0h2m0 0h2m6 0h2M0 81m94 0h2m2 0h2m3 0h2m1 0h2m0 0h2m0 0h2m0 0h2m0 0h2m6 0h2m-1 0h2m-1 0h2m1 0h2m2 0h2m-1 0h2m15 0h2M0 82m83 0h2m9 0h2m8 0h2m4 0h2m4 0h2m8 0h2m0 0h2m1 0h2m2 0h2M0 83m90 0h2m8 0h2m6 0h2m4 0h2m0 0h2m-1 0h2m0 0h2m-1 0h2m0 0h2m-1 0h2m-1 0h2m-1 0h2m3 0h2M0 84m94 0h2m2 0h2m0 0h2m1 0h2m2 0h2m1 0h2m8 0h2m2 0h2m-1 0h2m1 0h2m3 0h2m-1 0h2m-1 0h2m2 0h2m0 0h2M0 85m84 0h2m0 0h2m-1 0h2m11 0h2m-1 0h2m3 0h2m4 0h2m0 0h2m3 0h2m2 0h2m-1 0h2m0 0h2m4 0h2m7 0h2m4 0h2M0 86m89 0h2m13 0h2m0 0h2m0 0h2m0 0h2m3 0h2m1 0h2m3 0h2m3 0h2m1 0h2m1 0h2m-1 0h2m0 0h2M0 87m88 0h2m9 0h2m1 0h2m3 0h2m2 0h2m3 0h2m2 0h2m4 0h2m-1 0h2m-1 0h2m1 0h2m9 0h2M0 88m91 0h2m4 0h2m5 0h2m-1 0h2m1 0h2m7 0h2m4 0h2m0 0h2m8 0h2m5 0h2M0 89m90 0h2m8 0h2m6 0h2m0 0h2m1 0h2m2 0h2m1 0h2M0 90m104 0h2m14 0h2m1 0h2m1 0h2m0 0h2M0 91m95 0h2m10 0h2m10 0h2M0 92m94 0h2m6 0h2m13 0h2m1 0h2m3 0h2m2 0h2m1 0h2M0 93m101 0h2m-1 0h2m-1 0h2m-1 0h2m0 0h2m1 0h2m0 0h2m2 0h2m2 0h2m-1 0h2m0 0h2M0 94m101 0h2m-1 0h2m0 0h2m0 0h2m2 0h2m-1 0h2m-1 0h2m5 0h2m2 0h2m0 0h2m0 0h2M0 95m96 0h2m0 0h2m2 0h2m0 0h2m6 0h2m0 0h2m3 0h2m9 0h2m1 0h2M0 96m92 0h2m14 0h2m-1 0h2m9 0h2m1 0h2m0 0h2m-1 0h2m0 0h2m1 0h2M0 97m88 0h2m3 0h2m3 0h2m7 0h2m1 0h2m2 0h2m-1 0h2m-1 0h2m2 0h2m0 0h2m0 0h2m10 0h2M0 98m96 0h2m4 0h2m4 0h2m5 0h2m0 0h2m-1 0h2m1 0h2m3 0h2M0 99m88 0h2m3 0h2m-1 0h2m8 0h2m5 0h2m0 0h2m3 0h2m3 0h2m14 0h2M0 100m94 0h2m2 0h2m0 0h2m7 0h2m4 0h2m5 0h2m3 0h2m-1 0h2m3 0h2M0 101m93 0h2m9 0h2m-1 0h2m-1 0h2m-1 0h2m1 0h2m-1 0h2m4 0h2m5 0h2m3 0h2m0 0h2M0 102m100 0h2m-1 0h2m1 0h2m1 0h2m9 0h2m2 0h2m3 0h2M0 103m94 0h2m0 0h2m2 0h2m4 0h2m0 0h2m0 0h2m-1 0h2m6 0h2m3 0h2m-1 0h2m17 0h2M0 104m108 0h2m12 0h2m-1 0h2m5 0h2M0 105m101 0h2m3 0h2m0 0h2m5 0h2m6 0h2m-1 0h2m8 0h2M0 106m100 0h2m1 0h2m5 0h2m3 0h2m16 0h2m0 0h2m0 0h2m-1 0h2M0 107m99 0h2m0 0h2m-1 0h2m18 0h2M0 108m110 0h2m2 0h2m1 0h2m5 0h2M0 109m102 0h2m20 0h2M0 110m92 0h2m25 0h2m1 0h2m14 0h2M0 111m89 0h2m34 0h2m15 0h2M0 112m102 0h2m2 0h2m7 0h2m-1 0h2M0 113m112 0h2m12 0h2M0 114m84 0h2m10 0h2m0 0h2m12 0h2m12 0h2M0 115m94 0h2m9 0h2m14 0h2m7 0h2m4 0h2M0 116m98 0h2M0 117m109 0h2m15 0h2M0 118m112 0h2m7 0h2M0 119m112 0h2m3 0h2m8 0h2M0 120m105 0h2m8 0h2M0 121m90 0h2m20 0h2m10 0h2M0 122m112 0h2M0 123m117 0h2m0 0h2M0 124m103 0h2m3 0h2m3 0h2m13 0h2M0 125m84 0h2m33 0h2M0 127m91 0h2m8 0h2m15 0h2m4 0h2M0 128m102 0h2m27 0h2M0 129m134 0h2M0 130m91 0h2M0 131m107 0h2M0 132m125 0h2M0 134m110 0h2m10 0h2M0 136m115 0h2M0 137m105 0h2M0 141m111 0h2M0 151m134 0h2"/>
<path d="M0 12m138 0h2M0 13m120 0h2M0 16m143 0h2M0 18m113 0h2M0 20m92 0h2m30 0h2m2 0h2m0 0h2m9 0h2M0 21m103 0h2m21 0h2M0 22m105 0h2m6 0h2m7 0h2m3 0h2m10 0h2M0 23m101 0h2m4 0h2m15 0h2M0 24m109 0h2M0 25m99 0h2m-1 0h2m2 0h2m20 0h2M0 26m75 0h2m33 0h2m6 0h2m10 0h2M0 27m65 0h2m24 0h2m11 0h2m12 0h2M0 28m93 0h2m5 0h2m1 0h2m4 0h2m1 0h2m-1 0h2m11 0h2m3 0h2m1 0h2M0 29m81 0h2m6 0h2m-1 0h2m-1 0h2m13 0h2m-1 0h2m-1 0h2m-1 0h2m2 0h2m7 0h2m2 0h2m0 0h2m0 0h2m-1 0h2m2 0h2M0 30m108 0h2m2 0h2m-1 0h2m0 0h2m2 0h2m-1 0h2m-1 0h2m-1 0h2m-1 0h2m-1 0h2m-1 0h2m-1 0h2m-1 0h2m0 0h2m1 0h2m1 0h2m5 0h2M0 31m93 0h2m7 0h2m7 0h2m-1 0h2m0 0h2m0 0h2m1 0h2m8 0h2m1 0h2m-1 0h2m0 0h2M0 32m76 0h2m14 0h2m6 0h2m23 0h2m0 0h2m-1 0h2m4 0h2m-1 0h2m6 0h2m-1 0h2M0 33m87 0h2m5 0h2m18 0h2m-1 0h2m-1 0h2m0 0h2m1 0h2m6 0h2m1 0h2m3 0h2M0 34m74 0h2m4 0h2m-1 0h2m-1 0h2m15 0h2m6 0h2m4 0h2m-1 0h2m2 0h2m-1 0h2m2 0h2m2 0h2m-1 0h2m3 0h2m-1 0h2m2 0h2m-1 0h2M0 35m82 0h2m5 0h2m6 0h2m1 0h2m1 0h2m-1 0h2m3 0h2m-1 0h2m1 0h2m4 0h2m0 0h2m0 0h2m-1 0h2m-1 0h2m3 0h2m-1 0h2m0 0h2M0 36m91 0h2m9 0h2m2 0h2m0 0h2m-1 0h2m1 0h2m0 0h2m-1 0h2m-1 0h2m0 0h2m-1 0h2m0 0h2m2 0h2m-1 0h2m3 0h2m-1 0h2m-1 0h2m6 0h2M0 37m64 0h2m10 0h2m9 0h2m-1 0h2m1 0h2m-1 0h2m1 0h2m2 0h2m4 0h2m4 0h2m1 0h2m3 0h2m1 0h2m0 0h2m1 0h2m-1 0h2m1 0h2m0 0h2M0 38m63 0h2m8 0h2m4 0h2m-1 0h2m3 0h2m2 0h2m6 0h2m1 0h2m4 0h2m0 0h2m-1 0h2m3 0h2m4 0h2m-1 0h2m1 0h2m-1 0h2m-1 0h2m0 0h2m5 0h2m-1 0h2m0 0h2M0 39m69 0h2m15 0h2m-1 0h2m1 0h2m0 0h2m2 0h2m-1 0h2m2 0h2m1 0h2m6 0h2m-1 0h2m-1 0h2m1 0h2m2 0h2m-1 0h2m-1 0h2m-1 0h2m-1 0h2m1 0h2m-1 0h2m-1 0h2m0 0h2m-1 0h2m1 0h2m3 0h2m-1 0h2M0 40m64 0h2m13 0h2m4 0h2m-1 0h2m2 0h2m0 0h2m5 0h2m-1 0h2m-1 0h2m0 0h2m0 0h2m0 0h2m-1 0h2m-1 0h2m-1 0h2m-1 0h2m1 0h2m2 0h2m0 0h2m1 0h2m1 0h2m-1 0h2m-1 0h2m3 0h2m-1 0h2m1 0h2m1 0h2m0 0h2M0 41m88 0h2m1 0h2m2 0h2m3 0h2m-1 0h2m1 0h2m1 0h2m-1 0h2m2 0h2m0 0h2m-1 0h2m-1 0h2m0 0h2m1 0h2m-1 0h2m0 0h2m-1 0h2m-1 0h2m0 0h2m-1 0h2m-1 0h2m-1 0h2m-1 0h2m1 0h2m-1 0h2m3 0h2M0 42m68 0h2m1 0h2m7 0h2m0 0h2m0 0h2m5 0h2m2 0h2m4 0h2m2 0h2m4 0h2m6 0h2m1 0h2m1 0h2m0 0h2m-1 0h2m1 0h2m-1 0h2m7 0h2m-1 0h2m1 0h2M0 43m72 0h2m11 0h2m0 0h2m6 0h2m-1 0h2m-1 0h2m3 0h2m-1 0h2m1 0h2m0 0h2m0 0h2m-1 0h2m-1 0h2m0 0h2m2 0h2m-1 0h2m1 0h2m-1 0h2m-1 0h2m-1 0h2m-1 0h2m0 0h2m-1 0h2m-1 0h2m1 0h2m0 0h2m0 0h2m-1 0h2m-1 0h2m-1 0h2m1 0h2M0 44m82 0h2m1 0h2m9 0h2m-1 0h2m5 0h2m0 0h2m8 0h2m-1 0h2m2 0h2m-1 0h2m-1 0h2m2 0h2m-1 0h2m-1 0h2m-1 0h2m0 0h2m-1 0h2m3 0h2M0 45m81 0h2m4 0h2m0 0h2m-1 0h2m1 0h2m-1 0h2m-1 0h2m5 0h2m0 0h2m3 0h2m1 0h2m1 0h2m3 0h2m-1 0h2m-1 0h2m0 0h2m-1 0h2m0 0h2m1 0h2m0 0h2m-1 0h2m-1 0h2m-1 0h2m-1 0h2m-1 0h2m-1 0h2m3 0h2M0 46m84 0h2m-1 0h2m-1 0h2m0 0h2m1 0h2m3 0h2m-1 0h2m0 0h2m1 0h2m2 0h2m-1 0h2m0 0h2m-1 0h2m-1 0h2m-1 0h2m0 0h2m1 0h2m0 0h2m1 0h2m0 0h2m-1 0h2m-1 0h2m2 0h2m-1 0h2m-1 0h2m-1 0h2m-1 0h2m7 0h2M0 47m65 0h2m11 0h2m-1 0h2m2 0h2m1 0h2m1 0h2m0 0h2m2 0h2m6 0h2m0 0h2m0 0h2m3 0h2m-1 0h2m-1 0h2m-1 0h2m1 0h2m2 0h2m-1 0h2m-1 0h2m-1 0h2m-1 0h2m1 0h2m-1 0h2m-1 0h2m0 0h2m3 0h2m0 0h2m-1 0h2m1 0h2m-1 0h2m3 0h2M0 48m78 0h2m7 0h2m2 0h2m3 0h2m2 0h2m-1 0h2m0 0h2m2 0h2m-1 0h2m-1 0h2m-1 0h2m-1 0h2m-1 0h2m-1 0h2m-1 0h2m1 0h2m-1 0h2m-1 0h2m-1 0h2m0 0h2m-1 0h2m0 0h2m2 0h2m-1 0h2m-1 0h2m-1 0h2m2 0h2m-1 0h2m1 0h2m2 0h2M0 49m69 0h2m6 0h2m-1 0h2m-1 0h2m0 0h2m3 0h2m8 0h2m-1 0h2m1 0h2m2 0h2m-1 0h2m2 0h2m-1 0h2m0 0h2m1 0h2m-1 0h2m-1 0h2m-1 0h2m0 0h2m0 0h2m-1 0h2m-1 0h2m-1 0h2m-1 0h2m-1 0h2m-1 0h2m0 0h2m0 0h2m-1 0h2m-1 0h2m-1 0h2m-1 0h2m-1 0h2m4 0h2m0 0h2m-1 0h2M0 50m63 0h2m6 0h2m12 0h2m3 0h2m-1 0h2m-1 0h2m-1 0h2m-1 0h2m-1 0h2m0 0h2m8 0h2m0 0h2m1 0h2m-1 0h2m0 0h2m-1 0h2m0 0h2m-1 0h2m0 0h2m0 0h2m-1 0h2m-1 0h2m0 0h2m-1 0h2m0 0h2m-1 0h2m-1 0h2m-1 0h2m-1 0h2m-1 0h2m0 0h2m1 0h2m3 0h2M0 51m74 0h2m-1 0h2m10 0h2m-1 0h2m1 0h2m-1 0h2m0 0h2m5 0h2m3 0h2m2 0h2m-1 0h2m-1 0h2m1 0h2m-1 0h2m-1 0h2m1 0h2m-1 0h2m0 0h2m-1 0h2m-1 0h2m-1 0h2m-1 0h2m-1 0h2m0 0h2m0 0h2m0 0h2m-1 0h2m-1 0h2m6 0h2M0 52m58 0h2m8 0h2m0 0h2m-1 0h2m7 0h2m4 0h2m6 0h2m-1 0h2m0 0h2m6 0h2m1 0h2m0 0h2m-1 0h2m-1 0h2m0 0h2m1 0h2m-1 0h2m-1 0h2m-1 0h2m-1 0h2m0 0h2m-1 0h2m0 0h2m1 0h2m0 0h2m0 0h2m1 0h2m-1 0h2m2 0h2M0 53m81 0h2m0 0h2m1 0h2m0 0h2m0 0h2m6 0h2m3 0h2m-1 0h2m0 0h2m0 0h2m6 0h2m-1 0h2m0 0h2m-1 0h2m-1 0h2m-1 0h2m3 0h2m-1 0h2m-1 0h2m-1 0h2m-1 0h2m-1 0h2m1 0h2m-1 0h2m-1 0h2m1 0h2M0 54m69 0h2m1 0h2m13 0h2m2 0h2m3 0h2m2 0h2m0 0h2m0 0h2m2 0h2m0 0h2m-1 0h2m-1 0h2m0 0h2m-1 0h2m0 0h2m0 0h2m-1 0h2m1 0h2m2 0h2m-1 0h2m-1 0h2m-1 0h2m-1 0h2m-1 0h2m-1 0h2m-1 0h2m-1 0h2m1 0h2m0 0h2m1 0h2m-1 0h2m-1 0h2M0 55m73 0h2m6 0h2m5 0h2m-1 0h2m5 0h2m2 0h2m0 0h2m3 0h2m7 0h2m0 0h2m0 0h2m-1 0h2m-1 0h2m3 0h2m-1 0h2m-1 0h2m-1 0h2m-1 0h2m-1 0h2m0 0h2m0 0h2m5 0h2m3 0h2M0 56m63 0h2m7 0h2m10 0h2m-1 0h2m4 0h2m0 0h2m4 0h2m12 0h2m0 0h2m-1 0h2m-1 0h2m0 0h2m2 0h2m-1 0h2m0 0h2m-1 0h2m-1 0h2m-1 0h2m-1 0h2m-1 0h2m-1 0h2m-1 0h2m0 0h2m-1 0h2m-1 0h2m0 0h2m-1 0h2m1 0h2M0 57m65 0h2m3 0h2m17 0h2m-1 0h2m2 0h2m-1 0h2m-1 0h2m10 0h2m0 0h2m2 0h2m1 0h2m-1 0h2m0 0h2m-1 0h2m0 0h2m2 0h2m0 0h2m0 0h2m4 0h2m1 0h2m3 0h2M0 58m57 0h2m2 0h2m13 0h2m4 0h2m3 0h2m0 0h2m4 0h2m-1 0h2m2 0h2m2 0h2m1 0h2m-1 0h2m6 0h2m-1 0h2m-1 0h2m3 0h2m3 0h2m0 0h2m-1 0h2m-1 0h2m0 0h2m-1 0h2m0 0h2m0 0h2m2 0h2m-1 0h2M0 59m74 0h2m2 0h2m10 0h2m1 0h2m3 0h2m-1 0h2m-1 0h2m-1 0h2m2 0h2m0 0h2m1 0h2m-1 0h2m-1 0h2m0 0h2m-1 0h2m1 0h2m-1 0h2m-1 0h2m-1 0h2m3 0h2m0 0h2m-1 0h2m1 0h2m-1 0h2m2 0h2M0 60m75 0h2m7 0h2m-1 0h2m3 0h2m3 0h2m1 0h2m1 0h2m0 0h2m-1 0h2m-1 0h2m-1 0h2m-1 0h2m0 0h2m-1 0h2m1 0h2m-1 0h2m-1 0h2m-1 0h2m1 0h2m0 0h2m-1 0h2m-1 0h2m-1 0h2m-1 0h2m-1 0h2m1 0h2m-1 0h2m0 0h2m2 0h2m1 0h2m-1 0h2m2 0h2M0 61m84 0h2m5 0h2m2 0h2m3 0h2m0 0h2m1 0h2m-1 0h2m4 0h2m3 0h2m-1 0h2m-1 0h2m1 0h2m3 0h2m-1 0h2m2 0h2m-1 0h2m1 0h2m-1 0h2m3 0h2m3 0h2M0 62m62 0h2m3 0h2m6 0h2m1 0h2m0 0h2m17 0h2m4 0h2m-1 0h2m1 0h2m1 0h2m2 0h2m-1 0h2m2 0h2m-1 0h2m-1 0h2m1 0h2m-1 0h2m0 0h2m-1 0h2m0 0h2m-1 0h2m0 0h2m0 0h2m0 0h2M0 63m72 0h2m5 0h2m2 0h2m7 0h2m2 0h2m-1 0h2m6 0h2m1 0h2m0 0h2m0 0h2m-1 0h2m-1 0h2m-1 0h2m0 0h2m0 0h2m1 0h2m-1 0h2m-1 0h2m3 0h2m0 0h2m1 0h2m-1 0h2m-1 0h2m2 0h2m-1 0h2m4 0h2M0 64m70 0h2m4 0h2m6 0h2m1 0h2m8 0h2m4 0h2m-1 0h2m-1 0h2m4 0h2m-1 0h2m-1 0h2m-1 0h2m-1 0h2m7 0h2m1 0h2m1 0h2m0 0h2m2 0h2m0 0h2M0 65m84 0h2m9 0h2m2 0h2m0 0h2m3 0h2m-1 0h2m-1 0h2m-1 0h2m0 0h2m-1 0h2m-1 0h2m2 0h2m2 0h2m-1 0h2m4 0h2m0 0h2m1 0h2m1 0h2m1 0h2m4 0h2m1 0h2M0 66m84 0h2m-1 0h2m7 0h2m-1 0h2m8 0h2m0 0h2m0 0h2m3 0h2m3 0h2m-1 0h2m-1 0h2m1 0h2m0 0h2m3 0h2m0 0h2m6 0h2M0 67m69 0h2m15 0h2m4 0h2m2 0h2m-1 0h2m0 0h2m1 0h2m6 0h2m-1 0h2m0 0h2m-1 0h2m2 0h2m-1 0h2m4 0h2m2 0h2m-1 0h2M0 68m81 0h2m9 0h2m1 0h2m1 0h2m-1 0h2m1 0h2m-1 0h2m5 0h2m0 0h2m-1 0h2m-1 0h2m0 0h2m0 0h2m-1 0h2m2 0h2m-1 0h2m1 0h2m0 0h2m1 0h2m1 0h2m2 0h2m2 0h2M0 69m88 0h2m8 0h2m5 0h2m1 0h2m1 0h2m0 0h2m0 0h2m-1 0h2m-1 0h2m-1 0h2m-1 0h2m-1 0h2m0 0h2m7 0h2m4 0h2M0 70m88 0h2m-1 0h2m4 0h2m6 0h2m1 0h2m7 0h2m0 0h2m2 0h2m-1 0h2m-1 0h2m0 0h2m10 0h2M0 71m87 0h2m8 0h2m3 0h2m4 0h2m0 0h2m0 0h2m1 0h2m-1 0h2m0 0h2m0 0h2m-1 0h2m-1 0h2m1 0h2m-1 0h2m0 0h2m3 0h2m0 0h2m0 0h2m0 0h2m3 0h2M0 72m72 0h2m24 0h2m5 0h2m2 0h2m-1 0h2m0 0h2m0 0h2m-1 0h2m-1 0h2m0 0h2m0 0h2m-1 0h2m0 0h2m0 0h2m-1 0h2m-1 0h2m1 0h2m-1 0h2m0 0h2M0 73m85 0h2m7 0h2m1 0h2m1 0h2m-1 0h2m0 0h2m0 0h2m1 0h2m-1 0h2m5 0h2m3 0h2m1 0h2m0 0h2m3 0h2m9 0h2M0 74m87 0h2m6 0h2m0 0h2m-1 0h2m9 0h2m4 0h2m1 0h2m-1 0h2m-1 0h2m3 0h2m4 0h2m3 0h2m4 0h2M0 75m102 0h2m-1 0h2m1 0h2m2 0h2m-1 0h2m5 0h2m1 0h2m1 0h2m2 0h2m-1 0h2m0 0h2m4 0h2M0 76m91 0h2m-1 0h2m-1 0h2m15 0h2m0 0h2m-1 0h2m-1 0h2m2 0h2m0 0h2m5 0h2M0 77m92 0h2m4 0h2m3 0h2m0 0h2m1 0h2m-1 0h2m3 0h2m1 0h2m4 0h2m1 0h2m2 0h2M0 78m76 0h2m14 0h2m9 0h2m5 0h2m1 0h2m3 0h2m-1 0h2m-1 0h2m4 0h2m-1 0h2m1 0h2m7 0h2M0 79m93 0h2m-1 0h2m3 0h2m0 0h2m9 0h2m3 0h2m-1 0h2m0 0h2m1 0h2m0 0h2m-1 0h2m-1 0h2m1 0h2m1 0h2m1 0h2M0 80m102 0h2m-1 0h2m2 0h2m1 0h2m-1 0h2m3 0h2m-1 0h2m2 0h2m-1 0h2m12 0h2m8 0h2M0 81m97 0h2m-1 0h2m3 0h2m3 0h2m-1 0h2m0 0h2m0 0h2m0 0h2m-1 0h2m-1 0h2m-1 0h2m-1 0h2m-1 0h2m5 0h2M0 82m88 0h2m9 0h2m4 0h2m1 0h2m-1 0h2m-1 0h2m-1 0h2m-1 0h2m4 0h2m2 0h2m-1 0h2m0 0h2m2 0h2m7 0h2m5 0h2M0 83m80 0h2m2 0h2m13 0h2m-1 0h2m2 0h2m-1 0h2m1 0h2m-1 0h2m3 0h2m0 0h2m-1 0h2m3 0h2m0 0h2m2 0h2m-1 0h2m4 0h2m0 0h2M0 84m108 0h2m1 0h2m0 0h2m0 0h2m8 0h2m10 0h2M0 85m98 0h2m-1 0h2m5 0h2m-1 0h2m0 0h2m4 0h2m4 0h2M0 86m89 0h2m4 0h2m0 0h2m-1 0h2m0 0h2m5 0h2m4 0h2m-1 0h2m-1 0h2m0 0h2m2 0h2m-1 0h2m-1 0h2m2 0h2m-1 0h2m0 0h2M0 87m88 0h2m7 0h2m4 0h2m1 0h2m0 0h2m1 0h2m5 0h2m2 0h2m3 0h2m-1 0h2m13 0h2M0 88m103 0h2m2 0h2m4 0h2m3 0h2m-1 0h2m5 0h2m-1 0h2m-1 0h2M0 89m76 0h2m15 0h2m6 0h2m7 0h2m0 0h2m0 0h2m1 0h2m0 0h2m0 0h2m-1 0h2m-1 0h2m3 0h2m11 0h2M0 90m106 0h2m0 0h2m-1 0h2m-1 0h2m0 0h2m-1 0h2m1 0h2m0 0h2m4 0h2m0 0h2m7 0h2m5 0h2M0 91m92 0h2m14 0h2m-1 0h2m1 0h2m10 0h2m0 0h2m0 0h2m0 0h2m-1 0h2m7 0h2M0 92m87 0h2m9 0h2m-1 0h2m6 0h2m8 0h2m0 0h2m-1 0h2m4 0h2m6 0h2M0 93m95 0h2m0 0h2m15 0h2m5 0h2m6 0h2m8 0h2M0 94m102 0h2m-1 0h2m3 0h2m-1 0h2m10 0h2m9 0h2m3 0h2M0 95m95 0h2m-1 0h2m0 0h2m14 0h2m0 0h2m-1 0h2m-1 0h2m0 0h2m10 0h2M0 96m94 0h2m8 0h2m0 0h2m2 0h2m-1 0h2m1 0h2m3 0h2m-1 0h2m1 0h2m9 0h2m-1 0h2m0 0h2M0 97m98 0h2m3 0h2m3 0h2m-1 0h2m-1 0h2m2 0h2m0 0h2m-1 0h2m0 0h2m-1 0h2M0 98m97 0h2m3 0h2m-1 0h2m1 0h2m0 0h2m-1 0h2m1 0h2m-1 0h2m0 0h2m0 0h2m3 0h2m0 0h2m4 0h2m1 0h2m-1 0h2M0 99m98 0h2m4 0h2m6 0h2m-1 0h2m-1 0h2m0 0h2m6 0h2m9 0h2M0 100m96 0h2m4 0h2m2 0h2m-1 0h2m2 0h2m-1 0h2m1 0h2m8 0h2m0 0h2m-1 0h2m-1 0h2M0 101m104 0h2m-1 0h2m-1 0h2m1 0h2m8 0h2m2 0h2m3 0h2M0 102m110 0h2m1 0h2m0 0h2m2 0h2m0 0h2m-1 0h2M0 103m91 0h2m-1 0h2m0 0h2m2 0h2m6 0h2m1 0h2m1 0h2m-1 0h2m-1 0h2m0 0h2m1 0h2m22 0h2M0 104m107 0h2m7 0h2m0 0h2m0 0h2m2 0h2m1 0h2M0 105m82 0h2m18 0h2m15 0h2m1 0h2m-1 0h2m-1 0h2m7 0h2M0 106m113 0h2m-1 0h2m0 0h2m1 0h2m-1 0h2m18 0h2M0 107m108 0h2m2 0h2m4 0h2m-1 0h2m7 0h2m6 0h2M0 108m91 0h2m6 0h2M0 109m90 0h2m12 0h2m6 0h2m7 0h2m-1 0h2m-1 0h2M0 110m126 0h2M0 111m103 0h2m5 0h2m3 0h2M0 112m114 0h2M0 113m104 0h2m7 0h2m4 0h2m2 0h2m4 0h2M0 114m95 0h2m2 0h2m11 0h2m4 0h2m0 0h2m8 0h2M0 115m108 0h2m3 0h2m16 0h2M0 116m120 0h2m2 0h2m1 0h2M0 117m105 0h2m6 0h2m3 0h2m10 0h2M0 118m104 0h2m14 0h2m3 0h2M0 119m119 0h2m12 0h2M0 120m122 0h2M0 121m106 0h2M0 122m105 0h2m1 0h2m17 0h2M0 123m110 0h2M0 124m100 0h2m3 0h2m12 0h2m-1 0h2M0 125m110 0h2m2 0h2m11 0h2M0 127m98 0h2m4 0h2m3 0h2m5 0h2m10 0h2M0 132m94 0h2M0 133m115 0h2M0 134m103 0h2M0 138m100 0h2M0 140m117 0h2M0 141m111 0h2M0 149m108 0h2"/>
<path stroke-opacity=".37" d="M0 6m90 0h2M0 7m16 0h2m40 0h2m57 0h2M0 8m40 0h2m50 0h2m84 0h2M0 9m7 0h2m4 0h2M0 10m67 0h2M0 12m72 0h2M0 14m25 0h2m11 0h2m17 0h2m26 0h2M0 15m58 0h2m16 0h2m66 0h2M0 16m20 0h2m4 0h2m32 0h2m21 0h2M0 17m22 0h2m20 0h2m-1 0h2m8 0h2m30 0h2M0 18m49 0h2m3 0h2M0 19m108 0h2M0 20m44 0h2m7 0h2m96 0h2M0 21m14 0h2m2 0h2m43 0h2m2 0h2M0 22m28 0h2m23 0h2m2 0h2m7 0h2m31 0h2M0 23m35 0h2m20 0h2m38 0h2m10 0h2M0 24m12 0h2m34 0h2m6 0h2M0 25m66 0h2m3 0h2M0 26m73 0h2M0 27m49 0h2M0 28m23 0h2m15 0h2m30 0h2M0 29m41 0h2m29 0h2m4 0h2m1 0h2M0 30m34 0h2m10 0h2m44 0h2M0 31m44 0h2m6 0h2m20 0h2m8 0h2m2 0h2M0 32m60 0h2m0 0h2m82 0h2m53 0h2M0 33m19 0h2m21 0h2m12 0h2m81 0h2M0 34m35 0h2m9 0h2m3 0h2m4 0h2m14 0h2m55 0h2M0 35m59 0h2m2 0h2m27 0h2M0 36m55 0h2m0 0h2m33 0h2M0 37m36 0h2m-1 0h2m3 0h2m3 0h2m1 0h2m18 0h2m4 0h2m0 0h2m5 0h2M0 38m24 0h2m0 0h2m16 0h2m6 0h2m34 0h2M0 39m26 0h2m10 0h2m2 0h2m-1 0h2m11 0h2m6 0h2M0 40m31 0h2m9 0h2m7 0h2m28 0h2m1 0h2m14 0h2m3 0h2M0 41m71 0h2m21 0h2M0 42m24 0h2m42 0h2m1 0h2M0 43m16 0h2m12 0h2m5 0h2m4 0h2m12 0h2m6 0h2m7 0h2m3 0h2m13 0h2M0 44m22 0h2m1 0h2m11 0h2m10 0h2m-1 0h2m1 0h2m-1 0h2m4 0h2M0 45m34 0h2m6 0h2m1 0h2m5 0h2m6 0h2m31 0h2M0 46m30 0h2m0 0h2m9 0h2m18 0h2m1 0h2m1 0h2m-1 0h2m25 0h2M0 47m26 0h2m9 0h2m10 0h2m6 0h2m14 0h2M0 48m36 0h2m10 0h2m34 0h2m5 0h2M0 49m15 0h2m31 0h2m0 0h2m6 0h2m46 0h2m1 0h2M0 50m23 0h2m1 0h2m20 0h2m1 0h2m8 0h2m17 0h2m2 0h2m3 0h2m17 0h2M0 51m8 0h2m32 0h2m3 0h2m1 0h2m11 0h2M0 52m29 0h2m8 0h2m3 0h2m-1 0h2m2 0h2m1 0h2m-1 0h2m4 0h2m4 0h2m14 0h2m2 0h2m5 0h2M0 53m11 0h2m14 0h2m3 0h2m16 0h2m9 0h2m0 0h2m-1 0h2m2 0h2m9 0h2m11 0h2m12 0h2M0 54m25 0h2m19 0h2m8 0h2m11 0h2m10 0h2m6 0h2M0 55m13 0h2m6 0h2m2 0h2m1 0h2m14 0h2m4 0h2m5 0h2m2 0h2m5 0h2m6 0h2m7 0h2m9 0h2M0 56m14 0h2m22 0h2m-1 0h2m2 0h2m2 0h2m2 0h2m2 0h2m8 0h2m-1 0h2M0 57m38 0h2m8 0h2m0 0h2m7 0h2m0 0h2m4 0h2M0 58m36 0h2m4 0h2m1 0h2m5 0h2m5 0h2m2 0h2m1 0h2m-1 0h2m5 0h2m2 0h2M0 59m34 0h2m3 0h2m11 0h2m23 0h2M0 60m7 0h2m25 0h2m8 0h2m10 0h2m4 0h2m-1 0h2m5 0h2m-1 0h2m-1 0h2m20 0h2M0 61m45 0h2m10 0h2m25 0h2m14 0h2m20 0h2M0 62m29 0h2m-1 0h2m11 0h2m8 0h2m1 0h2m1 0h2m26 0h2m76 0h2M0 63m22 0h2m6 0h2m1 0h2m19 0h2m-1 0h2m27 0h2m2 0h2m17 0h2M0 64m43 0h2m15 0h2m1 0h2m5 0h2m1 0h2m1 0h2m4 0h2m62 0h2M0 65m52 0h2m1 0h2m1 0h2m3 0h2m16 0h2m33 0h2M0 66m43 0h2m0 0h2m0 0h2m22 0h2m-1 0h2m29 0h2M0 67m28 0h2m14 0h2m0 0h2m7 0h2m31 0h2m9 0h2M0 68m23 0h2m15 0h2m16 0h2m4 0h2m0 0h2m12 0h2m10 0h2m40 0h2M0 69m13 0h2m20 0h2m10 0h2m11 0h2m0 0h2m1 0h2m4 0h2m29 0h2M0 70m58 0h2m9 0h2m-1 0h2m5 0h2m26 0h2m18 0h2M0 71m51 0h2m16 0h2m18 0h2m5 0h2M0 72m30 0h2m2 0h2m25 0h2m13 0h2m42 0h2M0 73m50 0h2m2 0h2m42 0h2M0 74m50 0h2m-1 0h2m3 0h2m10 0h2m-1 0h2m1 0h2m1 0h2m1 0h2M0 75m31 0h2m28 0h2m19 0h2M0 76m10 0h2m29 0h2m35 0h2M0 77m43 0h2m-1 0h2m14 0h2m5 0h2m31 0h2M0 78m53 0h2m7 0h2m48 0h2m3 0h2m3 0h2M0 79m28 0h2m11 0h2M0 80m80 0h2m7 0h2m13 0h2M0 81m39 0h2m3 0h2m3 0h2m-1 0h2m11 0h2m11 0h2m60 0h2M0 82m47 0h2m43 0h2m23 0h2m11 0h2M0 83m31 0h2m10 0h2m15 0h2m15 0h2M0 84m36 0h2m50 0h2m28 0h2m0 0h2M0 85m67 0h2m38 0h2m8 0h2m-1 0h2m70 0h2M0 86m19 0h2m13 0h2m0 0h2m18 0h2m42 0h2m14 0h2m2 0h2M0 87m38 0h2m-1 0h2m6 0h2m12 0h2m3 0h2m18 0h2m34 0h2m3 0h2M0 88m47 0h2m3 0h2m43 0h2m8 0h2m11 0h2m5 0h2m34 0h2M0 89m43 0h2m20 0h2m34 0h2m0 0h2m11 0h2m16 0h2M0 90m105 0h2m3 0h2M0 91m91 0h2m4 0h2M0 92m51 0h2m12 0h2m30 0h2m13 0h2m0 0h2m7 0h2M0 93m57 0h2m33 0h2m10 0h2m16 0h2m26 0h2m41 0h2M0 94m24 0h2m7 0h2m0 0h2m62 0h2m4 0h2m7 0h2m20 0h2M0 95m67 0h2m18 0h2m25 0h2m13 0h2M0 96m44 0h2m59 0h2m7 0h2M0 97m21 0h2m54 0h2m25 0h2m0 0h2m2 0h2M0 98m12 0h2m73 0h2m18 0h2m2 0h2m-1 0h2m2 0h2m-1 0h2M0 99m21 0h2m62 0h2m13 0h2M0 100m47 0h2m27 0h2m9 0h2m6 0h2m19 0h2m15 0h2M0 101m94 0h2m1 0h2m1 0h2m5 0h2m2 0h2m16 0h2m0 0h2m9 0h2M0 102m110 0h2m8 0h2m-1 0h2m2 0h2m8 0h2M0 103m67 0h2m26 0h2m4 0h2m0 0h2m6 0h2m4 0h2m2 0h2m4 0h2M0 104m49 0h2m21 0h2m18 0h2m10 0h2m2 0h2m1 0h2m2 0h2m5 0h2m15 0h2M0 105m54 0h2m50 0h2m0 0h2m6 0h2m-1 0h2m-1 0h2m6 0h2m1 0h2m-1 0h2M0 106m39 0h2m12 0h2m43 0h2m7 0h2m6 0h2M0 107m96 0h2m0 0h2m1 0h2m3 0h2m-1 0h2m3 0h2m3 0h2m5 0h2m17 0h2M0 108m28 0h2m70 0h2m3 0h2m2 0h2m6 0h2M0 109m85 0h2m16 0h2m9 0h2m-1 0h2m0 0h2m9 0h2m0 0h2M0 110m89 0h2m9 0h2m1 0h2m-1 0h2m0 0h2m-1 0h2m0 0h2m3 0h2m0 0h2m6 0h2m-1 0h2m4 0h2M0 111m25 0h2m55 0h2m12 0h2m11 0h2m0 0h2M0 112m96 0h2m2 0h2m7 0h2m2 0h2m1 0h2m5 0h2m0 0h2M0 113m86 0h2m2 0h2m5 0h2m6 0h2m-1 0h2m-1 0h2m-1 0h2m6 0h2m9 0h2m6 0h2M0 114m98 0h2m0 0h2m9 0h2m1 0h2m1 0h2m76 0h2m0 0h2m9 0h2M0 115m90 0h2m3 0h2m8 0h2m-1 0h2m0 0h2m0 0h2m0 0h2m-1 0h2m2 0h2m-1 0h2m3 0h2m12 0h2m2 0h2M0 116m20 0h2m73 0h2m6 0h2m3 0h2m0 0h2m2 0h2m0 0h2m3 0h2m3 0h2m2 0h2m62 0h2M0 117m84 0h2m-1 0h2m1 0h2m3 0h2m-1 0h2m6 0h2m0 0h2m-1 0h2m0 0h2m-1 0h2m-1 0h2m0 0h2m5 0h2m0 0h2m3 0h2m82 0h2M0 118m25 0h2m62 0h2m-1 0h2m0 0h2m0 0h2m6 0h2m1 0h2m0 0h2m-1 0h2m1 0h2m-1 0h2m1 0h2m10 0h2M0 119m83 0h2m4 0h2m3 0h2m4 0h2m7 0h2m1 0h2m4 0h2m1 0h2M0 120m88 0h2m8 0h2m0 0h2m2 0h2m1 0h2m8 0h2m1 0h2m2 0h2m6 0h2M0 121m79 0h2m4 0h2m4 0h2m3 0h2m0 0h2m2 0h2m7 0h2m0 0h2m-1 0h2m2 0h2m18 0h2M0 122m100 0h2m1 0h2m1 0h2m0 0h2m4 0h2m4 0h2m1 0h2m2 0h2m0 0h2m2 0h2M0 123m62 0h2m14 0h2m14 0h2m2 0h2m5 0h2m-1 0h2m6 0h2m4 0h2m-1 0h2m0 0h2m1 0h2M0 124m92 0h2m3 0h2m5 0h2m2 0h2m2 0h2m4 0h2m1 0h2m8 0h2m2 0h2M0 125m81 0h2m2 0h2m4 0h2m0 0h2m0 0h2m10 0h2m1 0h2m0 0h2m5 0h2M0 126m52 0h2m23 0h2m17 0h2m3 0h2m2 0h2m2 0h2m-1 0h2m-1 0h2m-1 0h2m-1 0h2m2 0h2m-1 0h2m4 0h2m-1 0h2m3 0h2m1 0h2m-1 0h2m-1 0h2m-1 0h2m2 0h2m24 0h2M0 127m55 0h2m5 0h2m24 0h2m10 0h2m-1 0h2m3 0h2m0 0h2m-1 0h2m-1 0h2m-1 0h2m1 0h2m2 0h2m0 0h2m1 0h2m9 0h2M0 128m33 0h2m65 0h2m0 0h2m4 0h2m2 0h2m-1 0h2m-1 0h2m3 0h2m14 0h2m2 0h2M0 129m59 0h2m6 0h2m32 0h2m1 0h2m1 0h2m0 0h2m0 0h2m6 0h2m1 0h2m2 0h2m-1 0h2M0 130m85 0h2m8 0h2m1 0h2m-1 0h2m1 0h2m0 0h2m1 0h2m0 0h2m-1 0h2m1 0h2m0 0h2m0 0h2m2 0h2m3 0h2m0 0h2m2 0h2M0 131m75 0h2m21 0h2m4 0h2m-1 0h2m8 0h2m2 0h2m0 0h2m-1 0h2M0 132m86 0h2m12 0h2m1 0h2m4 0h2m-1 0h2m0 0h2m0 0h2m2 0h2m-1 0h2m4 0h2m16 0h2M0 133m26 0h2m12 0h2m2 0h2m11 0h2m4 0h2m26 0h2m0 0h2m3 0h2m4 0h2m3 0h2m-1 0h2m3 0h2m-1 0h2m-1 0h2m1 0h2m4 0h2m-1 0h2m6 0h2m2 0h2M0 134m78 0h2m-1 0h2m8 0h2m6 0h2m7 0h2m1 0h2m0 0h2m1 0h2m6 0h2m3 0h2M0 135m17 0h2m38 0h2m6 0h2m6 0h2m1 0h2m0 0h2m10 0h2m0 0h2m1 0h2m2 0h2m3 0h2m1 0h2m0 0h2m-1 0h2m2 0h2m-1 0h2m0 0h2m7 0h2m-1 0h2m-1 0h2M0 136m71 0h2m-1 0h2m10 0h2m0 0h2m11 0h2m0 0h2m-1 0h2m0 0h2m1 0h2m1 0h2m1 0h2m0 0h2m-1 0h2m-1 0h2m5 0h2m-1 0h2m0 0h2m81 0h2M0 137m54 0h2m19 0h2m-1 0h2m10 0h2m4 0h2m2 0h2m2 0h2m2 0h2m-1 0h2m1 0h2m0 0h2m2 0h2m-1 0h2m1 0h2m-1 0h2m1 0h2m0 0h2m2 0h2m4 0h2M0 138m60 0h2m1 0h2m6 0h2m0 0h2m-1 0h2m-1 0h2m-1 0h2m2 0h2m2 0h2m-1 0h2m2 0h2m6 0h2m1 0h2m-1 0h2m5 0h2m3 0h2m-1 0h2m-1 0h2m6 0h2m0 0h2m72 0h2M0 139m65 0h2m-1 0h2m-1 0h2m9 0h2m9 0h2m0 0h2m0 0h2m4 0h2m2 0h2m2 0h2m-1 0h2m2 0h2m-1 0h2m-1 0h2m8 0h2M0 140m79 0h2m5 0h2m0 0h2m2 0h2m0 0h2m0 0h2m0 0h2m1 0h2m1 0h2m-1 0h2m1 0h2m0 0h2m5 0h2m6 0h2m0 0h2M0 141m45 0h2m11 0h2m13 0h2m14 0h2m4 0h2m-1 0h2m6 0h2m1 0h2m-1 0h2m0 0h2m5 0h2m-1 0h2m1 0h2m-1 0h2m1 0h2m4 0h2m7 0h2M0 142m50 0h2m23 0h2m22 0h2m0 0h2m5 0h2m-1 0h2m0 0h2m0 0h2m9 0h2m4 0h2m5 0h2M0 143m43 0h2m17 0h2m35 0h2m1 0h2m-1 0h2m-1 0h2m-1 0h2m0 0h2m-1 0h2m0 0h2m-1 0h2m5 0h2m0 0h2m-1 0h2m0 0h2m8 0h2m10 0h2M0 144m55 0h2m1 0h2m6 0h2m2 0h2m4 0h2m20 0h2m0 0h2m-1 0h2m0 0h2m-1 0h2m-1 0h2m0 0h2m1 0h2m6 0h2m2 0h2m0 0h2m2 0h2m-1 0h2M0 145m55 0h2m18 0h2m2 0h2m6 0h2m-1 0h2m-1 0h2m6 0h2m1 0h2m0 0h2m0 0h2m-1 0h2m-1 0h2m2 0h2m3 0h2m1 0h2m0 0h2m7 0h2m4 0h2m39 0h2M0 146m57 0h2m-1 0h2m4 0h2m3 0h2m0 0h2m3 0h2m3 0h2m0 0h2m-1 0h2m8 0h2m0 0h2m13 0h2m6 0h2m3 0h2m-1 0h2m2 0h2M0 147m41 0h2m10 0h2m0 0h2m10 0h2m3 0h2m1 0h2m4 0h2m4 0h2m1 0h2m3 0h2m8 0h2m1 0h2m-1 0h2m0 0h2m0 0h2m2 0h2m-1 0h2m-1 0h2m4 0h2M0 148m52 0h2m13 0h2m9 0h2m1 0h2m9 0h2m8 0h2m2 0h2m2 0h2m2 0h2m5 0h2m4 0h2M0 149m54 0h2m1 0h2m7 0h2m2 0h2m22 0h2m7 0h2m-1 0h2m-1 0h2m-1 0h2m-1 0h2m1 0h2m2 0h2m0 0h2m3 0h2m0 0h2m6 0h2m0 0h2M0 150m37 0h2m-1 0h2m2 0h2m2 0h2m10 0h2m0 0h2m4 0h2m3 0h2m-1 0h2m26 0h2m0 0h2m3 0h2m-1 0h2m2 0h2m3 0h2m-1 0h2m21 0h2M0 151m43 0h2m5 0h2m0 0h2m25 0h2m1 0h2m5 0h2m1 0h2m-1 0h2m4 0h2m0 0h2m-1 0h2m7 0h2m1 0h2m6 0h2m-1 0h2m6 0h2m7 0h2M0 152m67 0h2m1 0h2m5 0h2m6 0h2m3 0h2m5 0h2m0 0h2m1 0h2m-1 0h2m-1 0h2m-1 0h2m0 0h2m1 0h2m-1 0h2m4 0h2m16 0h2m6 0h2m22 0h2m24 0h2M0 153m38 0h2m9 0h2m5 0h2m3 0h2m5 0h2m0 0h2m37 0h2m18 0h2m2 0h2M0 154m44 0h2m-1 0h2m11 0h2m5 0h2m7 0h2m20 0h2m0 0h2m1 0h2m1 0h2m3 0h2m6 0h2m2 0h2m5 0h2m0 0h2M0 155m24 0h2m16 0h2m2 0h2m4 0h2m3 0h2m10 0h2m0 0h2m16 0h2m3 0h2m-1 0h2m4 0h2m5 0h2m3 0h2m5 0h2m5 0h2M0 156m38 0h2m12 0h2m11 0h2m0 0h2m11 0h2m9 0h2m1 0h2m0 0h2m5 0h2m3 0h2m0 0h2m3 0h2m0 0h2m1 0h2M0 157m38 0h2m8 0h2m2 0h2m-1 0h2m14 0h2m11 0h2m4 0h2m0 0h2m0 0h2m2 0h2m4 0h2m9 0h2m6 0h2m83 0h2M0 158m12 0h2m25 0h2m10 0h2m4 0h2m7 0h2m1 0h2m9 0h2m3 0h2m-1 0h2m5 0h2m0 0h2m4 0h2m14 0h2m0 0h2m14 0h2M0 159m25 0h2m3 0h2m-1 0h2m4 0h2m5 0h2m-1 0h2m7 0h2m17 0h2m10 0h2m3 0h2m6 0h2m5 0h2m-1 0h2m0 0h2m-1 0h2m-1 0h2m0 0h2m3 0h2m17 0h2M0 160m44 0h2m19 0h2m0 0h2m0 0h2m4 0h2m5 0h2m-1 0h2m3 0h2m4 0h2m4 0h2m4 0h2m3 0h2m1 0h2m-1 0h2m2 0h2m0 0h2m5 0h2m1 0h2M0 161m39 0h2m-1 0h2m-1 0h2m13 0h2m-1 0h2m17 0h2m6 0h2m3 0h2m7 0h2m2 0h2m2 0h2m-1 0h2m2 0h2m1 0h2M0 162m34 0h2m10 0h2m8 0h2m2 0h2m1 0h2m1 0h2m6 0h2m20 0h2m11 0h2m0 0h2m1 0h2m-1 0h2m2 0h2m0 0h2m5 0h2m1 0h2m-1 0h2M0 163m47 0h2m9 0h2m-1 0h2m1 0h2m8 0h2m2 0h2m16 0h2m1 0h2m0 0h2m3 0h2m5 0h2M0 164m53 0h2m4 0h2m0 0h2m6 0h2m-1 0h2m3 0h2m1 0h2m7 0h2m-1 0h2m1 0h2m7 0h2m0 0h2m1 0h2m3 0h2m4 0h2m19 0h2m8 0h2M0 165m33 0h2m-1 0h2m3 0h2m16 0h2m12 0h2m4 0h2m0 0h2m26 0h2m1 0h2m4 0h2M0 166m5 0h2m21 0h2m15 0h2m5 0h2m8 0h2m11 0h2m16 0h2m2 0h2m7 0h2m4 0h2m4 0h2M0 167m21 0h2m11 0h2m33 0h2m1 0h2m32 0h2m9 0h2m37 0h2M0 168m57 0h2m8 0h2m-1 0h2m4 0h2m0 0h2m24 0h2m-1 0h2m2 0h2m1 0h2m3 0h2m1 0h2m2 0h2M0 169m42 0h2m6 0h2m4 0h2m4 0h2m10 0h2m7 0h2m17 0h2m12 0h2m8 0h2m22 0h2M0 170m35 0h2m7 0h2m17 0h2m13 0h2m1 0h2m3 0h2m7 0h2m7 0h2m8 0h2m0 0h2M0 171m58 0h2m1 0h2m-1 0h2m2 0h2m-1 0h2m4 0h2m1 0h2m5 0h2m2 0h2m2 0h2m-1 0h2m7 0h2m0 0h2m0 0h2m2 0h2m17 0h2M0 172m33 0h2m31 0h2m39 0h2M0 173m47 0h2m4 0h2m-1 0h2m-1 0h2m-1 0h2m3 0h2m8 0h2m-1 0h2m5 0h2m1 0h2m14 0h2m3 0h2m5 0h2m9 0h2M0 174m16 0h2m21 0h2m1 0h2m2 0h2m1 0h2m9 0h2m0 0h2m5 0h2m-1 0h2m24 0h2m9 0h2m14 0h2M0 175m47 0h2m2 0h2m7 0h2m8 0h2m25 0h2m4 0h2m8 0h2M0 176m26 0h2m0 0h2m1 0h2m4 0h2m7 0h2m6 0h2m1 0h2m-1 0h2m0 0h2m-1 0h2m5 0h2m1 0h2m8 0h2m1 0h2m6 0h2m11 0h2m2 0h2M0 177m12 0h2m4 0h2m38 0h2m2 0h2m-1 0h2m-1 0h2m7 0h2m7 0h2m10 0h2m15 0h2m0 0h2m21 0h2M0 178m51 0h2m0 0h2m1 0h2m2 0h2m3 0h2m0 0h2m5 0h2m0 0h2m24 0h2m10 0h2m86 0h2M0 179m40 0h2m1 0h2m2 0h2m-1 0h2m1 0h2m12 0h2m26 0h2m5 0h2M0 180m27 0h2m3 0h2m2 0h2m5 0h2m2 0h2m4 0h2m4 0h2m4 0h2m5 0h2m-1 0h2m0 0h2M0 181m14 0h2m40 0h2m4 0h2m4 0h2m11 0h2m3 0h2m20 0h2m6 0h2M0 182m31 0h2m4 0h2m26 0h2m3 0h2m2 0h2m11 0h2M0 183m45 0h2m1 0h2m8 0h2m9 0h2m1 0h2M0 184m53 0h2m-1 0h2m13 0h2m11 0h2m-1 0h2m29 0h2M0 185m16 0h2m20 0h2m5 0h2m2 0h2m5 0h2m9 0h2m6 0h2m56 0h2m39 0h2M0 186m9 0h2m19 0h2m-1 0h2m4 0h2m28 0h2m1 0h2m15 0h2M0 187m29 0h2m4 0h2m5 0h2m2 0h2m6 0h2m0 0h2m5 0h2m-1 0h2m33 0h2M0 188m45 0h2m1 0h2m41 0h2m5 0h2m17 0h2M0 189m19 0h2m36 0h2m9 0h2M0 190m47 0h2m-1 0h2m-1 0h2m7 0h2m0 0h2m16 0h2m2 0h2m26 0h2m60 0h2m20 0h2M0 191m20 0h2m16 0h2m8 0h2m1 0h2m56 0h2M0 192m29 0h2m2 0h2m28 0h2m2 0h2m12 0h2M0 193m31 0h2m4 0h2m24 0h2m5 0h2m3 0h2m4 0h2M0 194m30 0h2m24 0h2m2 0h2m5 0h2M0 195m52 0h2m2 0h2m6 0h2m4 0h2m-1 0h2m8 0h2M0 196m34 0h2m11 0h2m7 0h2m6 0h2m12 0h2M0 197m101 0h2M0 198m155 0h2M0 199m12 0h2m28 0h2m23 0h2m2 0h2m6 0h2M0 201m26 0h2m7 0h2M0 202m37 0h2m34 0h2m135 0h2M0 203m58 0h2M0 204m207 0h2M0 205m67 0h2m71 0h2M0 206m72 0h2m26 0h2M0 207m17 0h2m1 0h2m27 0h2m2 0h2m86 0h2M0 209m16 0h2m10 0h2m14 0h2m104 0h2M0 210m36 0h2m29 0h2"/>
</g></g>
<path d="M0 0H108.0V107.2" fill="none" stroke="#c4c4c4" stroke-width="1"/>
<path d="M0 0V107.2" fill="none" stroke="#555" stroke-width="1.3"/>
<path d="M0 107.2H108.0" fill="none" stroke="#777" stroke-width="1"/>
<path d="M-1 2V99.2" stroke="#666" stroke-width="1.2" stroke-dasharray="0.7 1.9" fill="none"/>
<path d="M8 108.5H104.0" stroke="#888" stroke-width="1.8" stroke-dasharray="0.7 2.1" fill="none"/>
<path d="M-2.8 9.3H0" stroke="#444" stroke-width="1"/>
<path d="M-2.8 33.6H0" stroke="#444" stroke-width="1"/>
<path d="M-2.8 58.3H0" stroke="#444" stroke-width="1"/>
<path d="M-2.8 84.5H0" stroke="#444" stroke-width="1"/>
<path d="M-2.8 96.2H0" stroke="#444" stroke-width="1"/>
<path d="M11.2 107.2v3" stroke="#555" stroke-width="1"/>
<path d="M22.7 107.2v3" stroke="#555" stroke-width="1"/>
<path d="M49.2 107.2v3" stroke="#555" stroke-width="1"/>
<path d="M73.4 107.2v3" stroke="#555" stroke-width="1"/>
<path d="M97.8 107.2v3" stroke="#555" stroke-width="1"/>
<path d="M0 58.3H108.0M48.8 0V107.2" fill="none" stroke="#6e6e6e" stroke-width="1"/>
</g>
<g transform="translate(249.7 135.8)">
<ellipse cx="69" cy="36" rx="2.5" ry="6" fill="#000" opacity="0.2" filter="url(#b)"/>
<g filter="url(#s)"><g transform="scale(.5)" fill="none" stroke="#000" stroke-width="2" stroke-opacity=".46">
<path d="M0 14m145 0h2M0 24m106 0h2m33 0h2M0 26m113 0h2M0 27m141 0h2M0 28m72 0h2m52 0h2M0 29m119 0h2M0 30m96 0h2M0 31m100 0h2m8 0h2M0 32m90 0h2m4 0h2M0 33m70 0h2m7 0h2m19 0h2m0 0h2m10 0h2m2 0h2m12 0h2m7 0h2M0 34m118 0h2M0 35m95 0h2m3 0h2m7 0h2m8 0h2m-1 0h2m6 0h2m8 0h2m-1 0h2M0 36m91 0h2m15 0h2m26 0h2M0 37m107 0h2m2 0h2m10 0h2m8 0h2m4 0h2M0 38m68 0h2m9 0h2m6 0h2m22 0h2M0 39m104 0h2m11 0h2m8 0h2m11 0h2M0 40m90 0h2m0 0h2m23 0h2m11 0h2M0 41m92 0h2m-1 0h2m2 0h2m-1 0h2m2 0h2m3 0h2m4 0h2m14 0h2m10 0h2m0 0h2M0 42m125 0h2m6 0h2M0 43m92 0h2m19 0h2m12 0h2m8 0h2M0 44m91 0h2m9 0h2m17 0h2m11 0h2m-1 0h2m0 0h2M0 45m106 0h2m8 0h2m4 0h2m3 0h2m15 0h2m7 0h2M0 46m95 0h2m-1 0h2m-1 0h2m1 0h2m36 0h2M0 47m88 0h2m7 0h2m1 0h2m5 0h2m1 0h2m4 0h2m0 0h2m4 0h2m4 0h2m-1 0h2m0 0h2m1 0h2m-1 0h2M0 48m104 0h2m0 0h2m24 0h2m5 0h2M0 49m92 0h2m9 0h2m6 0h2m6 0h2m9 0h2m6 0h2m1 0h2m-1 0h2m3 0h2m-1 0h2M0 50m117 0h2m10 0h2m6 0h2m0 0h2m6 0h2m-1 0h2m5 0h2M0 51m82 0h2m18 0h2m3 0h2m7 0h2m4 0h2m1 0h2m0 0h2m6 0h2m-1 0h2m-1 0h2m2 0h2m1 0h2m1 0h2m1 0h2M0 52m67 0h2m61 0h2m9 0h2M0 53m127 0h2m1 0h2m3 0h2m7 0h2M0 54m132 0h2m13 0h2m1 0h2M0 55m124 0h2m7 0h2m0 0h2m0 0h2m1 0h2M0 56m110 0h2m2 0h2m27 0h2m1 0h2M0 57m108 0h2m-1 0h2m17 0h2m2 0h2m4 0h2m3 0h2M0 58m126 0h2m6 0h2m-1 0h2m4 0h2m0 0h2M0 59m131 0h2m-1 0h2m3 0h2m1 0h2M0 60m127 0h2m3 0h2m8 0h2M0 61m129 0h2m0 0h2m0 0h2m2 0h2m0 0h2m0 0h2m0 0h2m0 0h2M0 62m122 0h2m4 0h2m6 0h2m1 0h2m-1 0h2M0 63m120 0h2m11 0h2m3 0h2m0 0h2m6 0h2m1 0h2M0 64m132 0h2m3 0h2M0 65m134 0h2m1 0h2m2 0h2m-1 0h2M0 66m134 0h2m1 0h2m6 0h2m-1 0h2m-1 0h2M0 67m120 0h2m5 0h2m3 0h2m8 0h2m8 0h2M0 68m131 0h2m3 0h2m-1 0h2m4 0h2m3 0h2M0 69m126 0h2m6 0h2m3 0h2m-1 0h2m1 0h2m0 0h2m-1 0h2m0 0h2M0 70m128 0h2m4 0h2m0 0h2m0 0h2m0 0h2m-1 0h2m4 0h2M0 71m130 0h2m0 0h2m-1 0h2m2 0h2m-1 0h2m0 0h2m-1 0h2m4 0h2m1 0h2M0 72m128 0h2m-1 0h2m4 0h2m2 0h2m3 0h2m1 0h2m6 0h2M0 73m129 0h2m2 0h2m5 0h2m0 0h2m-1 0h2M0 74m117 0h2m4 0h2m8 0h2m7 0h2M0 75m130 0h2m2 0h2m-1 0h2m-1 0h2m-1 0h2m5 0h2M0 76m123 0h2m4 0h2m0 0h2m2 0h2m0 0h2m0 0h2m-1 0h2m0 0h2m2 0h2M0 77m112 0h2m11 0h2m4 0h2m1 0h2m-1 0h2m5 0h2m0 0h2M0 78m125 0h2m-1 0h2m0 0h2m3 0h2m3 0h2m2 0h2M0 79m122 0h2m11 0h2M0 80m123 0h2m1 0h2m7 0h2m0 0h2m-1 0h2m2 0h2m0 0h2M0 81m120 0h2m5 0h2m5 0h2m5 0h2m6 0h2M0 82m128 0h2m2 0h2m-1 0h2m6 0h2m9 0h2M0 83m116 0h2m4 0h2m5 0h2m7 0h2m3 0h2m0 0h2M0 84m124 0h2m16 0h2m1 0h2M0 85m125 0h2m-1 0h2m2 0h2m2 0h2m0 0h2m0 0h2M0 86m130 0h2m14 0h2m0 0h2M0 87m133 0h2m-1 0h2m0 0h2m-1 0h2m-1 0h2m-1 0h2m5 0h2m1 0h2M0 88m130 0h2m3 0h2m2 0h2m5 0h2M0 89m125 0h2m4 0h2m0 0h2m0 0h2m2 0h2m0 0h2m-1 0h2m5 0h2m1 0h2M0 90m123 0h2m3 0h2m1 0h2m0 0h2m1 0h2m-1 0h2m-1 0h2m0 0h2m3 0h2M0 91m129 0h2m-1 0h2m4 0h2m1 0h2M0 92m125 0h2m11 0h2M0 93m108 0h2m20 0h2m2 0h2m-1 0h2m5 0h2m-1 0h2m-1 0h2M0 94m126 0h2m0 0h2m1 0h2m-1 0h2m-1 0h2m0 0h2m11 0h2M0 95m112 0h2m3 0h2m16 0h2M0 96m112 0h2m16 0h2m0 0h2m-1 0h2m3 0h2m-1 0h2m1 0h2m1 0h2M0 98m123 0h2m4 0h2m1 0h2m3 0h2m9 0h2M0 99m107 0h2m18 0h2m1 0h2m6 0h2m-1 0h2m3 0h2M0 100m127 0h2m1 0h2m7 0h2m1 0h2M0 101m121 0h2m30 0h2M0 102m123 0h2m7 0h2m-1 0h2m0 0h2m8 0h2M0 103m127 0h2m2 0h2m6 0h2M0 104m119 0h2m2 0h2m12 0h2m4 0h2M0 105m110 0h2m10 0h2m16 0h2m3 0h2M0 106m150 0h2M0 107m117 0h2m0 0h2m10 0h2M0 109m121 0h2M0 110m115 0h2m13 0h2M0 111m113 0h2m3 0h2m9 0h2M0 112m128 0h2M0 113m122 0h2m1 0h2M0 114m128 0h2m10 0h2m3 0h2M0 116m119 0h2m8 0h2m4 0h2m0 0h2M0 117m118 0h2m13 0h2m3 0h2M0 122m116 0h2m4 0h2M0 123m105 0h2M0 124m125 0h2m5 0h2M0 125m109 0h2M0 126m136 0h2m1 0h2M0 127m129 0h2M0 128m129 0h2M0 129m133 0h2M0 130m142 0h2M0 131m132 0h2M0 132m137 0h2M0 134m126 0h2"/>
<path d="M0 11m139 0h2M0 25m74 0h2M0 26m95 0h2M0 28m91 0h2M0 29m107 0h2M0 31m94 0h2M0 32m72 0h2m60 0h2M0 33m75 0h2m10 0h2m17 0h2m14 0h2M0 34m93 0h2m4 0h2m12 0h2M0 35m74 0h2m30 0h2m4 0h2m27 0h2M0 36m85 0h2m2 0h2m18 0h2m3 0h2m18 0h2M0 37m89 0h2m10 0h2m3 0h2m17 0h2m-1 0h2m4 0h2m7 0h2m1 0h2m3 0h2M0 38m92 0h2m1 0h2m11 0h2m18 0h2M0 39m84 0h2m18 0h2m27 0h2m1 0h2M0 40m85 0h2m16 0h2m1 0h2m-1 0h2m2 0h2m14 0h2m2 0h2M0 41m81 0h2m19 0h2m9 0h2m17 0h2m10 0h2M0 42m107 0h2m8 0h2m3 0h2M0 43m84 0h2m9 0h2m3 0h2m0 0h2m14 0h2m5 0h2m-1 0h2m7 0h2m5 0h2m0 0h2M0 44m93 0h2m2 0h2m0 0h2m8 0h2m-1 0h2m-1 0h2m12 0h2m2 0h2m1 0h2m7 0h2M0 45m131 0h2M0 46m103 0h2m2 0h2m1 0h2m1 0h2m0 0h2m3 0h2m-1 0h2m-1 0h2m1 0h2m1 0h2m6 0h2m0 0h2M0 47m100 0h2m4 0h2m-1 0h2m7 0h2m0 0h2m15 0h2m13 0h2M0 48m74 0h2m18 0h2m9 0h2m1 0h2m21 0h2m2 0h2M0 49m101 0h2m22 0h2m0 0h2m0 0h2m0 0h2m6 0h2m-1 0h2m12 0h2M0 50m131 0h2m1 0h2m0 0h2M0 51m78 0h2m38 0h2m-1 0h2m14 0h2m-1 0h2m0 0h2M0 52m129 0h2m1 0h2m14 0h2M0 53m84 0h2m42 0h2M0 54m97 0h2m36 0h2m1 0h2m0 0h2M0 55m132 0h2m1 0h2m0 0h2m-1 0h2m7 0h2M0 56m130 0h2m5 0h2m0 0h2m3 0h2M0 57m124 0h2m28 0h2M0 58m124 0h2m3 0h2m2 0h2m-1 0h2m-1 0h2m2 0h2M0 59m128 0h2m4 0h2m1 0h2m2 0h2m2 0h2m-1 0h2M0 60m126 0h2m12 0h2m1 0h2M0 61m135 0h2m1 0h2m-1 0h2m11 0h2M0 62m128 0h2m1 0h2m1 0h2m0 0h2m1 0h2m2 0h2M0 63m125 0h2m1 0h2m0 0h2m10 0h2m1 0h2M0 64m129 0h2m0 0h2m6 0h2m-1 0h2m0 0h2M0 65m129 0h2m2 0h2m-1 0h2m1 0h2m0 0h2m-1 0h2M0 66m126 0h2m8 0h2m1 0h2m2 0h2m2 0h2M0 67m121 0h2m1 0h2m6 0h2m0 0h2m-1 0h2m3 0h2m-1 0h2m0 0h2M0 68m132 0h2m1 0h2m1 0h2m1 0h2m1 0h2M0 69m130 0h2m4 0h2m-1 0h2m-1 0h2m0 0h2m0 0h2m4 0h2M0 70m120 0h2m7 0h2m1 0h2m4 0h2m2 0h2m-1 0h2m0 0h2M0 71m130 0h2m-1 0h2m1 0h2m-1 0h2m6 0h2M0 72m124 0h2m8 0h2m2 0h2m-1 0h2m0 0h2m-1 0h2M0 73m130 0h2m10 0h2m-1 0h2m-1 0h2m1 0h2M0 74m119 0h2m2 0h2m17 0h2M0 75m128 0h2m1 0h2m1 0h2m3 0h2m-1 0h2m7 0h2m0 0h2M0 76m113 0h2m19 0h2m-1 0h2m0 0h2m-1 0h2m-1 0h2m-1 0h2m2 0h2M0 77m124 0h2m12 0h2m0 0h2M0 78m129 0h2m4 0h2m1 0h2m-1 0h2m1 0h2m0 0h2m8 0h2M0 79m132 0h2m2 0h2m-1 0h2m3 0h2M0 80m122 0h2m0 0h2m7 0h2m2 0h2m0 0h2m2 0h2M0 81m128 0h2m-1 0h2m2 0h2m1 0h2m-1 0h2m8 0h2m-1 0h2M0 82m125 0h2m5 0h2m-1 0h2m6 0h2m1 0h2m-1 0h2m2 0h2M0 83m136 0h2m2 0h2M0 84m120 0h2m6 0h2m4 0h2m1 0h2m1 0h2m1 0h2m0 0h2M0 85m127 0h2m0 0h2m-1 0h2m0 0h2m-1 0h2m0 0h2M0 86m132 0h2m4 0h2m10 0h2M0 87m138 0h2m0 0h2M0 88m115 0h2m6 0h2m-1 0h2m0 0h2m5 0h2m4 0h2m-1 0h2m-1 0h2m0 0h2m3 0h2M0 89m129 0h2m0 0h2m5 0h2m-1 0h2m4 0h2m3 0h2M0 90m131 0h2m1 0h2m-1 0h2m-1 0h2m5 0h2M0 91m116 0h2m1 0h2m2 0h2m6 0h2m0 0h2m1 0h2m0 0h2m-1 0h2m0 0h2m-1 0h2M0 92m124 0h2m22 0h2m2 0h2m0 0h2M0 93m122 0h2m3 0h2m1 0h2m2 0h2m-1 0h2M0 95m126 0h2m0 0h2m1 0h2m0 0h2m1 0h2m4 0h2m-1 0h2m0 0h2M0 96m114 0h2m1 0h2m1 0h2m0 0h2m5 0h2m4 0h2M0 97m122 0h2m1 0h2m4 0h2m8 0h2m0 0h2M0 98m130 0h2m2 0h2m0 0h2M0 99m131 0h2m2 0h2m-1 0h2m3 0h2m1 0h2M0 100m135 0h2m0 0h2m4 0h2M0 101m129 0h2m-1 0h2m-1 0h2m7 0h2M0 102m120 0h2m9 0h2m3 0h2m2 0h2M0 103m121 0h2m6 0h2m9 0h2M0 104m132 0h2m7 0h2M0 105m123 0h2m3 0h2m4 0h2M0 106m118 0h2m14 0h2m2 0h2M0 107m126 0h2M0 108m131 0h2m15 0h2M0 109m117 0h2m14 0h2m2 0h2M0 110m118 0h2m13 0h2M0 111m131 0h2M0 112m124 0h2m3 0h2m8 0h2M0 113m117 0h2m2 0h2m9 0h2M0 114m135 0h2M0 115m131 0h2M0 116m104 0h2m34 0h2M0 117m119 0h2m4 0h2m4 0h2m8 0h2M0 118m124 0h2m-1 0h2M0 119m142 0h2M0 120m146 0h2M0 121m117 0h2m14 0h2M0 122m138 0h2M0 123m124 0h2M0 124m118 0h2m11 0h2M0 125m118 0h2m-1 0h2M0 127m133 0h2m0 0h2M0 128m120 0h2M0 129m109 0h2m10 0h2m3 0h2M0 130m134 0h2m16 0h2M0 134m147 0h2M0 138m122 0h2"/>
<path d="M0 20m100 0h2M0 23m126 0h2M0 24m92 0h2M0 25m145 0h2M0 27m71 0h2M0 28m97 0h2m-1 0h2M0 29m115 0h2m20 0h2m0 0h2m-1 0h2M0 30m99 0h2m10 0h2m2 0h2m10 0h2M0 31m85 0h2m4 0h2m28 0h2m0 0h2M0 32m123 0h2m7 0h2M0 33m70 0h2m24 0h2m5 0h2m10 0h2m10 0h2m6 0h2M0 34m85 0h2m42 0h2m6 0h2M0 35m61 0h2m24 0h2m6 0h2m2 0h2m9 0h2m10 0h2m-1 0h2m23 0h2M0 36m106 0h2m31 0h2m5 0h2m1 0h2M0 37m86 0h2m47 0h2M0 38m92 0h2m1 0h2m7 0h2M0 39m93 0h2m11 0h2m43 0h2M0 40m87 0h2m7 0h2m42 0h2m2 0h2M0 41m67 0h2m22 0h2m19 0h2m2 0h2m-1 0h2m5 0h2m5 0h2m-1 0h2M0 42m90 0h2m34 0h2m7 0h2m9 0h2M0 43m102 0h2m-1 0h2m18 0h2m8 0h2m4 0h2m3 0h2M0 44m104 0h2m-1 0h2m6 0h2m8 0h2m3 0h2m7 0h2m0 0h2m9 0h2M0 45m88 0h2m7 0h2m1 0h2m1 0h2m39 0h2m0 0h2m5 0h2M0 46m110 0h2m4 0h2M0 47m113 0h2m1 0h2m1 0h2m8 0h2m1 0h2m2 0h2m1 0h2M0 48m82 0h2m23 0h2m10 0h2m13 0h2m-1 0h2M0 49m118 0h2m1 0h2m1 0h2m-1 0h2m8 0h2m4 0h2m2 0h2M0 50m98 0h2m20 0h2m3 0h2m6 0h2m1 0h2m0 0h2m0 0h2m2 0h2M0 51m93 0h2m3 0h2m2 0h2m14 0h2m7 0h2m5 0h2m8 0h2m3 0h2M0 52m96 0h2m22 0h2m14 0h2m1 0h2m-1 0h2m-1 0h2m1 0h2M0 53m113 0h2m23 0h2m0 0h2M0 54m85 0h2m40 0h2m8 0h2m0 0h2M0 55m101 0h2m27 0h2m3 0h2m0 0h2M0 56m103 0h2m7 0h2m21 0h2m4 0h2M0 57m113 0h2m12 0h2m-1 0h2m3 0h2m5 0h2m3 0h2m1 0h2m5 0h2M0 58m131 0h2m2 0h2m0 0h2m-1 0h2m0 0h2m3 0h2M0 59m110 0h2m18 0h2m0 0h2m-1 0h2m2 0h2m5 0h2M0 60m126 0h2m5 0h2m-1 0h2m3 0h2m3 0h2M0 61m130 0h2m0 0h2m-1 0h2m-1 0h2m-1 0h2m3 0h2m2 0h2m-1 0h2M0 62m130 0h2m0 0h2m5 0h2m2 0h2m5 0h2M0 63m132 0h2m7 0h2m0 0h2m0 0h2m0 0h2m7 0h2M0 64m131 0h2m0 0h2m0 0h2m3 0h2m1 0h2m2 0h2M0 65m125 0h2m12 0h2m5 0h2M0 66m132 0h2m2 0h2M0 67m125 0h2m11 0h2m4 0h2M0 68m127 0h2m-1 0h2m-1 0h2m0 0h2m0 0h2m0 0h2m3 0h2m-1 0h2m-1 0h2m9 0h2M0 69m128 0h2m9 0h2m-1 0h2m0 0h2M0 70m129 0h2m7 0h2m4 0h2m-1 0h2m1 0h2M0 71m124 0h2m15 0h2M0 72m130 0h2m2 0h2m0 0h2m-1 0h2m1 0h2m-1 0h2m1 0h2m3 0h2M0 73m125 0h2m-1 0h2m2 0h2m0 0h2m3 0h2m0 0h2M0 74m130 0h2m2 0h2m4 0h2m1 0h2m-1 0h2m-1 0h2m1 0h2M0 75m122 0h2m9 0h2m2 0h2M0 76m101 0h2m23 0h2m2 0h2m4 0h2m0 0h2m-1 0h2m5 0h2m-1 0h2M0 77m125 0h2m6 0h2m3 0h2m-1 0h2m0 0h2m2 0h2M0 78m124 0h2m5 0h2m-1 0h2m-1 0h2m0 0h2m3 0h2m0 0h2m0 0h2m-1 0h2m1 0h2M0 79m128 0h2m3 0h2m1 0h2m-1 0h2m3 0h2M0 80m122 0h2m4 0h2m0 0h2m1 0h2m-1 0h2M0 81m128 0h2m2 0h2m1 0h2m2 0h2m-1 0h2m-1 0h2m0 0h2m-1 0h2M0 82m125 0h2m2 0h2m5 0h2m5 0h2m-1 0h2M0 83m127 0h2m0 0h2m12 0h2m1 0h2m1 0h2m-1 0h2M0 84m133 0h2m3 0h2m4 0h2M0 85m116 0h2m12 0h2m3 0h2m1 0h2m0 0h2m-1 0h2m-1 0h2m2 0h2M0 86m125 0h2m7 0h2m-1 0h2m3 0h2m-1 0h2m4 0h2m0 0h2M0 87m127 0h2m0 0h2m8 0h2m4 0h2M0 88m135 0h2M0 89m132 0h2m2 0h2m6 0h2M0 90m108 0h2m13 0h2m6 0h2m-1 0h2m0 0h2m0 0h2m-1 0h2m0 0h2M0 91m113 0h2m15 0h2m5 0h2m0 0h2m4 0h2m1 0h2M0 92m135 0h2M0 93m120 0h2m1 0h2m2 0h2m11 0h2m5 0h2m5 0h2M0 94m115 0h2m0 0h2m17 0h2m0 0h2m7 0h2M0 95m130 0h2m-1 0h2m1 0h2m-1 0h2m1 0h2m7 0h2M0 96m119 0h2m5 0h2m5 0h2m-1 0h2m12 0h2m6 0h2M0 97m125 0h2m17 0h2M0 98m115 0h2m1 0h2m9 0h2m-1 0h2m2 0h2m2 0h2M0 99m124 0h2m8 0h2m3 0h2m0 0h2m0 0h2m10 0h2M0 100m126 0h2m0 0h2m0 0h2m11 0h2M0 101m121 0h2m21 0h2M0 102m121 0h2m3 0h2M0 103m126 0h2m4 0h2m6 0h2m1 0h2M0 104m147 0h2M0 106m127 0h2m10 0h2m0 0h2M0 107m120 0h2m7 0h2m10 0h2M0 108m122 0h2m4 0h2m4 0h2m1 0h2m-1 0h2m8 0h2M0 109m123 0h2m2 0h2m8 0h2M0 110m112 0h2m7 0h2m3 0h2m0 0h2m12 0h2M0 111m127 0h2m0 0h2m1 0h2m2 0h2M0 112m119 0h2m4 0h2M0 113m125 0h2M0 114m147 0h2M0 115m113 0h2m11 0h2m6 0h2m2 0h2M0 116m121 0h2M0 118m113 0h2m7 0h2M0 119m118 0h2m12 0h2M0 120m140 0h2M0 121m120 0h2m11 0h2M0 122m115 0h2m15 0h2m12 0h2M0 124m108 0h2m7 0h2m10 0h2M0 126m132 0h2M0 127m118 0h2m5 0h2M0 128m136 0h2M0 130m140 0h2M0 132m124 0h2M0 133m128 0h2M0 134m123 0h2M0 139m115 0h2"/>
<path d="M0 17m86 0h2M0 19m139 0h2M0 21m72 0h2M0 23m115 0h2M0 24m100 0h2M0 27m98 0h2m38 0h2M0 28m83 0h2M0 29m89 0h2m11 0h2M0 30m77 0h2m17 0h2m25 0h2M0 31m113 0h2m30 0h2M0 32m101 0h2m0 0h2m4 0h2m25 0h2M0 33m87 0h2m33 0h2m6 0h2m5 0h2M0 34m88 0h2m-1 0h2m7 0h2m2 0h2m40 0h2M0 35m91 0h2m6 0h2m9 0h2m20 0h2m0 0h2M0 36m93 0h2m13 0h2m0 0h2m4 0h2m0 0h2M0 37m123 0h2m8 0h2m4 0h2m-1 0h2M0 38m82 0h2m26 0h2m3 0h2m1 0h2M0 39m88 0h2m6 0h2m0 0h2m-1 0h2m-1 0h2m4 0h2m5 0h2m-1 0h2m5 0h2m2 0h2m4 0h2m4 0h2m1 0h2M0 40m113 0h2m26 0h2M0 41m98 0h2m-1 0h2m29 0h2m8 0h2m-1 0h2m2 0h2M0 42m93 0h2m4 0h2m17 0h2m13 0h2m8 0h2M0 43m92 0h2m8 0h2m9 0h2m3 0h2m4 0h2m7 0h2m1 0h2m10 0h2M0 44m80 0h2m22 0h2m4 0h2m8 0h2m16 0h2m-1 0h2m-1 0h2M0 45m96 0h2m4 0h2m48 0h2M0 46m90 0h2m22 0h2m-1 0h2m-1 0h2m9 0h2m2 0h2m10 0h2M0 47m103 0h2m6 0h2m0 0h2m19 0h2m5 0h2m2 0h2M0 48m76 0h2m49 0h2m2 0h2m-1 0h2m2 0h2m6 0h2m2 0h2M0 49m107 0h2m34 0h2M0 50m117 0h2M0 51m102 0h2m23 0h2m3 0h2m-1 0h2m1 0h2M0 52m94 0h2m27 0h2m15 0h2m2 0h2M0 53m96 0h2m2 0h2m27 0h2m11 0h2M0 54m133 0h2m3 0h2M0 55m125 0h2m0 0h2m3 0h2m5 0h2M0 56m114 0h2m17 0h2m-1 0h2m-1 0h2m1 0h2m4 0h2M0 57m130 0h2m0 0h2m0 0h2m-1 0h2m6 0h2m-1 0h2m-1 0h2m-1 0h2M0 58m115 0h2m11 0h2m10 0h2M0 59m128 0h2m4 0h2m0 0h2M0 60m131 0h2m3 0h2m-1 0h2m-1 0h2m-1 0h2M0 61m132 0h2m8 0h2M0 62m113 0h2m21 0h2m-1 0h2m-1 0h2m1 0h2m-1 0h2m2 0h2M0 64m131 0h2m1 0h2m0 0h2m1 0h2m1 0h2m-1 0h2M0 65m140 0h2m4 0h2M0 66m129 0h2m12 0h2m-1 0h2m-1 0h2M0 67m135 0h2m-1 0h2m1 0h2m-1 0h2m1 0h2m-1 0h2m0 0h2M0 68m133 0h2m-1 0h2m-1 0h2m-1 0h2m0 0h2m1 0h2m1 0h2M0 69m131 0h2m-1 0h2m1 0h2m0 0h2m-1 0h2m3 0h2M0 70m139 0h2m1 0h2m-1 0h2M0 71m128 0h2m5 0h2M0 72m133 0h2m0 0h2m-1 0h2m3 0h2m0 0h2m3 0h2m0 0h2m-1 0h2M0 73m131 0h2m-1 0h2m2 0h2m7 0h2m2 0h2m-1 0h2m-1 0h2M0 74m129 0h2m-1 0h2m0 0h2m7 0h2M0 75m128 0h2m3 0h2m-1 0h2m-1 0h2m-1 0h2m2 0h2m-1 0h2m-1 0h2m0 0h2m-1 0h2M0 76m117 0h2m0 0h2m6 0h2m3 0h2m0 0h2m-1 0h2m13 0h2M0 77m107 0h2m20 0h2m0 0h2m-1 0h2m0 0h2m1 0h2m-1 0h2m-1 0h2m6 0h2M0 78m129 0h2m-1 0h2m4 0h2m0 0h2m0 0h2m1 0h2m1 0h2m2 0h2M0 79m121 0h2m11 0h2m0 0h2m3 0h2m0 0h2m0 0h2M0 80m106 0h2m24 0h2m-1 0h2m3 0h2m2 0h2m1 0h2M0 81m116 0h2m11 0h2m1 0h2m0 0h2m0 0h2m0 0h2m1 0h2m0 0h2m2 0h2M0 82m130 0h2m5 0h2m1 0h2m1 0h2m0 0h2m-1 0h2m1 0h2m2 0h2M0 83m122 0h2m4 0h2m3 0h2m-1 0h2m1 0h2m-1 0h2m-1 0h2m3 0h2M0 84m123 0h2m0 0h2m1 0h2m2 0h2m7 0h2m-1 0h2m5 0h2M0 85m139 0h2m5 0h2m7 0h2M0 86m133 0h2m1 0h2m1 0h2m-1 0h2m-1 0h2m-1 0h2m3 0h2m-1 0h2M0 87m127 0h2m2 0h2m7 0h2m0 0h2m0 0h2M0 88m126 0h2m5 0h2m-1 0h2m0 0h2m0 0h2m-1 0h2m1 0h2m8 0h2M0 89m136 0h2m2 0h2m-1 0h2M0 90m128 0h2m5 0h2m-1 0h2M0 91m110 0h2m0 0h2m0 0h2m13 0h2m4 0h2m0 0h2m0 0h2m2 0h2M0 92m131 0h2m0 0h2m2 0h2m-1 0h2m-1 0h2m-1 0h2M0 93m130 0h2m1 0h2m4 0h2m0 0h2M0 94m120 0h2m3 0h2m18 0h2M0 95m116 0h2m2 0h2m3 0h2m12 0h2M0 96m122 0h2m2 0h2m13 0h2m4 0h2M0 97m127 0h2m4 0h2m0 0h2M0 98m127 0h2m4 0h2m0 0h2m1 0h2m8 0h2M0 99m118 0h2m1 0h2m7 0h2m1 0h2m6 0h2M0 100m114 0h2m15 0h2m4 0h2M0 101m133 0h2m7 0h2M0 102m111 0h2m17 0h2m0 0h2m3 0h2M0 103m119 0h2m6 0h2m4 0h2m0 0h2m10 0h2M0 104m117 0h2m4 0h2m2 0h2m8 0h2m0 0h2m-1 0h2M0 105m127 0h2m-1 0h2m0 0h2m-1 0h2m12 0h2M0 106m115 0h2m17 0h2M0 107m122 0h2m9 0h2M0 108m117 0h2m13 0h2m3 0h2m1 0h2M0 109m114 0h2m16 0h2M0 110m114 0h2m11 0h2m0 0h2m-1 0h2m5 0h2M0 111m121 0h2m12 0h2m0 0h2m0 0h2m4 0h2M0 113m132 0h2m18 0h2M0 114m124 0h2m13 0h2M0 115m118 0h2m8 0h2m16 0h2M0 116m131 0h2M0 117m131 0h2M0 118m131 0h2m5 0h2M0 119m147 0h2M0 120m126 0h2m4 0h2m7 0h2M0 121m133 0h2M0 122m126 0h2M0 125m120 0h2M0 128m129 0h2M0 129m108 0h2M0 130m130 0h2M0 134m126 0h2M0 137m109 0h2"/>
<path stroke-opacity=".37" d="M0 6m134 0h2M0 7m77 0h2M0 8m81 0h2M0 10m59 0h2m34 0h2m94 0h2M0 11m38 0h2m44 0h2m123 0h2M0 13m87 0h2m49 0h2M0 14m106 0h2m13 0h2M0 15m49 0h2M0 16m86 0h2m65 0h2M0 17m125 0h2M0 18m54 0h2m34 0h2m32 0h2M0 19m101 0h2m25 0h2M0 20m80 0h2m28 0h2m7 0h2M0 21m77 0h2m44 0h2M0 22m73 0h2m39 0h2M0 23m101 0h2m-1 0h2m2 0h2m1 0h2m4 0h2M0 24m74 0h2m12 0h2m14 0h2m5 0h2m24 0h2m10 0h2M0 26m76 0h2m7 0h2m9 0h2m18 0h2m9 0h2m1 0h2M0 27m58 0h2m33 0h2m-1 0h2m3 0h2m11 0h2m1 0h2m2 0h2m1 0h2M0 28m75 0h2m4 0h2m2 0h2m3 0h2m2 0h2m2 0h2m16 0h2M0 29m45 0h2m36 0h2m3 0h2m13 0h2m1 0h2m17 0h2M0 30m70 0h2m1 0h2m6 0h2m12 0h2m1 0h2m1 0h2m5 0h2m-1 0h2m1 0h2m0 0h2m4 0h2m3 0h2m5 0h2m1 0h2m26 0h2M0 31m32 0h2m58 0h2m8 0h2m5 0h2m-1 0h2m-1 0h2m-1 0h2m5 0h2m11 0h2m9 0h2M0 32m73 0h2m3 0h2m0 0h2m0 0h2m5 0h2m6 0h2m3 0h2m-1 0h2m2 0h2m2 0h2m-1 0h2m0 0h2m2 0h2m22 0h2M0 33m41 0h2m28 0h2m5 0h2m3 0h2m9 0h2m6 0h2m7 0h2m2 0h2m2 0h2m7 0h2m1 0h2M0 34m76 0h2m4 0h2m8 0h2m0 0h2m2 0h2m8 0h2m5 0h2m0 0h2m0 0h2m-1 0h2m-1 0h2M0 35m57 0h2m26 0h2m7 0h2m2 0h2m0 0h2m-1 0h2m0 0h2m3 0h2m1 0h2m1 0h2m7 0h2m12 0h2M0 36m86 0h2m4 0h2m-1 0h2m0 0h2m1 0h2m3 0h2m-1 0h2m6 0h2m-1 0h2m1 0h2m2 0h2m9 0h2m4 0h2m3 0h2m4 0h2M0 37m59 0h2m7 0h2m-1 0h2m27 0h2m1 0h2m2 0h2m-1 0h2m-1 0h2m3 0h2m-1 0h2m0 0h2m0 0h2m-1 0h2m1 0h2m-1 0h2m4 0h2m3 0h2m1 0h2m6 0h2M0 38m58 0h2m10 0h2m3 0h2m8 0h2m4 0h2m2 0h2m2 0h2m0 0h2m4 0h2m9 0h2m4 0h2m7 0h2M0 39m18 0h2m39 0h2m6 0h2m8 0h2m9 0h2m2 0h2m0 0h2m1 0h2m-1 0h2m0 0h2m0 0h2m0 0h2m2 0h2m4 0h2m-1 0h2m-1 0h2m3 0h2m-1 0h2m2 0h2m0 0h2m5 0h2m64 0h2M0 40m68 0h2m8 0h2m0 0h2m13 0h2m0 0h2m2 0h2m-1 0h2m-1 0h2m4 0h2m2 0h2m0 0h2m1 0h2m0 0h2m-1 0h2m0 0h2m-1 0h2m-1 0h2m5 0h2m2 0h2m5 0h2m7 0h2M0 41m55 0h2m9 0h2m1 0h2m2 0h2m6 0h2m7 0h2m-1 0h2m-1 0h2m0 0h2m6 0h2m2 0h2m0 0h2m0 0h2m-1 0h2m0 0h2m0 0h2m1 0h2m-1 0h2m-1 0h2m-1 0h2m0 0h2m1 0h2m2 0h2m-1 0h2m2 0h2m0 0h2m8 0h2m0 0h2m7 0h2m44 0h2M0 42m75 0h2m1 0h2m-1 0h2m5 0h2m7 0h2m-1 0h2m1 0h2m-1 0h2m0 0h2m4 0h2m-1 0h2m3 0h2m0 0h2m2 0h2m-1 0h2m1 0h2m-1 0h2m4 0h2m6 0h2M0 43m59 0h2m-1 0h2m0 0h2m11 0h2m-1 0h2m17 0h2m2 0h2m0 0h2m1 0h2m1 0h2m-1 0h2m-1 0h2m1 0h2m3 0h2m2 0h2m0 0h2m1 0h2m3 0h2m2 0h2m-1 0h2m4 0h2M0 44m74 0h2m12 0h2m-1 0h2m4 0h2m-1 0h2m0 0h2m3 0h2m6 0h2m-1 0h2m4 0h2m0 0h2m-1 0h2m1 0h2m-1 0h2m0 0h2m4 0h2m3 0h2m0 0h2m7 0h2m31 0h2M0 45m72 0h2m3 0h2m9 0h2m0 0h2m-1 0h2m2 0h2m4 0h2m2 0h2m1 0h2m-1 0h2m-1 0h2m5 0h2m-1 0h2m2 0h2m1 0h2m2 0h2m6 0h2M0 46m16 0h2m81 0h2m3 0h2m-1 0h2m3 0h2m-1 0h2m-1 0h2m-1 0h2m1 0h2m-1 0h2m1 0h2m0 0h2m4 0h2m-1 0h2m1 0h2m14 0h2m5 0h2M0 47m84 0h2m8 0h2m0 0h2m2 0h2m-1 0h2m0 0h2m3 0h2m-1 0h2m3 0h2m-1 0h2m-1 0h2m1 0h2m1 0h2m0 0h2m1 0h2m3 0h2m2 0h2m-1 0h2m8 0h2M0 48m74 0h2m2 0h2m5 0h2m-1 0h2m0 0h2m1 0h2m3 0h2m3 0h2m1 0h2m1 0h2m1 0h2m-1 0h2m-1 0h2m0 0h2m2 0h2m2 0h2m10 0h2m4 0h2M0 49m66 0h2m3 0h2m1 0h2m7 0h2m3 0h2m5 0h2m-1 0h2m5 0h2m-1 0h2m-1 0h2m2 0h2m1 0h2m0 0h2m0 0h2m-1 0h2m1 0h2m2 0h2m-1 0h2m0 0h2m1 0h2m3 0h2m-1 0h2m5 0h2m8 0h2M0 50m81 0h2m12 0h2m9 0h2m0 0h2m1 0h2m3 0h2m0 0h2m-1 0h2m-1 0h2m3 0h2m-1 0h2m17 0h2m6 0h2m1 0h2m26 0h2M0 51m11 0h2m44 0h2m11 0h2m14 0h2m10 0h2m3 0h2m-1 0h2m10 0h2m3 0h2m1 0h2m-1 0h2m1 0h2m-1 0h2m5 0h2m5 0h2m-1 0h2M0 52m50 0h2m0 0h2m3 0h2m22 0h2m0 0h2m0 0h2m5 0h2m2 0h2m5 0h2m4 0h2m0 0h2m-1 0h2m2 0h2m1 0h2m-1 0h2m-1 0h2m-1 0h2m-1 0h2m11 0h2m-1 0h2m2 0h2m2 0h2M0 53m12 0h2m60 0h2m1 0h2m-1 0h2m1 0h2m-1 0h2m6 0h2m5 0h2m6 0h2m1 0h2m6 0h2m4 0h2m3 0h2m1 0h2m0 0h2m4 0h2m2 0h2M0 54m40 0h2m12 0h2m29 0h2m14 0h2m12 0h2m3 0h2m2 0h2m2 0h2m-1 0h2m6 0h2m14 0h2m1 0h2M0 55m33 0h2m4 0h2m14 0h2m13 0h2m2 0h2m5 0h2m2 0h2m6 0h2m0 0h2m1 0h2m2 0h2m6 0h2m-1 0h2m1 0h2m4 0h2m7 0h2m4 0h2m1 0h2m7 0h2M0 56m38 0h2m28 0h2m19 0h2m-1 0h2m7 0h2m5 0h2m6 0h2m9 0h2m-1 0h2m-1 0h2m7 0h2m10 0h2m-1 0h2M0 57m77 0h2m1 0h2m0 0h2m0 0h2m4 0h2m4 0h2m6 0h2m0 0h2m14 0h2m2 0h2m0 0h2m5 0h2m-1 0h2m0 0h2m-1 0h2M0 58m18 0h2m7 0h2m19 0h2m38 0h2m5 0h2m2 0h2m3 0h2m-1 0h2m6 0h2m-1 0h2m19 0h2m-1 0h2M0 59m65 0h2m4 0h2m-1 0h2m6 0h2m6 0h2m0 0h2m2 0h2m2 0h2m6 0h2m12 0h2m7 0h2m4 0h2M0 60m27 0h2m20 0h2m29 0h2m12 0h2m4 0h2m-1 0h2m15 0h2m15 0h2m9 0h2M0 61m18 0h2m2 0h2m33 0h2m10 0h2m3 0h2m21 0h2m2 0h2m14 0h2m20 0h2m2 0h2M0 62m37 0h2m36 0h2m27 0h2m-1 0h2m-1 0h2m0 0h2m1 0h2m0 0h2m1 0h2m12 0h2m2 0h2m0 0h2M0 63m65 0h2m0 0h2m0 0h2m6 0h2m15 0h2m3 0h2m13 0h2m-1 0h2m17 0h2M0 64m5 0h2m7 0h2m23 0h2m50 0h2m7 0h2m3 0h2m7 0h2m3 0h2m7 0h2M0 65m79 0h2m19 0h2m7 0h2m-1 0h2m5 0h2m24 0h2M0 66m30 0h2m9 0h2m13 0h2m24 0h2m16 0h2m23 0h2m6 0h2m2 0h2m2 0h2M0 67m77 0h2m1 0h2m10 0h2m16 0h2m9 0h2m3 0h2m13 0h2M0 68m47 0h2m11 0h2m1 0h2m19 0h2m6 0h2m2 0h2m14 0h2m10 0h2m3 0h2m76 0h2M0 69m65 0h2m2 0h2m4 0h2m-1 0h2m1 0h2m5 0h2m2 0h2m0 0h2m17 0h2m1 0h2m3 0h2m0 0h2M0 70m36 0h2m11 0h2m18 0h2m8 0h2m6 0h2m5 0h2m-1 0h2m0 0h2m28 0h2m25 0h2m4 0h2M0 71m41 0h2m47 0h2m-1 0h2m2 0h2m14 0h2m21 0h2m3 0h2m4 0h2m7 0h2M0 72m32 0h2m32 0h2m11 0h2m8 0h2m6 0h2m0 0h2m1 0h2m-1 0h2m0 0h2m35 0h2m-1 0h2m7 0h2M0 73m37 0h2m3 0h2m18 0h2m11 0h2m5 0h2m17 0h2m36 0h2m15 0h2M0 74m32 0h2m4 0h2m37 0h2m19 0h2m11 0h2m9 0h2M0 75m42 0h2m17 0h2m11 0h2m39 0h2m17 0h2m2 0h2M0 76m14 0h2m27 0h2m13 0h2m9 0h2m24 0h2m4 0h2m2 0h2m14 0h2m11 0h2m1 0h2m30 0h2M0 77m56 0h2m5 0h2m2 0h2m2 0h2m6 0h2m24 0h2m4 0h2m9 0h2m14 0h2M0 78m30 0h2m14 0h2m19 0h2m55 0h2m6 0h2m-1 0h2m19 0h2m38 0h2M0 79m19 0h2m28 0h2m32 0h2m17 0h2m9 0h2m2 0h2m21 0h2m37 0h2M0 80m40 0h2m10 0h2m10 0h2m10 0h2m8 0h2m-1 0h2m18 0h2m0 0h2m3 0h2m1 0h2m7 0h2m-1 0h2m1 0h2m0 0h2M0 81m59 0h2m11 0h2m3 0h2m9 0h2m0 0h2m-1 0h2m0 0h2m7 0h2m13 0h2m15 0h2M0 82m24 0h2m62 0h2m20 0h2m-1 0h2m1 0h2m0 0h2m6 0h2m3 0h2m10 0h2m0 0h2M0 83m57 0h2m4 0h2m1 0h2m9 0h2m37 0h2m10 0h2m0 0h2m-1 0h2m1 0h2M0 84m56 0h2m18 0h2m15 0h2m7 0h2m13 0h2m-1 0h2m5 0h2m3 0h2m1 0h2m8 0h2m0 0h2M0 85m34 0h2m35 0h2m3 0h2m3 0h2m11 0h2m18 0h2m0 0h2m2 0h2m1 0h2m-1 0h2m6 0h2m2 0h2m2 0h2m21 0h2M0 86m56 0h2m16 0h2m6 0h2m13 0h2m2 0h2m0 0h2m-1 0h2m12 0h2m15 0h2M0 87m9 0h2m42 0h2m11 0h2m3 0h2m3 0h2m1 0h2m10 0h2m-1 0h2m7 0h2m15 0h2m10 0h2m-1 0h2M0 88m43 0h2m10 0h2m31 0h2m6 0h2m4 0h2m1 0h2m1 0h2m6 0h2m4 0h2m5 0h2m-1 0h2m-1 0h2m-1 0h2M0 89m62 0h2m22 0h2m2 0h2m8 0h2m-1 0h2m10 0h2m-1 0h2m2 0h2m6 0h2m3 0h2m-1 0h2m0 0h2m20 0h2M0 90m47 0h2m3 0h2m20 0h2m1 0h2m7 0h2m10 0h2m9 0h2m8 0h2m-1 0h2m9 0h2m-1 0h2m0 0h2m5 0h2m57 0h2M0 91m40 0h2m3 0h2m29 0h2m2 0h2m7 0h2m0 0h2m2 0h2m8 0h2m4 0h2m5 0h2m3 0h2m2 0h2m-1 0h2m0 0h2m-1 0h2m0 0h2m-1 0h2m11 0h2M0 92m77 0h2m22 0h2m3 0h2m1 0h2m0 0h2m-1 0h2m15 0h2M0 93m51 0h2m10 0h2m19 0h2m3 0h2m10 0h2m6 0h2m5 0h2m0 0h2m1 0h2m6 0h2m1 0h2m-1 0h2m6 0h2M0 94m56 0h2m13 0h2m13 0h2m2 0h2m7 0h2m16 0h2m13 0h2m3 0h2m-1 0h2M0 95m35 0h2m11 0h2m16 0h2m28 0h2m6 0h2m13 0h2m2 0h2m-1 0h2m4 0h2m3 0h2m0 0h2m3 0h2m1 0h2M0 96m58 0h2m14 0h2m10 0h2m6 0h2m2 0h2m4 0h2m-1 0h2m2 0h2m8 0h2m2 0h2m5 0h2m-1 0h2m-1 0h2m3 0h2m0 0h2m65 0h2M0 97m80 0h2m5 0h2m17 0h2m6 0h2m5 0h2m1 0h2m-1 0h2m0 0h2m3 0h2m-1 0h2m-1 0h2m13 0h2M0 98m50 0h2m44 0h2m1 0h2m5 0h2m1 0h2m4 0h2m3 0h2m-1 0h2m-1 0h2m2 0h2m-1 0h2m6 0h2m73 0h2M0 99m46 0h2m32 0h2m12 0h2m2 0h2m2 0h2m3 0h2m5 0h2m1 0h2m2 0h2m-1 0h2m7 0h2m2 0h2M0 100m59 0h2m11 0h2m3 0h2m5 0h2m6 0h2m6 0h2m5 0h2m1 0h2m1 0h2m4 0h2m-1 0h2m1 0h2m2 0h2m-1 0h2m1 0h2m3 0h2m-1 0h2m1 0h2M0 101m59 0h2m5 0h2m17 0h2m-1 0h2m10 0h2m19 0h2m3 0h2m0 0h2m0 0h2m7 0h2m8 0h2m0 0h2M0 102m53 0h2m15 0h2m1 0h2m2 0h2m10 0h2m12 0h2m10 0h2m7 0h2M0 103m9 0h2m68 0h2m12 0h2m2 0h2m9 0h2m4 0h2m4 0h2m21 0h2M0 104m68 0h2m12 0h2m-1 0h2m5 0h2m18 0h2m9 0h2m2 0h2m3 0h2m0 0h2m4 0h2m-1 0h2m-1 0h2M0 105m97 0h2m25 0h2m3 0h2m-1 0h2m-1 0h2m0 0h2m-1 0h2M0 106m56 0h2m0 0h2m5 0h2m18 0h2m16 0h2m-1 0h2m2 0h2m13 0h2m6 0h2m-1 0h2m-1 0h2m2 0h2m6 0h2m4 0h2M0 107m37 0h2m49 0h2m13 0h2m7 0h2m4 0h2m-1 0h2m11 0h2m0 0h2m0 0h2m0 0h2m3 0h2m6 0h2M0 108m69 0h2m32 0h2m4 0h2m1 0h2m11 0h2m2 0h2m2 0h2M0 109m50 0h2m5 0h2m0 0h2m7 0h2m7 0h2m4 0h2m1 0h2m17 0h2m5 0h2m0 0h2m6 0h2m1 0h2m1 0h2m6 0h2m5 0h2m10 0h2m0 0h2M0 110m60 0h2m11 0h2m44 0h2m1 0h2m4 0h2m0 0h2m4 0h2m7 0h2m11 0h2M0 111m70 0h2m-1 0h2m2 0h2m0 0h2m19 0h2m-1 0h2m2 0h2m3 0h2m3 0h2m3 0h2m6 0h2m0 0h2m4 0h2m0 0h2m4 0h2m-1 0h2m53 0h2M0 112m59 0h2m10 0h2m15 0h2m5 0h2m3 0h2m-1 0h2m-1 0h2m3 0h2m19 0h2M0 113m64 0h2m14 0h2m3 0h2m6 0h2m6 0h2m13 0h2m2 0h2m4 0h2m-1 0h2m1 0h2m2 0h2m0 0h2m3 0h2M0 114m12 0h2m66 0h2m-1 0h2m1 0h2m3 0h2m4 0h2m19 0h2m2 0h2m0 0h2m-1 0h2m2 0h2m2 0h2m0 0h2m-1 0h2m11 0h2M0 115m74 0h2m1 0h2m7 0h2m4 0h2m1 0h2m2 0h2m13 0h2m2 0h2m0 0h2m-1 0h2m0 0h2m-1 0h2m10 0h2m-1 0h2m-1 0h2m69 0h2M0 116m20 0h2m33 0h2m12 0h2m11 0h2m24 0h2m5 0h2m1 0h2m-1 0h2m0 0h2m2 0h2m0 0h2m20 0h2M0 117m29 0h2m31 0h2m5 0h2m5 0h2m1 0h2m1 0h2m2 0h2m11 0h2m3 0h2m7 0h2m8 0h2m4 0h2m9 0h2M0 118m22 0h2m45 0h2m1 0h2m21 0h2m12 0h2m6 0h2m4 0h2m13 0h2m44 0h2M0 119m103 0h2m6 0h2m0 0h2m-1 0h2m-1 0h2m4 0h2m5 0h2m0 0h2m9 0h2M0 120m42 0h2m41 0h2m8 0h2m5 0h2m0 0h2m3 0h2m1 0h2m1 0h2m5 0h2m0 0h2m3 0h2m2 0h2m0 0h2m-1 0h2m0 0h2m7 0h2M0 121m71 0h2m15 0h2m4 0h2m4 0h2m6 0h2M0 122m54 0h2m23 0h2m-1 0h2m8 0h2m3 0h2m-1 0h2m1 0h2m-1 0h2m9 0h2m-1 0h2m-1 0h2m3 0h2M0 123m70 0h2m3 0h2m1 0h2m24 0h2m14 0h2m4 0h2m8 0h2m2 0h2M0 124m57 0h2m43 0h2m-1 0h2m-1 0h2m0 0h2m0 0h2m-1 0h2m17 0h2M0 125m73 0h2m0 0h2m7 0h2m2 0h2m-1 0h2m8 0h2m-1 0h2m6 0h2m4 0h2m8 0h2m0 0h2m0 0h2m1 0h2m-1 0h2m1 0h2M0 126m25 0h2m21 0h2m38 0h2m16 0h2m13 0h2m1 0h2m-1 0h2m-1 0h2m11 0h2m0 0h2m9 0h2m1 0h2M0 127m60 0h2m7 0h2m6 0h2m2 0h2m0 0h2m-1 0h2m-1 0h2m2 0h2m7 0h2m-1 0h2m0 0h2m0 0h2m0 0h2m-1 0h2m-1 0h2m9 0h2m12 0h2m-1 0h2M0 128m66 0h2m3 0h2m0 0h2m-1 0h2m-1 0h2m5 0h2m1 0h2m5 0h2m-1 0h2m1 0h2m0 0h2m-1 0h2m-1 0h2m-1 0h2m-1 0h2m-1 0h2m5 0h2m0 0h2m4 0h2m3 0h2m3 0h2m9 0h2m45 0h2M0 129m41 0h2m32 0h2m1 0h2m-1 0h2m-1 0h2m1 0h2m1 0h2m-1 0h2m5 0h2m5 0h2m1 0h2m-1 0h2m3 0h2m-1 0h2m13 0h2m13 0h2M0 130m59 0h2m-1 0h2m1 0h2m6 0h2m5 0h2m1 0h2m4 0h2m2 0h2m3 0h2m1 0h2m0 0h2m0 0h2m3 0h2M0 131m52 0h2m25 0h2m1 0h2m0 0h2m1 0h2m3 0h2m-1 0h2m0 0h2m-1 0h2m4 0h2m33 0h2M0 132m5 0h2m54 0h2m1 0h2m1 0h2m0 0h2m2 0h2m5 0h2m-1 0h2m1 0h2m0 0h2m2 0h2m2 0h2m0 0h2m4 0h2m0 0h2m0 0h2m6 0h2M0 133m61 0h2m1 0h2m2 0h2m7 0h2m-1 0h2m15 0h2m-1 0h2m-1 0h2m-1 0h2m-1 0h2m3 0h2m2 0h2m-1 0h2m1 0h2m1 0h2m8 0h2m4 0h2m5 0h2M0 134m20 0h2m3 0h2m40 0h2m0 0h2m1 0h2m11 0h2m-1 0h2m-1 0h2m-1 0h2m4 0h2m0 0h2m-1 0h2m1 0h2m7 0h2M0 135m35 0h2m24 0h2m0 0h2m5 0h2m1 0h2m1 0h2m1 0h2m3 0h2m8 0h2m-1 0h2m0 0h2m6 0h2m8 0h2M0 136m73 0h2m1 0h2m2 0h2m-1 0h2m5 0h2m-1 0h2m4 0h2m1 0h2m7 0h2m1 0h2m3 0h2m0 0h2m0 0h2m3 0h2M0 137m12 0h2m13 0h2m28 0h2m-1 0h2m4 0h2m3 0h2m4 0h2m1 0h2m1 0h2m1 0h2m8 0h2m2 0h2m5 0h2m14 0h2m77 0h2M0 138m32 0h2m13 0h2m-1 0h2m12 0h2m1 0h2m1 0h2m6 0h2m3 0h2m0 0h2m1 0h2m1 0h2m1 0h2m1 0h2m1 0h2m-1 0h2m12 0h2M0 139m37 0h2m11 0h2m8 0h2m0 0h2m-1 0h2m1 0h2m0 0h2m6 0h2m0 0h2m-1 0h2m-1 0h2m0 0h2m-1 0h2m0 0h2m-1 0h2m1 0h2m3 0h2m4 0h2m2 0h2m23 0h2M0 140m27 0h2m4 0h2m28 0h2m1 0h2m-1 0h2m3 0h2m-1 0h2m0 0h2m0 0h2m1 0h2m1 0h2m1 0h2m-1 0h2m5 0h2m5 0h2m0 0h2m0 0h2m10 0h2M0 141m43 0h2m4 0h2m-1 0h2m13 0h2m0 0h2m-1 0h2m6 0h2m0 0h2m1 0h2m0 0h2m0 0h2m1 0h2m5 0h2m-1 0h2m-1 0h2m2 0h2m8 0h2M0 142m43 0h2m13 0h2m0 0h2m3 0h2m1 0h2m2 0h2m0 0h2m1 0h2m0 0h2m2 0h2m2 0h2m2 0h2m8 0h2m6 0h2m2 0h2M0 143m24 0h2m17 0h2m5 0h2m2 0h2m0 0h2m8 0h2m0 0h2m0 0h2m1 0h2m6 0h2m-1 0h2m0 0h2m1 0h2m-1 0h2m1 0h2m18 0h2m0 0h2m75 0h2M0 144m37 0h2m1 0h2m7 0h2m4 0h2m0 0h2m2 0h2m2 0h2m1 0h2m2 0h2m-1 0h2m-1 0h2m0 0h2m0 0h2m-1 0h2m6 0h2m3 0h2m4 0h2m5 0h2M0 145m43 0h2m4 0h2m-1 0h2m5 0h2m-1 0h2m-1 0h2m6 0h2m0 0h2m0 0h2m2 0h2m1 0h2m-1 0h2m1 0h2m0 0h2m16 0h2M0 146m6 0h2m45 0h2m8 0h2m1 0h2m-1 0h2m-1 0h2m-1 0h2m-1 0h2m0 0h2m-1 0h2m1 0h2m-1 0h2m0 0h2m0 0h2m-1 0h2m-1 0h2m1 0h2m-1 0h2m-1 0h2m2 0h2m2 0h2m0 0h2M0 147m44 0h2m9 0h2m0 0h2m-1 0h2m3 0h2m-1 0h2m-1 0h2m1 0h2m2 0h2m1 0h2m1 0h2m-1 0h2m-1 0h2m-1 0h2m0 0h2m1 0h2m0 0h2m-1 0h2m4 0h2M0 148m32 0h2m22 0h2m0 0h2m2 0h2m1 0h2m-1 0h2m0 0h2m1 0h2m1 0h2m0 0h2m1 0h2m1 0h2m-1 0h2m4 0h2m2 0h2m-1 0h2m2 0h2m-1 0h2m30 0h2M0 149m49 0h2m0 0h2m-1 0h2m6 0h2m0 0h2m3 0h2m3 0h2m5 0h2m2 0h2m6 0h2m-1 0h2m0 0h2m8 0h2m-1 0h2m68 0h2M0 150m36 0h2m1 0h2m-1 0h2m2 0h2m3 0h2m-1 0h2m2 0h2m0 0h2m-1 0h2m-1 0h2m8 0h2m-1 0h2m1 0h2m-1 0h2m-1 0h2m3 0h2m4 0h2m3 0h2m0 0h2m13 0h2m33 0h2M0 151m25 0h2m5 0h2m1 0h2m3 0h2m12 0h2m-1 0h2m1 0h2m2 0h2m-1 0h2m1 0h2m3 0h2m14 0h2m0 0h2m0 0h2m4 0h2m-1 0h2m56 0h2m21 0h2M0 152m35 0h2m0 0h2m-1 0h2m0 0h2m-1 0h2m3 0h2m5 0h2m-1 0h2m1 0h2m0 0h2m-1 0h2m-1 0h2m-1 0h2m1 0h2m0 0h2m0 0h2m1 0h2m7 0h2m10 0h2m5 0h2m-1 0h2m3 0h2M0 153m5 0h2m12 0h2m3 0h2m16 0h2m8 0h2m4 0h2m0 0h2m1 0h2m-1 0h2m-1 0h2m-1 0h2m0 0h2m0 0h2m-1 0h2m4 0h2m-1 0h2m8 0h2m1 0h2m4 0h2M0 154m35 0h2m1 0h2m14 0h2m4 0h2m3 0h2m3 0h2m1 0h2m-1 0h2m0 0h2m0 0h2m-1 0h2m6 0h2m5 0h2m-1 0h2m2 0h2M0 155m17 0h2m16 0h2m-1 0h2m1 0h2m8 0h2m3 0h2m3 0h2m0 0h2m2 0h2m6 0h2m3 0h2m-1 0h2m0 0h2m2 0h2m0 0h2m-1 0h2m4 0h2M0 156m18 0h2m8 0h2m3 0h2m5 0h2m0 0h2m5 0h2m2 0h2m-1 0h2m11 0h2m0 0h2m0 0h2m8 0h2m42 0h2M0 157m15 0h2m11 0h2m3 0h2m3 0h2m5 0h2m-1 0h2m2 0h2m1 0h2m3 0h2m-1 0h2m-1 0h2m-1 0h2m1 0h2m0 0h2m-1 0h2m-1 0h2m2 0h2m24 0h2M0 158m15 0h2m7 0h2m21 0h2m1 0h2m3 0h2m0 0h2m4 0h2m2 0h2m11 0h2m-1 0h2m15 0h2m110 0h2M0 159m19 0h2m3 0h2m0 0h2m6 0h2m2 0h2m3 0h2m2 0h2m4 0h2m0 0h2m0 0h2m5 0h2m-1 0h2m1 0h2m-1 0h2m3 0h2m0 0h2m-1 0h2m-1 0h2m0 0h2m7 0h2m-1 0h2m-1 0h2m-1 0h2m10 0h2M0 160m8 0h2m5 0h2m7 0h2m3 0h2m5 0h2m2 0h2m10 0h2m0 0h2m-1 0h2m-1 0h2m2 0h2m1 0h2m-1 0h2m-1 0h2m0 0h2m-1 0h2m-1 0h2m-1 0h2m1 0h2m1 0h2m3 0h2m3 0h2m-1 0h2m10 0h2m2 0h2M0 161m12 0h2m-1 0h2m6 0h2m3 0h2m3 0h2m5 0h2m8 0h2m3 0h2m-1 0h2m6 0h2m-1 0h2m1 0h2m2 0h2m8 0h2m2 0h2m1 0h2m-1 0h2m1 0h2m9 0h2M0 162m22 0h2m-1 0h2m11 0h2m4 0h2m-1 0h2m5 0h2m-1 0h2m6 0h2m0 0h2m-1 0h2m1 0h2m15 0h2m11 0h2m-1 0h2m4 0h2m9 0h2M0 163m10 0h2m27 0h2m4 0h2m14 0h2m9 0h2m-1 0h2m6 0h2m-1 0h2m-1 0h2m-1 0h2m1 0h2m3 0h2m0 0h2M0 164m8 0h2m3 0h2m9 0h2m8 0h2m3 0h2m3 0h2m2 0h2m0 0h2m3 0h2m-1 0h2m4 0h2m3 0h2m2 0h2m0 0h2m0 0h2m-1 0h2m9 0h2m2 0h2m1 0h2m15 0h2m81 0h2M0 165m10 0h2m11 0h2m12 0h2m8 0h2m4 0h2m0 0h2m5 0h2m0 0h2m2 0h2m2 0h2m-1 0h2m4 0h2m3 0h2m8 0h2m12 0h2M0 166m20 0h2m3 0h2m4 0h2m1 0h2m-1 0h2m6 0h2m3 0h2m2 0h2m2 0h2m-1 0h2m0 0h2m2 0h2m-1 0h2m15 0h2m6 0h2M0 167m15 0h2m2 0h2m0 0h2m3 0h2m10 0h2m0 0h2m-1 0h2m2 0h2m-1 0h2m8 0h2m-1 0h2m10 0h2m2 0h2m4 0h2m3 0h2m4 0h2m5 0h2m4 0h2m56 0h2M0 168m19 0h2m11 0h2m10 0h2m1 0h2m1 0h2m0 0h2m8 0h2m7 0h2m2 0h2m8 0h2m2 0h2m6 0h2M0 169m15 0h2m5 0h2m10 0h2m0 0h2m7 0h2m3 0h2m-1 0h2m11 0h2m1 0h2m18 0h2M0 170m6 0h2m32 0h2m7 0h2m6 0h2m0 0h2m3 0h2m0 0h2m-1 0h2m0 0h2M0 171m16 0h2m9 0h2m-1 0h2m12 0h2m7 0h2m4 0h2m2 0h2m4 0h2m-1 0h2m4 0h2m-1 0h2m8 0h2m25 0h2M0 172m14 0h2m15 0h2m3 0h2m2 0h2m5 0h2m17 0h2m2 0h2m-1 0h2m0 0h2m-1 0h2m0 0h2m3 0h2m38 0h2M0 173m13 0h2m28 0h2m1 0h2m0 0h2m-1 0h2m0 0h2m5 0h2m5 0h2m0 0h2m-1 0h2m7 0h2m10 0h2m2 0h2m3 0h2m38 0h2M0 174m4 0h2m18 0h2m8 0h2m18 0h2m10 0h2m2 0h2m7 0h2m4 0h2m9 0h2m7 0h2m1 0h2M0 175m10 0h2m27 0h2m0 0h2m6 0h2m9 0h2m0 0h2m-1 0h2m1 0h2m0 0h2m14 0h2m1 0h2M0 176m11 0h2m0 0h2m-1 0h2m10 0h2m-1 0h2m15 0h2m17 0h2m-1 0h2m5 0h2m4 0h2m0 0h2m1 0h2M0 177m5 0h2m3 0h2m-1 0h2m2 0h2m8 0h2m2 0h2m2 0h2m-1 0h2m4 0h2m2 0h2m3 0h2m24 0h2m120 0h2M0 178m29 0h2m9 0h2m6 0h2m0 0h2m-1 0h2m-1 0h2m2 0h2m1 0h2m35 0h2M0 179m21 0h2m6 0h2m3 0h2m10 0h2m1 0h2m13 0h2m6 0h2m18 0h2M0 180m12 0h2m2 0h2m-1 0h2m4 0h2m1 0h2m-1 0h2m7 0h2m9 0h2m-1 0h2m8 0h2m-1 0h2m2 0h2m16 0h2m42 0h2M0 181m5 0h2m11 0h2m1 0h2m5 0h2m1 0h2m-1 0h2m0 0h2m2 0h2m2 0h2m1 0h2m4 0h2m3 0h2m10 0h2m8 0h2m6 0h2M0 182m26 0h2m-1 0h2m0 0h2m21 0h2m7 0h2m18 0h2M0 183m15 0h2m2 0h2m4 0h2m6 0h2m8 0h2m4 0h2m3 0h2m-1 0h2m5 0h2M0 184m16 0h2m15 0h2m10 0h2m1 0h2m1 0h2m4 0h2m19 0h2m6 0h2m2 0h2M0 185m25 0h2m3 0h2m1 0h2m0 0h2m0 0h2m4 0h2m0 0h2m3 0h2m3 0h2m-1 0h2m3 0h2m6 0h2m0 0h2m5 0h2M0 186m25 0h2m3 0h2m18 0h2m2 0h2m15 0h2m20 0h2M0 187m9 0h2m24 0h2m3 0h2m0 0h2m105 0h2M0 188m29 0h2m0 0h2m1 0h2m11 0h2m4 0h2m18 0h2m93 0h2M0 189m6 0h2m13 0h2m16 0h2M0 190m14 0h2m17 0h2m3 0h2m1 0h2m0 0h2m7 0h2m-1 0h2M0 191m12 0h2m21 0h2m20 0h2m59 0h2M0 192m7 0h2m3 0h2m13 0h2m1 0h2m3 0h2m6 0h2m2 0h2m-1 0h2m3 0h2m3 0h2m26 0h2M0 193m20 0h2M0 194m42 0h2m2 0h2m6 0h2m24 0h2m8 0h2M0 195m38 0h2m21 0h2m2 0h2m119 0h2M0 196m12 0h2m19 0h2M0 197m48 0h2M0 198m31 0h2m-1 0h2m0 0h2m0 0h2m30 0h2M0 199m38 0h2m-1 0h2M0 200m8 0h2m6 0h2m19 0h2M0 201m29 0h2m56 0h2m7 0h2M0 202m23 0h2m11 0h2m4 0h2m1 0h2m44 0h2M0 203m23 0h2m3 0h2m-1 0h2m4 0h2m11 0h2m11 0h2m23 0h2m13 0h2m18 0h2M0 204m45 0h2M0 205m15 0h2M0 207m152 0h2M0 208m19 0h2m7 0h2m15 0h2m104 0h2"/>
</g></g>
<path d="M0 0H107.0V107.2" fill="none" stroke="#c4c4c4" stroke-width="1"/>
<path d="M0 0V107.2" fill="none" stroke="#555" stroke-width="1.3"/>
<path d="M0 107.2H107.0" fill="none" stroke="#777" stroke-width="1"/>
<path d="M-1 2V99.2" stroke="#666" stroke-width="1.2" stroke-dasharray="0.7 1.9" fill="none"/>
<path d="M8 108.5H103.0" stroke="#888" stroke-width="1.8" stroke-dasharray="0.7 2.1" fill="none"/>
<path d="M-2.8 9.3H0" stroke="#444" stroke-width="1"/>
<path d="M-2.8 33.6H0" stroke="#444" stroke-width="1"/>
<path d="M-2.8 58.3H0" stroke="#444" stroke-width="1"/>
<path d="M-2.8 84.5H0" stroke="#444" stroke-width="1"/>
<path d="M-2.8 96.2H0" stroke="#444" stroke-width="1"/>
<path d="M11.2 107.2v3" stroke="#555" stroke-width="1"/>
<path d="M22.7 107.2v3" stroke="#555" stroke-width="1"/>
<path d="M49.2 107.2v3" stroke="#555" stroke-width="1"/>
<path d="M73.4 107.2v3" stroke="#555" stroke-width="1"/>
<path d="M97.8 107.2v3" stroke="#555" stroke-width="1"/>
<path d="M0 58.3H107.0M48.8 0V107.2" fill="none" stroke="#6e6e6e" stroke-width="1"/>
</g>
<g transform="translate(360.8 135.8)">
<g filter="url(#s)"><g transform="scale(.5)" fill="none" stroke="#000" stroke-width="2" stroke-opacity=".46">
<path d="M0 14m144 0h2M0 23m146 0h2M0 32m128 0h2M0 33m137 0h2M0 37m132 0h2m10 0h2M0 38m112 0h2M0 39m126 0h2M0 40m151 0h2M0 41m131 0h2M0 42m125 0h2M0 44m128 0h2M0 48m154 0h2M0 49m124 0h2M0 50m114 0h2m28 0h2M0 51m156 0h2M0 53m142 0h2m3 0h2M0 54m117 0h2M0 55m126 0h2m4 0h2m21 0h2M0 56m139 0h2m15 0h2M0 57m139 0h2M0 58m134 0h2M0 59m153 0h2m9 0h2M0 60m130 0h2m5 0h2M0 61m135 0h2m13 0h2M0 62m131 0h2m11 0h2m10 0h2M0 63m140 0h2m2 0h2m4 0h2M0 64m128 0h2m7 0h2M0 65m137 0h2m16 0h2M0 66m139 0h2M0 67m123 0h2m24 0h2M0 69m148 0h2M0 70m154 0h2M0 71m130 0h2m8 0h2M0 72m142 0h2M0 73m147 0h2m0 0h2m0 0h2M0 75m122 0h2m0 0h2m2 0h2m29 0h2M0 77m146 0h2M0 78m134 0h2M0 79m135 0h2m4 0h2M0 80m136 0h2m1 0h2m-1 0h2M0 81m136 0h2m4 0h2M0 82m125 0h2m14 0h2m2 0h2m9 0h2M0 83m124 0h2m19 0h2M0 84m123 0h2M0 89m138 0h2M0 90m126 0h2m20 0h2M0 91m144 0h2M0 92m142 0h2m17 0h2M0 95m132 0h2M0 96m136 0h2M0 100m151 0h2M0 101m128 0h2m8 0h2m11 0h2M0 102m145 0h2M0 103m136 0h2m3 0h2M0 104m138 0h2m-1 0h2M0 105m131 0h2m8 0h2M0 106m143 0h2M0 113m135 0h2M0 114m154 0h2M0 115m144 0h2M0 128m126 0h2"/>
<path d="M0 19m143 0h2M0 28m125 0h2M0 33m130 0h2m-1 0h2m18 0h2M0 40m147 0h2M0 41m144 0h2M0 42m116 0h2M0 44m132 0h2m15 0h2M0 45m120 0h2M0 47m132 0h2M0 48m137 0h2M0 49m149 0h2m5 0h2M0 54m143 0h2M0 55m147 0h2M0 57m132 0h2m3 0h2M0 59m148 0h2M0 60m128 0h2M0 61m143 0h2M0 62m159 0h2M0 63m130 0h2m0 0h2M0 66m123 0h2m9 0h2m10 0h2m6 0h2M0 67m126 0h2m12 0h2m18 0h2M0 69m129 0h2M0 70m144 0h2m1 0h2M0 71m124 0h2M0 73m130 0h2M0 74m134 0h2m1 0h2m9 0h2M0 75m138 0h2M0 76m133 0h2M0 77m121 0h2m17 0h2m15 0h2M0 78m126 0h2m4 0h2m1 0h2m2 0h2m16 0h2m2 0h2M0 79m121 0h2m6 0h2m2 0h2m21 0h2m6 0h2M0 80m118 0h2m6 0h2m11 0h2M0 81m149 0h2M0 82m129 0h2M0 84m120 0h2m24 0h2M0 85m145 0h2M0 86m128 0h2m16 0h2m0 0h2M0 88m123 0h2M0 90m135 0h2m13 0h2m1 0h2m6 0h2M0 91m127 0h2m25 0h2M0 92m141 0h2M0 93m149 0h2m14 0h2M0 94m114 0h2M0 95m130 0h2m2 0h2M0 96m128 0h2m3 0h2M0 97m136 0h2M0 99m134 0h2m22 0h2M0 101m128 0h2M0 102m157 0h2M0 103m137 0h2M0 104m154 0h2M0 107m127 0h2m4 0h2m17 0h2M0 109m136 0h2M0 110m113 0h2M0 112m159 0h2M0 116m151 0h2M0 120m140 0h2"/>
<path d="M0 39m129 0h2M0 41m131 0h2M0 44m145 0h2M0 45m133 0h2M0 46m133 0h2M0 47m117 0h2m32 0h2M0 48m140 0h2m1 0h2m0 0h2m3 0h2M0 49m141 0h2M0 50m118 0h2m23 0h2m0 0h2M0 51m122 0h2m11 0h2m-1 0h2M0 53m128 0h2m8 0h2M0 54m156 0h2M0 56m124 0h2m8 0h2m3 0h2M0 57m127 0h2m9 0h2m4 0h2M0 58m134 0h2M0 59m128 0h2M0 60m121 0h2m5 0h2m0 0h2M0 61m132 0h2m9 0h2m13 0h2M0 62m130 0h2m8 0h2m7 0h2m5 0h2M0 63m117 0h2m10 0h2M0 64m134 0h2m7 0h2m1 0h2m8 0h2M0 65m161 0h2M0 66m123 0h2m6 0h2M0 67m142 0h2m2 0h2M0 68m135 0h2M0 69m129 0h2m12 0h2m-1 0h2M0 70m149 0h2M0 71m128 0h2m8 0h2m-1 0h2M0 73m129 0h2M0 74m129 0h2m4 0h2M0 75m141 0h2m9 0h2M0 76m131 0h2m21 0h2M0 77m131 0h2m15 0h2m-1 0h2m2 0h2m4 0h2M0 78m137 0h2m1 0h2M0 79m143 0h2M0 80m159 0h2M0 82m128 0h2m1 0h2m27 0h2M0 83m138 0h2M0 84m136 0h2M0 85m134 0h2M0 86m144 0h2M0 87m127 0h2m27 0h2M0 89m132 0h2M0 92m145 0h2M0 93m133 0h2M0 94m134 0h2m2 0h2M0 96m126 0h2M0 97m131 0h2M0 101m139 0h2m7 0h2M0 102m132 0h2M0 104m113 0h2M0 113m139 0h2m13 0h2"/>
<path d="M0 11m147 0h2M0 13m126 0h2M0 18m154 0h2M0 22m137 0h2M0 35m145 0h2M0 40m121 0h2m16 0h2M0 43m133 0h2m0 0h2M0 45m137 0h2m22 0h2M0 46m145 0h2M0 49m123 0h2m11 0h2M0 50m148 0h2m6 0h2M0 53m157 0h2M0 54m141 0h2M0 55m132 0h2m6 0h2m1 0h2M0 56m133 0h2M0 57m131 0h2M0 58m133 0h2m6 0h2m14 0h2M0 59m130 0h2m20 0h2M0 60m127 0h2m7 0h2M0 61m139 0h2m1 0h2m9 0h2M0 62m149 0h2M0 63m139 0h2m5 0h2M0 64m149 0h2M0 65m131 0h2M0 66m125 0h2m16 0h2M0 68m137 0h2m1 0h2M0 69m138 0h2m14 0h2M0 70m145 0h2m0 0h2m14 0h2M0 72m145 0h2M0 73m132 0h2m6 0h2M0 74m119 0h2M0 75m117 0h2m30 0h2M0 77m155 0h2m2 0h2M0 78m136 0h2M0 79m133 0h2m13 0h2m11 0h2M0 80m168 0h2M0 81m130 0h2M0 82m138 0h2m-1 0h2m7 0h2m13 0h2M0 83m113 0h2M0 85m116 0h2m13 0h2m7 0h2M0 86m134 0h2m2 0h2M0 88m116 0h2m22 0h2M0 89m127 0h2m21 0h2M0 90m150 0h2M0 91m133 0h2M0 92m127 0h2m12 0h2M0 93m148 0h2M0 95m142 0h2M0 97m128 0h2m10 0h2M0 98m146 0h2M0 99m135 0h2M0 101m146 0h2M0 102m149 0h2M0 104m137 0h2m4 0h2M0 106m114 0h2m21 0h2m1 0h2M0 108m134 0h2M0 109m138 0h2M0 111m126 0h2m6 0h2M0 130m134 0h2"/>
<path stroke-opacity=".37" d="M0 4m70 0h2M0 7m137 0h2M0 8m25 0h2m101 0h2M0 11m95 0h2m50 0h2m6 0h2M0 12m95 0h2m38 0h2M0 13m144 0h2M0 14m78 0h2M0 15m106 0h2m20 0h2M0 16m114 0h2m41 0h2m39 0h2M0 17m104 0h2m52 0h2M0 18m76 0h2m14 0h2M0 19m103 0h2M0 20m89 0h2m10 0h2m15 0h2m18 0h2m9 0h2M0 21m120 0h2m20 0h2M0 22m95 0h2m13 0h2m12 0h2m15 0h2m16 0h2M0 23m68 0h2m7 0h2m9 0h2m0 0h2m12 0h2m4 0h2m42 0h2M0 24m18 0h2m16 0h2m43 0h2m2 0h2m13 0h2m2 0h2m0 0h2m16 0h2m2 0h2m6 0h2m-1 0h2m16 0h2M0 25m78 0h2m5 0h2m21 0h2m0 0h2m5 0h2m-1 0h2m-1 0h2m8 0h2m14 0h2M0 26m69 0h2m18 0h2m1 0h2m6 0h2m12 0h2m10 0h2m7 0h2m3 0h2m16 0h2M0 27m63 0h2m18 0h2m0 0h2m8 0h2m2 0h2m2 0h2m28 0h2m6 0h2m-1 0h2m3 0h2M0 28m47 0h2m1 0h2m9 0h2m6 0h2m6 0h2m0 0h2m9 0h2m1 0h2m6 0h2m9 0h2m-1 0h2m7 0h2m-1 0h2m0 0h2m9 0h2m-1 0h2m0 0h2M0 29m10 0h2m45 0h2m21 0h2m0 0h2m3 0h2m4 0h2m-1 0h2m1 0h2m2 0h2m3 0h2m2 0h2m-1 0h2m11 0h2m-1 0h2m2 0h2m1 0h2m-1 0h2m0 0h2m0 0h2m1 0h2m4 0h2m6 0h2M0 30m36 0h2m25 0h2m13 0h2m1 0h2m9 0h2m1 0h2m-1 0h2m7 0h2m-1 0h2m0 0h2m8 0h2m-1 0h2m8 0h2m1 0h2m7 0h2m4 0h2m4 0h2M0 31m62 0h2m13 0h2m10 0h2m16 0h2m0 0h2m1 0h2m-1 0h2m0 0h2m0 0h2m2 0h2m-1 0h2m2 0h2m6 0h2m3 0h2m1 0h2m6 0h2m2 0h2m10 0h2m11 0h2M0 32m73 0h2m4 0h2m5 0h2m3 0h2m0 0h2m2 0h2m0 0h2m-1 0h2m0 0h2m2 0h2m0 0h2m-1 0h2m7 0h2m1 0h2m8 0h2m4 0h2m0 0h2m39 0h2M0 33m76 0h2m1 0h2m3 0h2m6 0h2m5 0h2m0 0h2m1 0h2m0 0h2m1 0h2m0 0h2m0 0h2m7 0h2m1 0h2m-1 0h2m1 0h2m3 0h2m0 0h2m1 0h2m-1 0h2m0 0h2m6 0h2m12 0h2M0 34m83 0h2m2 0h2m-1 0h2m0 0h2m1 0h2m-1 0h2m4 0h2m0 0h2m5 0h2m3 0h2m-1 0h2m0 0h2m-1 0h2m3 0h2m2 0h2m-1 0h2m0 0h2m0 0h2m5 0h2m1 0h2m1 0h2m1 0h2M0 35m77 0h2m9 0h2m4 0h2m1 0h2m-1 0h2m0 0h2m-1 0h2m2 0h2m-1 0h2m4 0h2m0 0h2m-1 0h2m3 0h2m-1 0h2m13 0h2m6 0h2m5 0h2M0 36m51 0h2m21 0h2m23 0h2m1 0h2m0 0h2m0 0h2m9 0h2m2 0h2m-1 0h2m11 0h2m8 0h2m-1 0h2m-1 0h2M0 37m78 0h2m11 0h2m0 0h2m-1 0h2m3 0h2m1 0h2m2 0h2m0 0h2m1 0h2m7 0h2m0 0h2m0 0h2m1 0h2m-1 0h2m3 0h2m1 0h2m2 0h2m3 0h2m0 0h2m1 0h2m1 0h2M0 38m86 0h2m5 0h2m1 0h2m1 0h2m-1 0h2m-1 0h2m1 0h2m-1 0h2m0 0h2m-1 0h2m3 0h2m0 0h2m8 0h2m0 0h2m3 0h2m0 0h2m-1 0h2m0 0h2m2 0h2m4 0h2m1 0h2m0 0h2M0 39m91 0h2m10 0h2m6 0h2m-1 0h2m0 0h2m-1 0h2m3 0h2m0 0h2m-1 0h2m2 0h2m2 0h2m1 0h2m4 0h2m2 0h2m1 0h2M0 40m48 0h2m38 0h2m7 0h2m-1 0h2m-1 0h2m-1 0h2m1 0h2m-1 0h2m6 0h2m0 0h2m3 0h2m-1 0h2m1 0h2m2 0h2m-1 0h2m-1 0h2m0 0h2m-1 0h2m0 0h2m0 0h2m1 0h2m-1 0h2m-1 0h2m8 0h2m3 0h2m0 0h2M0 41m83 0h2m6 0h2m-1 0h2m6 0h2m0 0h2m-1 0h2m1 0h2m0 0h2m-1 0h2m1 0h2m-1 0h2m-1 0h2m7 0h2m0 0h2m-1 0h2m0 0h2m-1 0h2m0 0h2m2 0h2m-1 0h2m-1 0h2m0 0h2m-1 0h2m-1 0h2m-1 0h2m-1 0h2m6 0h2m13 0h2m38 0h2M0 42m85 0h2m1 0h2m9 0h2m2 0h2m1 0h2m1 0h2m3 0h2m-1 0h2m-1 0h2m-1 0h2m2 0h2m8 0h2m-1 0h2m-1 0h2m-1 0h2m0 0h2m0 0h2m2 0h2m3 0h2m4 0h2M0 43m61 0h2m13 0h2m17 0h2m3 0h2m1 0h2m1 0h2m2 0h2m-1 0h2m1 0h2m-1 0h2m-1 0h2m-1 0h2m-1 0h2m0 0h2m-1 0h2m-1 0h2m-1 0h2m3 0h2m-1 0h2m0 0h2m0 0h2m7 0h2m17 0h2M0 44m81 0h2m3 0h2m11 0h2m6 0h2m6 0h2m0 0h2m0 0h2m0 0h2m4 0h2m0 0h2m1 0h2m12 0h2m4 0h2m1 0h2m0 0h2m-1 0h2m37 0h2M0 45m84 0h2m6 0h2m1 0h2m0 0h2m-1 0h2m1 0h2m5 0h2m-1 0h2m0 0h2m2 0h2m1 0h2m1 0h2m-1 0h2m11 0h2m0 0h2m5 0h2m-1 0h2m0 0h2m15 0h2m17 0h2M0 46m84 0h2m4 0h2m8 0h2m3 0h2m8 0h2m1 0h2m-1 0h2m-1 0h2m2 0h2m1 0h2m1 0h2m-1 0h2m4 0h2m12 0h2M0 47m53 0h2m14 0h2m27 0h2m9 0h2m4 0h2m0 0h2m3 0h2m-1 0h2m-1 0h2m-1 0h2m-1 0h2m0 0h2m0 0h2m0 0h2m1 0h2m0 0h2m0 0h2m0 0h2m0 0h2m0 0h2m2 0h2m4 0h2M0 48m90 0h2m19 0h2m0 0h2m6 0h2m2 0h2m2 0h2m-1 0h2m1 0h2m2 0h2m-1 0h2m0 0h2m1 0h2m18 0h2m-1 0h2M0 49m88 0h2m1 0h2m17 0h2m1 0h2m4 0h2m2 0h2m0 0h2m2 0h2m3 0h2m1 0h2m2 0h2m4 0h2m1 0h2m2 0h2m1 0h2M0 50m74 0h2m3 0h2m8 0h2m10 0h2m2 0h2m12 0h2m5 0h2m-1 0h2m1 0h2m1 0h2m-1 0h2m0 0h2m0 0h2m0 0h2m0 0h2m0 0h2m0 0h2m1 0h2m0 0h2m8 0h2M0 51m26 0h2m62 0h2m0 0h2m7 0h2m15 0h2m-1 0h2m-1 0h2m7 0h2m3 0h2m2 0h2m2 0h2m3 0h2m2 0h2m2 0h2m4 0h2M0 52m71 0h2m10 0h2m9 0h2m8 0h2m0 0h2m6 0h2m5 0h2m0 0h2m3 0h2m-1 0h2m1 0h2m3 0h2m0 0h2m-1 0h2m9 0h2M0 53m94 0h2m6 0h2m0 0h2m7 0h2m-1 0h2m1 0h2m-1 0h2m3 0h2m1 0h2m0 0h2m3 0h2m-1 0h2m4 0h2m-1 0h2m0 0h2m-1 0h2m2 0h2m5 0h2m4 0h2M0 54m61 0h2m24 0h2m22 0h2m6 0h2m4 0h2m1 0h2m1 0h2m-1 0h2m0 0h2m1 0h2m1 0h2m0 0h2m1 0h2m-1 0h2m0 0h2M0 55m76 0h2m27 0h2m8 0h2m11 0h2m0 0h2m2 0h2m3 0h2m0 0h2m6 0h2m5 0h2m-1 0h2m0 0h2m-1 0h2M0 56m105 0h2m7 0h2m-1 0h2m1 0h2m-1 0h2m4 0h2m2 0h2m1 0h2m1 0h2m5 0h2m0 0h2m0 0h2m5 0h2m3 0h2m-1 0h2M0 57m114 0h2m10 0h2m7 0h2m-1 0h2m3 0h2m-1 0h2m3 0h2m3 0h2m5 0h2m1 0h2M0 58m68 0h2m12 0h2m17 0h2m12 0h2m3 0h2m4 0h2m-1 0h2m1 0h2m6 0h2m2 0h2m6 0h2m2 0h2m1 0h2m0 0h2M0 59m74 0h2m7 0h2m18 0h2m6 0h2m-1 0h2m9 0h2m6 0h2m-1 0h2m1 0h2m1 0h2m-1 0h2m-1 0h2m1 0h2m4 0h2m0 0h2m3 0h2M0 60m74 0h2m19 0h2m3 0h2m12 0h2m2 0h2m7 0h2m-1 0h2m0 0h2m-1 0h2m3 0h2m0 0h2m3 0h2m-1 0h2m2 0h2m5 0h2m5 0h2M0 61m23 0h2m62 0h2m32 0h2m-1 0h2m0 0h2m7 0h2m-1 0h2m-1 0h2m-1 0h2m3 0h2m0 0h2m-1 0h2m1 0h2m-1 0h2m-1 0h2m1 0h2m3 0h2M0 62m83 0h2m4 0h2m12 0h2m-1 0h2m-1 0h2m7 0h2m15 0h2m0 0h2m0 0h2m2 0h2m4 0h2m3 0h2m4 0h2M0 63m113 0h2m0 0h2m4 0h2m0 0h2m-1 0h2m2 0h2m1 0h2m6 0h2m-1 0h2m-1 0h2m1 0h2m-1 0h2m-1 0h2m4 0h2m8 0h2m1 0h2M0 64m119 0h2m1 0h2m1 0h2m1 0h2m7 0h2m9 0h2m0 0h2m1 0h2m5 0h2M0 65m96 0h2m14 0h2m4 0h2m5 0h2m2 0h2m-1 0h2m3 0h2m0 0h2m0 0h2m2 0h2m-1 0h2m0 0h2m0 0h2m2 0h2M0 66m69 0h2m23 0h2m14 0h2m13 0h2m4 0h2m3 0h2m-1 0h2m-1 0h2m10 0h2m5 0h2m1 0h2m2 0h2M0 67m72 0h2m8 0h2m-1 0h2m31 0h2m-1 0h2m1 0h2m1 0h2m0 0h2m1 0h2m0 0h2m-1 0h2m2 0h2m1 0h2m-1 0h2m-1 0h2m-1 0h2m-1 0h2m0 0h2m0 0h2m1 0h2m0 0h2m-1 0h2m1 0h2M0 68m91 0h2m25 0h2m0 0h2m2 0h2m3 0h2m0 0h2m-1 0h2m1 0h2m0 0h2m-1 0h2m4 0h2m1 0h2m16 0h2M0 69m58 0h2m-1 0h2m44 0h2m11 0h2m4 0h2m-1 0h2m6 0h2m-1 0h2m6 0h2m0 0h2m3 0h2m7 0h2m0 0h2m-1 0h2M0 70m50 0h2m1 0h2m40 0h2m4 0h2m19 0h2m10 0h2m0 0h2m4 0h2m2 0h2m6 0h2m2 0h2m40 0h2M0 71m43 0h2m61 0h2m11 0h2m6 0h2m-1 0h2m0 0h2m0 0h2m2 0h2m4 0h2m0 0h2m0 0h2m0 0h2m0 0h2m-1 0h2m-1 0h2m3 0h2m1 0h2m-1 0h2M0 72m51 0h2m24 0h2m23 0h2m26 0h2m1 0h2m-1 0h2m1 0h2m2 0h2m5 0h2m-1 0h2m-1 0h2m0 0h2m3 0h2m6 0h2M0 73m63 0h2m28 0h2m11 0h2m14 0h2m0 0h2m-1 0h2m-1 0h2m0 0h2m0 0h2m2 0h2m-1 0h2m0 0h2m0 0h2m-1 0h2m1 0h2m0 0h2m2 0h2m1 0h2m1 0h2m-1 0h2m0 0h2M0 74m78 0h2m0 0h2m0 0h2m0 0h2m27 0h2m0 0h2m2 0h2m5 0h2m-1 0h2m-1 0h2m1 0h2m1 0h2m1 0h2m18 0h2m4 0h2M0 75m56 0h2m19 0h2m37 0h2m4 0h2m-1 0h2m1 0h2m0 0h2m4 0h2m0 0h2m-1 0h2m-1 0h2m-1 0h2m6 0h2m0 0h2m1 0h2M0 76m56 0h2m20 0h2m6 0h2m1 0h2m6 0h2m10 0h2m2 0h2m0 0h2m12 0h2m-1 0h2m1 0h2m2 0h2m0 0h2m1 0h2m1 0h2m-1 0h2m3 0h2m2 0h2m4 0h2m0 0h2M0 77m40 0h2m16 0h2m8 0h2m9 0h2m-1 0h2m28 0h2m12 0h2m0 0h2m8 0h2m-1 0h2m0 0h2m-1 0h2m1 0h2m-1 0h2m0 0h2m-1 0h2m5 0h2m-1 0h2m2 0h2m-1 0h2m3 0h2M0 78m72 0h2m5 0h2m15 0h2m25 0h2m-1 0h2m2 0h2m0 0h2m1 0h2m0 0h2m3 0h2m-1 0h2m11 0h2M0 79m97 0h2m19 0h2m7 0h2m0 0h2m-1 0h2m1 0h2m0 0h2m-1 0h2m18 0h2m0 0h2m2 0h2M0 80m83 0h2m-1 0h2m37 0h2m8 0h2m1 0h2m1 0h2m1 0h2m0 0h2m1 0h2m8 0h2m3 0h2M0 81m80 0h2m19 0h2m2 0h2m13 0h2m0 0h2m2 0h2m0 0h2m-1 0h2m2 0h2m13 0h2m0 0h2m3 0h2m1 0h2m2 0h2m1 0h2M0 82m30 0h2m84 0h2m1 0h2m-1 0h2m4 0h2m3 0h2m1 0h2m1 0h2m3 0h2m0 0h2m4 0h2m1 0h2m1 0h2M0 83m48 0h2m50 0h2m7 0h2m4 0h2m-1 0h2m4 0h2m-1 0h2m5 0h2m0 0h2m1 0h2m0 0h2m-1 0h2m0 0h2m11 0h2m-1 0h2M0 84m105 0h2m0 0h2m8 0h2m5 0h2m-1 0h2m-1 0h2m1 0h2m-1 0h2m-1 0h2m1 0h2m3 0h2m1 0h2m-1 0h2m-1 0h2m5 0h2m0 0h2m8 0h2M0 85m55 0h2m8 0h2m22 0h2m35 0h2m-1 0h2m4 0h2m0 0h2m3 0h2m2 0h2m-1 0h2m6 0h2m-1 0h2m3 0h2M0 86m34 0h2m12 0h2m39 0h2m21 0h2m19 0h2m0 0h2m0 0h2m0 0h2m-1 0h2m3 0h2m0 0h2m1 0h2m-1 0h2m1 0h2m36 0h2M0 87m88 0h2m7 0h2m12 0h2m9 0h2m5 0h2m-1 0h2m2 0h2m4 0h2m5 0h2m0 0h2m-1 0h2m6 0h2m1 0h2m0 0h2M0 88m64 0h2m10 0h2m28 0h2m23 0h2m1 0h2m1 0h2m14 0h2m5 0h2M0 89m31 0h2m52 0h2m24 0h2m1 0h2m6 0h2m5 0h2m1 0h2m15 0h2m-1 0h2m-1 0h2m0 0h2m0 0h2m3 0h2M0 90m84 0h2m4 0h2m0 0h2m31 0h2m13 0h2m2 0h2m2 0h2m1 0h2m7 0h2m1 0h2M0 91m60 0h2m15 0h2m3 0h2m19 0h2m3 0h2m7 0h2m10 0h2m9 0h2m5 0h2m-1 0h2M0 92m59 0h2m11 0h2m47 0h2m4 0h2m-1 0h2m0 0h2m6 0h2m1 0h2m0 0h2m3 0h2m2 0h2M0 93m19 0h2m18 0h2m84 0h2m0 0h2m-1 0h2m-1 0h2m8 0h2m6 0h2m7 0h2M0 94m96 0h2m2 0h2m4 0h2m-1 0h2m25 0h2m3 0h2m2 0h2m2 0h2m12 0h2m-1 0h2M0 95m23 0h2m21 0h2m20 0h2m41 0h2m8 0h2m9 0h2m-1 0h2m0 0h2m6 0h2m1 0h2m-1 0h2m4 0h2m-1 0h2m5 0h2m3 0h2M0 96m5 0h2m38 0h2m8 0h2m25 0h2m3 0h2m14 0h2m13 0h2m2 0h2m1 0h2m5 0h2m0 0h2m4 0h2m0 0h2m2 0h2m5 0h2m8 0h2M0 97m74 0h2m2 0h2m70 0h2m0 0h2m0 0h2M0 98m55 0h2m-1 0h2m41 0h2m10 0h2m-1 0h2m4 0h2m2 0h2m7 0h2m0 0h2m-1 0h2m4 0h2m3 0h2m2 0h2m0 0h2M0 99m73 0h2m7 0h2m0 0h2m-1 0h2m40 0h2m2 0h2m2 0h2m6 0h2m-1 0h2m1 0h2m1 0h2m1 0h2m-1 0h2m0 0h2m1 0h2m9 0h2m1 0h2M0 100m73 0h2m19 0h2m22 0h2m5 0h2m-1 0h2m4 0h2m4 0h2m3 0h2m15 0h2M0 101m44 0h2m4 0h2m14 0h2m24 0h2m39 0h2m8 0h2m0 0h2m6 0h2m9 0h2m-1 0h2M0 102m79 0h2m0 0h2m16 0h2m1 0h2m0 0h2m2 0h2m4 0h2m17 0h2m4 0h2m0 0h2m4 0h2m0 0h2m8 0h2M0 103m57 0h2m32 0h2m9 0h2m6 0h2m26 0h2m2 0h2m0 0h2m4 0h2m7 0h2M0 104m93 0h2m1 0h2m7 0h2m9 0h2m3 0h2m11 0h2m1 0h2m-1 0h2m0 0h2m-1 0h2m-1 0h2m2 0h2m4 0h2m8 0h2M0 105m55 0h2m28 0h2m20 0h2m7 0h2m4 0h2m3 0h2m4 0h2m5 0h2m2 0h2M0 106m74 0h2m9 0h2m18 0h2m4 0h2m2 0h2m1 0h2m1 0h2m0 0h2m9 0h2m2 0h2m-1 0h2m0 0h2m8 0h2M0 107m27 0h2m67 0h2m1 0h2m7 0h2m4 0h2m7 0h2m0 0h2m0 0h2m7 0h2m6 0h2m17 0h2M0 108m31 0h2m40 0h2m5 0h2m13 0h2m3 0h2m10 0h2m4 0h2m5 0h2m0 0h2m4 0h2m5 0h2m7 0h2M0 109m83 0h2m16 0h2m-1 0h2m0 0h2m0 0h2m-1 0h2m7 0h2m1 0h2m1 0h2m11 0h2m3 0h2m3 0h2m7 0h2M0 110m65 0h2m1 0h2m10 0h2m2 0h2m5 0h2m8 0h2m2 0h2m9 0h2m3 0h2m15 0h2m1 0h2M0 111m75 0h2m7 0h2m17 0h2m1 0h2m18 0h2m19 0h2m2 0h2m-1 0h2M0 112m80 0h2m21 0h2m7 0h2m6 0h2m5 0h2m1 0h2m9 0h2m0 0h2m3 0h2m11 0h2m0 0h2M0 113m50 0h2m15 0h2m7 0h2m15 0h2m-1 0h2m-1 0h2m7 0h2m-1 0h2m9 0h2m3 0h2m25 0h2m10 0h2M0 114m55 0h2m28 0h2m-1 0h2m11 0h2m6 0h2m-1 0h2m22 0h2m23 0h2M0 115m35 0h2m24 0h2m20 0h2m1 0h2m10 0h2m-1 0h2m7 0h2m-1 0h2m-1 0h2m5 0h2m-1 0h2m4 0h2M0 116m6 0h2m73 0h2m12 0h2m29 0h2m10 0h2M0 117m51 0h2m25 0h2m9 0h2m0 0h2m0 0h2m1 0h2m3 0h2m28 0h2m16 0h2m30 0h2M0 118m76 0h2m3 0h2m4 0h2m7 0h2m8 0h2m3 0h2m0 0h2m9 0h2m4 0h2m1 0h2m23 0h2M0 119m69 0h2m5 0h2m10 0h2m22 0h2m1 0h2m-1 0h2M0 120m82 0h2m1 0h2m4 0h2m1 0h2m0 0h2m4 0h2m32 0h2m4 0h2m9 0h2M0 121m47 0h2m19 0h2m8 0h2m5 0h2m3 0h2m7 0h2m0 0h2m0 0h2m-1 0h2m6 0h2m2 0h2m16 0h2m47 0h2M0 122m80 0h2m3 0h2m8 0h2m1 0h2m-1 0h2m4 0h2m1 0h2m0 0h2m24 0h2m3 0h2M0 123m89 0h2m7 0h2m32 0h2m4 0h2M0 124m5 0h2m13 0h2m49 0h2m6 0h2m0 0h2m1 0h2m-1 0h2m-1 0h2m-1 0h2m0 0h2m8 0h2m-1 0h2m2 0h2m-1 0h2m0 0h2m0 0h2m3 0h2m-1 0h2M0 125m60 0h2m3 0h2m12 0h2m3 0h2m2 0h2m1 0h2m2 0h2m-1 0h2m11 0h2m33 0h2m-1 0h2M0 126m36 0h2m36 0h2m0 0h2m0 0h2m-1 0h2m6 0h2m3 0h2m1 0h2m5 0h2m-1 0h2m-1 0h2m1 0h2m-1 0h2M0 127m51 0h2m12 0h2m4 0h2m2 0h2m3 0h2m9 0h2m-1 0h2m0 0h2m-1 0h2m4 0h2m3 0h2m1 0h2m2 0h2m-1 0h2m1 0h2M0 128m33 0h2m24 0h2m5 0h2m8 0h2m3 0h2m0 0h2m-1 0h2m0 0h2m-1 0h2m-1 0h2m2 0h2m8 0h2m0 0h2m13 0h2m0 0h2M0 129m33 0h2m34 0h2m3 0h2m0 0h2m4 0h2m5 0h2m3 0h2m-1 0h2m11 0h2m1 0h2m10 0h2m21 0h2M0 130m13 0h2m8 0h2m31 0h2m1 0h2m3 0h2m2 0h2m3 0h2m2 0h2m-1 0h2m-1 0h2m10 0h2m2 0h2m0 0h2m3 0h2m0 0h2m5 0h2m23 0h2M0 131m58 0h2m12 0h2m-1 0h2m2 0h2m0 0h2m-1 0h2m-1 0h2m-1 0h2m-1 0h2m0 0h2m0 0h2m1 0h2m0 0h2m-1 0h2m12 0h2m1 0h2m0 0h2m11 0h2M0 132m22 0h2m37 0h2m7 0h2m3 0h2m4 0h2m3 0h2m0 0h2m3 0h2m2 0h2m-1 0h2m3 0h2m50 0h2m23 0h2M0 133m57 0h2m6 0h2m-1 0h2m-1 0h2m9 0h2m2 0h2m-1 0h2m-1 0h2m-1 0h2m0 0h2m0 0h2m-1 0h2m-1 0h2m1 0h2m0 0h2m7 0h2m3 0h2m28 0h2M0 134m42 0h2m9 0h2m11 0h2m0 0h2m0 0h2m-1 0h2m-1 0h2m1 0h2m0 0h2m0 0h2m-1 0h2m0 0h2m3 0h2m4 0h2m-1 0h2m0 0h2m10 0h2m46 0h2M0 135m52 0h2m0 0h2m3 0h2m0 0h2m-1 0h2m-1 0h2m0 0h2m-1 0h2m4 0h2m1 0h2m1 0h2m0 0h2m-1 0h2m-1 0h2m0 0h2m3 0h2m11 0h2m0 0h2m9 0h2m13 0h2m2 0h2M0 136m71 0h2m2 0h2m-1 0h2m2 0h2m1 0h2m6 0h2m2 0h2m15 0h2m29 0h2m0 0h2M0 137m26 0h2m25 0h2m-1 0h2m3 0h2m4 0h2m2 0h2m-1 0h2m0 0h2m0 0h2m-1 0h2m1 0h2m0 0h2m1 0h2m4 0h2m4 0h2m-1 0h2m0 0h2m-1 0h2m23 0h2M0 138m4 0h2m48 0h2m2 0h2m2 0h2m4 0h2m-1 0h2m-1 0h2m0 0h2m1 0h2m-1 0h2m-1 0h2m2 0h2m2 0h2m0 0h2m2 0h2m1 0h2m-1 0h2m0 0h2M0 139m37 0h2m27 0h2m1 0h2m-1 0h2m0 0h2m-1 0h2m0 0h2m-1 0h2m-1 0h2m0 0h2m-1 0h2m-1 0h2m3 0h2m0 0h2m0 0h2m2 0h2m4 0h2m5 0h2m14 0h2M0 140m51 0h2m3 0h2m0 0h2m6 0h2m4 0h2m0 0h2m-1 0h2m0 0h2m-1 0h2m0 0h2m1 0h2m-1 0h2m-1 0h2m2 0h2m-1 0h2m-1 0h2m3 0h2m1 0h2m22 0h2m25 0h2M0 141m41 0h2m5 0h2m1 0h2m2 0h2m2 0h2m0 0h2m-1 0h2m1 0h2m0 0h2m-1 0h2m4 0h2m-1 0h2m1 0h2m-1 0h2m1 0h2m-1 0h2m9 0h2m6 0h2m3 0h2m13 0h2M0 142m39 0h2m5 0h2m1 0h2m6 0h2m-1 0h2m-1 0h2m7 0h2m4 0h2m-1 0h2m1 0h2m-1 0h2m0 0h2m0 0h2m1 0h2m-1 0h2m1 0h2m0 0h2m9 0h2m5 0h2M0 143m30 0h2m20 0h2m8 0h2m3 0h2m-1 0h2m2 0h2m-1 0h2m2 0h2m0 0h2m-1 0h2m-1 0h2m1 0h2m-1 0h2m0 0h2m0 0h2m0 0h2m0 0h2M0 144m62 0h2m0 0h2m1 0h2m0 0h2m2 0h2m-1 0h2m-1 0h2m-1 0h2m-1 0h2m-1 0h2m0 0h2m-1 0h2m1 0h2m0 0h2m-1 0h2m3 0h2m2 0h2m51 0h2M0 145m11 0h2m38 0h2m-1 0h2m2 0h2m-1 0h2m3 0h2m-1 0h2m0 0h2m2 0h2m-1 0h2m-1 0h2m0 0h2m1 0h2m-1 0h2m0 0h2m0 0h2m-1 0h2m0 0h2m1 0h2m4 0h2m1 0h2M0 146m22 0h2m19 0h2m8 0h2m4 0h2m2 0h2m2 0h2m0 0h2m-1 0h2m-1 0h2m0 0h2m-1 0h2m0 0h2m-1 0h2m5 0h2m0 0h2m-1 0h2m-1 0h2m-1 0h2m1 0h2m0 0h2m-1 0h2m33 0h2M0 147m42 0h2m14 0h2m2 0h2m0 0h2m5 0h2m-1 0h2m0 0h2m0 0h2m0 0h2m-1 0h2m2 0h2m4 0h2m1 0h2m0 0h2m38 0h2M0 148m51 0h2m1 0h2m1 0h2m4 0h2m-1 0h2m-1 0h2m-1 0h2m5 0h2m-1 0h2m-1 0h2m0 0h2m-1 0h2m-1 0h2m-1 0h2m-1 0h2m-1 0h2m6 0h2m15 0h2m10 0h2M0 149m52 0h2m3 0h2m0 0h2m-1 0h2m1 0h2m-1 0h2m4 0h2m0 0h2m-1 0h2m4 0h2m1 0h2m1 0h2m2 0h2m0 0h2m1 0h2m1 0h2m1 0h2M0 150m45 0h2m2 0h2m5 0h2m-1 0h2m2 0h2m-1 0h2m-1 0h2m3 0h2m-1 0h2m-1 0h2m-1 0h2m-1 0h2m1 0h2m1 0h2m0 0h2m-1 0h2m0 0h2m0 0h2M0 151m45 0h2m5 0h2m-1 0h2m0 0h2m0 0h2m1 0h2m-1 0h2m2 0h2m-1 0h2m0 0h2m-1 0h2m-1 0h2m1 0h2m-1 0h2m-1 0h2m1 0h2m2 0h2m0 0h2m-1 0h2m4 0h2m1 0h2m5 0h2m32 0h2M0 152m23 0h2m16 0h2m6 0h2m4 0h2m1 0h2m4 0h2m-1 0h2m3 0h2m1 0h2m-1 0h2m-1 0h2m0 0h2m6 0h2m-1 0h2m3 0h2M0 153m14 0h2m5 0h2m14 0h2m8 0h2m2 0h2m0 0h2m6 0h2m-1 0h2m-1 0h2m-1 0h2m0 0h2m2 0h2m2 0h2m1 0h2m1 0h2m5 0h2m4 0h2m1 0h2m17 0h2m74 0h2M0 154m15 0h2m2 0h2m11 0h2m7 0h2m9 0h2m3 0h2m1 0h2m0 0h2m-1 0h2m1 0h2m1 0h2m2 0h2m0 0h2m0 0h2m0 0h2m3 0h2m0 0h2m3 0h2M0 155m16 0h2m10 0h2m6 0h2m6 0h2m2 0h2m4 0h2m0 0h2m-1 0h2m-1 0h2m0 0h2m0 0h2m-1 0h2m8 0h2m4 0h2m-1 0h2m0 0h2m0 0h2m7 0h2m6 0h2M0 156m38 0h2m4 0h2m3 0h2m-1 0h2m1 0h2m-1 0h2m2 0h2m-1 0h2m0 0h2m-1 0h2m1 0h2m0 0h2m-1 0h2m0 0h2m-1 0h2m3 0h2m-1 0h2m1 0h2m1 0h2m2 0h2m56 0h2M0 157m46 0h2m2 0h2m-1 0h2m0 0h2m0 0h2m-1 0h2m1 0h2m1 0h2m0 0h2m-1 0h2m1 0h2m-1 0h2m1 0h2m-1 0h2m-1 0h2m-1 0h2m0 0h2m-1 0h2m2 0h2m-1 0h2m4 0h2m74 0h2M0 158m12 0h2m21 0h2m6 0h2m3 0h2m-1 0h2m5 0h2m1 0h2m1 0h2m0 0h2m3 0h2m-1 0h2m-1 0h2m-1 0h2m-1 0h2m2 0h2m1 0h2m4 0h2m3 0h2M0 159m16 0h2m3 0h2m22 0h2m1 0h2m0 0h2m2 0h2m7 0h2m-1 0h2m-1 0h2m-1 0h2m1 0h2m3 0h2m2 0h2m-1 0h2m3 0h2m-1 0h2m27 0h2m82 0h2M0 160m35 0h2m10 0h2m3 0h2m-1 0h2m-1 0h2m-1 0h2m10 0h2m-1 0h2m-1 0h2m-1 0h2m-1 0h2m2 0h2m-1 0h2m2 0h2m-1 0h2m6 0h2M0 161m23 0h2m6 0h2m-1 0h2m6 0h2m0 0h2m1 0h2m2 0h2m0 0h2m0 0h2m3 0h2m-1 0h2m3 0h2m-1 0h2m1 0h2m0 0h2m3 0h2m80 0h2M0 162m25 0h2m1 0h2m1 0h2m7 0h2m9 0h2m-1 0h2m5 0h2m0 0h2m-1 0h2m2 0h2m-1 0h2m0 0h2m-1 0h2m0 0h2m0 0h2m2 0h2m2 0h2m-1 0h2M0 163m31 0h2m5 0h2m4 0h2m3 0h2m2 0h2m0 0h2m5 0h2m-1 0h2m3 0h2m0 0h2m3 0h2m1 0h2m28 0h2M0 164m29 0h2m-1 0h2m2 0h2m2 0h2m20 0h2m1 0h2m0 0h2m-1 0h2m-1 0h2m0 0h2m1 0h2m35 0h2M0 165m29 0h2m1 0h2m0 0h2m3 0h2m-1 0h2m3 0h2m4 0h2m-1 0h2m0 0h2m3 0h2m3 0h2m-1 0h2m3 0h2m12 0h2m1 0h2m0 0h2m107 0h2M0 166m13 0h2m14 0h2m2 0h2m8 0h2m-1 0h2m1 0h2m3 0h2m0 0h2m0 0h2m2 0h2m0 0h2m0 0h2m-1 0h2m3 0h2m6 0h2M0 167m27 0h2m5 0h2m11 0h2m5 0h2m3 0h2m1 0h2m-1 0h2m-1 0h2m1 0h2m-1 0h2m1 0h2m0 0h2m2 0h2m12 0h2m100 0h2M0 168m22 0h2m7 0h2m3 0h2m7 0h2m8 0h2m1 0h2m4 0h2M0 169m21 0h2m2 0h2m15 0h2m2 0h2m0 0h2m10 0h2m0 0h2m3 0h2m7 0h2m120 0h2M0 170m5 0h2m3 0h2m3 0h2m10 0h2m0 0h2m16 0h2m4 0h2m6 0h2m6 0h2m2 0h2m1 0h2m1 0h2M0 171m15 0h2m19 0h2m2 0h2m0 0h2m3 0h2m5 0h2m6 0h2m1 0h2m5 0h2m6 0h2M0 172m17 0h2m8 0h2m3 0h2m3 0h2m-1 0h2m3 0h2m3 0h2M0 173m23 0h2m4 0h2m-1 0h2m4 0h2m4 0h2m8 0h2m1 0h2m-1 0h2m10 0h2m0 0h2m1 0h2m13 0h2M0 174m48 0h2m1 0h2m2 0h2m-1 0h2m0 0h2m8 0h2m25 0h2m106 0h2M0 175m13 0h2m7 0h2m9 0h2m5 0h2m3 0h2m25 0h2m8 0h2m-1 0h2m-1 0h2M0 176m11 0h2m7 0h2m5 0h2m-1 0h2m0 0h2m-1 0h2m0 0h2m1 0h2m0 0h2m3 0h2m3 0h2m16 0h2m2 0h2m-1 0h2M0 177m35 0h2m3 0h2m-1 0h2m6 0h2m2 0h2m-1 0h2m-1 0h2m1 0h2m0 0h2m5 0h2m2 0h2M0 178m11 0h2m23 0h2m7 0h2m-1 0h2m13 0h2m124 0h2M0 179m9 0h2m21 0h2m2 0h2m2 0h2m3 0h2m-1 0h2m-1 0h2m1 0h2m2 0h2M0 180m9 0h2m11 0h2m2 0h2m5 0h2m3 0h2m-1 0h2m7 0h2m3 0h2m0 0h2m9 0h2m10 0h2m0 0h2m49 0h2m42 0h2M0 181m6 0h2m7 0h2m5 0h2m17 0h2m-1 0h2m1 0h2m1 0h2m8 0h2m6 0h2m1 0h2m3 0h2m45 0h2M0 182m12 0h2m7 0h2m2 0h2m16 0h2m2 0h2m7 0h2m14 0h2M0 183m24 0h2m3 0h2m10 0h2m4 0h2m-1 0h2M0 184m21 0h2m19 0h2m15 0h2m-1 0h2M0 185m17 0h2m22 0h2m-1 0h2m49 0h2M0 186m25 0h2m13 0h2m18 0h2m5 0h2m0 0h2M0 187m24 0h2m15 0h2m2 0h2M0 188m13 0h2m1 0h2m4 0h2m7 0h2m-1 0h2m14 0h2m4 0h2m13 0h2m68 0h2M0 189m28 0h2m5 0h2M0 190m11 0h2m12 0h2m11 0h2m8 0h2M0 191m9 0h2m9 0h2m18 0h2M0 192m39 0h2m10 0h2m10 0h2m2 0h2M0 193m9 0h2m0 0h2m19 0h2M0 194m9 0h2m0 0h2m27 0h2m24 0h2M0 195m42 0h2m6 0h2m26 0h2m130 0h2M0 196m14 0h2m-1 0h2m31 0h2M0 197m35 0h2m27 0h2M0 198m26 0h2m32 0h2M0 199m46 0h2m16 0h2m110 0h2M0 200m9 0h2m9 0h2m2 0h2m11 0h2M0 202m10 0h2m8 0h2m6 0h2m5 0h2M0 203m16 0h2m5 0h2m19 0h2M0 204m31 0h2M0 205m43 0h2m11 0h2m13 0h2M0 206m12 0h2m0 0h2m19 0h2m14 0h2M0 209m23 0h2M0 210m8 0h2m4 0h2m32 0h2m96 0h2"/>
</g></g>
<path d="M0 0H107.0V107.2" fill="none" stroke="#c4c4c4" stroke-width="1"/>
<path d="M0 0V107.2" fill="none" stroke="#555" stroke-width="1.3"/>
<path d="M0 107.2H107.0" fill="none" stroke="#777" stroke-width="1"/>
<path d="M-1 2V99.2" stroke="#666" stroke-width="1.2" stroke-dasharray="0.7 1.9" fill="none"/>
<path d="M8 108.5H103.0" stroke="#888" stroke-width="1.8" stroke-dasharray="0.7 2.1" fill="none"/>
<path d="M-2.8 9.3H0" stroke="#444" stroke-width="1"/>
<path d="M-2.8 33.6H0" stroke="#444" stroke-width="1"/>
<path d="M-2.8 58.3H0" stroke="#444" stroke-width="1"/>
<path d="M-2.8 84.5H0" stroke="#444" stroke-width="1"/>
<path d="M-2.8 96.2H0" stroke="#444" stroke-width="1"/>
<path d="M11.2 107.2v3" stroke="#555" stroke-width="1"/>
<path d="M22.7 107.2v3" stroke="#555" stroke-width="1"/>
<path d="M49.2 107.2v3" stroke="#555" stroke-width="1"/>
<path d="M73.4 107.2v3" stroke="#555" stroke-width="1"/>
<path d="M97.8 107.2v3" stroke="#555" stroke-width="1"/>
<path d="M0 58.3H107.0M48.8 0V107.2" fill="none" stroke="#6e6e6e" stroke-width="1"/>
</g>
<text x="17.5" y="35.099999999999994" font-size="5.6" text-anchor="middle" fill="#222" stroke="#222" stroke-width=".3">10<tspan dy="-2.2" font-size="3.6">5</tspan></text>
<text x="17.5" y="59.4" font-size="5.6" text-anchor="middle" fill="#222" stroke="#222" stroke-width=".3">10<tspan dy="-2.2" font-size="3.6">4</tspan></text>
<text x="17.5" y="84.1" font-size="5.6" text-anchor="middle" fill="#222" stroke="#222" stroke-width=".3">10<tspan dy="-2.2" font-size="3.6">3</tspan></text>
<text x="17.5" y="110.3" font-size="5.6" text-anchor="middle" fill="#222" stroke="#222" stroke-width=".3">10<tspan dy="-2.2" font-size="3.6">2</tspan></text>
<text x="19.8" y="122.0" font-size="5.6" text-anchor="middle" fill="#222" stroke="#222" stroke-width="0.3">0</text>
<text x="17.5" y="146.90000000000003" font-size="5.6" text-anchor="middle" fill="#222" stroke="#222" stroke-width=".3">10<tspan dy="-2.2" font-size="3.6">5</tspan></text>
<text x="17.5" y="171.20000000000002" font-size="5.6" text-anchor="middle" fill="#222" stroke="#222" stroke-width=".3">10<tspan dy="-2.2" font-size="3.6">4</tspan></text>
<text x="17.5" y="195.90000000000003" font-size="5.6" text-anchor="middle" fill="#222" stroke="#222" stroke-width=".3">10<tspan dy="-2.2" font-size="3.6">3</tspan></text>
<text x="17.5" y="222.10000000000002" font-size="5.6" text-anchor="middle" fill="#222" stroke="#222" stroke-width=".3">10<tspan dy="-2.2" font-size="3.6">2</tspan></text>
<text x="19.8" y="233.8" font-size="5.6" text-anchor="middle" fill="#222" stroke="#222" stroke-width="0.3">0</text>
<text x="37.0" y="253.0" font-size="5.6" text-anchor="middle" fill="#222" stroke="#222" stroke-width="0.3">0</text>
<text x="48.5" y="253.0" font-size="5.6" text-anchor="middle" fill="#222" stroke="#222" stroke-width=".3">10<tspan dy="-2.2" font-size="3.6">2</tspan></text>
<text x="75.0" y="253.0" font-size="5.6" text-anchor="middle" fill="#222" stroke="#222" stroke-width=".3">10<tspan dy="-2.2" font-size="3.6">3</tspan></text>
<text x="99.2" y="253.0" font-size="5.6" text-anchor="middle" fill="#222" stroke="#222" stroke-width=".3">10<tspan dy="-2.2" font-size="3.6">4</tspan></text>
<text x="123.6" y="253.0" font-size="5.6" text-anchor="middle" fill="#222" stroke="#222" stroke-width=".3">10<tspan dy="-2.2" font-size="3.6">5</tspan></text>
<text x="149.0" y="253.0" font-size="5.6" text-anchor="middle" fill="#222" stroke="#222" stroke-width="0.3">0</text>
<text x="160.5" y="253.0" font-size="5.6" text-anchor="middle" fill="#222" stroke="#222" stroke-width=".3">10<tspan dy="-2.2" font-size="3.6">2</tspan></text>
<text x="187.0" y="253.0" font-size="5.6" text-anchor="middle" fill="#222" stroke="#222" stroke-width=".3">10<tspan dy="-2.2" font-size="3.6">3</tspan></text>
<text x="211.20000000000002" y="253.0" font-size="5.6" text-anchor="middle" fill="#222" stroke="#222" stroke-width=".3">10<tspan dy="-2.2" font-size="3.6">4</tspan></text>
<text x="235.60000000000002" y="253.0" font-size="5.6" text-anchor="middle" fill="#222" stroke="#222" stroke-width=".3">10<tspan dy="-2.2" font-size="3.6">5</tspan></text>
<text x="260.9" y="253.0" font-size="5.6" text-anchor="middle" fill="#222" stroke="#222" stroke-width="0.3">0</text>
<text x="272.4" y="253.0" font-size="5.6" text-anchor="middle" fill="#222" stroke="#222" stroke-width=".3">10<tspan dy="-2.2" font-size="3.6">2</tspan></text>
<text x="298.9" y="253.0" font-size="5.6" text-anchor="middle" fill="#222" stroke="#222" stroke-width=".3">10<tspan dy="-2.2" font-size="3.6">3</tspan></text>
<text x="323.1" y="253.0" font-size="5.6" text-anchor="middle" fill="#222" stroke="#222" stroke-width=".3">10<tspan dy="-2.2" font-size="3.6">4</tspan></text>
<text x="347.5" y="253.0" font-size="5.6" text-anchor="middle" fill="#222" stroke="#222" stroke-width=".3">10<tspan dy="-2.2" font-size="3.6">5</tspan></text>
<text x="372.0" y="253.0" font-size="5.6" text-anchor="middle" fill="#222" stroke="#222" stroke-width="0.3">0</text>
<text x="383.5" y="253.0" font-size="5.6" text-anchor="middle" fill="#222" stroke="#222" stroke-width=".3">10<tspan dy="-2.2" font-size="3.6">2</tspan></text>
<text x="410.0" y="253.0" font-size="5.6" text-anchor="middle" fill="#222" stroke="#222" stroke-width=".3">10<tspan dy="-2.2" font-size="3.6">3</tspan></text>
<text x="434.20000000000005" y="253.0" font-size="5.6" text-anchor="middle" fill="#222" stroke="#222" stroke-width=".3">10<tspan dy="-2.2" font-size="3.6">4</tspan></text>
<text x="458.6" y="253.0" font-size="5.6" text-anchor="middle" fill="#222" stroke="#222" stroke-width=".3">10<tspan dy="-2.2" font-size="3.6">5</tspan></text>
<text x="31.0" y="32.6" font-size="10.6" font-weight="bold" stroke="#111" stroke-width="0.15">22.2</text>
<text x="108.3" y="32.4" font-size="10.6" font-weight="bold" stroke="#111" stroke-width="0.15">71</text>
<text x="143.0" y="32.6" font-size="10.6" font-weight="bold" stroke="#111" stroke-width="0.15">19.7</text>
<text x="221.2" y="32.6" font-size="10.6" font-weight="bold" stroke="#111" stroke-width="0.15">67.6</text>
<text x="255.4" y="32.6" font-size="10.6" font-weight="bold" stroke="#111" stroke-width="0.15">6.52</text>
<text x="333.5" y="32.6" font-size="10.6" font-weight="bold" stroke="#111" stroke-width="0.15">60.2</text>
<text x="368.7" y="32.6" font-size="10.6" font-weight="bold" stroke="#111" stroke-width="0.15">8.9</text>
<text x="446.2" y="32.6" font-size="10.6" font-weight="bold" stroke="#111" stroke-width="0.15">38.3</text>
<text x="31.1" y="127" font-size="10.6" font-weight="bold" stroke="#111" stroke-width="0.15">5.98</text>
<text x="106.8" y="127.4" font-size="10.6" font-weight="bold" stroke="#111" stroke-width="0.15">0.81</text>
<text x="142.5" y="127" font-size="10.6" font-weight="bold" stroke="#111" stroke-width="0.15">6.67</text>
<text x="219.5" y="127" font-size="10.6" font-weight="bold" stroke="#111" stroke-width="0.15">6.01</text>
<text x="255.6" y="127" font-size="10.6" font-weight="bold" stroke="#111" stroke-width="0.15">13.7</text>
<text x="331.8" y="127" font-size="10.6" font-weight="bold" stroke="#111" stroke-width="0.15">19.7</text>
<text x="369.2" y="127" font-size="10.6" font-weight="bold" stroke="#111" stroke-width="0.15">30.4</text>
<text x="443" y="127" font-size="10.6" font-weight="bold" stroke="#111" stroke-width="0.15">22.4</text>
<text x="29.5" y="144.5" font-size="10.6" font-weight="bold" stroke="#111" stroke-width="0.15">19.3</text>
<text x="107.5" y="144.5" font-size="10.6" font-weight="bold" stroke="#111" stroke-width="0.15">75.9</text>
<text x="142" y="144.5" font-size="10.6" font-weight="bold" stroke="#111" stroke-width="0.15">19.4</text>
<text x="220" y="144.5" font-size="10.6" font-weight="bold" stroke="#111" stroke-width="0.15">69.9</text>
<text x="256.2" y="144.5" font-size="10.6" font-weight="bold" stroke="#111" stroke-width="0.15">8.18</text>
<text x="333.7" y="144.5" font-size="10.6" font-weight="bold" stroke="#111" stroke-width="0.15">67.6</text>
<text x="369.2" y="144.5" font-size="10.6" font-weight="bold" stroke="#111" stroke-width="0.15">5.92</text>
<text x="444.4" y="144.5" font-size="10.6" font-weight="bold" stroke="#111" stroke-width="0.15">60.6</text>
<text x="31" y="239.8" font-size="10.6" font-weight="bold" stroke="#111" stroke-width="0.15">3.73</text>
<text x="107" y="239.8" font-size="10.6" font-weight="bold" stroke="#111" stroke-width="0.15">1.06</text>
<text x="142.5" y="239.8" font-size="10.6" font-weight="bold" stroke="#111" stroke-width="0.15">5.48</text>
<text x="219" y="239.8" font-size="10.6" font-weight="bold" stroke="#111" stroke-width="0.15">5.27</text>
<text x="254.5" y="239.8" font-size="10.6" font-weight="bold" stroke="#111" stroke-width="0.15">18.2</text>
<text x="331.5" y="239.8" font-size="10.6" font-weight="bold" stroke="#111" stroke-width="0.15">6.02</text>
<text x="367.5" y="239.8" font-size="10.6" font-weight="bold" stroke="#111" stroke-width="0.15">25.5</text>
<text x="444" y="239.8" font-size="10.6" font-weight="bold" stroke="#111" stroke-width="0.15">7.94</text>
<text x="56.6" y="34.9" font-size="12.8" font-weight="bold" stroke="#111" stroke-width="0.45">II</text>
<text x="92.3" y="34.9" font-size="12.8" font-weight="bold" textLength="11.8" lengthAdjust="spacingAndGlyphs" stroke="#111" stroke-width="0.45">III</text>
<text x="57.8" y="126" font-size="12.8" font-weight="bold" stroke="#111" stroke-width="0.45">I</text>
<text x="92.5" y="126" font-size="12.8" font-weight="bold" textLength="12" lengthAdjust="spacingAndGlyphs" stroke="#111" stroke-width="0.45">IV</text>
<text x="82.9" y="15.1" font-size="12.4" text-anchor="middle" textLength="31.3" lengthAdjust="spacingAndGlyphs" stroke="#111" stroke-width="0.5">Day 1</text>
<text x="198" y="16.6" font-size="12.4" text-anchor="middle" textLength="31.5" lengthAdjust="spacingAndGlyphs" stroke="#111" stroke-width="0.5">Day 2</text>
<text x="306.1" y="16.6" font-size="12.4" text-anchor="middle" textLength="30.8" lengthAdjust="spacingAndGlyphs" stroke="#111" stroke-width="0.5">Day 3</text>
<text x="410.4" y="16.6" font-size="12.4" text-anchor="middle" textLength="31.6" lengthAdjust="spacingAndGlyphs" stroke="#111" stroke-width="0.5">Day 4</text>
<text x="0" y="12.2" font-size="16.3" font-weight="bold" stroke="#111" stroke-width="0.8">A</text>
<text x="9.6" y="52.7" font-size="12.4" textLength="29.8" lengthAdjust="spacingAndGlyphs" transform="rotate(-90 9.6 52.7)" stroke="#111" stroke-width="0.5">CD71</text>
<path d="M5.8 61V266.5H431" fill="none" stroke="#111" stroke-width="1.5"/>
<path d="M1.6 66.5L5.8 59.8L10 66.5" fill="none" stroke="#111" stroke-width="1.5"/>
<path d="M425.5 262.2L432.2 266.5L425.5 270.8" fill="none" stroke="#111" stroke-width="1.5"/>
<text x="433.5" y="270" font-size="12.4" textLength="37.5" lengthAdjust="spacingAndGlyphs" stroke="#111" stroke-width="0.5">Ter119</text>
<text x="473" y="93" font-size="12" textLength="25" lengthAdjust="spacingAndGlyphs" stroke="#111" stroke-width="0.5">Cre-</text>
<text x="472.3" y="189.9" font-size="12" textLength="26.3" lengthAdjust="spacingAndGlyphs" stroke="#111" stroke-width="0.5">Cre+</text>
<path d="M501.9 68.8V205" stroke="#111" stroke-width="1.5"/>
<text x="519.8" y="155" font-size="12.5" font-weight="bold" textLength="27" lengthAdjust="spacingAndGlyphs" transform="rotate(-90 519.8 155)" font-style="italic" stroke="#111" stroke-width="0.2">Lsd1</text>
<text x="516.3" y="127.6" font-size="8" font-weight="bold" textLength="9.6" lengthAdjust="spacingAndGlyphs" transform="rotate(-90 516.3 127.6)" font-style="italic" stroke="#111" stroke-width="0.2">f/f</text>
<path d="M43.6 300.7H245.5" stroke="#b4b4b4" stroke-width="1.1"/>
<path d="M43.6 330.75H245.5" stroke="#b4b4b4" stroke-width="1.1"/>
<path d="M43.6 360.8H245.5" stroke="#b4b4b4" stroke-width="1.1"/>
<path d="M43.6 390.85H245.5" stroke="#b4b4b4" stroke-width="1.1"/>
<path d="M43.6 420.9H245.5" stroke="#b4b4b4" stroke-width="1.1"/>
<path d="M43.6 450.95H245.5" stroke="#b4b4b4" stroke-width="1.1"/>
<path d="M245.5 300.7V481.0" stroke="#b4b4b4" stroke-width="1.1"/>
<path d="M53.35 465.4V463.7M50.55 463.7h5.6" stroke="#1a1a1a" stroke-width="1.35" fill="none"/>
<rect x="49.5" y="465.9" width="7.699999999999999" height="15.1" fill="#404040" stroke="#161616" stroke-width="1"/>
<path d="M62.05 466.4V463.7M59.25 463.7h5.6" stroke="#1a1a1a" stroke-width="1.35" fill="none"/>
<rect x="58.2" y="466.9" width="7.699999999999999" height="14.1" fill="#c9c9c9" stroke="#161616" stroke-width="1"/>
<path d="M82.45 415V397M79.65 397h5.6" stroke="#1a1a1a" stroke-width="1.35" fill="none"/>
<rect x="78.6" y="415.5" width="7.699999999999999" height="65.5" fill="#404040" stroke="#161616" stroke-width="1"/>
<path d="M91.15 422V407.8M88.35 407.8h5.6" stroke="#1a1a1a" stroke-width="1.35" fill="none"/>
<rect x="87.3" y="422.5" width="7.699999999999999" height="58.5" fill="#c9c9c9" stroke="#161616" stroke-width="1"/>
<path d="M111.45 394.5V377M108.65 377h5.6" stroke="#1a1a1a" stroke-width="1.35" fill="none"/>
<rect x="107.6" y="395.0" width="7.699999999999999" height="86.0" fill="#404040" stroke="#161616" stroke-width="1"/>
<path d="M120.15 399.2V385.4M117.35 385.4h5.6" stroke="#1a1a1a" stroke-width="1.35" fill="none"/>
<rect x="116.3" y="399.7" width="7.699999999999999" height="81.3" fill="#c9c9c9" stroke="#161616" stroke-width="1"/>
<path d="M140.25 348.2V327.6M137.45 327.6h5.6" stroke="#1a1a1a" stroke-width="1.35" fill="none"/>
<rect x="136.4" y="348.7" width="7.699999999999999" height="132.3" fill="#404040" stroke="#161616" stroke-width="1"/>
<path d="M148.95 447.2V440.2M146.15 440.2h5.6" stroke="#1a1a1a" stroke-width="1.35" fill="none"/>
<rect x="145.1" y="447.7" width="7.699999999999999" height="33.3" fill="#c9c9c9" stroke="#161616" stroke-width="1"/>
<path d="M169.15 375V347.6M166.35 347.6h5.6" stroke="#1a1a1a" stroke-width="1.35" fill="none"/>
<rect x="165.3" y="375.5" width="7.699999999999999" height="105.5" fill="#404040" stroke="#161616" stroke-width="1"/>
<path d="M177.85 395.8V379.3M175.05 379.3h5.6" stroke="#1a1a1a" stroke-width="1.35" fill="none"/>
<rect x="174.0" y="396.3" width="7.699999999999999" height="84.7" fill="#c9c9c9" stroke="#161616" stroke-width="1"/>
<path d="M197.75 385.7V357.7M194.95 357.7h5.6" stroke="#1a1a1a" stroke-width="1.35" fill="none"/>
<rect x="193.9" y="386.2" width="7.699999999999999" height="94.8" fill="#404040" stroke="#161616" stroke-width="1"/>
<path d="M206.45 446.3V442M203.65 442h5.6" stroke="#1a1a1a" stroke-width="1.35" fill="none"/>
<rect x="202.6" y="446.8" width="7.699999999999999" height="34.2" fill="#c9c9c9" stroke="#161616" stroke-width="1"/>
<path d="M226.65 380V359.8M223.85 359.8h5.6" stroke="#1a1a1a" stroke-width="1.35" fill="none"/>
<rect x="222.8" y="380.5" width="7.699999999999999" height="100.5" fill="#404040" stroke="#161616" stroke-width="1"/>
<path d="M235.35 389.4V354M232.55 354h5.6" stroke="#1a1a1a" stroke-width="1.35" fill="none"/>
<rect x="231.5" y="389.9" width="7.699999999999999" height="91.1" fill="#c9c9c9" stroke="#161616" stroke-width="1"/>
<path d="M43.6 300.7V481.0H245.5" fill="none" stroke="#111" stroke-width="1.5"/>
<path d="M40.0 300.7H43.6" stroke="#111" stroke-width="1.1"/>
<text x="40.0" y="304.3" font-size="10" font-weight="bold" text-anchor="end" stroke="#111" stroke-width="0.3">1.2</text>
<path d="M40.0 330.75H43.6" stroke="#111" stroke-width="1.1"/>
<text x="40.0" y="334.4" font-size="10" font-weight="bold" text-anchor="end" stroke="#111" stroke-width="0.3">1.0</text>
<path d="M40.0 360.8H43.6" stroke="#111" stroke-width="1.1"/>
<text x="40.0" y="364.4" font-size="10" font-weight="bold" text-anchor="end" stroke="#111" stroke-width="0.3">0.8</text>
<path d="M40.0 390.85H43.6" stroke="#111" stroke-width="1.1"/>
<text x="40.0" y="394.5" font-size="10" font-weight="bold" text-anchor="end" stroke="#111" stroke-width="0.3">0.6</text>
<path d="M40.0 420.9H43.6" stroke="#111" stroke-width="1.1"/>
<text x="40.0" y="424.5" font-size="10" font-weight="bold" text-anchor="end" stroke="#111" stroke-width="0.3">0.4</text>
<path d="M40.0 450.95H43.6" stroke="#111" stroke-width="1.1"/>
<text x="40.0" y="454.6" font-size="10" font-weight="bold" text-anchor="end" stroke="#111" stroke-width="0.3">0.2</text>
<path d="M40.0 481.0H43.6" stroke="#111" stroke-width="1.1"/>
<text x="40.0" y="484.6" font-size="10" font-weight="bold" text-anchor="end" stroke="#111" stroke-width="0.3">0</text>
<path d="M43.6 481.0v3.6" stroke="#111" stroke-width="1.1"/>
<path d="M72.44 481.0v3.6" stroke="#111" stroke-width="1.1"/>
<path d="M101.29 481.0v3.6" stroke="#111" stroke-width="1.1"/>
<path d="M130.13 481.0v3.6" stroke="#111" stroke-width="1.1"/>
<path d="M158.97 481.0v3.6" stroke="#111" stroke-width="1.1"/>
<path d="M187.81 481.0v3.6" stroke="#111" stroke-width="1.1"/>
<path d="M216.66 481.0v3.6" stroke="#111" stroke-width="1.1"/>
<path d="M245.5 481.0v3.6" stroke="#111" stroke-width="1.1"/>
<text x="61.2" y="497.4" font-size="10.4" font-weight="bold" text-anchor="end" textLength="15.9" lengthAdjust="spacingAndGlyphs" transform="rotate(-43 61.2 497.4)" stroke="#111" stroke-width="0.25">IgG</text>
<text x="90.1" y="497.4" font-size="10.4" font-weight="bold" text-anchor="end" textLength="18.1" lengthAdjust="spacingAndGlyphs" transform="rotate(-43 90.1 497.4)" stroke="#111" stroke-width="0.25">TR2</text>
<text x="118.9" y="497.4" font-size="10.4" font-weight="bold" text-anchor="end" textLength="18.1" lengthAdjust="spacingAndGlyphs" transform="rotate(-43 118.9 497.4)" stroke="#111" stroke-width="0.25">TR4</text>
<text x="147.8" y="497.4" font-size="10.4" font-weight="bold" text-anchor="end" textLength="23.6" lengthAdjust="spacingAndGlyphs" transform="rotate(-43 147.8 497.4)" stroke="#111" stroke-width="0.25">LSD1</text>
<text x="176.6" y="497.4" font-size="10.4" font-weight="bold" text-anchor="end" textLength="36.6" lengthAdjust="spacingAndGlyphs" transform="rotate(-43 176.6 497.4)" stroke="#111" stroke-width="0.25">DNMT1</text>
<text x="205.4" y="497.4" font-size="10.4" font-weight="bold" text-anchor="end" textLength="35.7" lengthAdjust="spacingAndGlyphs" transform="rotate(-43 205.4 497.4)" stroke="#111" stroke-width="0.25">CoREST</text>
<text x="234.3" y="497.4" font-size="10.4" font-weight="bold" text-anchor="end" textLength="26.4" lengthAdjust="spacingAndGlyphs" transform="rotate(-43 234.3 497.4)" stroke="#111" stroke-width="0.25">TIF1β</text>
<text x="148.6" y="433.20000000000005" font-size="11" font-weight="bold" text-anchor="middle" stroke="#111" stroke-width="0.6">*</text>
<text x="204.5" y="436.3" font-size="11" font-weight="bold" text-anchor="middle" stroke="#111" stroke-width="0.6">*</text>
<text x="17.0" y="388.3" font-size="10" font-weight="bold" text-anchor="middle" transform="rotate(-90 17.0 388.3)" stroke="#111" stroke-width="0.3">Input (%)</text>
<text x="57" y="318.6" font-size="12" textLength="13" lengthAdjust="spacingAndGlyphs" stroke="#111" stroke-width="0.4">εγ</text>
<text x="-0.8" y="303.4" font-size="16.3" font-weight="bold" stroke="#111" stroke-width="0.8">B</text>
<rect x="204.7" y="310.7" width="6" height="6" fill="#404040" stroke="#161616"/>
<rect x="204.7" y="322.1" width="6" height="6" fill="#c9c9c9" stroke="#161616"/>
<text x="215.3" y="316.3" font-size="11" textLength="20.1" lengthAdjust="spacingAndGlyphs" stroke="#111" stroke-width="0.3">Cre-</text>
<text x="215.3" y="327.5" font-size="11" textLength="22.8" lengthAdjust="spacingAndGlyphs" stroke="#111" stroke-width="0.3">Cre+</text>
<path d="M313.1 301.8H514.3" stroke="#b4b4b4" stroke-width="1.1"/>
<path d="M313.1 331.7H514.3" stroke="#b4b4b4" stroke-width="1.1"/>
<path d="M313.1 361.6H514.3" stroke="#b4b4b4" stroke-width="1.1"/>
<path d="M313.1 391.5H514.3" stroke="#b4b4b4" stroke-width="1.1"/>
<path d="M313.1 421.4H514.3" stroke="#b4b4b4" stroke-width="1.1"/>
<path d="M313.1 451.3H514.3" stroke="#b4b4b4" stroke-width="1.1"/>
<path d="M514.3 301.8V481.2" stroke="#b4b4b4" stroke-width="1.1"/>
<path d="M322.75 466V464.5M319.95 464.5h5.6" stroke="#1a1a1a" stroke-width="1.35" fill="none"/>
<rect x="318.9" y="466.5" width="7.699999999999999" height="14.7" fill="#404040" stroke="#161616" stroke-width="1"/>
<path d="M331.45 465.6V460.7M328.65 460.7h5.6" stroke="#1a1a1a" stroke-width="1.35" fill="none"/>
<rect x="327.6" y="466.1" width="7.699999999999999" height="15.1" fill="#c9c9c9" stroke="#161616" stroke-width="1"/>
<path d="M351.45 405.1V389.4M348.65 389.4h5.6" stroke="#1a1a1a" stroke-width="1.35" fill="none"/>
<rect x="347.6" y="405.6" width="7.699999999999999" height="75.6" fill="#404040" stroke="#161616" stroke-width="1"/>
<path d="M360.15 425.4V413.1M357.35 413.1h5.6" stroke="#1a1a1a" stroke-width="1.35" fill="none"/>
<rect x="356.3" y="425.9" width="7.699999999999999" height="55.3" fill="#c9c9c9" stroke="#161616" stroke-width="1"/>
<path d="M380.15 408.3V394.5M377.35 394.5h5.6" stroke="#1a1a1a" stroke-width="1.35" fill="none"/>
<rect x="376.3" y="408.8" width="7.699999999999999" height="72.4" fill="#404040" stroke="#161616" stroke-width="1"/>
<path d="M388.85 405.3V376.1M386.05 376.1h5.6" stroke="#1a1a1a" stroke-width="1.35" fill="none"/>
<rect x="385.0" y="405.8" width="7.699999999999999" height="75.4" fill="#c9c9c9" stroke="#161616" stroke-width="1"/>
<path d="M409.05 390.7V373.7M406.25 373.7h5.6" stroke="#1a1a1a" stroke-width="1.35" fill="none"/>
<rect x="405.2" y="391.2" width="7.699999999999999" height="90.0" fill="#404040" stroke="#161616" stroke-width="1"/>
<path d="M417.75 464.2V462.3M414.95 462.3h5.6" stroke="#1a1a1a" stroke-width="1.35" fill="none"/>
<rect x="413.9" y="464.7" width="7.699999999999999" height="16.5" fill="#c9c9c9" stroke="#161616" stroke-width="1"/>
<path d="M437.75 391V374.3M434.95 374.3h5.6" stroke="#1a1a1a" stroke-width="1.35" fill="none"/>
<rect x="433.9" y="391.5" width="7.699999999999999" height="89.7" fill="#404040" stroke="#161616" stroke-width="1"/>
<path d="M446.45 409.6V380.9M443.65 380.9h5.6" stroke="#1a1a1a" stroke-width="1.35" fill="none"/>
<rect x="442.6" y="410.1" width="7.699999999999999" height="71.1" fill="#c9c9c9" stroke="#161616" stroke-width="1"/>
<path d="M466.45 417.2V403M463.65 403h5.6" stroke="#1a1a1a" stroke-width="1.35" fill="none"/>
<rect x="462.6" y="417.7" width="7.699999999999999" height="63.5" fill="#404040" stroke="#161616" stroke-width="1"/>
<path d="M475.15 470.2V467.8M472.35 467.8h5.6" stroke="#1a1a1a" stroke-width="1.35" fill="none"/>
<rect x="471.3" y="470.7" width="7.699999999999999" height="10.5" fill="#c9c9c9" stroke="#161616" stroke-width="1"/>
<path d="M495.35 431V427M492.55 427h5.6" stroke="#1a1a1a" stroke-width="1.35" fill="none"/>
<rect x="491.5" y="431.5" width="7.699999999999999" height="49.7" fill="#404040" stroke="#161616" stroke-width="1"/>
<path d="M504.05 429.7V412M501.25 412h5.6" stroke="#1a1a1a" stroke-width="1.35" fill="none"/>
<rect x="500.2" y="430.2" width="7.699999999999999" height="51.0" fill="#c9c9c9" stroke="#161616" stroke-width="1"/>
<path d="M313.1 301.8V481.2H514.3" fill="none" stroke="#111" stroke-width="1.5"/>
<path d="M309.5 301.8H313.1" stroke="#111" stroke-width="1.1"/>
<text x="307.0" y="305.4" font-size="10" font-weight="bold" text-anchor="end" stroke="#111" stroke-width="0.3">1.2</text>
<path d="M309.5 331.7H313.1" stroke="#111" stroke-width="1.1"/>
<text x="307.0" y="335.3" font-size="10" font-weight="bold" text-anchor="end" stroke="#111" stroke-width="0.3">1.0</text>
<path d="M309.5 361.6H313.1" stroke="#111" stroke-width="1.1"/>
<text x="307.0" y="365.2" font-size="10" font-weight="bold" text-anchor="end" stroke="#111" stroke-width="0.3">0.8</text>
<path d="M309.5 391.5H313.1" stroke="#111" stroke-width="1.1"/>
<text x="307.0" y="395.1" font-size="10" font-weight="bold" text-anchor="end" stroke="#111" stroke-width="0.3">0.6</text>
<path d="M309.5 421.4H313.1" stroke="#111" stroke-width="1.1"/>
<text x="307.0" y="425.0" font-size="10" font-weight="bold" text-anchor="end" stroke="#111" stroke-width="0.3">0.4</text>
<path d="M309.5 451.3H313.1" stroke="#111" stroke-width="1.1"/>
<text x="307.0" y="454.9" font-size="10" font-weight="bold" text-anchor="end" stroke="#111" stroke-width="0.3">0.2</text>
<path d="M309.5 481.2H313.1" stroke="#111" stroke-width="1.1"/>
<text x="307.0" y="484.8" font-size="10" font-weight="bold" text-anchor="end" stroke="#111" stroke-width="0.3">0</text>
<path d="M313.1 481.2v3.6" stroke="#111" stroke-width="1.1"/>
<path d="M341.84 481.2v3.6" stroke="#111" stroke-width="1.1"/>
<path d="M370.59 481.2v3.6" stroke="#111" stroke-width="1.1"/>
<path d="M399.33 481.2v3.6" stroke="#111" stroke-width="1.1"/>
<path d="M428.07 481.2v3.6" stroke="#111" stroke-width="1.1"/>
<path d="M456.81 481.2v3.6" stroke="#111" stroke-width="1.1"/>
<path d="M485.56 481.2v3.6" stroke="#111" stroke-width="1.1"/>
<path d="M514.3 481.2v3.6" stroke="#111" stroke-width="1.1"/>
<text x="330.7" y="497.4" font-size="10.4" font-weight="bold" text-anchor="end" textLength="15.9" lengthAdjust="spacingAndGlyphs" transform="rotate(-43 330.7 497.4)" stroke="#111" stroke-width="0.25">IgG</text>
<text x="359.4" y="497.4" font-size="10.4" font-weight="bold" text-anchor="end" textLength="18.1" lengthAdjust="spacingAndGlyphs" transform="rotate(-43 359.4 497.4)" stroke="#111" stroke-width="0.25">TR2</text>
<text x="388.2" y="497.4" font-size="10.4" font-weight="bold" text-anchor="end" textLength="18.1" lengthAdjust="spacingAndGlyphs" transform="rotate(-43 388.2 497.4)" stroke="#111" stroke-width="0.25">TR4</text>
<text x="416.9" y="497.4" font-size="10.4" font-weight="bold" text-anchor="end" textLength="23.6" lengthAdjust="spacingAndGlyphs" transform="rotate(-43 416.9 497.4)" stroke="#111" stroke-width="0.25">LSD1</text>
<text x="445.6" y="497.4" font-size="10.4" font-weight="bold" text-anchor="end" textLength="36.6" lengthAdjust="spacingAndGlyphs" transform="rotate(-43 445.6 497.4)" stroke="#111" stroke-width="0.25">DNMT1</text>
<text x="474.4" y="497.4" font-size="10.4" font-weight="bold" text-anchor="end" textLength="35.7" lengthAdjust="spacingAndGlyphs" transform="rotate(-43 474.4 497.4)" stroke="#111" stroke-width="0.25">CoREST</text>
<text x="503.1" y="497.4" font-size="10.4" font-weight="bold" text-anchor="end" textLength="26.4" lengthAdjust="spacingAndGlyphs" transform="rotate(-43 503.1 497.4)" stroke="#111" stroke-width="0.25">TIF1β</text>
<text x="417.8" y="456.5" font-size="11" font-weight="bold" text-anchor="middle" stroke="#111" stroke-width="0.6">*</text>
<text x="473.9" y="461.70000000000005" font-size="11" font-weight="bold" text-anchor="middle" stroke="#111" stroke-width="0.6">*</text>
<text x="283.6" y="390.3" font-size="10" font-weight="bold" text-anchor="middle" transform="rotate(-90 283.6 390.3)" stroke="#111" stroke-width="0.3">Input (%)</text>
<text x="323.2" y="316.7" font-size="12" textLength="18.1" lengthAdjust="spacingAndGlyphs" stroke="#111" stroke-width="0.4">βh1</text>
<text x="265.2" y="304.9" font-size="16.3" font-weight="bold" stroke="#111" stroke-width="0.8">C</text>
<rect x="472.5" y="312.1" width="6" height="6" fill="#404040" stroke="#161616"/>
<rect x="472.5" y="323.5" width="6" height="6" fill="#c9c9c9" stroke="#161616"/>
<text x="483" y="317.5" font-size="11" textLength="20.1" lengthAdjust="spacingAndGlyphs" stroke="#111" stroke-width="0.3">Cre-</text>
<text x="483" y="328.7" font-size="11" textLength="22.8" lengthAdjust="spacingAndGlyphs" stroke="#111" stroke-width="0.3">Cre+</text>
<path d="M43.1 545.2H244.1" stroke="#b4b4b4" stroke-width="1.1"/>
<path d="M43.1 575.0H244.1" stroke="#b4b4b4" stroke-width="1.1"/>
<path d="M43.1 604.8H244.1" stroke="#b4b4b4" stroke-width="1.1"/>
<path d="M43.1 634.6H244.1" stroke="#b4b4b4" stroke-width="1.1"/>
<path d="M43.1 664.4H244.1" stroke="#b4b4b4" stroke-width="1.1"/>
<path d="M43.1 694.2H244.1" stroke="#b4b4b4" stroke-width="1.1"/>
<path d="M244.1 545.2V724.0" stroke="#b4b4b4" stroke-width="1.1"/>
<path d="M52.85 707.9V706.2M50.05 706.2h5.6" stroke="#1a1a1a" stroke-width="1.35" fill="none"/>
<rect x="49.0" y="708.4" width="7.699999999999999" height="15.6" fill="#404040" stroke="#161616" stroke-width="1"/>
<path d="M61.55 707.9V707M58.75 707h5.6" stroke="#1a1a1a" stroke-width="1.35" fill="none"/>
<rect x="57.7" y="708.4" width="7.699999999999999" height="15.6" fill="#c9c9c9" stroke="#161616" stroke-width="1"/>
<path d="M81.65 704.5V697.3M78.85 697.3h5.6" stroke="#1a1a1a" stroke-width="1.35" fill="none"/>
<rect x="77.8" y="705.0" width="7.699999999999999" height="19.0" fill="#404040" stroke="#161616" stroke-width="1"/>
<path d="M90.35 705.5V702.4M87.55 702.4h5.6" stroke="#1a1a1a" stroke-width="1.35" fill="none"/>
<rect x="86.5" y="706.0" width="7.699999999999999" height="18.0" fill="#c9c9c9" stroke="#161616" stroke-width="1"/>
<path d="M110.45 698.1V692M107.65 692h5.6" stroke="#1a1a1a" stroke-width="1.35" fill="none"/>
<rect x="106.6" y="698.6" width="7.699999999999999" height="25.4" fill="#404040" stroke="#161616" stroke-width="1"/>
<path d="M119.15 707.2V705.1M116.35 705.1h5.6" stroke="#1a1a1a" stroke-width="1.35" fill="none"/>
<rect x="115.3" y="707.7" width="7.699999999999999" height="16.3" fill="#c9c9c9" stroke="#161616" stroke-width="1"/>
<path d="M139.45 604.7V597.1M136.65 597.1h5.6" stroke="#1a1a1a" stroke-width="1.35" fill="none"/>
<rect x="135.6" y="605.2" width="7.699999999999999" height="118.8" fill="#404040" stroke="#161616" stroke-width="1"/>
<path d="M148.15 702.6V696.1M145.35 696.1h5.6" stroke="#1a1a1a" stroke-width="1.35" fill="none"/>
<rect x="144.3" y="703.1" width="7.699999999999999" height="20.9" fill="#c9c9c9" stroke="#161616" stroke-width="1"/>
<path d="M167.95 630.8V617M165.15 617h5.6" stroke="#1a1a1a" stroke-width="1.35" fill="none"/>
<rect x="164.1" y="631.3" width="7.699999999999999" height="92.7" fill="#404040" stroke="#161616" stroke-width="1"/>
<path d="M176.65 632.9V623M173.85 623h5.6" stroke="#1a1a1a" stroke-width="1.35" fill="none"/>
<rect x="172.8" y="633.4" width="7.699999999999999" height="90.6" fill="#c9c9c9" stroke="#161616" stroke-width="1"/>
<path d="M196.55 594.3V576.8M193.75 576.8h5.6" stroke="#1a1a1a" stroke-width="1.35" fill="none"/>
<rect x="192.7" y="594.8" width="7.699999999999999" height="129.2" fill="#404040" stroke="#161616" stroke-width="1"/>
<path d="M205.25 701.6V694.3M202.45 694.3h5.6" stroke="#1a1a1a" stroke-width="1.35" fill="none"/>
<rect x="201.4" y="702.1" width="7.699999999999999" height="21.9" fill="#c9c9c9" stroke="#161616" stroke-width="1"/>
<path d="M225.55 608.6V598.4M222.75 598.4h5.6" stroke="#1a1a1a" stroke-width="1.35" fill="none"/>
<rect x="221.7" y="609.1" width="7.699999999999999" height="114.9" fill="#404040" stroke="#161616" stroke-width="1"/>
<path d="M234.25 638.7V622.5M231.45 622.5h5.6" stroke="#1a1a1a" stroke-width="1.35" fill="none"/>
<rect x="230.4" y="639.2" width="7.699999999999999" height="84.8" fill="#c9c9c9" stroke="#161616" stroke-width="1"/>
<path d="M43.1 545.2V724.0H244.1" fill="none" stroke="#111" stroke-width="1.5"/>
<path d="M39.5 545.2H43.1" stroke="#111" stroke-width="1.1"/>
<text x="37.6" y="548.8" font-size="10" font-weight="bold" text-anchor="end" stroke="#111" stroke-width="0.3">1.2</text>
<path d="M39.5 575.0H43.1" stroke="#111" stroke-width="1.1"/>
<text x="37.6" y="578.6" font-size="10" font-weight="bold" text-anchor="end" stroke="#111" stroke-width="0.3">1.0</text>
<path d="M39.5 604.8H43.1" stroke="#111" stroke-width="1.1"/>
<text x="37.6" y="608.4" font-size="10" font-weight="bold" text-anchor="end" stroke="#111" stroke-width="0.3">0.8</text>
<path d="M39.5 634.6H43.1" stroke="#111" stroke-width="1.1"/>
<text x="37.6" y="638.2" font-size="10" font-weight="bold" text-anchor="end" stroke="#111" stroke-width="0.3">0.6</text>
<path d="M39.5 664.4H43.1" stroke="#111" stroke-width="1.1"/>
<text x="37.6" y="668.0" font-size="10" font-weight="bold" text-anchor="end" stroke="#111" stroke-width="0.3">0.4</text>
<path d="M39.5 694.2H43.1" stroke="#111" stroke-width="1.1"/>
<text x="37.6" y="697.8" font-size="10" font-weight="bold" text-anchor="end" stroke="#111" stroke-width="0.3">0.2</text>
<path d="M39.5 724.0H43.1" stroke="#111" stroke-width="1.1"/>
<text x="37.6" y="727.6" font-size="10" font-weight="bold" text-anchor="end" stroke="#111" stroke-width="0.3">0</text>
<path d="M43.1 724.0v3.6" stroke="#111" stroke-width="1.1"/>
<path d="M71.81 724.0v3.6" stroke="#111" stroke-width="1.1"/>
<path d="M100.53 724.0v3.6" stroke="#111" stroke-width="1.1"/>
<path d="M129.24 724.0v3.6" stroke="#111" stroke-width="1.1"/>
<path d="M157.96 724.0v3.6" stroke="#111" stroke-width="1.1"/>
<path d="M186.67 724.0v3.6" stroke="#111" stroke-width="1.1"/>
<path d="M215.39 724.0v3.6" stroke="#111" stroke-width="1.1"/>
<path d="M244.1 724.0v3.6" stroke="#111" stroke-width="1.1"/>
<text x="60.7" y="740.4" font-size="10.4" font-weight="bold" text-anchor="end" textLength="15.9" lengthAdjust="spacingAndGlyphs" transform="rotate(-43 60.7 740.4)" stroke="#111" stroke-width="0.25">IgG</text>
<text x="89.4" y="740.4" font-size="10.4" font-weight="bold" text-anchor="end" textLength="18.1" lengthAdjust="spacingAndGlyphs" transform="rotate(-43 89.4 740.4)" stroke="#111" stroke-width="0.25">TR2</text>
<text x="118.1" y="740.4" font-size="10.4" font-weight="bold" text-anchor="end" textLength="18.1" lengthAdjust="spacingAndGlyphs" transform="rotate(-43 118.1 740.4)" stroke="#111" stroke-width="0.25">TR4</text>
<text x="146.8" y="740.4" font-size="10.4" font-weight="bold" text-anchor="end" textLength="23.6" lengthAdjust="spacingAndGlyphs" transform="rotate(-43 146.8 740.4)" stroke="#111" stroke-width="0.25">LSD1</text>
<text x="175.5" y="740.4" font-size="10.4" font-weight="bold" text-anchor="end" textLength="36.6" lengthAdjust="spacingAndGlyphs" transform="rotate(-43 175.5 740.4)" stroke="#111" stroke-width="0.25">DNMT1</text>
<text x="204.2" y="740.4" font-size="10.4" font-weight="bold" text-anchor="end" textLength="35.7" lengthAdjust="spacingAndGlyphs" transform="rotate(-43 204.2 740.4)" stroke="#111" stroke-width="0.25">CoREST</text>
<text x="232.9" y="740.4" font-size="10.4" font-weight="bold" text-anchor="end" textLength="26.4" lengthAdjust="spacingAndGlyphs" transform="rotate(-43 232.9 740.4)" stroke="#111" stroke-width="0.25">TIF1β</text>
<text x="147.8" y="691.6" font-size="11" font-weight="bold" text-anchor="middle" stroke="#111" stroke-width="0.6">*</text>
<text x="203.9" y="689.7" font-size="11" font-weight="bold" text-anchor="middle" stroke="#111" stroke-width="0.6">*</text>
<text x="14.4" y="633.4" font-size="10" font-weight="bold" text-anchor="middle" transform="rotate(-90 14.4 633.4)" stroke="#111" stroke-width="0.3">Input (%)</text>
<text x="54.5" y="562" font-size="12" textLength="23.4" lengthAdjust="spacingAndGlyphs" stroke="#111" stroke-width="0.4">βmaj</text>
<text x="-0.6" y="541" font-size="16.3" font-weight="bold" stroke="#111" stroke-width="0.8">D</text>
<rect x="202.5" y="552.5" width="6" height="6" fill="#404040" stroke="#161616"/>
<rect x="202.5" y="564.5" width="6" height="6" fill="#c9c9c9" stroke="#161616"/>
<text x="213" y="558.1" font-size="11" textLength="20.1" lengthAdjust="spacingAndGlyphs" stroke="#111" stroke-width="0.3">Cre-</text>
<text x="213" y="569.8" font-size="11" textLength="22.8" lengthAdjust="spacingAndGlyphs" stroke="#111" stroke-width="0.3">Cre+</text>
<path d="M313.1 545.8H514.3" stroke="#b4b4b4" stroke-width="1.1"/>
<path d="M313.1 575.58H514.3" stroke="#b4b4b4" stroke-width="1.1"/>
<path d="M313.1 605.37H514.3" stroke="#b4b4b4" stroke-width="1.1"/>
<path d="M313.1 635.15H514.3" stroke="#b4b4b4" stroke-width="1.1"/>
<path d="M313.1 664.93H514.3" stroke="#b4b4b4" stroke-width="1.1"/>
<path d="M313.1 694.72H514.3" stroke="#b4b4b4" stroke-width="1.1"/>
<path d="M514.3 545.8V724.5" stroke="#b4b4b4" stroke-width="1.1"/>
<path d="M322.75 713.3V711.6M319.95 711.6h5.6" stroke="#1a1a1a" stroke-width="1.35" fill="none"/>
<rect x="318.9" y="713.8" width="7.699999999999999" height="10.7" fill="#404040" stroke="#161616" stroke-width="1"/>
<path d="M331.45 715.4V711.8M328.65 711.8h5.6" stroke="#1a1a1a" stroke-width="1.35" fill="none"/>
<rect x="327.6" y="715.9" width="7.699999999999999" height="8.6" fill="#c9c9c9" stroke="#161616" stroke-width="1"/>
<path d="M351.45 716.4V713.3M348.65 713.3h5.6" stroke="#1a1a1a" stroke-width="1.35" fill="none"/>
<rect x="347.6" y="716.9" width="7.699999999999999" height="7.6" fill="#404040" stroke="#161616" stroke-width="1"/>
<path d="M360.15 718.6V714.3M357.35 714.3h5.6" stroke="#1a1a1a" stroke-width="1.35" fill="none"/>
<rect x="356.3" y="719.1" width="7.699999999999999" height="5.4" fill="#c9c9c9" stroke="#161616" stroke-width="1"/>
<rect x="376.3" y="717.6" width="7.699999999999999" height="6.9" fill="#404040" stroke="#161616" stroke-width="1"/>
<path d="M388.85 719.6V716.4M386.05 716.4h5.6" stroke="#1a1a1a" stroke-width="1.35" fill="none"/>
<rect x="385.0" y="720.1" width="7.699999999999999" height="4.4" fill="#c9c9c9" stroke="#161616" stroke-width="1"/>
<path d="M408.95 718.4V717.2M406.15 717.2h5.6" stroke="#1a1a1a" stroke-width="1.35" fill="none"/>
<rect x="405.1" y="718.9" width="7.699999999999999" height="5.6" fill="#404040" stroke="#161616" stroke-width="1"/>
<path d="M417.65 716.5V714.2M414.85 714.2h5.6" stroke="#1a1a1a" stroke-width="1.35" fill="none"/>
<rect x="413.8" y="717.0" width="7.699999999999999" height="7.5" fill="#c9c9c9" stroke="#161616" stroke-width="1"/>
<path d="M437.45 718.8V718.2M434.65 718.2h5.6" stroke="#1a1a1a" stroke-width="1.35" fill="none"/>
<rect x="433.6" y="719.3" width="7.699999999999999" height="5.2" fill="#404040" stroke="#161616" stroke-width="1"/>
<path d="M446.15 720V719.5M443.35 719.5h5.6" stroke="#1a1a1a" stroke-width="1.35" fill="none"/>
<rect x="442.3" y="720.5" width="7.699999999999999" height="4.0" fill="#c9c9c9" stroke="#161616" stroke-width="1"/>
<path d="M466.15 717.2V714.7M463.35 714.7h5.6" stroke="#1a1a1a" stroke-width="1.35" fill="none"/>
<rect x="462.3" y="717.7" width="7.699999999999999" height="6.8" fill="#404040" stroke="#161616" stroke-width="1"/>
<path d="M474.85 718.8V715.4M472.05 715.4h5.6" stroke="#1a1a1a" stroke-width="1.35" fill="none"/>
<rect x="471.0" y="719.3" width="7.699999999999999" height="5.2" fill="#c9c9c9" stroke="#161616" stroke-width="1"/>
<path d="M494.95 717V713.5M492.15 713.5h5.6" stroke="#1a1a1a" stroke-width="1.35" fill="none"/>
<rect x="491.1" y="717.5" width="7.699999999999999" height="7.0" fill="#404040" stroke="#161616" stroke-width="1"/>
<path d="M503.65 720V718.4M500.85 718.4h5.6" stroke="#1a1a1a" stroke-width="1.35" fill="none"/>
<rect x="499.8" y="720.5" width="7.699999999999999" height="4.0" fill="#c9c9c9" stroke="#161616" stroke-width="1"/>
<path d="M313.1 545.8V724.5H514.3" fill="none" stroke="#111" stroke-width="1.5"/>
<path d="M309.5 545.8H313.1" stroke="#111" stroke-width="1.1"/>
<text x="307.0" y="549.4" font-size="10" font-weight="bold" text-anchor="end" stroke="#111" stroke-width="0.3">1.2</text>
<path d="M309.5 575.58H313.1" stroke="#111" stroke-width="1.1"/>
<text x="307.0" y="579.2" font-size="10" font-weight="bold" text-anchor="end" stroke="#111" stroke-width="0.3">1.0</text>
<path d="M309.5 605.37H313.1" stroke="#111" stroke-width="1.1"/>
<text x="307.0" y="609.0" font-size="10" font-weight="bold" text-anchor="end" stroke="#111" stroke-width="0.3">0.8</text>
<path d="M309.5 635.15H313.1" stroke="#111" stroke-width="1.1"/>
<text x="307.0" y="638.8" font-size="10" font-weight="bold" text-anchor="end" stroke="#111" stroke-width="0.3">0.6</text>
<path d="M309.5 664.93H313.1" stroke="#111" stroke-width="1.1"/>
<text x="307.0" y="668.5" font-size="10" font-weight="bold" text-anchor="end" stroke="#111" stroke-width="0.3">0.4</text>
<path d="M309.5 694.72H313.1" stroke="#111" stroke-width="1.1"/>
<text x="307.0" y="698.3" font-size="10" font-weight="bold" text-anchor="end" stroke="#111" stroke-width="0.3">0.2</text>
<path d="M309.5 724.5H313.1" stroke="#111" stroke-width="1.1"/>
<text x="307.0" y="728.1" font-size="10" font-weight="bold" text-anchor="end" stroke="#111" stroke-width="0.3">0</text>
<path d="M313.1 724.5v3.6" stroke="#111" stroke-width="1.1"/>
<path d="M341.84 724.5v3.6" stroke="#111" stroke-width="1.1"/>
<path d="M370.59 724.5v3.6" stroke="#111" stroke-width="1.1"/>
<path d="M399.33 724.5v3.6" stroke="#111" stroke-width="1.1"/>
<path d="M428.07 724.5v3.6" stroke="#111" stroke-width="1.1"/>
<path d="M456.81 724.5v3.6" stroke="#111" stroke-width="1.1"/>
<path d="M485.56 724.5v3.6" stroke="#111" stroke-width="1.1"/>
<path d="M514.3 724.5v3.6" stroke="#111" stroke-width="1.1"/>
<text x="330.7" y="740.4" font-size="10.4" font-weight="bold" text-anchor="end" textLength="15.9" lengthAdjust="spacingAndGlyphs" transform="rotate(-43 330.7 740.4)" stroke="#111" stroke-width="0.25">IgG</text>
<text x="359.4" y="740.4" font-size="10.4" font-weight="bold" text-anchor="end" textLength="18.1" lengthAdjust="spacingAndGlyphs" transform="rotate(-43 359.4 740.4)" stroke="#111" stroke-width="0.25">TR2</text>
<text x="388.2" y="740.4" font-size="10.4" font-weight="bold" text-anchor="end" textLength="18.1" lengthAdjust="spacingAndGlyphs" transform="rotate(-43 388.2 740.4)" stroke="#111" stroke-width="0.25">TR4</text>
<text x="416.9" y="740.4" font-size="10.4" font-weight="bold" text-anchor="end" textLength="23.6" lengthAdjust="spacingAndGlyphs" transform="rotate(-43 416.9 740.4)" stroke="#111" stroke-width="0.25">LSD1</text>
<text x="445.6" y="740.4" font-size="10.4" font-weight="bold" text-anchor="end" textLength="36.6" lengthAdjust="spacingAndGlyphs" transform="rotate(-43 445.6 740.4)" stroke="#111" stroke-width="0.25">DNMT1</text>
<text x="474.4" y="740.4" font-size="10.4" font-weight="bold" text-anchor="end" textLength="35.7" lengthAdjust="spacingAndGlyphs" transform="rotate(-43 474.4 740.4)" stroke="#111" stroke-width="0.25">CoREST</text>
<text x="503.1" y="740.4" font-size="10.4" font-weight="bold" text-anchor="end" textLength="26.4" lengthAdjust="spacingAndGlyphs" transform="rotate(-43 503.1 740.4)" stroke="#111" stroke-width="0.25">TIF1β</text>
<text x="284.6" y="633.8" font-size="10" font-weight="bold" text-anchor="middle" transform="rotate(-90 284.6 633.8)" stroke="#111" stroke-width="0.3">Input (%)</text>
<text x="323.4" y="561.5" font-size="12" textLength="44.5" lengthAdjust="spacingAndGlyphs" stroke="#111" stroke-width="0.4">βmaj5.9k</text>
<text x="266.2" y="540.7" font-size="16.3" font-weight="bold" stroke="#111" stroke-width="0.8">E</text>
<rect x="471.9" y="554.3" width="6" height="6" fill="#404040" stroke="#161616"/>
<rect x="471.9" y="565.9" width="6" height="6" fill="#c9c9c9" stroke="#161616"/>
<text x="483.3" y="559.3" font-size="11" textLength="20.1" lengthAdjust="spacingAndGlyphs" stroke="#111" stroke-width="0.3">Cre-</text>
<text x="483.3" y="570.6" font-size="11" textLength="22.8" lengthAdjust="spacingAndGlyphs" stroke="#111" stroke-width="0.3">Cre+</text></svg>
</body></html>
